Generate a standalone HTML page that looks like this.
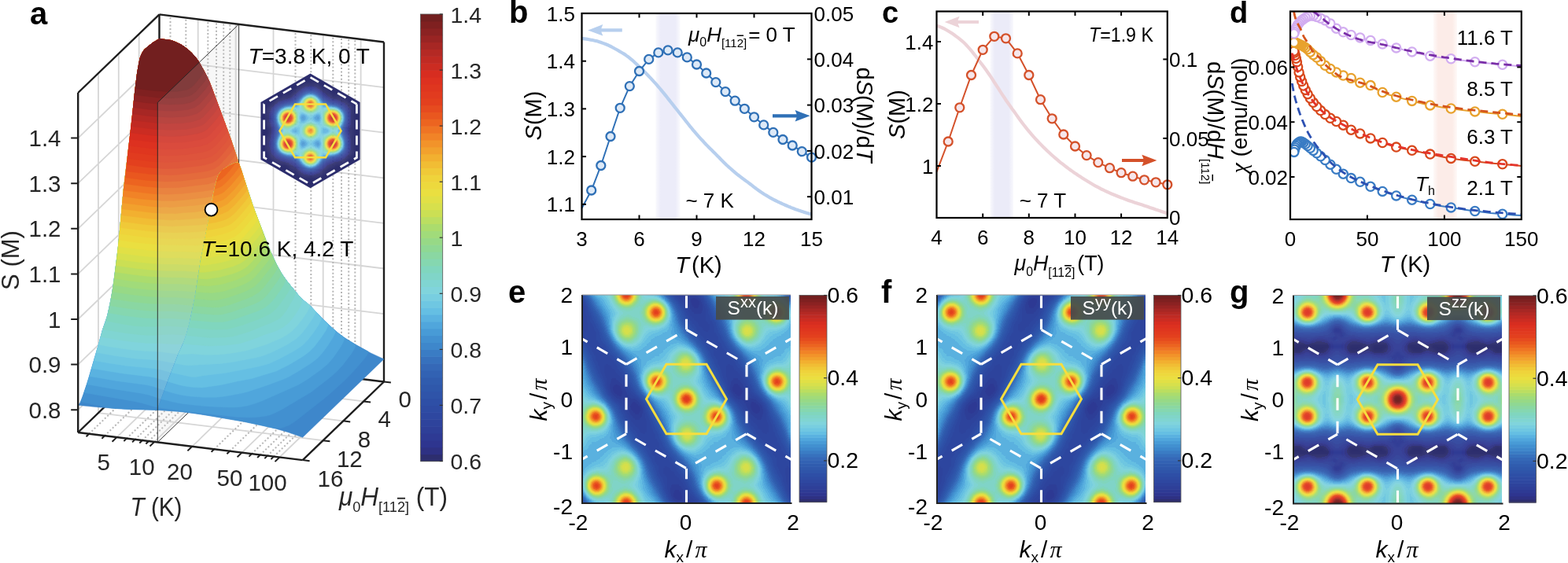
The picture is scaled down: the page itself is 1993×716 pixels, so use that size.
<!DOCTYPE html>
<html><head><meta charset="utf-8"><title>Figure</title>
<style>html,body{margin:0;padding:0;background:#fff;overflow:hidden;}svg{display:block;}</style></head>
<body><svg width="1993" height="716" viewBox="0 0 1993 716" font-family="'Liberation Sans', Arial, Helvetica, sans-serif" fill="#000">
<defs><linearGradient id="gb" x1="0" x2="1" y1="0" y2="0"><stop offset="0" stop-color="#ececf9" stop-opacity="0.3"/><stop offset="0.2" stop-color="#ececf9"/><stop offset="0.8" stop-color="#ececf9"/><stop offset="1" stop-color="#ececf9" stop-opacity="0.3"/></linearGradient><linearGradient id="gc" x1="0" x2="1" y1="0" y2="0"><stop offset="0" stop-color="#ebebf8" stop-opacity="0.3"/><stop offset="0.2" stop-color="#ebebf8"/><stop offset="0.8" stop-color="#ebebf8"/><stop offset="1" stop-color="#ebebf8" stop-opacity="0.3"/></linearGradient><linearGradient id="gd" x1="0" x2="1" y1="0" y2="0"><stop offset="0" stop-color="#fcece8" stop-opacity="0.3"/><stop offset="0.2" stop-color="#fcece8"/><stop offset="0.8" stop-color="#fcece8"/><stop offset="1" stop-color="#fcece8" stop-opacity="0.3"/></linearGradient><clipPath id="clipd"><rect x="1640.0" y="14.5" width="293.79999999999995" height="264.5"/></clipPath><filter id="cmf" color-interpolation-filters="sRGB"><feGaussianBlur stdDeviation="2.6"/><feComponentTransfer><feFuncR type="discrete" tableValues="0.176 0.180 0.180 0.180 0.180 0.180 0.180 0.180 0.180 0.184 0.184 0.188 0.196 0.208 0.216 0.227 0.243 0.259 0.282 0.314 0.353 0.396 0.435 0.471 0.502 0.502 0.502 0.502 0.522 0.541 0.561 0.592 0.631 0.671 0.733 0.796 0.843 0.882 0.918 0.929 0.937 0.941 0.945 0.949 0.949 0.949 0.945 0.937 0.925 0.914 0.902 0.890 0.882 0.875 0.867 0.843 0.796 0.753 0.706 0.655 0.600 0.545 0.498 0.447"/><feFuncG type="discrete" tableValues="0.180 0.192 0.208 0.227 0.247 0.263 0.278 0.294 0.310 0.329 0.345 0.361 0.384 0.408 0.443 0.486 0.529 0.565 0.608 0.651 0.698 0.749 0.780 0.808 0.831 0.835 0.835 0.839 0.843 0.843 0.847 0.851 0.859 0.863 0.871 0.875 0.878 0.878 0.875 0.851 0.827 0.788 0.741 0.690 0.631 0.576 0.514 0.455 0.392 0.341 0.294 0.251 0.231 0.212 0.192 0.176 0.173 0.165 0.161 0.153 0.141 0.133 0.125 0.122"/><feFuncB type="discrete" tableValues="0.431 0.514 0.561 0.580 0.596 0.612 0.627 0.639 0.651 0.663 0.671 0.682 0.702 0.718 0.741 0.769 0.796 0.816 0.839 0.863 0.878 0.890 0.886 0.878 0.863 0.824 0.784 0.745 0.690 0.635 0.576 0.525 0.478 0.427 0.380 0.329 0.298 0.275 0.251 0.239 0.231 0.220 0.204 0.188 0.176 0.165 0.153 0.141 0.125 0.122 0.122 0.118 0.122 0.122 0.125 0.125 0.133 0.137 0.141 0.141 0.137 0.133 0.125 0.122"/></feComponentTransfer></filter><clipPath id="clipe"><rect x="740" y="375" width="265" height="265"/></clipPath><clipPath id="clipf"><rect x="1191" y="375" width="265" height="265"/></clipPath><clipPath id="clipg"><rect x="1644" y="375.5" width="265" height="265"/></clipPath><clipPath id="cliph"><path d="M457.6,130L394.5,93.5L331.4,130L331.4,202.9L394.5,239.3L457.6,202.9Z"/></clipPath></defs>
<rect width="1993" height="716" fill="#fff"/>
<rect x="833.5" y="17" width="31" height="262" fill="url(#gb)"/>
<path d="M739.5,49 741.3,49.2 743.2,49.4 745,49.6 746.8,49.9 748.7,50.2 750.5,50.6 752.4,50.9 754.2,51.3 756,51.7 757.9,52.1 759.7,52.6 761.5,53.2 763.4,53.8 765.2,54.4 767,55.1 768.9,55.8 770.7,56.5 772.6,57.3 774.4,58.1 776.2,59 778.1,60 779.9,61 781.7,62 783.6,63 785.4,64 787.2,65.1 789.1,66.2 790.9,67.3 792.8,68.4 794.6,69.6 796.4,70.9 798.3,72.2 800.1,73.6 801.9,75.1 803.8,76.7 805.6,78.3 807.4,80 809.3,81.7 811.1,83.5 813,85.2 814.8,86.9 816.6,88.7 818.5,90.6 820.3,92.4 822.1,94.3 824,96.2 825.8,98.1 827.7,100.1 829.5,102.1 831.3,104.1 833.2,106.1 835,108.2 836.8,110.3 838.7,112.5 840.5,114.6 842.3,116.9 844.2,119.1 846,121.4 847.9,123.8 849.7,126.1 851.5,128.4 853.4,130.7 855.2,133.1 857,135.4 858.9,137.7 860.7,140 862.5,142.3 864.4,144.6 866.2,146.9 868.1,149.2 869.9,151.6 871.7,153.9 873.6,156.2 875.4,158.5 877.2,160.8 879.1,163 880.9,165.3 882.7,167.4 884.6,169.6 886.4,171.7 888.3,173.8 890.1,175.8 891.9,177.8 893.8,179.8 895.6,181.8 897.4,183.7 899.3,185.6 901.1,187.5 902.9,189.3 904.8,191.1 906.6,192.9 908.5,194.8 910.3,196.6 912.1,198.5 914,200.3 915.8,202.2 917.6,204.1 919.5,205.9 921.3,207.7 923.1,209.5 925,211.2 926.8,212.9 928.7,214.5 930.5,216.1 932.3,217.7 934.2,219.3 936,220.8 937.8,222.3 939.7,223.7 941.5,225.1 943.3,226.5 945.2,227.9 947,229.2 948.9,230.6 950.7,231.9 952.5,233.3 954.4,234.7 956.2,236.1 958,237.6 959.9,239 961.7,240.4 963.6,241.7 965.4,243 967.2,244.3 969.1,245.5 970.9,246.7 972.7,247.8 974.6,248.9 976.4,250 978.2,251.1 980.1,252.1 981.9,253.1 983.8,254.1 985.6,255 987.4,255.9 989.3,256.8 991.1,257.7 992.9,258.5 994.8,259.4 996.6,260.2 998.4,261 1000.3,261.8 1002.1,262.6 1004,263.3 1005.8,264.1 1007.6,264.8 1009.5,265.5 1011.3,266.2 1013.1,266.8 1015,267.5 1016.8,268.1 1018.6,268.7 1020.5,269.3 1022.3,269.9 1024.2,270.4 1026,271 1027.8,271.5 1029.7,272 1031.5,272.5" fill="none" stroke="#b7cfee" stroke-width="4.2"/>
<path d="M739.5,264.8 751.7,242 763.8,210.5 776,173.5 788.2,137.3 800.3,109.6 812.5,90.5 824.7,75.4 836.8,66.9 849,63.9 861.2,66.9 873.3,72.9 885.5,82 897.7,93 909.8,104.6 922,116.6 934.2,128.2 946.3,138.3 958.5,148.8 970.7,158.9 982.8,168.4 995,177.5 1007.2,185 1019.3,192.6 1031.5,200.1" fill="none" stroke="#2f70b6" stroke-width="2.0"/>
<circle cx="751.7" cy="242" r="5.5" fill="#dde9f7" stroke="#2f70b6" stroke-width="2.3"/>
<circle cx="763.8" cy="210.5" r="5.5" fill="#dde9f7" stroke="#2f70b6" stroke-width="2.3"/>
<circle cx="776" cy="173.5" r="5.5" fill="#dde9f7" stroke="#2f70b6" stroke-width="2.3"/>
<circle cx="788.2" cy="137.3" r="5.5" fill="#dde9f7" stroke="#2f70b6" stroke-width="2.3"/>
<circle cx="800.3" cy="109.6" r="5.5" fill="#dde9f7" stroke="#2f70b6" stroke-width="2.3"/>
<circle cx="812.5" cy="90.5" r="5.5" fill="#dde9f7" stroke="#2f70b6" stroke-width="2.3"/>
<circle cx="824.7" cy="75.4" r="5.5" fill="#dde9f7" stroke="#2f70b6" stroke-width="2.3"/>
<circle cx="836.8" cy="66.9" r="5.5" fill="#dde9f7" stroke="#2f70b6" stroke-width="2.3"/>
<circle cx="849" cy="63.9" r="5.5" fill="#dde9f7" stroke="#2f70b6" stroke-width="2.3"/>
<circle cx="861.2" cy="66.9" r="5.5" fill="#dde9f7" stroke="#2f70b6" stroke-width="2.3"/>
<circle cx="873.3" cy="72.9" r="5.5" fill="#dde9f7" stroke="#2f70b6" stroke-width="2.3"/>
<circle cx="885.5" cy="82" r="5.5" fill="#dde9f7" stroke="#2f70b6" stroke-width="2.3"/>
<circle cx="897.7" cy="93" r="5.5" fill="#dde9f7" stroke="#2f70b6" stroke-width="2.3"/>
<circle cx="909.8" cy="104.6" r="5.5" fill="#dde9f7" stroke="#2f70b6" stroke-width="2.3"/>
<circle cx="922" cy="116.6" r="5.5" fill="#dde9f7" stroke="#2f70b6" stroke-width="2.3"/>
<circle cx="934.2" cy="128.2" r="5.5" fill="#dde9f7" stroke="#2f70b6" stroke-width="2.3"/>
<circle cx="946.3" cy="138.3" r="5.5" fill="#dde9f7" stroke="#2f70b6" stroke-width="2.3"/>
<circle cx="958.5" cy="148.8" r="5.5" fill="#dde9f7" stroke="#2f70b6" stroke-width="2.3"/>
<circle cx="970.7" cy="158.9" r="5.5" fill="#dde9f7" stroke="#2f70b6" stroke-width="2.3"/>
<circle cx="982.8" cy="168.4" r="5.5" fill="#dde9f7" stroke="#2f70b6" stroke-width="2.3"/>
<circle cx="995" cy="177.5" r="5.5" fill="#dde9f7" stroke="#2f70b6" stroke-width="2.3"/>
<circle cx="1007.2" cy="185" r="5.5" fill="#dde9f7" stroke="#2f70b6" stroke-width="2.3"/>
<circle cx="1019.3" cy="192.6" r="5.5" fill="#dde9f7" stroke="#2f70b6" stroke-width="2.3"/>
<circle cx="1031.5" cy="200.1" r="5.5" fill="#dde9f7" stroke="#2f70b6" stroke-width="2.3"/>
<rect x="739.5" y="17" width="292" height="262" fill="none" stroke="#000" stroke-width="2.2"/>
<path d="M812.5,279v-5.5M812.5,17v5.5" stroke="#000" stroke-width="1.9800000000000002"/>
<path d="M885.5,279v-5.5M885.5,17v5.5" stroke="#000" stroke-width="1.9800000000000002"/>
<path d="M958.5,279v-5.5M958.5,17v5.5" stroke="#000" stroke-width="1.9800000000000002"/>
<path d="M739.5,259.8h5.5" stroke="#000" stroke-width="1.9800000000000002"/>
<path d="M739.5,199.1h5.5" stroke="#000" stroke-width="1.9800000000000002"/>
<path d="M739.5,138.4h5.5" stroke="#000" stroke-width="1.9800000000000002"/>
<path d="M739.5,77.7h5.5" stroke="#000" stroke-width="1.9800000000000002"/>
<path d="M1031.5,250.2h-5.5" stroke="#000" stroke-width="1.9800000000000002"/>
<path d="M1031.5,191.9h-5.5" stroke="#000" stroke-width="1.9800000000000002"/>
<path d="M1031.5,133.6h-5.5" stroke="#000" stroke-width="1.9800000000000002"/>
<path d="M1031.5,75.3h-5.5" stroke="#000" stroke-width="1.9800000000000002"/>
<text x="739.5" y="312.5" font-size="26" text-anchor="middle">3</text>
<text x="812.5" y="312.5" font-size="26" text-anchor="middle">6</text>
<text x="885.5" y="312.5" font-size="26" text-anchor="middle">9</text>
<text x="958.5" y="312.5" font-size="26" text-anchor="middle">12</text>
<text x="1031.5" y="312.5" font-size="26" text-anchor="middle">15</text>
<text x="731" y="269.4" font-size="26" text-anchor="end">1.1</text>
<text x="731" y="208.7" font-size="26" text-anchor="end">1.2</text>
<text x="731" y="148" font-size="26" text-anchor="end">1.3</text>
<text x="731" y="87.3" font-size="26" text-anchor="end">1.4</text>
<text x="731" y="26.6" font-size="26" text-anchor="end">1.5</text>
<text x="1034.5" y="259.8" font-size="26">0.01</text>
<text x="1034.5" y="201.5" font-size="26">0.02</text>
<text x="1034.5" y="143.2" font-size="26">0.03</text>
<text x="1034.5" y="84.9" font-size="26">0.04</text>
<text x="1034.5" y="26.6" font-size="26">0.05</text>
<path d="M790.8,36.3L764.3,36.3L766.3,31.1L747.3,38.4L766.3,45.6L764.3,40.5L790.8,40.5Z" fill="#b7cfee"/>
<path d="M982,145.2L1012.6,145.2L1010.6,140.1L1029.6,147.3L1010.6,154.6L1012.6,149.4L982,149.4Z" fill="#2f70b6"/>
<text x="888" y="347.4" font-size="29" text-anchor="middle"><tspan font-style="italic">T</tspan><tspan dx="3">(K)</tspan></text>
<text transform="translate(687.5,147) rotate(-90)" font-size="29" text-anchor="middle"><tspan font-style="italic">S</tspan>(M)</text>
<text transform="translate(1089,146) rotate(90)" font-size="29" text-anchor="middle">d<tspan font-style="italic">S</tspan>(M)/d<tspan font-style="italic">T</tspan></text>
<text x="875" y="52.5" font-size="26"><tspan font-style="italic">μ</tspan><tspan font-size="16" dy="6">0</tspan><tspan font-style="italic" dy="-6">H</tspan><tspan font-size="15" dy="7">[11<tspan text-decoration="overline">2</tspan>]</tspan><tspan dy="-7" dx="2">= 0 T</tspan></text>
<text x="871.4" y="264" font-size="26">~ 7 K</text>
<text x="647" y="29" font-size="40" font-weight="bold">b</text>
<rect x="1258.5" y="14.5" width="29.5" height="262.5" fill="url(#gc)"/>
<path d="M1190.5,32.7 1193,33.5 1195.4,34.4 1197.9,35.5 1200.4,36.7 1202.8,38 1205.3,39.5 1207.8,41 1210.2,42.6 1212.7,44.3 1215.1,46.1 1217.6,47.9 1220.1,49.8 1222.5,51.8 1225,54 1227.5,56.5 1229.9,59.1 1232.4,61.9 1234.9,64.8 1237.3,67.9 1239.8,71 1242.3,74.2 1244.7,77.5 1247.2,80.7 1249.7,84 1252.1,87.3 1254.6,90.7 1257,94.2 1259.5,97.9 1262,101.6 1264.4,105.5 1266.9,109.3 1269.4,113.2 1271.8,117 1274.3,120.8 1276.8,124.5 1279.2,128.2 1281.7,131.7 1284.2,135.2 1286.6,138.7 1289.1,142.1 1291.6,145.6 1294,149 1296.5,152.4 1298.9,155.7 1301.4,159 1303.9,162.1 1306.3,165.2 1308.8,168.2 1311.3,171.1 1313.7,173.9 1316.2,176.6 1318.7,179.2 1321.1,181.8 1323.6,184.4 1326.1,186.9 1328.5,189.3 1331,191.7 1333.5,194 1335.9,196.3 1338.4,198.5 1340.8,200.6 1343.3,202.7 1345.8,204.8 1348.2,206.8 1350.7,208.7 1353.2,210.7 1355.6,212.5 1358.1,214.4 1360.6,216.2 1363,217.9 1365.5,219.7 1368,221.3 1370.4,223 1372.9,224.6 1375.4,226.2 1377.8,227.8 1380.3,229.3 1382.7,230.8 1385.2,232.3 1387.7,233.8 1390.1,235.2 1392.6,236.6 1395.1,237.9 1397.5,239.2 1400,240.5 1402.5,241.7 1404.9,242.8 1407.4,244 1409.9,245.1 1412.3,246.2 1414.8,247.2 1417.3,248.2 1419.7,249.2 1422.2,250.2 1424.6,251.2 1427.1,252.1 1429.6,253.1 1432,254 1434.5,254.9 1437,255.8 1439.4,256.6 1441.9,257.4 1444.4,258.2 1446.8,259 1449.3,259.8 1451.8,260.6 1454.2,261.4 1456.7,262.2 1459.2,263 1461.6,263.9 1464.1,264.7 1466.5,265.5 1469,266.4 1471.5,267.2 1473.9,268.1 1476.4,268.9 1478.9,269.8 1481.3,270.6 1483.8,271.5" fill="none" stroke="#ecd3d8" stroke-width="4.2"/>
<path d="M1190.5,218.7 1205.2,180 1219.8,136.8 1234.5,95.5 1249.2,63.3 1263.8,46.3 1278.5,48.8 1293.2,67.9 1307.8,95.5 1322.5,126.7 1337.2,150.8 1351.8,171 1366.5,186 1381.1,197.6 1395.8,206.6 1410.5,213.7 1425.1,219.7 1439.8,224.2 1454.5,228.8 1469.1,231.8 1483.8,234.8" fill="none" stroke="#d4512a" stroke-width="2.0"/>
<circle cx="1205.2" cy="180" r="5.5" fill="#f6e6ea" stroke="#d4512a" stroke-width="2.3"/>
<circle cx="1219.8" cy="136.8" r="5.5" fill="#f6e6ea" stroke="#d4512a" stroke-width="2.3"/>
<circle cx="1234.5" cy="95.5" r="5.5" fill="#f6e6ea" stroke="#d4512a" stroke-width="2.3"/>
<circle cx="1249.2" cy="63.3" r="5.5" fill="#f6e6ea" stroke="#d4512a" stroke-width="2.3"/>
<circle cx="1263.8" cy="46.3" r="5.5" fill="#f6e6ea" stroke="#d4512a" stroke-width="2.3"/>
<circle cx="1278.5" cy="48.8" r="5.5" fill="#f6e6ea" stroke="#d4512a" stroke-width="2.3"/>
<circle cx="1293.2" cy="67.9" r="5.5" fill="#f6e6ea" stroke="#d4512a" stroke-width="2.3"/>
<circle cx="1307.8" cy="95.5" r="5.5" fill="#f6e6ea" stroke="#d4512a" stroke-width="2.3"/>
<circle cx="1322.5" cy="126.7" r="5.5" fill="#f6e6ea" stroke="#d4512a" stroke-width="2.3"/>
<circle cx="1337.2" cy="150.8" r="5.5" fill="#f6e6ea" stroke="#d4512a" stroke-width="2.3"/>
<circle cx="1351.8" cy="171" r="5.5" fill="#f6e6ea" stroke="#d4512a" stroke-width="2.3"/>
<circle cx="1366.5" cy="186" r="5.5" fill="#f6e6ea" stroke="#d4512a" stroke-width="2.3"/>
<circle cx="1381.1" cy="197.6" r="5.5" fill="#f6e6ea" stroke="#d4512a" stroke-width="2.3"/>
<circle cx="1395.8" cy="206.6" r="5.5" fill="#f6e6ea" stroke="#d4512a" stroke-width="2.3"/>
<circle cx="1410.5" cy="213.7" r="5.5" fill="#f6e6ea" stroke="#d4512a" stroke-width="2.3"/>
<circle cx="1425.1" cy="219.7" r="5.5" fill="#f6e6ea" stroke="#d4512a" stroke-width="2.3"/>
<circle cx="1439.8" cy="224.2" r="5.5" fill="#f6e6ea" stroke="#d4512a" stroke-width="2.3"/>
<circle cx="1454.5" cy="228.8" r="5.5" fill="#f6e6ea" stroke="#d4512a" stroke-width="2.3"/>
<circle cx="1469.1" cy="231.8" r="5.5" fill="#f6e6ea" stroke="#d4512a" stroke-width="2.3"/>
<circle cx="1483.8" cy="234.8" r="5.5" fill="#f6e6ea" stroke="#d4512a" stroke-width="2.3"/>
<rect x="1190.5" y="14.5" width="293.3" height="262.5" fill="none" stroke="#000" stroke-width="2.2"/>
<path d="M1249.2,277v-5.5M1249.2,14.5v5.5" stroke="#000" stroke-width="1.9800000000000002"/>
<path d="M1307.8,277v-5.5M1307.8,14.5v5.5" stroke="#000" stroke-width="1.9800000000000002"/>
<path d="M1366.5,277v-5.5M1366.5,14.5v5.5" stroke="#000" stroke-width="1.9800000000000002"/>
<path d="M1425.1,277v-5.5M1425.1,14.5v5.5" stroke="#000" stroke-width="1.9800000000000002"/>
<path d="M1190.5,211h5.5" stroke="#000" stroke-width="1.9800000000000002"/>
<path d="M1190.5,132h5.5" stroke="#000" stroke-width="1.9800000000000002"/>
<path d="M1190.5,53h5.5" stroke="#000" stroke-width="1.9800000000000002"/>
<path d="M1483.8,175.9h-5.5" stroke="#000" stroke-width="1.9800000000000002"/>
<path d="M1483.8,75.4h-5.5" stroke="#000" stroke-width="1.9800000000000002"/>
<text x="1190.5" y="311" font-size="26" text-anchor="middle">4</text>
<text x="1249.2" y="311" font-size="26" text-anchor="middle">6</text>
<text x="1307.8" y="311" font-size="26" text-anchor="middle">8</text>
<text x="1366.5" y="311" font-size="26" text-anchor="middle">10</text>
<text x="1425.1" y="311" font-size="26" text-anchor="middle">12</text>
<text x="1483.8" y="311" font-size="26" text-anchor="middle">14</text>
<text x="1186.5" y="220.6" font-size="26" text-anchor="end">1</text>
<text x="1186.5" y="141.6" font-size="26" text-anchor="end">1.2</text>
<text x="1186.5" y="62.6" font-size="26" text-anchor="end">1.4</text>
<text x="1486" y="286" font-size="26">0</text>
<text x="1486" y="185.5" font-size="26">0.05</text>
<text x="1486" y="85" font-size="26">0.1</text>
<path d="M1244,25.9L1217.6,25.9L1219.6,20.8L1200.6,28L1219.6,35.2L1217.6,30.1L1244,30.1Z" fill="#ecd3d8"/>
<path d="M1426,201.9L1453.4,201.9L1451.4,196.8L1470.4,204L1451.4,211.2L1453.4,206.1L1426,206.1Z" fill="#d4512a"/>
<text x="1289.5" y="344" font-size="27" textLength="114" lengthAdjust="spacingAndGlyphs"><tspan font-style="italic">μ</tspan><tspan font-size="16" dy="7">0</tspan><tspan font-style="italic" dy="-7">H</tspan><tspan font-size="16" dy="8">[11<tspan text-decoration="overline">2</tspan>]</tspan><tspan dy="-8" dx="3">(T)</tspan></text>
<text transform="translate(1150,145.5) rotate(-90)" font-size="29" text-anchor="middle"><tspan font-style="italic">S</tspan>(M)</text>
<text transform="translate(1535,78) rotate(90)" font-size="29">d<tspan font-style="italic">S</tspan>(M)/d<tspan font-style="italic">H</tspan><tspan font-size="15" dy="8">[11<tspan text-decoration="overline">2</tspan>]</tspan></text>
<text x="1384" y="52.6" font-size="26" textLength="82" lengthAdjust="spacingAndGlyphs"><tspan font-style="italic">T</tspan>=1.9 K</text>
<text x="1295.7" y="264" font-size="26">~ 7 T</text>
<text x="1121" y="29" font-size="38" font-weight="bold">c</text>
<rect x="1822" y="14.5" width="30" height="264.5" fill="url(#gd)"/>
<g clip-path="url(#clipd)">
<path d="M1644.2,196.7 1644.3,195.8 1644.5,194.9 1644.7,194.1 1644.8,193.3 1645,192.5 1645.2,191.7 1645.4,190.9 1645.6,190.2 1645.8,189.5 1646,188.8 1646.2,188.1 1646.4,187.4 1646.7,186.8 1646.9,186.2 1647.1,185.7 1647.4,185.1 1647.7,184.6 1648,184.1 1648.2,183.7 1648.5,183.3 1648.9,183 1649.2,182.6 1649.5,182.2 1649.9,181.9 1650.2,181.6 1650.6,181.2 1651,180.9 1651.4,180.7 1651.8,180.4 1652.2,180.2 1652.7,180.1 1653.1,180 1653.6,180 1654.1,180.1 1654.6,180.2 1655.1,180.5 1655.7,180.8 1656.3,181.2 1656.8,181.6 1657.5,182 1658.1,182.5 1658.8,182.9 1659.4,183.4 1660.1,183.9 1660.9,184.4 1661.6,185.1 1662.4,185.7 1663.2,186.4 1664.1,187.2 1665,187.9 1665.9,188.7 1666.8,189.4 1667.8,190.2 1668.8,191 1669.8,191.9 1670.9,192.7 1672.1,193.6 1673.2,194.5 1674.4,195.5 1675.7,196.5 1677,197.5 1678.3,198.6 1679.7,199.8 1681.2,201 1682.7,202.2 1684.2,203.5 1685.8,204.8 1687.5,206.2 1689.2,207.7 1691,209.3 1692.9,210.9 1694.8,212.5 1696.8,214 1698.8,215.5 1701,217 1703.2,218.5 1705.5,220.1 1707.9,221.5 1710.4,223 1712.9,224.4 1715.6,225.8 1718.3,227.1 1721.2,228.3 1724.1,229.4 1727.2,230.6 1730.3,232 1733.6,233.5 1737,235 1740.6,236.6 1744.2,238.2 1748,239.8 1752,241.4 1756,242.9 1760.2,244.4 1764.6,245.9 1769.2,247.3 1773.9,248.7 1778.7,250.1 1783.8,251.4 1789,252.7 1794.4,254.1 1800,255.5 1805.9,256.9 1811.9,258.3 1818.2,259.6 1824.6,260.8 1831.3,261.9 1838.3,263 1845.5,264.1 1853,265.3 1860.7,266.5 1868.8,267.7 1877.1,268.8 1885.7,269.8 1894.7,270.9 1903.9,271.8 1913.5,272.6 1923.5,273.4 1933.8,274" fill="none" stroke="#3a7cc4" stroke-width="2.0"/>
<path d="M1644.2,64.3 1644.3,64.4 1644.5,64.5 1644.7,64.7 1644.8,65.1 1645,65.5 1645.2,66 1645.4,66.6 1645.6,67.3 1645.8,68 1646,68.8 1646.2,69.7 1646.4,70.6 1646.7,71.6 1646.9,72.6 1647.1,73.7 1647.4,74.8 1647.7,75.9 1648,77.1 1648.2,78.3 1648.5,79.6 1648.9,81.1 1649.2,82.7 1649.5,84.4 1649.9,86.2 1650.2,88 1650.6,89.8 1651,91.5 1651.4,93.2 1651.8,94.7 1652.2,96.3 1652.7,97.7 1653.1,99.2 1653.6,100.7 1654.1,102.1 1654.6,103.5 1655.1,104.9 1655.7,106.4 1656.3,107.8 1656.8,109.2 1657.5,110.6 1658.1,112 1658.8,113.4 1659.4,114.7 1660.1,116.1 1660.9,117.5 1661.6,118.8 1662.4,120.2 1663.2,121.6 1664.1,122.9 1665,124.3 1665.9,125.6 1666.8,127 1667.8,128.3 1668.8,129.7 1669.8,131 1670.9,132.4 1672.1,133.7 1673.2,135.1 1674.4,136.4 1675.7,137.7 1677,139 1678.3,140.3 1679.7,141.6 1681.2,142.9 1682.7,144.2 1684.2,145.5 1685.8,146.7 1687.5,148 1689.2,149.2 1691,150.3 1692.9,151.4 1694.8,152.5 1696.8,153.6 1698.8,154.6 1701,155.8 1703.2,156.9 1705.5,158.2 1707.9,159.5 1710.4,161.1 1712.9,162.8 1715.6,164.4 1718.3,165.7 1721.2,166.9 1724.1,168 1727.2,169.2 1730.3,170.6 1733.6,172.1 1737,173.7 1740.6,175.3 1744.2,176.8 1748,178.2 1752,179.6 1756,181.1 1760.2,182.5 1764.6,184.1 1769.2,185.6 1773.9,186.9 1778.7,188.1 1783.8,189.1 1789,190.1 1794.4,191.2 1800,192.4 1805.9,193.6 1811.9,194.9 1818.2,196.2 1824.6,197.6 1831.3,199 1838.3,200.4 1845.5,201.6 1853,202.7 1860.7,203.7 1868.8,204.6 1877.1,205.5 1885.7,206.5 1894.7,207.4 1903.9,208.3 1913.5,209.2 1923.5,210.1 1933.8,211" fill="none" stroke="#d8481c" stroke-width="2.0"/>
<path d="M1644.2,54.1 1644.3,54.1 1644.5,54.1 1644.7,54 1644.8,54 1645,54 1645.2,54 1645.4,54 1645.6,54.1 1645.8,54.1 1646,54.1 1646.2,54.2 1646.4,54.3 1646.7,54.3 1646.9,54.4 1647.1,54.5 1647.4,54.6 1647.7,54.7 1648,54.8 1648.2,55 1648.5,55.1 1648.9,55.2 1649.2,55.4 1649.5,55.5 1649.9,55.7 1650.2,55.8 1650.6,56 1651,56.2 1651.4,56.4 1651.8,56.5 1652.2,56.7 1652.7,56.9 1653.1,57.1 1653.6,57.3 1654.1,57.5 1654.6,57.7 1655.1,58 1655.7,58.2 1656.3,58.6 1656.8,58.9 1657.5,59.3 1658.1,59.7 1658.8,60.2 1659.4,60.6 1660.1,61.1 1660.9,61.6 1661.6,62.2 1662.4,63 1663.2,63.8 1664.1,64.7 1665,65.7 1665.9,66.6 1666.8,67.6 1667.8,68.5 1668.8,69.4 1669.8,70.2 1670.9,71 1672.1,71.8 1673.2,72.7 1674.4,73.7 1675.7,74.8 1677,76.1 1678.3,77.5 1679.7,79 1681.2,80.5 1682.7,81.9 1684.2,83.2 1685.8,84.3 1687.5,85.4 1689.2,86.5 1691,87.5 1692.9,88.7 1694.8,89.8 1696.8,90.9 1698.8,92 1701,93.1 1703.2,94.2 1705.5,95.3 1707.9,96.3 1710.4,97.1 1712.9,97.9 1715.6,98.9 1718.3,100 1721.2,101.6 1724.1,103.3 1727.2,104.7 1730.3,105.6 1733.6,106.2 1737,106.8 1740.6,107.9 1744.2,109.8 1748,112.3 1752,114.8 1756,117 1760.2,118.7 1764.6,120.2 1769.2,121.6 1773.9,123 1778.7,124.3 1783.8,125.6 1789,126.9 1794.4,128.3 1800,129.7 1805.9,131.2 1811.9,132.7 1818.2,134 1824.6,135.1 1831.3,136.2 1838.3,137.2 1845.5,138.2 1853,139.2 1860.7,140.2 1868.8,141.2 1877.1,142.1 1885.7,143 1894.7,143.9 1903.9,144.7 1913.5,145.7 1923.5,146.8 1933.8,148" fill="none" stroke="#e8a22e" stroke-width="2.0"/>
<path d="M1644.2,45.3 1644.3,44.7 1644.5,44 1644.7,43.4 1644.8,42.7 1645,42.1 1645.2,41.5 1645.4,40.8 1645.6,40.2 1645.8,39.6 1646,39 1646.2,38.4 1646.4,37.8 1646.7,37.2 1646.9,36.7 1647.1,36.1 1647.4,35.5 1647.7,34.9 1648,34.4 1648.2,33.8 1648.5,33.3 1648.9,32.8 1649.2,32.2 1649.5,31.7 1649.9,31.2 1650.2,30.7 1650.6,30.2 1651,29.7 1651.4,29.2 1651.8,28.7 1652.2,28.2 1652.7,27.7 1653.1,27.2 1653.6,26.7 1654.1,26.3 1654.6,25.8 1655.1,25.4 1655.7,24.9 1656.3,24.5 1656.8,24.1 1657.5,23.7 1658.1,23.3 1658.8,22.9 1659.4,22.4 1660.1,22 1660.9,21.5 1661.6,21.1 1662.4,20.7 1663.2,20.4 1664.1,20.2 1665,20 1665.9,19.8 1666.8,19.8 1667.8,19.9 1668.8,20.1 1669.8,20.3 1670.9,20.7 1672.1,21.1 1673.2,21.5 1674.4,21.9 1675.7,22.4 1677,22.8 1678.3,23.2 1679.7,23.8 1681.2,24.4 1682.7,25 1684.2,25.8 1685.8,26.7 1687.5,27.7 1689.2,28.7 1691,29.9 1692.9,31.5 1694.8,33.2 1696.8,34.9 1698.8,36.4 1701,37.7 1703.2,38.9 1705.5,40 1707.9,41.1 1710.4,42.1 1712.9,43 1715.6,43.9 1718.3,44.8 1721.2,45.7 1724.1,46.6 1727.2,47.4 1730.3,48.3 1733.6,49.2 1737,50 1740.6,51 1744.2,52 1748,53.2 1752,54.4 1756,55.7 1760.2,56.9 1764.6,58.1 1769.2,59.4 1773.9,60.6 1778.7,61.9 1783.8,63.2 1789,64.5 1794.4,65.8 1800,67.2 1805.9,68.6 1811.9,70.1 1818.2,71.3 1824.6,72.3 1831.3,73.2 1838.3,74.1 1845.5,75 1853,76 1860.7,77 1868.8,78 1877.1,78.9 1885.7,79.9 1894.7,80.8 1903.9,81.8 1913.5,82.7 1923.5,83.6 1933.8,84.5" fill="none" stroke="#d2adf0" stroke-width="2.0"/>
<circle cx="1909.7" cy="272.3" r="5.6" fill="#fff" stroke="#3a7cc4" stroke-width="2.3"/>
<circle cx="1874.7" cy="268.5" r="5.6" fill="#fff" stroke="#3a7cc4" stroke-width="2.3"/>
<circle cx="1844.3" cy="263.9" r="5.6" fill="#fff" stroke="#3a7cc4" stroke-width="2.3"/>
<circle cx="1817.8" cy="259.5" r="5.6" fill="#fff" stroke="#3a7cc4" stroke-width="2.3"/>
<circle cx="1794.7" cy="254.2" r="5.6" fill="#fff" stroke="#3a7cc4" stroke-width="2.3"/>
<circle cx="1774.7" cy="248.9" r="5.6" fill="#fff" stroke="#3a7cc4" stroke-width="2.3"/>
<circle cx="1757.2" cy="243.4" r="5.6" fill="#fff" stroke="#3a7cc4" stroke-width="2.3"/>
<circle cx="1742" cy="237.3" r="5.6" fill="#fff" stroke="#3a7cc4" stroke-width="2.3"/>
<circle cx="1728.8" cy="231.3" r="5.6" fill="#fff" stroke="#3a7cc4" stroke-width="2.3"/>
<circle cx="1717.3" cy="226.6" r="5.6" fill="#fff" stroke="#3a7cc4" stroke-width="2.3"/>
<circle cx="1707.3" cy="221.2" r="5.6" fill="#fff" stroke="#3a7cc4" stroke-width="2.3"/>
<circle cx="1698.5" cy="215.3" r="5.6" fill="#fff" stroke="#3a7cc4" stroke-width="2.3"/>
<circle cx="1690.9" cy="209.2" r="5.6" fill="#fff" stroke="#3a7cc4" stroke-width="2.3"/>
<circle cx="1684.3" cy="203.6" r="5.6" fill="#fff" stroke="#3a7cc4" stroke-width="2.3"/>
<circle cx="1678.6" cy="198.8" r="5.6" fill="#fff" stroke="#3a7cc4" stroke-width="2.3"/>
<circle cx="1673.6" cy="194.8" r="5.6" fill="#fff" stroke="#3a7cc4" stroke-width="2.3"/>
<circle cx="1669.2" cy="191.4" r="5.6" fill="#fff" stroke="#3a7cc4" stroke-width="2.3"/>
<circle cx="1665.4" cy="188.3" r="5.6" fill="#fff" stroke="#3a7cc4" stroke-width="2.3"/>
<circle cx="1662.1" cy="185.5" r="5.6" fill="#fff" stroke="#3a7cc4" stroke-width="2.3"/>
<circle cx="1659.3" cy="183.3" r="5.6" fill="#fff" stroke="#3a7cc4" stroke-width="2.3"/>
<circle cx="1656.8" cy="181.5" r="5.6" fill="#fff" stroke="#3a7cc4" stroke-width="2.3"/>
<circle cx="1654.6" cy="180.2" r="5.6" fill="#fff" stroke="#3a7cc4" stroke-width="2.3"/>
<circle cx="1652.7" cy="180.1" r="5.6" fill="#fff" stroke="#3a7cc4" stroke-width="2.3"/>
<circle cx="1651.1" cy="180.9" r="5.6" fill="#fff" stroke="#3a7cc4" stroke-width="2.3"/>
<circle cx="1649.6" cy="182.1" r="5.6" fill="#fff" stroke="#3a7cc4" stroke-width="2.3"/>
<circle cx="1648.4" cy="183.5" r="5.6" fill="#fff" stroke="#3a7cc4" stroke-width="2.3"/>
<circle cx="1647.3" cy="185.4" r="5.6" fill="#fff" stroke="#3a7cc4" stroke-width="2.3"/>
<circle cx="1646.3" cy="187.7" r="5.6" fill="#fff" stroke="#3a7cc4" stroke-width="2.3"/>
<circle cx="1645.5" cy="190.3" r="5.6" fill="#fff" stroke="#3a7cc4" stroke-width="2.3"/>
<circle cx="1644.8" cy="193.4" r="5.6" fill="#fff" stroke="#3a7cc4" stroke-width="2.3"/>
<circle cx="1909.7" cy="208.8" r="5.6" fill="#fff" stroke="#d8481c" stroke-width="2.3"/>
<circle cx="1874.7" cy="205.3" r="5.6" fill="#fff" stroke="#d8481c" stroke-width="2.3"/>
<circle cx="1844.3" cy="201.4" r="5.6" fill="#fff" stroke="#d8481c" stroke-width="2.3"/>
<circle cx="1817.8" cy="196.1" r="5.6" fill="#fff" stroke="#d8481c" stroke-width="2.3"/>
<circle cx="1794.7" cy="191.3" r="5.6" fill="#fff" stroke="#d8481c" stroke-width="2.3"/>
<circle cx="1774.7" cy="187.1" r="5.6" fill="#fff" stroke="#d8481c" stroke-width="2.3"/>
<circle cx="1757.2" cy="181.5" r="5.6" fill="#fff" stroke="#d8481c" stroke-width="2.3"/>
<circle cx="1742" cy="175.9" r="5.6" fill="#fff" stroke="#d8481c" stroke-width="2.3"/>
<circle cx="1728.8" cy="169.9" r="5.6" fill="#fff" stroke="#d8481c" stroke-width="2.3"/>
<circle cx="1717.3" cy="165.2" r="5.6" fill="#fff" stroke="#d8481c" stroke-width="2.3"/>
<circle cx="1707.3" cy="159.2" r="5.6" fill="#fff" stroke="#d8481c" stroke-width="2.3"/>
<circle cx="1698.5" cy="154.5" r="5.6" fill="#fff" stroke="#d8481c" stroke-width="2.3"/>
<circle cx="1690.9" cy="150.3" r="5.6" fill="#fff" stroke="#d8481c" stroke-width="2.3"/>
<circle cx="1684.3" cy="145.6" r="5.6" fill="#fff" stroke="#d8481c" stroke-width="2.3"/>
<circle cx="1678.6" cy="140.6" r="5.6" fill="#fff" stroke="#d8481c" stroke-width="2.3"/>
<circle cx="1673.6" cy="135.5" r="5.6" fill="#fff" stroke="#d8481c" stroke-width="2.3"/>
<circle cx="1669.2" cy="130.3" r="5.6" fill="#fff" stroke="#d8481c" stroke-width="2.3"/>
<circle cx="1665.4" cy="125" r="5.6" fill="#fff" stroke="#d8481c" stroke-width="2.3"/>
<circle cx="1662.1" cy="119.7" r="5.6" fill="#fff" stroke="#d8481c" stroke-width="2.3"/>
<circle cx="1659.3" cy="114.4" r="5.6" fill="#fff" stroke="#d8481c" stroke-width="2.3"/>
<circle cx="1656.8" cy="109" r="5.6" fill="#fff" stroke="#d8481c" stroke-width="2.3"/>
<circle cx="1654.6" cy="103.5" r="5.6" fill="#fff" stroke="#d8481c" stroke-width="2.3"/>
<circle cx="1652.7" cy="97.9" r="5.6" fill="#fff" stroke="#d8481c" stroke-width="2.3"/>
<circle cx="1651.1" cy="91.9" r="5.6" fill="#fff" stroke="#d8481c" stroke-width="2.3"/>
<circle cx="1649.6" cy="85" r="5.6" fill="#fff" stroke="#d8481c" stroke-width="2.3"/>
<circle cx="1648.4" cy="78.8" r="5.6" fill="#fff" stroke="#d8481c" stroke-width="2.3"/>
<circle cx="1647.3" cy="74.3" r="5.6" fill="#fff" stroke="#d8481c" stroke-width="2.3"/>
<circle cx="1646.3" cy="70.3" r="5.6" fill="#fff" stroke="#d8481c" stroke-width="2.3"/>
<circle cx="1645.5" cy="67.1" r="5.6" fill="#fff" stroke="#d8481c" stroke-width="2.3"/>
<circle cx="1644.8" cy="65" r="5.6" fill="#fff" stroke="#d8481c" stroke-width="2.3"/>
<circle cx="1909.7" cy="145.3" r="5.6" fill="#fff" stroke="#e8a22e" stroke-width="2.3"/>
<circle cx="1874.7" cy="141.9" r="5.6" fill="#fff" stroke="#e8a22e" stroke-width="2.3"/>
<circle cx="1844.3" cy="138" r="5.6" fill="#fff" stroke="#e8a22e" stroke-width="2.3"/>
<circle cx="1817.8" cy="133.9" r="5.6" fill="#fff" stroke="#e8a22e" stroke-width="2.3"/>
<circle cx="1794.7" cy="128.4" r="5.6" fill="#fff" stroke="#e8a22e" stroke-width="2.3"/>
<circle cx="1774.7" cy="123.2" r="5.6" fill="#fff" stroke="#e8a22e" stroke-width="2.3"/>
<circle cx="1757.2" cy="117.5" r="5.6" fill="#fff" stroke="#e8a22e" stroke-width="2.3"/>
<circle cx="1742" cy="108.6" r="5.6" fill="#fff" stroke="#e8a22e" stroke-width="2.3"/>
<circle cx="1728.8" cy="105.2" r="5.6" fill="#fff" stroke="#e8a22e" stroke-width="2.3"/>
<circle cx="1717.3" cy="99.5" r="5.6" fill="#fff" stroke="#e8a22e" stroke-width="2.3"/>
<circle cx="1707.3" cy="96" r="5.6" fill="#fff" stroke="#e8a22e" stroke-width="2.3"/>
<circle cx="1698.5" cy="91.9" r="5.6" fill="#fff" stroke="#e8a22e" stroke-width="2.3"/>
<circle cx="1690.9" cy="87.5" r="5.6" fill="#fff" stroke="#e8a22e" stroke-width="2.3"/>
<circle cx="1684.3" cy="83.3" r="5.6" fill="#fff" stroke="#e8a22e" stroke-width="2.3"/>
<circle cx="1678.6" cy="77.8" r="5.6" fill="#fff" stroke="#e8a22e" stroke-width="2.3"/>
<circle cx="1673.6" cy="73" r="5.6" fill="#fff" stroke="#e8a22e" stroke-width="2.3"/>
<circle cx="1669.2" cy="69.7" r="5.6" fill="#fff" stroke="#e8a22e" stroke-width="2.3"/>
<circle cx="1665.4" cy="66.2" r="5.6" fill="#fff" stroke="#e8a22e" stroke-width="2.3"/>
<circle cx="1662.1" cy="62.7" r="5.6" fill="#fff" stroke="#e8a22e" stroke-width="2.3"/>
<circle cx="1659.3" cy="60.5" r="5.6" fill="#fff" stroke="#e8a22e" stroke-width="2.3"/>
<circle cx="1656.8" cy="58.9" r="5.6" fill="#fff" stroke="#e8a22e" stroke-width="2.3"/>
<circle cx="1654.6" cy="57.7" r="5.6" fill="#fff" stroke="#e8a22e" stroke-width="2.3"/>
<circle cx="1652.7" cy="56.9" r="5.6" fill="#fff" stroke="#e8a22e" stroke-width="2.3"/>
<circle cx="1651.1" cy="56.2" r="5.6" fill="#fff" stroke="#e8a22e" stroke-width="2.3"/>
<circle cx="1649.6" cy="55.6" r="5.6" fill="#fff" stroke="#e8a22e" stroke-width="2.3"/>
<circle cx="1648.4" cy="55" r="5.6" fill="#fff" stroke="#e8a22e" stroke-width="2.3"/>
<circle cx="1647.3" cy="54.6" r="5.6" fill="#fff" stroke="#e8a22e" stroke-width="2.3"/>
<circle cx="1646.3" cy="54.2" r="5.6" fill="#fff" stroke="#e8a22e" stroke-width="2.3"/>
<circle cx="1645.5" cy="54" r="5.6" fill="#fff" stroke="#e8a22e" stroke-width="2.3"/>
<circle cx="1644.8" cy="54" r="5.6" fill="#fff" stroke="#e8a22e" stroke-width="2.3"/>
<circle cx="1909.7" cy="82.3" r="5.6" fill="#fff" stroke="#d2adf0" stroke-width="2.3"/>
<circle cx="1874.7" cy="78.7" r="5.6" fill="#fff" stroke="#d2adf0" stroke-width="2.3"/>
<circle cx="1844.3" cy="74.8" r="5.6" fill="#fff" stroke="#d2adf0" stroke-width="2.3"/>
<circle cx="1817.8" cy="71.2" r="5.6" fill="#fff" stroke="#d2adf0" stroke-width="2.3"/>
<circle cx="1794.7" cy="65.9" r="5.6" fill="#fff" stroke="#d2adf0" stroke-width="2.3"/>
<circle cx="1774.7" cy="60.9" r="5.6" fill="#fff" stroke="#d2adf0" stroke-width="2.3"/>
<circle cx="1757.2" cy="56" r="5.6" fill="#fff" stroke="#d2adf0" stroke-width="2.3"/>
<circle cx="1742" cy="51.4" r="5.6" fill="#fff" stroke="#d2adf0" stroke-width="2.3"/>
<circle cx="1728.8" cy="47.9" r="5.6" fill="#fff" stroke="#d2adf0" stroke-width="2.3"/>
<circle cx="1717.3" cy="44.5" r="5.6" fill="#fff" stroke="#d2adf0" stroke-width="2.3"/>
<circle cx="1707.3" cy="40.8" r="5.6" fill="#fff" stroke="#d2adf0" stroke-width="2.3"/>
<circle cx="1698.5" cy="36.2" r="5.6" fill="#fff" stroke="#d2adf0" stroke-width="2.3"/>
<circle cx="1690.9" cy="29.9" r="5.6" fill="#fff" stroke="#d2adf0" stroke-width="2.3"/>
<circle cx="1684.3" cy="25.9" r="5.6" fill="#fff" stroke="#d2adf0" stroke-width="2.3"/>
<circle cx="1678.6" cy="23.3" r="5.6" fill="#fff" stroke="#d2adf0" stroke-width="2.3"/>
<circle cx="1673.6" cy="21.6" r="5.6" fill="#fff" stroke="#d2adf0" stroke-width="2.3"/>
<circle cx="1669.2" cy="20.2" r="5.6" fill="#fff" stroke="#d2adf0" stroke-width="2.3"/>
<circle cx="1665.4" cy="19.9" r="5.6" fill="#fff" stroke="#d2adf0" stroke-width="2.3"/>
<circle cx="1662.1" cy="20.9" r="5.6" fill="#fff" stroke="#d2adf0" stroke-width="2.3"/>
<circle cx="1659.3" cy="22.5" r="5.6" fill="#fff" stroke="#d2adf0" stroke-width="2.3"/>
<circle cx="1656.8" cy="24.2" r="5.6" fill="#fff" stroke="#d2adf0" stroke-width="2.3"/>
<circle cx="1654.6" cy="25.8" r="5.6" fill="#fff" stroke="#d2adf0" stroke-width="2.3"/>
<circle cx="1652.7" cy="27.6" r="5.6" fill="#fff" stroke="#d2adf0" stroke-width="2.3"/>
<circle cx="1651.1" cy="29.6" r="5.6" fill="#fff" stroke="#d2adf0" stroke-width="2.3"/>
<circle cx="1649.6" cy="31.5" r="5.6" fill="#fff" stroke="#d2adf0" stroke-width="2.3"/>
<circle cx="1648.4" cy="33.6" r="5.6" fill="#fff" stroke="#d2adf0" stroke-width="2.3"/>
<circle cx="1647.3" cy="35.8" r="5.6" fill="#fff" stroke="#d2adf0" stroke-width="2.3"/>
<circle cx="1646.3" cy="38" r="5.6" fill="#fff" stroke="#d2adf0" stroke-width="2.3"/>
<circle cx="1645.5" cy="40.4" r="5.6" fill="#fff" stroke="#d2adf0" stroke-width="2.3"/>
<circle cx="1644.8" cy="42.8" r="5.6" fill="#fff" stroke="#d2adf0" stroke-width="2.3"/>
<path d="M1642.5,-1.2 1642.6,-0.3 1642.7,0.5 1642.8,1.3 1642.9,2.1 1643,3 1643,3.8 1643.1,4.6 1643.2,5.4 1643.3,6.2 1643.4,7 1643.5,7.8 1643.6,8.6 1643.8,9.4 1643.9,10.2 1644,11 1644.1,11.8 1644.2,12.6 1644.4,13.4 1644.5,14.1 1644.6,14.9 1644.8,15.6 1644.9,16.4 1645.1,17.1 1645.2,17.9 1645.4,18.6 1645.5,19.3 1645.7,20 1645.9,20.7 1646.1,21.4 1646.2,22.1 1646.4,22.8 1646.6,23.4 1646.8,24.1 1647,24.7 1647.2,25.4 1647.5,26 1647.7,26.6 1647.9,27.1 1648.2,27.7 1648.4,28.2 1648.7,28.7 1648.9,29.2 1649.2,29.7 1649.5,30.2 1649.8,30.7 1650.1,31.2 1650.4,31.7 1650.7,32.3 1651,32.9 1651.3,33.5 1651.7,34.1 1652,34.7 1652.4,35.4 1652.8,36.2 1653.2,37 1653.6,38 1654,39.1 1654.4,40.2 1654.8,41.4 1655.3,42.6 1655.7,43.7 1656.2,44.7 1656.7,45.6 1657.2,46.6 1657.7,47.5 1658.3,48.4 1658.8,49.3 1659.4,50.2 1660,51.1 1660.6,52 1661.2,53 1661.9,54 1662.5,55 1663.2,56.1 1663.9,57.2 1664.6,58.4 1665.4,59.9 1666.2,61.4 1666.9,62.8 1667.8,64.1 1668.6,65.3 1669.5,66.3 1670.4,67.2 1671.3,68.1 1672.2,68.9 1673.2,69.8 1674.2,70.6 1675.3,71.5 1676.3,72.5 1677.4,73.6 1678.6,74.8 1679.7,76.3 1680.9,78 1682.2,79.6 1683.5,81.2 1684.8,82.5 1686.1,83.8 1687.5,85.1 1689,86.3 1690.4,87.5 1692,88.7 1693.6,90 1695.2,91.3 1696.8,92.8 1698.6,94.2 1700.3,95.4 1702.2,96.5 1704.1,97.4 1706,98.2 1708,99 1710.1,99.7 1712.2,100.4 1714.4,101.1 1716.6,101.7 1719,102.4 1721.4,103 1723.8,103.7 1726.4,104.4 1729,105.1 1731.7,105.9 1734.5,106.8 1737.3,107.7 1740.3,108.8 1743.3,110.1 1746.4,111.5 1749.7,113 1753,114.5 1756.4,115.9 1759.9,117.1 1763.6,118.4 1767.3,119.6 1771.2,120.8 1775.2,122 1779.3,123.1 1783.5,124.3 1787.8,125.4 1792.3,126.5 1796.9,127.6 1801.7,128.7 1806.6,129.7 1811.6,130.8 1816.8,131.8 1822.2,132.9 1827.7,133.9 1833.4,134.8 1839.3,135.8 1845.3,136.7 1851.5,137.5 1858,138.4 1864.6,139.2 1871.4,139.9 1878.4,140.7 1885.6,141.4 1893,142.2 1900.7,143 1908.6,143.7 1916.8,144.5 1925.2,145.2 1933.8,146" fill="none" stroke="#d4541c" stroke-width="2.8" stroke-dasharray="10 6"/>
<path d="M1642.4,67.6 1642.4,67.9 1642.5,68.2 1642.6,68.5 1642.7,68.8 1642.7,69.1 1642.8,69.4 1642.9,69.8 1643,70.1 1643.1,70.5 1643.2,70.9 1643.3,71.3 1643.4,71.6 1643.5,72.1 1643.6,72.5 1643.7,72.9 1643.8,73.3 1643.9,73.8 1644.1,74.2 1644.2,74.6 1644.3,75.1 1644.4,75.6 1644.6,76 1644.7,76.5 1644.9,77 1645,77.5 1645.2,77.9 1645.3,78.4 1645.5,78.9 1645.7,79.4 1645.8,79.9 1646,80.4 1646.2,81 1646.4,81.6 1646.6,82.2 1646.8,82.8 1647,83.5 1647.2,84.2 1647.5,84.9 1647.7,85.7 1647.9,86.4 1648.2,87.2 1648.4,88 1648.7,88.8 1648.9,89.6 1649.2,90.4 1649.5,91.2 1649.8,92 1650.1,92.8 1650.4,93.6 1650.7,94.5 1651.1,95.3 1651.4,96.2 1651.8,97.1 1652.1,97.9 1652.5,98.8 1652.9,99.8 1653.3,100.7 1653.7,101.6 1654.1,102.6 1654.5,103.6 1655,104.5 1655.4,105.5 1655.9,106.5 1656.4,107.6 1656.9,108.6 1657.4,109.7 1658,110.8 1658.5,112 1659.1,113.1 1659.7,114.3 1660.3,115.4 1660.9,116.6 1661.6,117.8 1662.2,118.9 1662.9,120.1 1663.6,121.2 1664.4,122.3 1665.1,123.5 1665.9,124.6 1666.7,125.8 1667.5,126.9 1668.4,128.1 1669.2,129.2 1670.1,130.4 1671.1,131.5 1672,132.6 1673,133.8 1674,134.9 1675.1,136.1 1676.1,137.2 1677.3,138.3 1678.4,139.4 1679.6,140.5 1680.8,141.6 1682.1,142.7 1683.4,143.8 1684.7,144.8 1686.1,145.9 1687.5,147 1689,148 1690.5,149 1692,150.1 1693.6,151.1 1695.3,152 1697,153 1698.8,154 1700.6,155 1702.4,156 1704.4,157.1 1706.3,158.2 1708.4,159.3 1710.5,160.4 1712.7,161.5 1714.9,162.7 1717.2,163.9 1719.6,165.1 1722.1,166.3 1724.6,167.5 1727.2,168.7 1729.9,170 1732.7,171.2 1735.5,172.5 1738.5,173.8 1741.5,175.1 1744.6,176.4 1747.9,177.7 1751.2,178.9 1754.6,180.1 1758.1,181.2 1761.8,182.4 1765.5,183.4 1769.4,184.5 1773.4,185.5 1777.5,186.6 1781.8,187.6 1786.1,188.6 1790.6,189.6 1795.3,190.6 1800.1,191.6 1805,192.6 1810.1,193.6 1815.3,194.5 1820.7,195.5 1826.3,196.5 1832.1,197.4 1838,198.4 1844.1,199.4 1850.4,200.4 1856.9,201.4 1863.5,202.5 1870.4,203.5 1877.5,204.6 1884.9,205.6 1892.4,206.6 1900.2,207.5 1908.2,208.4 1916.5,209.1 1925,209.8 1933.8,210.5" fill="none" stroke="#e4332a" stroke-width="2.8" stroke-dasharray="10 6"/>
<path d="M1669,14.2 1669.4,14.5 1669.8,14.8 1670.3,15.2 1670.7,15.5 1671.2,15.9 1671.6,16.2 1672.1,16.6 1672.6,16.9 1673,17.3 1673.5,17.7 1674,18.1 1674.5,18.5 1675,18.9 1675.5,19.3 1676.1,19.7 1676.6,20.1 1677.1,20.5 1677.7,20.9 1678.2,21.4 1678.8,21.8 1679.4,22.3 1679.9,22.8 1680.5,23.2 1681.1,23.7 1681.7,24.2 1682.3,24.7 1683,25.3 1683.6,25.8 1684.2,26.3 1684.9,26.8 1685.5,27.4 1686.2,27.9 1686.9,28.5 1687.6,29 1688.3,29.5 1689,30.1 1689.7,30.6 1690.4,31.1 1691.2,31.7 1691.9,32.2 1692.7,32.7 1693.4,33.2 1694.2,33.7 1695,34.2 1695.8,34.8 1696.7,35.3 1697.5,35.8 1698.3,36.4 1699.2,36.9 1700.1,37.4 1700.9,37.9 1701.8,38.5 1702.7,39 1703.7,39.5 1704.6,40 1705.5,40.5 1706.5,41 1707.5,41.6 1708.5,42.1 1709.5,42.5 1710.5,43 1711.5,43.5 1712.6,44 1713.6,44.5 1714.7,45 1715.8,45.4 1716.9,45.9 1718.1,46.4 1719.2,46.9 1720.4,47.3 1721.5,47.8 1722.7,48.3 1723.9,48.7 1725.2,49.2 1726.4,49.6 1727.7,50 1729,50.4 1730.3,50.8 1731.6,51.2 1733,51.6 1734.3,52 1735.7,52.3 1737.1,52.7 1738.5,53 1740,53.3 1741.5,53.6 1742.9,53.9 1744.4,54.1 1746,54.4 1747.5,54.7 1749.1,55 1750.7,55.3 1752.3,55.6 1754,55.9 1755.7,56.3 1757.4,56.6 1759.1,57 1760.8,57.4 1762.6,57.8 1764.4,58.3 1766.2,58.7 1768.1,59.2 1770,59.6 1771.9,60.1 1773.8,60.6 1775.8,61 1777.8,61.5 1779.8,62 1781.8,62.5 1783.9,63 1786,63.5 1788.2,64 1790.3,64.5 1792.5,64.9 1794.8,65.4 1797,65.8 1799.4,66.3 1801.7,66.8 1804.1,67.2 1806.5,67.7 1808.9,68.2 1811.4,68.6 1813.9,69.1 1816.5,69.6 1819,70 1821.7,70.5 1824.3,71 1827,71.4 1829.8,71.9 1832.6,72.3 1835.4,72.8 1838.3,73.2 1841.2,73.7 1844.1,74.1 1847.1,74.5 1850.2,75 1853.2,75.4 1856.4,75.8 1859.5,76.3 1862.8,76.7 1866,77.1 1869.4,77.5 1872.7,78 1876.1,78.4 1879.6,78.8 1883.1,79.2 1886.7,79.6 1890.3,80 1894,80.4 1897.7,80.7 1901.5,81.1 1905.3,81.4 1909.2,81.8 1913.2,82.1 1917.2,82.4 1921.2,82.7 1925.4,83 1929.6,83.2 1933.8,83.5" fill="none" stroke="#7a2fa8" stroke-width="2.8" stroke-dasharray="10 6"/>
<path d="M1642.4,106 1642.4,106.4 1642.5,106.8 1642.6,107.3 1642.7,107.8 1642.7,108.2 1642.8,108.7 1642.9,109.2 1643,109.7 1643.1,110.3 1643.2,110.8 1643.3,111.3 1643.4,111.9 1643.5,112.5 1643.6,113.1 1643.7,113.7 1643.8,114.3 1643.9,114.9 1644.1,115.5 1644.2,116.1 1644.3,116.8 1644.4,117.4 1644.6,118.1 1644.7,118.8 1644.9,119.5 1645,120.1 1645.2,120.8 1645.3,121.5 1645.5,122.3 1645.7,123 1645.8,123.7 1646,124.4 1646.2,125.2 1646.4,125.9 1646.6,126.7 1646.8,127.4 1647,128.2 1647.2,128.9 1647.5,129.7 1647.7,130.5 1647.9,131.3 1648.2,132.1 1648.4,132.9 1648.7,133.7 1648.9,134.6 1649.2,135.5 1649.5,136.4 1649.8,137.3 1650.1,138.3 1650.4,139.2 1650.7,140.2 1651.1,141.2 1651.4,142.2 1651.8,143.2 1652.1,144.2 1652.5,145.3 1652.9,146.3 1653.3,147.4 1653.7,148.4 1654.1,149.5 1654.5,150.6 1655,151.7 1655.4,152.9 1655.9,154 1656.4,155.2 1656.9,156.4 1657.4,157.6 1658,158.9 1658.5,160.1 1659.1,161.4 1659.7,162.7 1660.3,164 1660.9,165.3 1661.6,166.6 1662.2,167.9 1662.9,169.3 1663.6,170.6 1664.4,171.9 1665.1,173.3 1665.9,174.6 1666.7,175.9 1667.5,177.2 1668.4,178.5 1669.2,179.8 1670.1,181.1 1671.1,182.4 1672,183.7 1673,185 1674,186.4 1675.1,187.7 1676.1,189 1677.3,190.4 1678.4,191.8 1679.6,193.2 1680.8,194.7 1682.1,196.2 1683.4,197.7 1684.7,199.3 1686.1,200.9 1687.5,202.5 1689,204 1690.5,205.6 1692,207.2 1693.6,208.7 1695.3,210.2 1697,211.7 1698.8,213.1 1700.6,214.5 1702.4,215.9 1704.4,217.3 1706.3,218.6 1708.4,220 1710.5,221.3 1712.7,222.6 1714.9,223.9 1717.2,225.2 1719.6,226.5 1722.1,227.7 1724.6,229 1727.2,230.2 1729.9,231.4 1732.7,232.6 1735.5,233.9 1738.5,235.1 1741.5,236.4 1744.6,237.6 1747.9,238.9 1751.2,240.2 1754.6,241.5 1758.1,242.7 1761.8,244 1765.5,245.3 1769.4,246.5 1773.4,247.8 1777.5,249 1781.8,250.2 1786.1,251.4 1790.6,252.6 1795.3,253.8 1800.1,254.9 1805,256.1 1810.1,257.2 1815.3,258.2 1820.7,259.3 1826.3,260.3 1832.1,261.4 1838,262.4 1844.1,263.4 1850.4,264.3 1856.9,265.2 1863.5,266.1 1870.4,267 1877.5,267.8 1884.9,268.5 1892.4,269.3 1900.2,270 1908.2,270.7 1916.5,271.3 1925,271.9 1933.8,272.5" fill="none" stroke="#2c50b2" stroke-width="2.8" stroke-dasharray="10 6"/>
</g>
<rect x="1640" y="14.5" width="293.8" height="264.5" fill="none" stroke="#000" stroke-width="2.2"/>
<path d="M1737.9,279v-5.5M1737.9,14.5v5.5" stroke="#000" stroke-width="1.9800000000000002"/>
<path d="M1835.9,279v-5.5M1835.9,14.5v5.5" stroke="#000" stroke-width="1.9800000000000002"/>
<path d="M1640,225h5.5" stroke="#000" stroke-width="1.9800000000000002"/>
<path d="M1933.8,225h-5.5" stroke="#000" stroke-width="1.9800000000000002"/>
<path d="M1640,155.2h5.5" stroke="#000" stroke-width="1.9800000000000002"/>
<path d="M1933.8,155.2h-5.5" stroke="#000" stroke-width="1.9800000000000002"/>
<path d="M1640,85.4h5.5" stroke="#000" stroke-width="1.9800000000000002"/>
<path d="M1933.8,85.4h-5.5" stroke="#000" stroke-width="1.9800000000000002"/>
<text x="1640" y="312.5" font-size="26" text-anchor="middle">0</text>
<text x="1737.9" y="312.5" font-size="26" text-anchor="middle">50</text>
<text x="1835.9" y="312.5" font-size="26" text-anchor="middle">100</text>
<text x="1933.8" y="312.5" font-size="26" text-anchor="middle">150</text>
<text x="1637" y="234.6" font-size="26" text-anchor="end">0.02</text>
<text x="1637" y="164.8" font-size="26" text-anchor="end">0.04</text>
<text x="1637" y="95" font-size="26" text-anchor="end">0.06</text>
<text x="1923" y="56.8" font-size="26" text-anchor="end">11.6 T</text>
<text x="1923" y="121.5" font-size="26" text-anchor="end">8.5 T</text>
<text x="1923" y="183.3" font-size="26" text-anchor="end">6.3 T</text>
<text x="1923" y="247.5" font-size="26" text-anchor="end">2.1 T</text>
<text x="1799" y="243" font-size="26"><tspan font-style="italic">T</tspan><tspan font-size="16" dy="5">h</tspan></text>
<text x="1786" y="346" font-size="29" text-anchor="middle"><tspan font-style="italic">T</tspan> (K)</text>
<text transform="translate(1585,147) rotate(-90)" font-size="28" text-anchor="middle"><tspan font-style="italic" font-family="Liberation Serif, serif" font-size="30">χ</tspan> (emu/mol)</text>
<text x="1563" y="29" font-size="38" font-weight="bold">d</text>
<g clip-path="url(#clipe)"><g filter="url(#cmf)"><path fill="#0d0d0d" d="M855 365h10v5h-10zM1010 365h5v5h-5zM730 380h5v5h-5zM880 380h10v5h-10zM730 385h5v5h-5zM880 385h10v5h-10zM730 390h5v5h-5zM780 490h10v5h-10zM930 490h10v5h-10zM780 495h10v5h-10zM930 495h15v5h-15zM785 500h5v5h-5zM935 500h5v5h-5zM805 510h5v5h-5zM955 510h5v5h-5zM800 515h15v5h-15zM955 515h10v5h-10zM805 520h10v5h-10zM955 520h10v5h-10zM1010 620h5v5h-5zM855 625h10v5h-10zM1010 625h5v5h-5zM855 630h10v5h-10zM1010 630h5v5h-5zM730 645h5v5h-5zM880 645h10v5h-10z"/><path fill="#101010" d="M865 365h5v5h-5zM860 370h10v5h-10zM875 375h10v5h-10zM875 380h5v5h-5zM735 385h5v5h-5zM875 385h5v5h-5zM735 390h5v5h-5zM880 390h10v5h-10zM780 485h5v5h-5zM930 485h10v5h-10zM775 490h5v5h-5zM940 490h5v5h-5zM775 495h5v5h-5zM790 495h5v5h-5zM780 500h5v5h-5zM790 500h5v5h-5zM940 500h10v5h-10zM795 510h10v5h-10zM950 510h5v5h-5zM960 510h5v5h-5zM950 515h5v5h-5zM965 515h5v5h-5zM800 520h5v5h-5zM965 520h5v5h-5zM805 525h10v5h-10zM960 525h5v5h-5zM855 620h10v5h-10zM1005 620h5v5h-5zM865 625h5v5h-5zM1005 625h5v5h-5zM865 630h5v5h-5zM860 635h10v5h-10zM875 640h10v5h-10zM875 645h5v5h-5z"/><path fill="#131313" d="M870 365h5v5h-5zM1005 365h5v5h-5zM855 370h5v5h-5zM870 370h10v5h-10zM1010 370h5v5h-5zM730 375h5v5h-5zM865 375h10v5h-10zM885 375h5v5h-5zM735 380h5v5h-5zM870 380h5v5h-5zM890 385h5v5h-5zM875 390h5v5h-5zM890 390h5v5h-5zM730 395h10v5h-10zM880 395h15v5h-15zM775 480h10v5h-10zM930 480h10v5h-10zM775 485h5v5h-5zM785 485h5v5h-5zM940 485h5v5h-5zM790 490h5v5h-5zM925 490h5v5h-5zM945 495h5v5h-5zM795 500h5v5h-5zM930 500h5v5h-5zM785 505h25v5h-25zM935 505h25v5h-25zM810 510h5v5h-5zM945 510h5v5h-5zM795 515h5v5h-5zM815 520h5v5h-5zM950 520h5v5h-5zM800 525h5v5h-5zM955 525h5v5h-5zM965 525h5v5h-5zM805 530h10v5h-10zM960 530h10v5h-10zM850 615h15v5h-15zM1005 615h10v5h-10zM850 620h5v5h-5zM865 620h5v5h-5zM850 625h5v5h-5zM870 630h5v5h-5zM1005 630h5v5h-5zM855 635h5v5h-5zM870 635h10v5h-10zM1010 635h5v5h-5zM730 640h5v5h-5zM865 640h10v5h-10zM885 640h5v5h-5zM735 645h5v5h-5zM870 645h5v5h-5z"/><path fill="#151515" d="M850 365h5v5h-5zM875 365h5v5h-5zM880 370h5v5h-5zM860 375h5v5h-5zM865 380h5v5h-5zM890 380h5v5h-5zM870 385h5v5h-5zM740 390h5v5h-5zM740 395h5v5h-5zM875 395h5v5h-5zM730 400h15v5h-15zM880 400h15v5h-15zM730 405h15v5h-15zM885 405h10v5h-10zM735 410h10v5h-10zM890 410h10v5h-10zM740 415h5v5h-5zM895 415h5v5h-5zM770 465h5v5h-5zM925 465h5v5h-5zM770 470h10v5h-10zM925 470h10v5h-10zM770 475h15v5h-15zM925 475h15v5h-15zM770 480h5v5h-5zM785 480h5v5h-5zM925 480h5v5h-5zM940 480h5v5h-5zM770 485h5v5h-5zM790 485h5v5h-5zM925 485h5v5h-5zM770 490h5v5h-5zM945 490h5v5h-5zM795 495h5v5h-5zM925 495h5v5h-5zM775 500h5v5h-5zM800 500h5v5h-5zM950 500h5v5h-5zM780 505h5v5h-5zM960 505h5v5h-5zM790 510h5v5h-5zM940 510h5v5h-5zM965 510h5v5h-5zM815 515h5v5h-5zM945 515h5v5h-5zM795 520h5v5h-5zM970 520h5v5h-5zM815 525h5v5h-5zM950 525h5v5h-5zM970 525h5v5h-5zM800 530h5v5h-5zM815 530h5v5h-5zM955 530h5v5h-5zM970 530h5v5h-5zM805 535h15v5h-15zM960 535h15v5h-15zM810 540h10v5h-10zM965 540h10v5h-10zM815 545h5v5h-5zM970 545h5v5h-5zM845 595h5v5h-5zM1000 595h5v5h-5zM845 600h10v5h-10zM1000 600h10v5h-10zM850 605h10v5h-10zM1000 605h15v5h-15zM850 610h15v5h-15zM1000 610h15v5h-15zM865 615h5v5h-5zM1000 615h5v5h-5zM1000 620h5v5h-5zM870 625h5v5h-5zM850 630h5v5h-5zM875 630h5v5h-5zM880 635h5v5h-5zM860 640h5v5h-5zM865 645h5v5h-5zM890 645h5v5h-5z"/><path fill="#181818" d="M730 370h5v5h-5zM1005 370h5v5h-5zM735 375h5v5h-5zM1010 375h5v5h-5zM740 385h5v5h-5zM870 390h5v5h-5zM895 390h5v5h-5zM895 395h5v5h-5zM745 400h5v5h-5zM875 400h5v5h-5zM895 400h5v5h-5zM745 405h5v5h-5zM880 405h5v5h-5zM895 405h5v5h-5zM730 410h5v5h-5zM745 410h5v5h-5zM885 410h5v5h-5zM900 410h5v5h-5zM735 415h5v5h-5zM745 415h10v5h-10zM885 415h10v5h-10zM900 415h5v5h-5zM740 420h15v5h-15zM890 420h15v5h-15zM740 425h15v5h-15zM895 425h15v5h-15zM745 430h10v5h-10zM900 430h10v5h-10zM750 435h10v5h-10zM905 435h5v5h-5zM755 440h5v5h-5zM910 440h5v5h-5zM755 445h10v5h-10zM910 445h10v5h-10zM760 450h10v5h-10zM910 450h15v5h-15zM760 455h15v5h-15zM915 455h15v5h-15zM760 460h20v5h-20zM915 460h20v5h-20zM765 465h5v5h-5zM775 465h10v5h-10zM915 465h10v5h-10zM930 465h5v5h-5zM765 470h5v5h-5zM780 470h5v5h-5zM920 470h5v5h-5zM935 470h5v5h-5zM765 475h5v5h-5zM785 475h5v5h-5zM920 475h5v5h-5zM940 475h5v5h-5zM790 480h5v5h-5zM920 480h5v5h-5zM945 485h5v5h-5zM795 490h5v5h-5zM950 495h5v5h-5zM955 500h5v5h-5zM810 505h5v5h-5zM930 505h5v5h-5zM785 510h5v5h-5zM790 515h5v5h-5zM945 520h5v5h-5zM795 525h5v5h-5zM820 530h5v5h-5zM950 530h5v5h-5zM800 535h5v5h-5zM820 535h5v5h-5zM955 535h5v5h-5zM975 535h5v5h-5zM805 540h5v5h-5zM820 540h5v5h-5zM960 540h5v5h-5zM975 540h5v5h-5zM810 545h5v5h-5zM820 545h10v5h-10zM960 545h10v5h-10zM975 545h5v5h-5zM810 550h20v5h-20zM965 550h20v5h-20zM815 555h15v5h-15zM970 555h15v5h-15zM820 560h15v5h-15zM975 560h10v5h-10zM825 565h10v5h-10zM980 565h10v5h-10zM830 570h5v5h-5zM985 570h5v5h-5zM835 575h5v5h-5zM985 575h10v5h-10zM835 580h10v5h-10zM990 580h10v5h-10zM835 585h15v5h-15zM990 585h15v5h-15zM840 590h15v5h-15zM990 590h15v5h-15zM840 595h5v5h-5zM850 595h10v5h-10zM990 595h10v5h-10zM1005 595h5v5h-5zM840 600h5v5h-5zM855 600h5v5h-5zM995 600h5v5h-5zM1010 600h5v5h-5zM845 605h5v5h-5zM860 605h5v5h-5zM995 605h5v5h-5zM845 610h5v5h-5zM865 610h5v5h-5zM995 610h5v5h-5zM845 615h5v5h-5zM845 620h5v5h-5zM870 620h5v5h-5zM1000 625h5v5h-5zM730 635h5v5h-5zM1005 635h5v5h-5zM735 640h5v5h-5zM1010 640h5v5h-5z"/><path fill="#1b1b1b" d="M880 365h5v5h-5zM1000 365h5v5h-5zM850 370h5v5h-5zM885 370h5v5h-5zM855 375h5v5h-5zM890 375h5v5h-5zM740 380h5v5h-5zM860 380h5v5h-5zM865 385h5v5h-5zM895 385h5v5h-5zM745 395h5v5h-5zM870 395h5v5h-5zM900 400h5v5h-5zM875 405h5v5h-5zM900 405h5v5h-5zM750 410h5v5h-5zM880 410h5v5h-5zM905 410h5v5h-5zM730 415h5v5h-5zM905 415h5v5h-5zM735 420h5v5h-5zM755 420h5v5h-5zM885 420h5v5h-5zM905 420h5v5h-5zM755 425h5v5h-5zM890 425h5v5h-5zM910 425h5v5h-5zM740 430h5v5h-5zM755 430h5v5h-5zM895 430h5v5h-5zM910 430h5v5h-5zM745 435h5v5h-5zM760 435h5v5h-5zM900 435h5v5h-5zM910 435h10v5h-10zM750 440h5v5h-5zM760 440h10v5h-10zM900 440h10v5h-10zM915 440h5v5h-5zM750 445h5v5h-5zM765 445h5v5h-5zM905 445h5v5h-5zM920 445h5v5h-5zM755 450h5v5h-5zM770 450h5v5h-5zM905 450h5v5h-5zM925 450h5v5h-5zM755 455h5v5h-5zM775 455h5v5h-5zM910 455h5v5h-5zM930 455h5v5h-5zM780 460h5v5h-5zM910 460h5v5h-5zM760 465h5v5h-5zM935 465h5v5h-5zM760 470h5v5h-5zM785 470h5v5h-5zM915 470h5v5h-5zM940 470h5v5h-5zM790 475h5v5h-5zM915 475h5v5h-5zM765 480h5v5h-5zM945 480h5v5h-5zM795 485h5v5h-5zM920 485h5v5h-5zM950 490h5v5h-5zM770 495h5v5h-5zM800 495h5v5h-5zM805 500h5v5h-5zM925 500h5v5h-5zM815 510h5v5h-5zM935 510h5v5h-5zM940 515h5v5h-5zM970 515h5v5h-5zM790 520h5v5h-5zM820 525h5v5h-5zM945 525h5v5h-5zM795 530h5v5h-5zM975 530h5v5h-5zM825 535h5v5h-5zM950 535h5v5h-5zM800 540h5v5h-5zM825 540h5v5h-5zM955 540h5v5h-5zM980 540h5v5h-5zM805 545h5v5h-5zM980 545h5v5h-5zM830 550h5v5h-5zM960 550h5v5h-5zM810 555h5v5h-5zM830 555h5v5h-5zM965 555h5v5h-5zM985 555h5v5h-5zM815 560h5v5h-5zM835 560h5v5h-5zM970 560h5v5h-5zM985 560h5v5h-5zM820 565h5v5h-5zM835 565h5v5h-5zM975 565h5v5h-5zM990 565h5v5h-5zM825 570h5v5h-5zM835 570h10v5h-10zM975 570h10v5h-10zM990 570h5v5h-5zM825 575h10v5h-10zM840 575h5v5h-5zM980 575h5v5h-5zM995 575h5v5h-5zM830 580h5v5h-5zM845 580h5v5h-5zM985 580h5v5h-5zM1000 580h5v5h-5zM830 585h5v5h-5zM850 585h5v5h-5zM985 585h5v5h-5zM835 590h5v5h-5zM855 590h5v5h-5zM985 590h5v5h-5zM1005 590h5v5h-5zM835 595h5v5h-5zM1010 595h5v5h-5zM835 600h5v5h-5zM860 600h5v5h-5zM990 600h5v5h-5zM840 605h5v5h-5zM865 605h5v5h-5zM840 610h5v5h-5zM870 615h5v5h-5zM995 615h5v5h-5zM845 625h5v5h-5zM875 625h5v5h-5zM880 630h5v5h-5zM1000 630h5v5h-5zM850 635h5v5h-5zM885 635h5v5h-5zM855 640h5v5h-5zM890 640h5v5h-5zM740 645h5v5h-5zM860 645h5v5h-5z"/><path fill="#1e1e1e" d="M745 390h5v5h-5zM865 390h5v5h-5zM900 395h5v5h-5zM870 400h5v5h-5zM750 405h5v5h-5zM905 405h5v5h-5zM875 410h5v5h-5zM755 415h5v5h-5zM880 415h5v5h-5zM730 420h5v5h-5zM910 420h5v5h-5zM735 425h5v5h-5zM760 425h5v5h-5zM760 430h5v5h-5zM890 430h5v5h-5zM915 430h5v5h-5zM765 435h5v5h-5zM895 435h5v5h-5zM745 440h5v5h-5zM920 440h5v5h-5zM770 445h5v5h-5zM900 445h5v5h-5zM925 445h5v5h-5zM750 450h5v5h-5zM775 450h5v5h-5zM780 455h5v5h-5zM905 455h5v5h-5zM755 460h5v5h-5zM935 460h5v5h-5zM755 465h5v5h-5zM785 465h5v5h-5zM910 465h5v5h-5zM940 465h5v5h-5zM790 470h5v5h-5zM760 475h5v5h-5zM945 475h5v5h-5zM795 480h5v5h-5zM915 480h5v5h-5zM765 485h5v5h-5zM950 485h5v5h-5zM800 490h5v5h-5zM920 490h5v5h-5zM955 495h5v5h-5zM960 500h5v5h-5zM775 505h5v5h-5zM965 505h5v5h-5zM780 510h5v5h-5zM785 515h5v5h-5zM820 520h5v5h-5zM940 520h5v5h-5zM790 525h5v5h-5zM975 525h5v5h-5zM825 530h5v5h-5zM945 530h5v5h-5zM795 535h5v5h-5zM980 535h5v5h-5zM950 540h5v5h-5zM800 545h5v5h-5zM830 545h5v5h-5zM955 545h5v5h-5zM985 545h5v5h-5zM805 550h5v5h-5zM985 550h5v5h-5zM835 555h5v5h-5zM960 555h5v5h-5zM965 560h5v5h-5zM990 560h5v5h-5zM815 565h5v5h-5zM840 565h5v5h-5zM970 565h5v5h-5zM820 570h5v5h-5zM995 570h5v5h-5zM845 575h5v5h-5zM975 575h5v5h-5zM825 580h5v5h-5zM850 580h5v5h-5zM980 580h5v5h-5zM980 585h5v5h-5zM1005 585h5v5h-5zM830 590h5v5h-5zM1010 590h5v5h-5zM860 595h5v5h-5zM985 595h5v5h-5zM865 600h5v5h-5zM835 605h5v5h-5zM990 605h5v5h-5zM870 610h5v5h-5zM840 615h5v5h-5zM875 620h5v5h-5zM995 620h5v5h-5z"/><path fill="#202020" d="M730 365h5v5h-5zM845 365h5v5h-5zM735 370h5v5h-5zM1005 375h5v5h-5zM895 380h5v5h-5zM1010 380h5v5h-5zM860 385h5v5h-5zM900 390h5v5h-5zM750 400h5v5h-5zM870 405h5v5h-5zM755 410h5v5h-5zM910 415h5v5h-5zM760 420h5v5h-5zM880 420h5v5h-5zM730 425h5v5h-5zM885 425h5v5h-5zM915 425h5v5h-5zM735 430h5v5h-5zM740 435h5v5h-5zM920 435h5v5h-5zM770 440h5v5h-5zM895 440h5v5h-5zM745 445h5v5h-5zM900 450h5v5h-5zM930 450h5v5h-5zM750 455h5v5h-5zM935 455h5v5h-5zM785 460h5v5h-5zM905 460h5v5h-5zM910 470h5v5h-5zM945 470h5v5h-5zM950 480h5v5h-5zM765 490h5v5h-5zM955 490h5v5h-5zM805 495h5v5h-5zM920 495h5v5h-5zM770 500h5v5h-5zM970 510h5v5h-5zM820 515h5v5h-5zM935 515h5v5h-5zM785 520h5v5h-5zM975 520h5v5h-5zM790 530h5v5h-5zM795 540h5v5h-5zM830 540h5v5h-5zM835 550h5v5h-5zM955 550h5v5h-5zM805 555h5v5h-5zM990 555h5v5h-5zM810 560h5v5h-5zM840 560h5v5h-5zM995 565h5v5h-5zM845 570h5v5h-5zM970 570h5v5h-5zM820 575h5v5h-5zM1000 575h5v5h-5zM1005 580h5v5h-5zM825 585h5v5h-5zM855 585h5v5h-5zM1010 585h5v5h-5zM860 590h5v5h-5zM980 590h5v5h-5zM830 595h5v5h-5zM985 600h5v5h-5zM870 605h5v5h-5zM990 610h5v5h-5zM840 620h5v5h-5zM880 625h5v5h-5zM730 630h5v5h-5zM845 630h5v5h-5zM735 635h5v5h-5zM1005 640h5v5h-5zM895 645h5v5h-5zM1010 645h5v5h-5z"/><path fill="#232323" d="M885 365h5v5h-5zM1000 370h5v5h-5zM740 375h5v5h-5zM855 380h5v5h-5zM745 385h5v5h-5zM750 395h5v5h-5zM865 395h5v5h-5zM905 400h5v5h-5zM755 405h5v5h-5zM910 410h5v5h-5zM760 415h5v5h-5zM875 415h5v5h-5zM765 430h5v5h-5zM885 430h5v5h-5zM890 435h5v5h-5zM740 440h5v5h-5zM925 440h5v5h-5zM775 445h5v5h-5zM780 450h5v5h-5zM750 460h5v5h-5zM940 460h5v5h-5zM790 465h5v5h-5zM905 465h5v5h-5zM755 470h5v5h-5zM795 475h5v5h-5zM910 475h5v5h-5zM760 480h5v5h-5zM800 485h5v5h-5zM915 485h5v5h-5zM810 500h5v5h-5zM815 505h5v5h-5zM925 505h5v5h-5zM930 510h5v5h-5zM825 525h5v5h-5zM940 525h5v5h-5zM980 530h5v5h-5zM830 535h5v5h-5zM945 535h5v5h-5zM985 540h5v5h-5zM835 545h5v5h-5zM950 545h5v5h-5zM800 550h5v5h-5zM990 550h5v5h-5zM960 560h5v5h-5zM965 565h5v5h-5zM815 570h5v5h-5zM1000 570h5v5h-5zM850 575h5v5h-5zM855 580h5v5h-5zM975 580h5v5h-5zM865 595h5v5h-5zM980 595h5v5h-5zM830 600h5v5h-5zM985 605h5v5h-5zM835 610h5v5h-5zM875 615h5v5h-5zM990 615h5v5h-5zM995 625h5v5h-5zM885 630h5v5h-5zM1000 635h5v5h-5zM740 640h5v5h-5zM855 645h5v5h-5z"/><path fill="#262626" d="M890 370h5v5h-5zM850 375h5v5h-5zM900 385h5v5h-5zM865 400h5v5h-5zM910 405h5v5h-5zM870 410h5v5h-5zM915 420h5v5h-5zM765 425h5v5h-5zM880 425h5v5h-5zM920 430h5v5h-5zM735 435h5v5h-5zM770 435h5v5h-5zM895 445h5v5h-5zM930 445h5v5h-5zM745 450h5v5h-5zM935 450h5v5h-5zM785 455h5v5h-5zM900 455h5v5h-5zM945 465h5v5h-5zM795 470h5v5h-5zM755 475h5v5h-5zM950 475h5v5h-5zM760 485h5v5h-5zM955 485h5v5h-5zM765 495h5v5h-5zM960 495h5v5h-5zM780 515h5v5h-5zM975 515h5v5h-5zM785 525h5v5h-5zM980 525h5v5h-5zM790 535h5v5h-5zM985 535h5v5h-5zM945 540h5v5h-5zM795 545h5v5h-5zM840 555h5v5h-5zM955 555h5v5h-5zM805 560h5v5h-5zM995 560h5v5h-5zM810 565h5v5h-5zM845 565h5v5h-5zM970 575h5v5h-5zM1005 575h5v5h-5zM820 580h5v5h-5zM860 585h5v5h-5zM975 585h5v5h-5zM825 590h5v5h-5zM870 600h5v5h-5zM830 605h5v5h-5zM875 610h5v5h-5zM840 625h5v5h-5zM890 635h5v5h-5zM850 640h5v5h-5z"/><path fill="#282828" d="M995 365h5v5h-5zM845 370h5v5h-5zM895 375h5v5h-5zM745 380h5v5h-5zM1010 385h5v5h-5zM750 390h5v5h-5zM860 390h5v5h-5zM905 395h5v5h-5zM755 400h5v5h-5zM760 410h5v5h-5zM915 415h5v5h-5zM875 420h5v5h-5zM730 430h5v5h-5zM775 440h5v5h-5zM890 440h5v5h-5zM745 455h5v5h-5zM940 455h5v5h-5zM790 460h5v5h-5zM900 460h5v5h-5zM750 465h5v5h-5zM905 470h5v5h-5zM800 480h5v5h-5zM910 480h5v5h-5zM805 490h5v5h-5zM915 490h5v5h-5zM920 500h5v5h-5zM965 500h5v5h-5zM775 510h5v5h-5zM820 510h5v5h-5zM825 520h5v5h-5zM935 520h5v5h-5zM830 530h5v5h-5zM940 530h5v5h-5zM835 540h5v5h-5zM990 545h5v5h-5zM840 550h5v5h-5zM950 550h5v5h-5zM800 555h5v5h-5zM995 555h5v5h-5zM850 570h5v5h-5zM965 570h5v5h-5zM1010 580h5v5h-5zM865 590h5v5h-5zM825 595h5v5h-5zM980 600h5v5h-5zM985 610h5v5h-5zM835 615h5v5h-5zM880 620h5v5h-5zM990 620h5v5h-5zM730 625h5v5h-5zM995 630h5v5h-5zM845 635h5v5h-5zM895 640h5v5h-5zM745 645h5v5h-5z"/><path fill="#2b2b2b" d="M735 365h5v5h-5zM1005 380h5v5h-5zM865 405h5v5h-5zM870 415h5v5h-5zM765 420h5v5h-5zM920 425h5v5h-5zM770 430h5v5h-5zM885 435h5v5h-5zM925 435h5v5h-5zM740 445h5v5h-5zM780 445h5v5h-5zM895 450h5v5h-5zM750 470h5v5h-5zM950 470h5v5h-5zM800 475h5v5h-5zM755 480h5v5h-5zM955 480h5v5h-5zM770 505h5v5h-5zM970 505h5v5h-5zM785 530h5v5h-5zM985 530h5v5h-5zM940 535h5v5h-5zM790 540h5v5h-5zM990 540h5v5h-5zM845 560h5v5h-5zM960 565h5v5h-5zM1000 565h5v5h-5zM815 575h5v5h-5zM855 575h5v5h-5zM970 580h5v5h-5zM820 585h5v5h-5zM975 590h5v5h-5zM870 595h5v5h-5zM875 605h5v5h-5zM735 630h5v5h-5zM1005 645h5v5h-5z"/><path fill="#2e2e2e" d="M840 365h5v5h-5zM740 370h5v5h-5zM1000 375h5v5h-5zM900 380h5v5h-5zM855 385h5v5h-5zM905 390h5v5h-5zM1010 390h5v5h-5zM755 395h5v5h-5zM860 395h5v5h-5zM910 400h5v5h-5zM760 405h5v5h-5zM915 410h5v5h-5zM880 430h5v5h-5zM735 440h5v5h-5zM930 440h5v5h-5zM935 445h5v5h-5zM785 450h5v5h-5zM745 460h5v5h-5zM945 460h5v5h-5zM795 465h5v5h-5zM900 465h5v5h-5zM905 475h5v5h-5zM805 485h5v5h-5zM910 485h5v5h-5zM760 490h5v5h-5zM960 490h5v5h-5zM810 495h5v5h-5zM915 495h5v5h-5zM765 500h5v5h-5zM975 510h5v5h-5zM825 515h5v5h-5zM930 515h5v5h-5zM780 520h5v5h-5zM980 520h5v5h-5zM830 525h5v5h-5zM935 525h5v5h-5zM835 535h5v5h-5zM840 545h5v5h-5zM945 545h5v5h-5zM795 550h5v5h-5zM995 550h5v5h-5zM955 560h5v5h-5zM805 565h5v5h-5zM810 570h5v5h-5zM1005 570h5v5h-5zM860 580h5v5h-5zM825 600h5v5h-5zM980 605h5v5h-5zM830 610h5v5h-5zM880 615h5v5h-5zM985 615h5v5h-5zM730 620h5v5h-5zM835 620h5v5h-5zM885 625h5v5h-5zM840 630h5v5h-5zM740 635h5v5h-5zM1000 640h5v5h-5zM900 645h5v5h-5z"/><path fill="#303030" d="M750 385h5v5h-5zM865 410h5v5h-5zM765 415h5v5h-5zM920 420h5v5h-5zM875 425h5v5h-5zM730 435h5v5h-5zM775 435h5v5h-5zM740 450h5v5h-5zM940 450h5v5h-5zM790 455h5v5h-5zM950 465h5v5h-5zM955 475h5v5h-5zM815 500h5v5h-5zM925 510h5v5h-5zM785 535h5v5h-5zM790 545h5v5h-5zM950 555h5v5h-5zM800 560h5v5h-5zM1000 560h5v5h-5zM965 575h5v5h-5zM1010 575h5v5h-5zM865 585h5v5h-5zM820 590h5v5h-5zM975 595h5v5h-5zM875 600h5v5h-5zM990 625h5v5h-5z"/><path fill="#333333" d="M890 365h5v5h-5zM995 370h5v5h-5zM745 375h5v5h-5zM850 380h5v5h-5zM910 395h5v5h-5zM760 400h5v5h-5zM860 400h5v5h-5zM915 405h5v5h-5zM870 420h5v5h-5zM770 425h5v5h-5zM925 430h5v5h-5zM890 445h5v5h-5zM895 455h5v5h-5zM945 455h5v5h-5zM795 460h5v5h-5zM745 465h5v5h-5zM800 470h5v5h-5zM900 470h5v5h-5zM750 475h5v5h-5zM805 480h5v5h-5zM905 480h5v5h-5zM755 485h5v5h-5zM960 485h5v5h-5zM965 495h5v5h-5zM820 505h5v5h-5zM920 505h5v5h-5zM775 515h5v5h-5zM780 525h5v5h-5zM985 525h5v5h-5zM835 530h5v5h-5zM935 530h5v5h-5zM990 535h5v5h-5zM840 540h5v5h-5zM940 540h5v5h-5zM995 545h5v5h-5zM945 550h5v5h-5zM795 555h5v5h-5zM845 555h5v5h-5zM850 565h5v5h-5zM815 580h5v5h-5zM970 585h5v5h-5zM870 590h5v5h-5zM825 605h5v5h-5zM880 610h5v5h-5zM980 610h5v5h-5zM830 615h5v5h-5zM890 630h5v5h-5zM995 635h5v5h-5zM745 640h5v5h-5zM850 645h5v5h-5z"/><path fill="#363636" d="M895 370h5v5h-5zM845 375h5v5h-5zM905 385h5v5h-5zM1005 385h5v5h-5zM755 390h5v5h-5zM855 390h5v5h-5zM1010 395h5v5h-5zM765 410h5v5h-5zM920 415h5v5h-5zM780 440h5v5h-5zM885 440h5v5h-5zM785 445h5v5h-5zM810 490h5v5h-5zM910 490h5v5h-5zM760 495h5v5h-5zM980 515h5v5h-5zM830 520h5v5h-5zM930 520h5v5h-5zM955 565h5v5h-5zM855 570h5v5h-5zM960 570h5v5h-5zM820 595h5v5h-5zM975 600h5v5h-5zM730 615h5v5h-5zM885 620h5v5h-5zM985 620h5v5h-5zM735 625h5v5h-5zM835 625h5v5h-5zM895 635h5v5h-5zM845 640h5v5h-5z"/><path fill="#383838" d="M990 365h5v5h-5zM840 370h5v5h-5zM900 375h5v5h-5zM750 380h5v5h-5zM915 400h5v5h-5zM860 405h5v5h-5zM865 415h5v5h-5zM875 430h5v5h-5zM880 435h5v5h-5zM930 435h5v5h-5zM735 445h5v5h-5zM790 450h5v5h-5zM740 455h5v5h-5zM895 460h5v5h-5zM950 460h5v5h-5zM800 465h5v5h-5zM955 470h5v5h-5zM805 475h5v5h-5zM750 480h5v5h-5zM915 500h5v5h-5zM970 500h5v5h-5zM770 510h5v5h-5zM825 510h5v5h-5zM990 530h5v5h-5zM935 535h5v5h-5zM785 540h5v5h-5zM940 545h5v5h-5zM790 550h5v5h-5zM845 550h5v5h-5zM1000 555h5v5h-5zM950 560h5v5h-5zM1005 565h5v5h-5zM810 575h5v5h-5zM860 575h5v5h-5zM865 580h5v5h-5zM875 595h5v5h-5zM880 605h5v5h-5zM825 610h5v5h-5zM990 630h5v5h-5zM840 635h5v5h-5zM900 640h5v5h-5zM750 645h5v5h-5z"/><path fill="#3b3b3b" d="M910 390h5v5h-5zM760 395h5v5h-5zM1010 400h5v5h-5zM765 405h5v5h-5zM920 410h5v5h-5zM770 420h5v5h-5zM870 425h5v5h-5zM925 425h5v5h-5zM775 430h5v5h-5zM730 440h5v5h-5zM935 440h5v5h-5zM940 445h5v5h-5zM890 450h5v5h-5zM795 455h5v5h-5zM745 470h5v5h-5zM900 475h5v5h-5zM960 480h5v5h-5zM905 485h5v5h-5zM755 490h5v5h-5zM765 505h5v5h-5zM975 505h5v5h-5zM985 520h5v5h-5zM835 525h5v5h-5zM780 530h5v5h-5zM840 535h5v5h-5zM995 540h5v5h-5zM945 555h5v5h-5zM850 560h5v5h-5zM800 565h5v5h-5zM805 570h5v5h-5zM1010 570h5v5h-5zM965 580h5v5h-5zM815 585h5v5h-5zM870 585h5v5h-5zM970 590h5v5h-5zM820 600h5v5h-5zM975 605h5v5h-5zM730 610h5v5h-5zM980 615h5v5h-5zM830 620h5v5h-5z"/><path fill="#3e3e3e" d="M740 365h5v5h-5zM835 365h5v5h-5zM905 380h5v5h-5zM1000 380h5v5h-5zM755 385h5v5h-5zM855 395h5v5h-5zM860 410h5v5h-5zM865 420h5v5h-5zM945 450h5v5h-5zM950 455h5v5h-5zM800 460h5v5h-5zM895 465h5v5h-5zM955 465h5v5h-5zM805 470h5v5h-5zM965 490h5v5h-5zM815 495h5v5h-5zM910 495h5v5h-5zM760 500h5v5h-5zM980 510h5v5h-5zM830 515h5v5h-5zM925 515h5v5h-5zM775 520h5v5h-5zM935 540h5v5h-5zM785 545h5v5h-5zM845 545h5v5h-5zM940 550h5v5h-5zM790 555h5v5h-5zM795 560h5v5h-5zM875 590h5v5h-5zM880 600h5v5h-5zM885 615h5v5h-5zM985 625h5v5h-5zM740 630h5v5h-5zM835 630h5v5h-5zM905 645h5v5h-5zM1000 645h5v5h-5z"/><path fill="#404040" d="M745 370h5v5h-5zM990 370h5v5h-5zM750 375h5v5h-5zM995 375h5v5h-5zM850 385h5v5h-5zM910 385h5v5h-5zM760 390h5v5h-5zM1005 390h5v5h-5zM915 395h5v5h-5zM765 400h5v5h-5zM920 405h5v5h-5zM1010 405h5v5h-5zM770 415h5v5h-5zM780 435h5v5h-5zM740 460h5v5h-5zM745 475h5v5h-5zM960 475h5v5h-5zM900 480h5v5h-5zM750 485h5v5h-5zM810 485h5v5h-5zM905 490h5v5h-5zM755 495h5v5h-5zM985 515h5v5h-5zM835 520h5v5h-5zM930 525h5v5h-5zM990 525h5v5h-5zM840 530h5v5h-5zM780 535h5v5h-5zM995 535h5v5h-5zM1000 550h5v5h-5zM960 575h5v5h-5zM970 595h5v5h-5zM730 605h5v5h-5zM820 605h5v5h-5zM975 610h5v5h-5zM825 615h5v5h-5zM735 620h5v5h-5zM980 620h5v5h-5zM830 625h5v5h-5zM890 625h5v5h-5zM745 635h5v5h-5zM990 635h5v5h-5zM750 640h5v5h-5zM995 640h5v5h-5z"/><path fill="#434343" d="M985 365h5v5h-5zM755 380h5v5h-5zM855 400h5v5h-5zM1010 410h5v5h-5zM860 415h5v5h-5zM925 420h5v5h-5zM870 430h5v5h-5zM930 430h5v5h-5zM785 440h5v5h-5zM790 445h5v5h-5zM885 445h5v5h-5zM735 450h5v5h-5zM795 450h5v5h-5zM800 455h5v5h-5zM955 460h5v5h-5zM805 465h5v5h-5zM895 470h5v5h-5zM960 470h5v5h-5zM820 500h5v5h-5zM825 505h5v5h-5zM915 505h5v5h-5zM920 510h5v5h-5zM780 540h5v5h-5zM845 540h5v5h-5zM935 545h5v5h-5zM785 550h5v5h-5zM940 555h5v5h-5zM945 560h5v5h-5zM1005 560h5v5h-5zM855 565h5v5h-5zM950 565h5v5h-5zM955 570h5v5h-5zM810 580h5v5h-5zM870 580h5v5h-5zM815 590h5v5h-5zM880 595h5v5h-5zM730 600h5v5h-5zM885 610h5v5h-5zM985 630h5v5h-5zM755 645h5v5h-5z"/><path fill="#464646" d="M895 365h5v5h-5zM835 370h5v5h-5zM900 370h5v5h-5zM840 375h5v5h-5zM905 375h5v5h-5zM845 380h5v5h-5zM915 390h5v5h-5zM765 395h5v5h-5zM920 400h5v5h-5zM855 405h5v5h-5zM770 410h5v5h-5zM860 420h5v5h-5zM775 425h5v5h-5zM865 425h5v5h-5zM875 435h5v5h-5zM880 440h5v5h-5zM945 445h5v5h-5zM950 450h5v5h-5zM890 455h5v5h-5zM955 455h5v5h-5zM805 460h5v5h-5zM740 465h5v5h-5zM960 465h5v5h-5zM745 480h5v5h-5zM810 480h5v5h-5zM900 485h5v5h-5zM750 490h5v5h-5zM910 500h5v5h-5zM830 510h5v5h-5zM990 520h5v5h-5zM840 525h5v5h-5zM930 530h5v5h-5zM995 530h5v5h-5zM780 545h5v5h-5zM1000 545h5v5h-5zM935 550h5v5h-5zM785 555h5v5h-5zM850 555h5v5h-5zM790 560h5v5h-5zM795 565h5v5h-5zM860 570h5v5h-5zM865 575h5v5h-5zM875 585h5v5h-5zM965 585h5v5h-5zM880 590h5v5h-5zM970 600h5v5h-5zM885 605h5v5h-5zM820 610h5v5h-5zM975 615h5v5h-5zM825 620h5v5h-5zM895 630h5v5h-5zM835 635h5v5h-5zM900 635h5v5h-5zM840 640h5v5h-5zM905 640h5v5h-5zM845 645h5v5h-5z"/><path fill="#484848" d="M830 365h5v5h-5zM910 380h5v5h-5zM760 385h5v5h-5zM1005 395h5v5h-5zM770 405h5v5h-5zM855 410h5v5h-5zM925 415h5v5h-5zM1010 415h5v5h-5zM935 435h5v5h-5zM940 440h5v5h-5zM800 450h5v5h-5zM960 460h5v5h-5zM740 470h5v5h-5zM810 475h5v5h-5zM895 475h5v5h-5zM745 485h5v5h-5zM965 485h5v5h-5zM905 495h5v5h-5zM970 495h5v5h-5zM755 500h5v5h-5zM760 505h5v5h-5zM980 505h5v5h-5zM985 510h5v5h-5zM770 515h5v5h-5zM835 515h5v5h-5zM775 525h5v5h-5zM995 525h5v5h-5zM845 535h5v5h-5zM930 535h5v5h-5zM1000 540h5v5h-5zM780 550h5v5h-5zM940 560h5v5h-5zM800 570h5v5h-5zM805 575h5v5h-5zM730 595h5v5h-5zM815 595h5v5h-5zM885 600h5v5h-5zM970 605h5v5h-5zM735 615h5v5h-5zM980 625h5v5h-5zM830 630h5v5h-5zM910 645h5v5h-5z"/><path fill="#4b4b4b" d="M915 385h5v5h-5zM765 390h5v5h-5zM850 390h5v5h-5zM920 395h5v5h-5zM770 400h5v5h-5zM925 410h5v5h-5zM855 415h5v5h-5zM855 420h5v5h-5zM1010 420h5v5h-5zM860 425h5v5h-5zM865 430h5v5h-5zM730 445h5v5h-5zM795 445h5v5h-5zM955 450h5v5h-5zM805 455h5v5h-5zM960 455h5v5h-5zM890 460h5v5h-5zM810 465h5v5h-5zM810 470h5v5h-5zM740 475h5v5h-5zM895 480h5v5h-5zM900 490h5v5h-5zM750 495h5v5h-5zM975 500h5v5h-5zM765 510h5v5h-5zM990 515h5v5h-5zM840 520h5v5h-5zM845 530h5v5h-5zM1000 535h5v5h-5zM930 540h5v5h-5zM930 545h5v5h-5zM850 550h5v5h-5zM780 555h5v5h-5zM935 555h5v5h-5zM785 560h5v5h-5zM945 565h5v5h-5zM1010 565h5v5h-5zM875 580h5v5h-5zM880 585h5v5h-5zM730 590h5v5h-5zM885 590h5v5h-5zM885 595h5v5h-5zM815 600h5v5h-5zM970 610h5v5h-5zM820 615h5v5h-5zM890 620h5v5h-5zM975 620h5v5h-5zM825 625h5v5h-5z"/><path fill="#4e4e4e" d="M980 365h5v5h-5zM985 370h5v5h-5zM755 375h5v5h-5zM760 380h5v5h-5zM1000 385h5v5h-5zM920 390h5v5h-5zM770 395h5v5h-5zM1005 400h5v5h-5zM925 405h5v5h-5zM1005 405h5v5h-5zM1005 410h5v5h-5zM1005 415h5v5h-5zM1005 420h5v5h-5zM855 425h5v5h-5zM1010 425h5v5h-5zM860 430h5v5h-5zM870 435h5v5h-5zM950 445h5v5h-5zM805 450h5v5h-5zM960 450h5v5h-5zM735 455h5v5h-5zM810 455h5v5h-5zM965 455h5v5h-5zM810 460h5v5h-5zM965 460h5v5h-5zM965 465h5v5h-5zM965 470h5v5h-5zM740 480h5v5h-5zM965 480h5v5h-5zM895 485h5v5h-5zM745 490h5v5h-5zM815 490h5v5h-5zM905 500h5v5h-5zM835 510h5v5h-5zM925 520h5v5h-5zM995 520h5v5h-5zM845 525h5v5h-5zM775 530h5v5h-5zM1000 530h5v5h-5zM775 540h5v5h-5zM775 545h5v5h-5zM775 550h5v5h-5zM930 550h5v5h-5zM775 555h5v5h-5zM930 555h5v5h-5zM1005 555h5v5h-5zM780 560h5v5h-5zM935 560h5v5h-5zM790 565h5v5h-5zM870 575h5v5h-5zM880 580h5v5h-5zM730 585h5v5h-5zM885 585h5v5h-5zM735 590h5v5h-5zM735 595h5v5h-5zM735 600h5v5h-5zM735 605h5v5h-5zM815 605h5v5h-5zM735 610h5v5h-5zM970 615h5v5h-5zM820 620h5v5h-5zM740 625h5v5h-5zM980 630h5v5h-5zM985 635h5v5h-5zM755 640h5v5h-5zM760 645h5v5h-5z"/><path fill="#515151" d="M825 365h5v5h-5zM750 370h5v5h-5zM830 370h5v5h-5zM910 375h5v5h-5zM990 375h5v5h-5zM915 380h5v5h-5zM765 385h5v5h-5zM920 385h5v5h-5zM925 400h5v5h-5zM850 410h5v5h-5zM850 415h5v5h-5zM775 420h5v5h-5zM850 420h5v5h-5zM1000 420h5v5h-5zM845 425h10v5h-10zM930 425h5v5h-5zM995 425h15v5h-15zM780 430h5v5h-5zM835 430h25v5h-25zM990 430h25v5h-25zM830 435h20v5h-20zM980 435h20v5h-20zM790 440h5v5h-5zM825 440h15v5h-15zM975 440h20v5h-20zM800 445h10v5h-10zM815 445h20v5h-20zM955 445h5v5h-5zM965 445h25v5h-25zM810 450h20v5h-20zM885 450h5v5h-5zM965 450h15v5h-15zM815 455h5v5h-5zM970 455h5v5h-5zM815 460h5v5h-5zM890 465h5v5h-5zM965 475h5v5h-5zM740 485h5v5h-5zM895 490h5v5h-5zM745 495h5v5h-5zM900 495h5v5h-5zM750 500h5v5h-5zM830 505h5v5h-5zM910 505h5v5h-5zM990 510h5v5h-5zM840 515h5v5h-5zM995 515h5v5h-5zM845 520h5v5h-5zM1000 525h5v5h-5zM775 535h5v5h-5zM850 545h5v5h-5zM925 550h5v5h-5zM770 555h5v5h-5zM925 555h5v5h-5zM765 560h15v5h-15zM855 560h5v5h-5zM915 560h20v5h-20zM755 565h25v5h-25zM785 565h5v5h-5zM910 565h20v5h-20zM935 565h10v5h-10zM750 570h20v5h-20zM905 570h15v5h-15zM950 570h5v5h-5zM745 575h20v5h-20zM895 575h20v5h-20zM730 580h25v5h-25zM885 580h25v5h-25zM960 580h5v5h-5zM735 585h15v5h-15zM810 585h5v5h-5zM890 585h10v5h-10zM740 590h5v5h-5zM890 590h5v5h-5zM965 590h5v5h-5zM890 595h5v5h-5zM890 600h5v5h-5zM815 610h5v5h-5zM820 625h5v5h-5zM975 625h5v5h-5zM825 630h5v5h-5zM750 635h5v5h-5zM830 635h5v5h-5zM910 640h5v5h-5zM990 640h5v5h-5zM915 645h5v5h-5z"/><path fill="#535353" d="M745 365h5v5h-5zM975 365h5v5h-5zM980 370h5v5h-5zM760 375h5v5h-5zM765 380h5v5h-5zM995 380h5v5h-5zM770 390h5v5h-5zM925 390h5v5h-5zM850 395h5v5h-5zM925 395h5v5h-5zM850 405h5v5h-5zM1000 415h5v5h-5zM840 420h10v5h-10zM995 420h5v5h-5zM830 425h15v5h-15zM985 425h10v5h-10zM825 430h10v5h-10zM980 430h10v5h-10zM785 435h5v5h-5zM820 435h10v5h-10zM850 435h10v5h-10zM865 435h5v5h-5zM975 435h5v5h-5zM1000 435h15v5h-15zM815 440h10v5h-10zM840 440h10v5h-10zM875 440h5v5h-5zM945 440h5v5h-5zM970 440h5v5h-5zM995 440h10v5h-10zM810 445h5v5h-5zM835 445h10v5h-10zM960 445h5v5h-5zM990 445h10v5h-10zM830 450h10v5h-10zM980 450h15v5h-15zM820 455h10v5h-10zM975 455h10v5h-10zM820 460h5v5h-5zM970 460h5v5h-5zM815 465h5v5h-5zM890 470h5v5h-5zM890 475h5v5h-5zM890 480h5v5h-5zM740 490h5v5h-5zM900 500h5v5h-5zM755 505h5v5h-5zM985 505h5v5h-5zM840 510h5v5h-5zM1000 520h5v5h-5zM850 530h5v5h-5zM850 535h5v5h-5zM850 540h5v5h-5zM925 545h5v5h-5zM770 550h5v5h-5zM920 550h5v5h-5zM760 555h10v5h-10zM915 555h10v5h-10zM750 560h15v5h-15zM905 560h10v5h-10zM745 565h10v5h-10zM780 565h5v5h-5zM900 565h10v5h-10zM930 565h5v5h-5zM740 570h10v5h-10zM770 570h5v5h-5zM795 570h5v5h-5zM865 570h5v5h-5zM895 570h10v5h-10zM920 570h10v5h-10zM730 575h15v5h-15zM765 575h5v5h-5zM875 575h5v5h-5zM885 575h10v5h-10zM915 575h10v5h-10zM955 575h5v5h-5zM755 580h10v5h-10zM910 580h10v5h-10zM750 585h10v5h-10zM900 585h15v5h-15zM745 590h5v5h-5zM895 590h10v5h-10zM740 595h5v5h-5zM890 605h5v5h-5zM815 615h5v5h-5zM890 615h5v5h-5zM815 620h5v5h-5zM970 620h5v5h-5zM745 630h5v5h-5zM975 630h5v5h-5zM980 635h5v5h-5zM760 640h5v5h-5zM765 645h5v5h-5zM995 645h5v5h-5z"/><path fill="#565656" d="M820 365h5v5h-5zM825 370h5v5h-5zM905 370h5v5h-5zM835 375h5v5h-5zM915 375h5v5h-5zM920 380h5v5h-5zM770 385h5v5h-5zM775 395h5v5h-5zM775 400h5v5h-5zM850 400h5v5h-5zM775 405h5v5h-5zM775 410h5v5h-5zM1000 410h5v5h-5zM775 415h5v5h-5zM845 415h5v5h-5zM835 420h5v5h-5zM990 420h5v5h-5zM825 425h5v5h-5zM980 425h5v5h-5zM820 430h5v5h-5zM975 430h5v5h-5zM815 435h5v5h-5zM860 435h5v5h-5zM970 435h5v5h-5zM795 440h5v5h-5zM810 440h5v5h-5zM850 440h5v5h-5zM960 440h10v5h-10zM1005 440h5v5h-5zM845 445h5v5h-5zM880 445h5v5h-5zM840 450h5v5h-5zM995 450h5v5h-5zM830 455h10v5h-10zM985 455h10v5h-10zM735 460h5v5h-5zM975 460h5v5h-5zM970 465h5v5h-5zM815 470h5v5h-5zM735 475h5v5h-5zM735 480h5v5h-5zM890 485h5v5h-5zM895 495h5v5h-5zM745 500h5v5h-5zM825 500h5v5h-5zM835 505h5v5h-5zM905 505h5v5h-5zM915 510h5v5h-5zM995 510h5v5h-5zM845 515h5v5h-5zM850 525h5v5h-5zM1005 530h5v5h-5zM1005 535h5v5h-5zM925 540h5v5h-5zM770 545h5v5h-5zM765 550h5v5h-5zM1005 550h5v5h-5zM750 555h10v5h-10zM905 555h10v5h-10zM745 560h5v5h-5zM900 560h5v5h-5zM860 565h5v5h-5zM895 565h5v5h-5zM735 570h5v5h-5zM775 570h10v5h-10zM890 570h5v5h-5zM930 570h5v5h-5zM945 570h5v5h-5zM770 575h5v5h-5zM880 575h5v5h-5zM925 575h5v5h-5zM765 580h5v5h-5zM920 580h5v5h-5zM760 585h5v5h-5zM915 585h5v5h-5zM750 590h5v5h-5zM905 590h5v5h-5zM895 595h5v5h-5zM965 595h5v5h-5zM740 600h5v5h-5zM965 600h5v5h-5zM965 605h5v5h-5zM890 610h5v5h-5zM965 610h5v5h-5zM965 615h5v5h-5zM970 625h5v5h-5zM820 630h5v5h-5zM825 635h5v5h-5zM905 635h5v5h-5zM835 640h5v5h-5zM915 640h5v5h-5zM920 645h5v5h-5z"/><path fill="#595959" d="M970 365h5v5h-5zM820 370h5v5h-5zM975 370h5v5h-5zM765 375h5v5h-5zM920 375h5v5h-5zM770 380h5v5h-5zM925 385h5v5h-5zM775 390h5v5h-5zM930 395h5v5h-5zM930 400h5v5h-5zM840 415h5v5h-5zM995 415h5v5h-5zM825 420h10v5h-10zM930 420h5v5h-5zM980 420h10v5h-10zM820 425h5v5h-5zM975 425h5v5h-5zM935 430h5v5h-5zM970 430h5v5h-5zM940 435h5v5h-5zM965 435h5v5h-5zM800 440h10v5h-10zM855 440h5v5h-5zM950 440h10v5h-10zM1000 445h5v5h-5zM845 450h5v5h-5zM840 455h5v5h-5zM995 455h5v5h-5zM825 460h10v5h-10zM980 460h5v5h-5zM735 465h5v5h-5zM820 465h5v5h-5zM735 470h5v5h-5zM735 485h5v5h-5zM815 485h5v5h-5zM890 490h5v5h-5zM740 495h5v5h-5zM820 495h5v5h-5zM895 500h5v5h-5zM750 505h5v5h-5zM990 505h5v5h-5zM845 510h5v5h-5zM920 515h5v5h-5zM1000 515h5v5h-5zM850 520h5v5h-5zM925 525h5v5h-5zM1005 525h5v5h-5zM1005 540h5v5h-5zM920 545h5v5h-5zM1005 545h5v5h-5zM760 550h5v5h-5zM910 550h10v5h-10zM745 555h5v5h-5zM900 555h5v5h-5zM895 560h5v5h-5zM740 565h5v5h-5zM785 570h10v5h-10zM885 570h5v5h-5zM935 570h10v5h-10zM775 575h5v5h-5zM800 575h5v5h-5zM770 580h5v5h-5zM805 580h5v5h-5zM765 585h5v5h-5zM920 585h5v5h-5zM755 590h10v5h-10zM810 590h5v5h-5zM910 590h10v5h-10zM745 595h5v5h-5zM900 595h5v5h-5zM810 610h5v5h-5zM810 615h5v5h-5zM965 620h5v5h-5zM815 625h5v5h-5zM970 630h5v5h-5zM820 635h5v5h-5zM975 635h5v5h-5zM765 640h5v5h-5zM920 640h5v5h-5zM770 645h5v5h-5z"/><path fill="#5b5b5b" d="M815 365h5v5h-5zM900 365h5v5h-5zM755 370h5v5h-5zM985 375h5v5h-5zM840 380h5v5h-5zM925 380h5v5h-5zM845 385h5v5h-5zM930 390h5v5h-5zM780 395h5v5h-5zM930 405h5v5h-5zM845 410h5v5h-5zM990 415h5v5h-5zM975 420h5v5h-5zM970 425h5v5h-5zM815 430h5v5h-5zM810 435h5v5h-5zM870 440h5v5h-5zM1010 440h5v5h-5zM850 445h5v5h-5zM1005 445h5v5h-5zM730 450h5v5h-5zM1000 450h5v5h-5zM845 455h5v5h-5zM835 460h5v5h-5zM985 460h10v5h-10zM970 470h5v5h-5zM815 475h5v5h-5zM885 480h5v5h-5zM885 485h5v5h-5zM735 490h5v5h-5zM970 490h5v5h-5zM890 495h5v5h-5zM740 500h5v5h-5zM980 500h5v5h-5zM745 505h5v5h-5zM840 505h5v5h-5zM900 505h5v5h-5zM995 505h5v5h-5zM760 510h5v5h-5zM1000 510h5v5h-5zM850 515h5v5h-5zM770 520h5v5h-5zM1005 520h5v5h-5zM855 525h5v5h-5zM855 530h5v5h-5zM925 535h5v5h-5zM770 540h5v5h-5zM750 550h10v5h-10zM905 550h5v5h-5zM895 555h5v5h-5zM740 560h5v5h-5zM1010 560h5v5h-5zM735 565h5v5h-5zM890 565h5v5h-5zM730 570h5v5h-5zM870 570h5v5h-5zM930 575h5v5h-5zM925 580h5v5h-5zM770 585h5v5h-5zM765 590h5v5h-5zM750 595h5v5h-5zM895 600h5v5h-5zM810 605h5v5h-5zM960 615h5v5h-5zM810 620h5v5h-5zM895 625h5v5h-5zM815 630h5v5h-5zM900 630h5v5h-5zM755 635h5v5h-5zM985 640h5v5h-5zM840 645h5v5h-5zM925 645h5v5h-5z"/><path fill="#5e5e5e" d="M760 370h10v5h-10zM910 370h10v5h-10zM970 370h5v5h-5zM770 375h5v5h-5zM825 375h10v5h-10zM975 375h10v5h-10zM775 385h5v5h-5zM1000 390h5v5h-5zM935 395h5v5h-5zM780 400h5v5h-5zM1000 405h5v5h-5zM930 410h5v5h-5zM835 415h5v5h-5zM930 415h5v5h-5zM820 420h5v5h-5zM780 425h5v5h-5zM815 425h5v5h-5zM965 430h5v5h-5zM960 435h5v5h-5zM860 440h10v5h-10zM885 455h5v5h-5zM1000 455h5v5h-5zM840 460h5v5h-5zM995 460h5v5h-5zM975 465h5v5h-5zM885 475h5v5h-5zM730 480h5v5h-5zM815 480h5v5h-5zM730 485h5v5h-5zM845 505h5v5h-5zM895 505h5v5h-5zM1010 525h5v5h-5zM925 530h5v5h-5zM1010 530h5v5h-5zM855 535h5v5h-5zM765 545h5v5h-5zM745 550h5v5h-5zM900 550h5v5h-5zM740 555h5v5h-5zM855 555h5v5h-5zM875 570h10v5h-10zM780 575h5v5h-5zM775 580h5v5h-5zM925 585h5v5h-5zM960 585h5v5h-5zM920 590h5v5h-5zM810 595h5v5h-5zM905 595h5v5h-5zM810 600h5v5h-5zM740 605h5v5h-5zM960 610h5v5h-5zM805 615h5v5h-5zM740 620h5v5h-5zM965 625h5v5h-5zM760 635h10v5h-10zM910 635h10v5h-10zM970 635h5v5h-5zM770 640h5v5h-5zM825 640h10v5h-10zM975 640h10v5h-10z"/><path fill="#616161" d="M770 370h5v5h-5zM815 370h5v5h-5zM920 370h5v5h-5zM820 375h5v5h-5zM925 375h5v5h-5zM970 375h5v5h-5zM930 385h5v5h-5zM780 390h5v5h-5zM935 400h5v5h-5zM820 415h15v5h-15zM975 415h15v5h-15zM970 420h5v5h-5zM790 435h5v5h-5zM805 435h5v5h-5zM855 445h5v5h-5zM850 450h5v5h-5zM845 460h5v5h-5zM825 465h5v5h-5zM885 470h5v5h-5zM730 475h5v5h-5zM880 480h5v5h-5zM880 485h5v5h-5zM885 490h5v5h-5zM735 495h5v5h-5zM890 500h5v5h-5zM740 505h5v5h-5zM1000 505h5v5h-5zM850 510h5v5h-5zM1005 515h5v5h-5zM855 520h5v5h-5zM860 525h5v5h-5zM860 530h5v5h-5zM1010 535h5v5h-5zM855 540h5v5h-5zM915 545h5v5h-5zM895 550h5v5h-5zM890 560h5v5h-5zM885 565h5v5h-5zM935 575h5v5h-5zM950 575h5v5h-5zM770 590h5v5h-5zM755 595h15v5h-15zM910 595h15v5h-15zM805 610h5v5h-5zM960 620h5v5h-5zM810 625h5v5h-5zM770 635h5v5h-5zM815 635h5v5h-5zM920 635h5v5h-5zM820 640h5v5h-5zM925 640h5v5h-5zM970 640h5v5h-5z"/><path fill="#636363" d="M965 365h5v5h-5zM925 370h5v5h-5zM815 375h5v5h-5zM775 380h5v5h-5zM935 390h5v5h-5zM785 395h5v5h-5zM940 395h5v5h-5zM780 405h5v5h-5zM995 410h5v5h-5zM970 415h5v5h-5zM815 420h5v5h-5zM810 430h5v5h-5zM945 435h5v5h-5zM955 435h5v5h-5zM1010 445h5v5h-5zM1005 450h5v5h-5zM850 455h5v5h-5zM885 460h5v5h-5zM1000 460h5v5h-5zM885 465h5v5h-5zM980 465h5v5h-5zM970 475h5v5h-5zM730 490h5v5h-5zM975 495h5v5h-5zM830 500h5v5h-5zM845 500h5v5h-5zM995 500h10v5h-10zM740 510h10v5h-10zM895 510h5v5h-5zM910 510h5v5h-5zM765 515h5v5h-5zM1010 520h5v5h-5zM770 535h5v5h-5zM760 545h5v5h-5zM855 545h5v5h-5zM740 550h5v5h-5zM855 550h5v5h-5zM890 555h5v5h-5zM735 560h5v5h-5zM730 565h5v5h-5zM785 575h5v5h-5zM795 575h5v5h-5zM930 580h5v5h-5zM925 590h5v5h-5zM770 595h5v5h-5zM745 600h5v5h-5zM960 605h5v5h-5zM800 615h5v5h-5zM955 615h5v5h-5zM805 620h5v5h-5zM965 630h5v5h-5zM925 635h5v5h-5zM815 640h5v5h-5zM775 645h5v5h-5z"/><path fill="#666666" d="M770 365h5v5h-5zM925 365h5v5h-5zM815 380h5v5h-5zM970 380h5v5h-5zM790 395h5v5h-5zM805 395h5v5h-5zM960 395h5v5h-5zM1000 395h5v5h-5zM785 400h5v5h-5zM1000 400h5v5h-5zM845 405h5v5h-5zM935 405h5v5h-5zM840 410h5v5h-5zM815 415h5v5h-5zM965 425h5v5h-5zM785 430h5v5h-5zM795 435h10v5h-10zM950 435h5v5h-5zM875 445h5v5h-5zM730 455h5v5h-5zM850 460h5v5h-5zM830 465h5v5h-5zM840 465h10v5h-10zM990 465h15v5h-15zM730 470h5v5h-5zM820 470h5v5h-5zM880 475h5v5h-5zM875 480h5v5h-5zM1010 480h5v5h-5zM1010 485h5v5h-5zM735 500h5v5h-5zM840 500h5v5h-5zM850 500h5v5h-5zM985 500h10v5h-10zM850 505h5v5h-5zM890 505h5v5h-5zM750 510h10v5h-10zM890 510h5v5h-5zM900 510h5v5h-5zM1005 510h5v5h-5zM730 525h5v5h-5zM730 530h5v5h-5zM865 530h5v5h-5zM860 535h5v5h-5zM920 540h5v5h-5zM1010 540h5v5h-5zM740 545h15v5h-15zM895 545h10v5h-10zM910 545h5v5h-5zM890 550h5v5h-5zM1010 555h5v5h-5zM865 565h5v5h-5zM790 575h5v5h-5zM940 575h10v5h-10zM955 580h5v5h-5zM775 585h5v5h-5zM925 595h5v5h-5zM900 600h5v5h-5zM805 605h5v5h-5zM895 605h5v5h-5zM740 610h5v5h-5zM955 610h5v5h-5zM740 615h5v5h-5zM780 615h5v5h-5zM935 615h5v5h-5zM950 615h5v5h-5zM770 630h5v5h-5zM925 630h5v5h-5zM815 645h5v5h-5zM970 645h5v5h-5z"/><path fill="#696969" d="M750 365h5v5h-5zM775 365h5v5h-5zM810 365h5v5h-5zM920 365h5v5h-5zM965 370h5v5h-5zM775 375h5v5h-5zM820 380h5v5h-5zM930 380h5v5h-5zM965 380h5v5h-5zM990 380h5v5h-5zM780 385h5v5h-5zM965 385h5v5h-5zM785 390h5v5h-5zM805 390h10v5h-10zM960 390h5v5h-5zM795 395h10v5h-10zM810 395h5v5h-5zM945 395h15v5h-15zM805 400h10v5h-10zM940 400h5v5h-5zM960 400h5v5h-5zM780 410h5v5h-5zM815 410h10v5h-10zM970 410h5v5h-5zM780 420h5v5h-5zM965 420h5v5h-5zM810 425h5v5h-5zM935 425h5v5h-5zM960 430h5v5h-5zM860 445h5v5h-5zM855 450h5v5h-5zM880 450h5v5h-5zM1005 455h5v5h-5zM835 465h5v5h-5zM850 465h5v5h-5zM985 465h5v5h-5zM850 470h5v5h-5zM855 475h5v5h-5zM855 480h20v5h-20zM855 485h10v5h-10zM875 485h5v5h-5zM970 485h5v5h-5zM855 490h5v5h-5zM1005 490h5v5h-5zM850 495h5v5h-5zM885 495h5v5h-5zM835 500h5v5h-5zM905 510h5v5h-5zM855 515h5v5h-5zM890 515h5v5h-5zM735 520h5v5h-5zM885 520h5v5h-5zM770 525h5v5h-5zM865 525h5v5h-5zM880 525h10v5h-10zM870 530h20v5h-20zM885 535h5v5h-5zM890 540h5v5h-5zM755 545h5v5h-5zM890 545h5v5h-5zM905 545h5v5h-5zM735 555h5v5h-5zM860 560h5v5h-5zM885 560h5v5h-5zM880 565h5v5h-5zM780 580h5v5h-5zM805 585h5v5h-5zM930 585h5v5h-5zM775 590h5v5h-5zM960 590h5v5h-5zM770 600h5v5h-5zM920 600h10v5h-10zM960 600h5v5h-5zM780 610h5v5h-5zM800 610h5v5h-5zM930 610h10v5h-10zM785 615h15v5h-15zM930 615h5v5h-5zM940 615h10v5h-10zM780 620h5v5h-5zM930 620h10v5h-10zM955 620h5v5h-5zM775 625h5v5h-5zM960 625h5v5h-5zM750 630h5v5h-5zM775 630h5v5h-5zM810 630h5v5h-5zM920 630h5v5h-5zM965 635h5v5h-5zM775 640h5v5h-5zM820 645h5v5h-5zM930 645h5v5h-5zM965 645h5v5h-5zM990 645h5v5h-5z"/><path fill="#6b6b6b" d="M765 365h5v5h-5zM775 370h5v5h-5zM965 375h5v5h-5zM975 380h5v5h-5zM810 385h10v5h-10zM940 390h5v5h-5zM955 390h5v5h-5zM965 390h5v5h-5zM965 395h5v5h-5zM790 400h5v5h-5zM800 400h5v5h-5zM945 400h5v5h-5zM955 400h5v5h-5zM965 400h5v5h-5zM810 405h10v5h-10zM965 405h5v5h-5zM965 410h5v5h-5zM975 410h5v5h-5zM780 415h5v5h-5zM965 415h5v5h-5zM805 430h5v5h-5zM940 430h5v5h-5zM1005 460h5v5h-5zM730 465h5v5h-5zM1005 465h5v5h-5zM975 470h5v5h-5zM1000 470h10v5h-10zM850 475h5v5h-5zM1005 475h10v5h-10zM970 480h5v5h-5zM1005 480h5v5h-5zM865 485h10v5h-10zM1005 485h5v5h-5zM850 490h5v5h-5zM880 490h5v5h-5zM1010 490h5v5h-5zM1000 495h10v5h-10zM1005 500h5v5h-5zM735 505h5v5h-5zM1005 505h5v5h-5zM735 510h5v5h-5zM735 515h10v5h-10zM730 520h5v5h-5zM860 520h5v5h-5zM890 520h5v5h-5zM735 525h5v5h-5zM870 525h10v5h-10zM735 530h5v5h-5zM770 530h5v5h-5zM730 535h10v5h-10zM890 535h5v5h-5zM735 540h10v5h-10zM765 540h5v5h-5zM735 545h5v5h-5zM1010 545h5v5h-5zM735 550h5v5h-5zM800 580h5v5h-5zM935 580h5v5h-5zM775 595h5v5h-5zM960 595h5v5h-5zM765 600h5v5h-5zM775 600h5v5h-5zM775 605h5v5h-5zM925 605h10v5h-10zM775 610h5v5h-5zM785 610h5v5h-5zM795 610h5v5h-5zM940 610h5v5h-5zM950 610h5v5h-5zM775 615h5v5h-5zM775 620h5v5h-5zM785 620h5v5h-5zM800 620h5v5h-5zM925 625h10v5h-10zM765 630h5v5h-5zM775 635h5v5h-5zM965 640h5v5h-5zM975 645h5v5h-5z"/><path fill="#6e6e6e" d="M905 365h5v5h-5zM930 365h5v5h-5zM810 380h5v5h-5zM835 380h5v5h-5zM935 385h5v5h-5zM960 385h5v5h-5zM995 385h5v5h-5zM790 390h5v5h-5zM800 390h5v5h-5zM845 390h5v5h-5zM795 400h5v5h-5zM950 400h5v5h-5zM785 405h5v5h-5zM960 405h5v5h-5zM810 410h5v5h-5zM935 410h5v5h-5zM990 410h5v5h-5zM810 415h5v5h-5zM810 420h5v5h-5zM865 445h10v5h-10zM1010 450h5v5h-5zM730 460h5v5h-5zM845 470h5v5h-5zM855 470h5v5h-5zM880 470h5v5h-5zM860 475h5v5h-5zM875 475h5v5h-5zM850 480h5v5h-5zM850 485h5v5h-5zM845 495h5v5h-5zM895 515h5v5h-5zM890 525h5v5h-5zM890 530h5v5h-5zM865 535h5v5h-5zM880 535h5v5h-5zM860 540h5v5h-5zM885 540h5v5h-5zM895 540h5v5h-5zM1010 550h5v5h-5zM730 560h5v5h-5zM870 565h10v5h-10zM930 590h5v5h-5zM930 595h5v5h-5zM750 600h5v5h-5zM805 600h5v5h-5zM930 600h5v5h-5zM780 605h5v5h-5zM955 605h5v5h-5zM790 610h5v5h-5zM945 610h5v5h-5zM895 620h5v5h-5zM940 620h5v5h-5zM950 620h5v5h-5zM745 625h5v5h-5zM780 625h5v5h-5zM805 625h5v5h-5zM905 630h5v5h-5zM930 630h5v5h-5zM810 645h5v5h-5zM835 645h5v5h-5z"/><path fill="#717171" d="M915 365h5v5h-5zM810 370h5v5h-5zM930 370h5v5h-5zM810 375h5v5h-5zM930 375h5v5h-5zM825 380h5v5h-5zM970 385h5v5h-5zM795 390h5v5h-5zM815 390h5v5h-5zM945 390h10v5h-10zM815 400h5v5h-5zM805 405h5v5h-5zM940 405h5v5h-5zM970 405h5v5h-5zM825 410h5v5h-5zM835 410h5v5h-5zM980 410h5v5h-5zM960 425h5v5h-5zM955 430h5v5h-5zM855 455h5v5h-5zM855 465h5v5h-5zM1010 470h5v5h-5zM865 475h10v5h-10zM820 490h5v5h-5zM860 490h5v5h-5zM730 495h5v5h-5zM855 495h5v5h-5zM885 515h5v5h-5zM1010 515h5v5h-5zM880 520h5v5h-5zM920 520h5v5h-5zM870 535h10v5h-10zM730 540h5v5h-5zM885 545h5v5h-5zM885 555h5v5h-5zM785 580h5v5h-5zM780 585h5v5h-5zM760 600h5v5h-5zM905 600h5v5h-5zM915 600h5v5h-5zM770 605h5v5h-5zM800 605h5v5h-5zM935 605h5v5h-5zM925 610h5v5h-5zM790 620h10v5h-10zM925 620h5v5h-5zM945 620h5v5h-5zM770 625h5v5h-5zM915 630h5v5h-5zM810 635h5v5h-5zM930 635h5v5h-5zM810 640h5v5h-5zM930 640h5v5h-5zM825 645h5v5h-5z"/><path fill="#737373" d="M755 365h10v5h-10zM980 380h10v5h-10zM805 385h5v5h-5zM845 400h5v5h-5zM955 405h5v5h-5zM995 405h5v5h-5zM830 410h5v5h-5zM960 410h5v5h-5zM985 410h5v5h-5zM935 415h5v5h-5zM935 420h5v5h-5zM790 430h5v5h-5zM855 460h5v5h-5zM995 470h5v5h-5zM1000 475h5v5h-5zM1000 490h5v5h-5zM825 495h5v5h-5zM885 500h5v5h-5zM855 510h5v5h-5zM915 515h5v5h-5zM740 520h5v5h-5zM740 535h5v5h-5zM745 540h5v5h-5zM885 550h5v5h-5zM950 580h5v5h-5zM805 590h5v5h-5zM805 595h5v5h-5zM755 600h5v5h-5zM780 600h5v5h-5zM910 600h5v5h-5zM745 605h5v5h-5zM785 605h5v5h-5zM895 610h5v5h-5zM935 625h5v5h-5zM755 630h10v5h-10zM980 645h10v5h-10z"/><path fill="#767676" d="M910 365h5v5h-5zM960 365h5v5h-5zM780 380h5v5h-5zM830 380h5v5h-5zM815 395h5v5h-5zM845 395h5v5h-5zM790 405h5v5h-5zM800 405h5v5h-5zM960 420h5v5h-5zM785 425h5v5h-5zM805 425h5v5h-5zM800 430h5v5h-5zM860 450h5v5h-5zM880 455h5v5h-5zM1010 455h5v5h-5zM1010 465h5v5h-5zM825 470h5v5h-5zM860 470h5v5h-5zM820 475h5v5h-5zM875 490h5v5h-5zM995 495h5v5h-5zM1010 495h5v5h-5zM855 500h5v5h-5zM885 510h5v5h-5zM730 515h5v5h-5zM745 515h5v5h-5zM865 520h5v5h-5zM920 535h5v5h-5zM880 540h5v5h-5zM915 540h5v5h-5zM730 545h5v5h-5zM730 555h5v5h-5zM860 555h5v5h-5zM880 560h5v5h-5zM940 580h5v5h-5zM935 585h5v5h-5zM955 585h5v5h-5zM780 590h5v5h-5zM940 605h5v5h-5zM950 605h5v5h-5zM895 615h5v5h-5zM925 615h5v5h-5zM910 630h5v5h-5zM960 630h5v5h-5zM780 645h5v5h-5zM830 645h5v5h-5z"/><path fill="#797979" d="M780 365h5v5h-5zM960 380h5v5h-5zM785 385h5v5h-5zM820 385h5v5h-5zM970 400h5v5h-5zM795 405h5v5h-5zM820 405h5v5h-5zM945 405h10v5h-10zM785 410h5v5h-5zM805 410h5v5h-5zM960 415h5v5h-5zM795 430h5v5h-5zM945 430h10v5h-10zM1010 460h5v5h-5zM880 465h5v5h-5zM840 470h5v5h-5zM865 490h5v5h-5zM855 505h5v5h-5zM885 505h5v5h-5zM875 520h5v5h-5zM900 540h5v5h-5zM860 545h5v5h-5zM730 550h5v5h-5zM790 580h10v5h-10zM945 580h5v5h-5zM780 595h5v5h-5zM935 600h5v5h-5zM955 600h5v5h-5zM790 605h10v5h-10zM920 605h5v5h-5zM945 605h5v5h-5zM770 610h5v5h-5zM920 625h5v5h-5zM955 625h5v5h-5zM780 630h5v5h-5zM960 645h5v5h-5z"/><path fill="#7b7b7b" d="M840 385h5v5h-5zM955 385h5v5h-5zM970 390h5v5h-5zM875 450h5v5h-5zM880 460h5v5h-5zM875 470h5v5h-5zM980 470h5v5h-5zM845 475h5v5h-5zM1000 480h5v5h-5zM1000 485h5v5h-5zM845 490h5v5h-5zM870 490h5v5h-5zM840 495h5v5h-5zM980 495h5v5h-5zM760 515h5v5h-5zM900 515h5v5h-5zM870 520h5v5h-5zM895 520h5v5h-5zM740 525h5v5h-5zM740 530h5v5h-5zM895 535h5v5h-5zM760 540h5v5h-5zM865 540h5v5h-5zM860 550h5v5h-5zM865 560h5v5h-5zM770 620h5v5h-5zM785 625h5v5h-5zM900 625h5v5h-5z"/><path fill="#7e7e7e" d="M970 395h5v5h-5zM840 405h5v5h-5zM975 405h5v5h-5zM940 410h5v5h-5zM955 410h5v5h-5zM805 415h5v5h-5zM805 420h5v5h-5zM940 425h5v5h-5zM860 465h5v5h-5zM865 470h5v5h-5zM990 470h5v5h-5zM975 490h5v5h-5zM880 495h5v5h-5zM860 515h5v5h-5zM765 520h5v5h-5zM750 540h5v5h-5zM875 540h5v5h-5zM880 545h5v5h-5zM800 585h5v5h-5zM935 590h5v5h-5zM935 595h5v5h-5zM785 600h5v5h-5zM800 600h5v5h-5zM765 605h5v5h-5zM900 605h5v5h-5zM770 615h5v5h-5z"/><path fill="#818181" d="M805 365h5v5h-5zM960 370h5v5h-5zM780 375h5v5h-5zM935 380h5v5h-5zM940 385h5v5h-5zM975 385h5v5h-5zM785 415h5v5h-5zM785 420h5v5h-5zM955 425h5v5h-5zM865 450h5v5h-5zM860 455h5v5h-5zM870 470h5v5h-5zM820 485h5v5h-5zM860 495h5v5h-5zM730 500h5v5h-5zM1010 500h5v5h-5zM730 510h5v5h-5zM1010 510h5v5h-5zM880 515h5v5h-5zM920 525h5v5h-5zM870 540h5v5h-5zM880 555h5v5h-5zM875 560h5v5h-5zM785 585h5v5h-5zM955 590h5v5h-5zM955 595h5v5h-5zM765 625h5v5h-5zM800 625h5v5h-5zM805 630h5v5h-5zM960 635h5v5h-5zM780 640h5v5h-5zM935 645h5v5h-5z"/><path fill="#848484" d="M935 365h5v5h-5zM780 370h5v5h-5zM960 375h5v5h-5zM805 380h5v5h-5zM800 385h5v5h-5zM800 410h5v5h-5zM870 450h5v5h-5zM860 460h5v5h-5zM830 470h10v5h-10zM985 470h5v5h-5zM975 475h5v5h-5zM820 480h5v5h-5zM830 495h5v5h-5zM990 495h5v5h-5zM750 515h5v5h-5zM910 515h5v5h-5zM920 530h5v5h-5zM765 535h5v5h-5zM755 540h5v5h-5zM905 540h10v5h-10zM880 550h5v5h-5zM870 560h5v5h-5zM940 600h5v5h-5zM940 625h5v5h-5zM935 630h5v5h-5zM780 635h5v5h-5zM960 640h5v5h-5zM805 645h5v5h-5z"/><path fill="#868686" d="M995 390h5v5h-5zM790 410h5v5h-5zM945 410h10v5h-10zM955 415h5v5h-5zM790 425h5v5h-5zM800 425h5v5h-5zM845 480h5v5h-5zM845 485h5v5h-5zM835 495h5v5h-5zM985 495h5v5h-5zM730 505h5v5h-5zM1010 505h5v5h-5zM755 515h5v5h-5zM905 515h5v5h-5zM895 525h5v5h-5zM895 530h5v5h-5zM940 585h5v5h-5zM950 585h5v5h-5zM785 595h5v5h-5zM790 600h10v5h-10zM950 600h5v5h-5zM745 620h5v5h-5z"/><path fill="#898989" d="M790 385h5v5h-5zM950 385h5v5h-5zM820 400h5v5h-5zM995 400h5v5h-5zM795 410h5v5h-5zM940 415h5v5h-5zM940 420h5v5h-5zM955 420h5v5h-5zM875 455h5v5h-5zM875 465h5v5h-5zM995 475h5v5h-5zM745 535h5v5h-5zM865 545h5v5h-5zM865 555h5v5h-5zM785 590h5v5h-5zM800 590h5v5h-5zM800 595h5v5h-5zM945 600h5v5h-5zM745 610h5v5h-5zM920 610h5v5h-5zM790 625h5v5h-5zM950 625h5v5h-5z"/><path fill="#8c8c8c" d="M795 385h5v5h-5zM945 385h5v5h-5zM990 385h5v5h-5zM820 390h5v5h-5zM825 405h5v5h-5zM990 405h5v5h-5zM800 415h5v5h-5zM795 425h5v5h-5zM945 425h10v5h-10zM865 465h5v5h-5zM995 490h5v5h-5zM745 520h5v5h-5zM875 545h5v5h-5zM790 585h10v5h-10zM945 585h5v5h-5zM940 595h5v5h-5zM750 605h5v5h-5zM915 605h5v5h-5zM920 620h5v5h-5zM750 625h5v5h-5zM795 625h5v5h-5zM945 625h5v5h-5z"/><path fill="#8e8e8e" d="M825 385h5v5h-5zM800 420h5v5h-5zM865 455h5v5h-5zM875 460h5v5h-5zM865 550h5v5h-5zM875 555h5v5h-5zM940 590h5v5h-5zM915 625h5v5h-5z"/><path fill="#919191" d="M805 370h5v5h-5zM935 370h5v5h-5zM805 375h5v5h-5zM935 375h5v5h-5zM820 395h5v5h-5zM980 405h5v5h-5zM790 415h5v5h-5zM790 420h5v5h-5zM870 465h5v5h-5zM870 545h5v5h-5zM950 590h5v5h-5zM950 595h5v5h-5zM760 605h5v5h-5zM920 615h5v5h-5zM805 635h5v5h-5zM935 635h5v5h-5zM805 640h5v5h-5zM935 640h5v5h-5z"/><path fill="#949494" d="M955 365h5v5h-5zM785 380h5v5h-5zM995 395h5v5h-5zM835 405h5v5h-5zM795 415h5v5h-5zM945 415h10v5h-10zM950 420h5v5h-5zM870 455h5v5h-5zM865 460h5v5h-5zM840 475h5v5h-5zM975 480h5v5h-5zM975 485h5v5h-5zM880 500h5v5h-5zM860 510h5v5h-5zM765 525h5v5h-5zM765 530h5v5h-5zM900 535h5v5h-5zM875 550h5v5h-5zM870 555h5v5h-5zM790 590h5v5h-5zM790 595h10v5h-10zM945 595h5v5h-5zM905 605h5v5h-5zM745 615h5v5h-5zM955 630h5v5h-5zM785 645h5v5h-5z"/><path fill="#969696" d="M785 365h5v5h-5zM955 380h5v5h-5zM835 385h5v5h-5zM980 385h5v5h-5zM975 400h5v5h-5zM795 420h5v5h-5zM945 420h5v5h-5zM870 460h5v5h-5zM825 475h5v5h-5zM825 490h5v5h-5zM840 490h5v5h-5zM865 495h5v5h-5zM875 495h5v5h-5zM860 500h5v5h-5zM880 510h5v5h-5zM865 515h5v5h-5zM875 515h5v5h-5zM900 520h5v5h-5zM915 520h5v5h-5zM915 535h5v5h-5zM870 550h5v5h-5zM795 590h5v5h-5zM945 590h5v5h-5zM765 610h5v5h-5zM760 625h5v5h-5zM905 625h5v5h-5zM785 630h5v5h-5zM955 645h5v5h-5z"/><path fill="#999999" d="M840 390h5v5h-5zM975 390h5v5h-5zM840 400h5v5h-5zM830 405h5v5h-5zM985 405h5v5h-5zM755 605h5v5h-5zM910 605h5v5h-5zM900 610h5v5h-5zM765 620h5v5h-5zM900 620h5v5h-5z"/><path fill="#9c9c9c" d="M995 480h5v5h-5zM995 485h5v5h-5zM745 525h5v5h-5zM745 530h5v5h-5z"/><path fill="#9e9e9e" d="M830 385h5v5h-5zM985 385h5v5h-5zM860 505h5v5h-5zM880 505h5v5h-5zM755 625h5v5h-5zM910 625h5v5h-5z"/><path fill="#a1a1a1" d="M800 365h5v5h-5zM940 365h5v5h-5zM800 380h5v5h-5zM940 380h5v5h-5zM975 395h5v5h-5zM980 475h5v5h-5zM870 495h5v5h-5zM870 515h5v5h-5zM760 535h5v5h-5zM765 615h5v5h-5zM800 630h5v5h-5zM940 630h5v5h-5zM800 645h5v5h-5zM940 645h5v5h-5z"/><path fill="#a4a4a4" d="M990 475h5v5h-5zM980 490h5v5h-5zM760 520h5v5h-5zM750 535h5v5h-5z"/><path fill="#a6a6a6" d="M840 395h5v5h-5zM900 615h5v5h-5z"/><path fill="#a9a9a9" d="M785 370h5v5h-5zM955 370h5v5h-5zM785 375h5v5h-5zM955 375h5v5h-5zM990 490h5v5h-5zM750 520h5v5h-5zM785 635h5v5h-5zM955 635h5v5h-5zM785 640h5v5h-5zM955 640h5v5h-5z"/><path fill="#acacac" d="M825 400h5v5h-5zM830 475h10v5h-10zM840 480h5v5h-5zM840 485h5v5h-5zM900 525h5v5h-5zM900 530h5v5h-5zM905 535h10v5h-10zM915 610h5v5h-5z"/><path fill="#aeaeae" d="M950 365h5v5h-5zM790 380h5v5h-5zM825 390h5v5h-5zM985 475h5v5h-5zM755 535h5v5h-5zM915 620h5v5h-5zM950 630h5v5h-5zM790 645h5v5h-5z"/><path fill="#b1b1b1" d="M790 365h5v5h-5zM950 380h5v5h-5zM990 400h5v5h-5zM825 480h5v5h-5zM825 485h5v5h-5zM830 490h10v5h-10zM905 520h10v5h-10zM915 525h5v5h-5zM915 530h5v5h-5zM750 610h5v5h-5zM790 630h5v5h-5zM950 645h5v5h-5z"/><path fill="#b4b4b4" d="M990 390h5v5h-5zM985 490h5v5h-5zM755 520h5v5h-5zM750 620h5v5h-5z"/><path fill="#b7b7b7" d="M795 365h5v5h-5zM945 365h5v5h-5zM795 380h5v5h-5zM945 380h5v5h-5zM980 400h5v5h-5zM760 610h5v5h-5zM795 630h5v5h-5zM945 630h5v5h-5zM795 645h5v5h-5zM945 645h5v5h-5z"/><path fill="#b9b9b9" d="M875 500h5v5h-5zM865 510h5v5h-5z"/><path fill="#bcbcbc" d="M800 370h5v5h-5zM940 370h5v5h-5zM800 375h5v5h-5zM940 375h5v5h-5zM980 390h5v5h-5zM825 395h5v5h-5zM835 400h5v5h-5zM865 500h5v5h-5zM875 510h5v5h-5zM905 610h5v5h-5zM915 615h5v5h-5zM760 620h5v5h-5zM800 635h5v5h-5zM940 635h5v5h-5zM800 640h5v5h-5zM940 640h5v5h-5z"/><path fill="#bfbfbf" d="M835 390h5v5h-5zM905 620h5v5h-5z"/><path fill="#c1c1c1" d="M990 395h5v5h-5zM980 480h5v5h-5zM990 480h5v5h-5zM980 485h5v5h-5zM760 525h5v5h-5zM750 530h5v5h-5zM760 530h5v5h-5zM750 615h5v5h-5z"/><path fill="#c4c4c4" d="M830 400h5v5h-5zM985 400h5v5h-5zM990 485h5v5h-5zM750 525h5v5h-5zM755 610h5v5h-5zM910 610h5v5h-5z"/><path fill="#c7c7c7" d="M830 390h5v5h-5zM910 620h5v5h-5z"/><path fill="#c9c9c9" d="M985 390h5v5h-5zM755 620h5v5h-5z"/><path fill="#cccccc" d="M980 395h5v5h-5zM835 480h5v5h-5zM870 500h5v5h-5zM865 505h5v5h-5zM875 505h5v5h-5zM870 510h5v5h-5zM905 530h5v5h-5zM760 615h5v5h-5z"/><path fill="#cfcfcf" d="M790 370h5v5h-5zM950 370h5v5h-5zM790 375h5v5h-5zM950 375h5v5h-5zM835 485h5v5h-5zM905 525h5v5h-5zM790 635h5v5h-5zM950 635h5v5h-5zM790 640h5v5h-5zM950 640h5v5h-5z"/><path fill="#d1d1d1" d="M835 395h5v5h-5zM830 480h5v5h-5zM910 530h5v5h-5zM905 615h5v5h-5z"/><path fill="#d4d4d4" d="M985 480h5v5h-5zM830 485h5v5h-5zM910 525h5v5h-5zM755 530h5v5h-5z"/><path fill="#d7d7d7" d="M795 370h5v5h-5zM945 370h5v5h-5zM795 375h5v5h-5zM945 375h5v5h-5zM985 485h5v5h-5zM755 525h5v5h-5zM795 635h5v5h-5zM945 635h5v5h-5zM795 640h5v5h-5zM945 640h5v5h-5z"/><path fill="#d9d9d9" d="M830 395h5v5h-5zM985 395h5v5h-5zM755 615h5v5h-5zM910 615h5v5h-5z"/><path fill="#dfdfdf" d="M870 505h5v5h-5z"/></g>
<path d="M796,463.3L796,551.7L872.5,595.8L949,551.7L949,463.3L872.5,419.2L796,463.3" fill="none" stroke="#fff" stroke-width="3.1" stroke-dasharray="15.5 14" stroke-dashoffset="16.5"/>
<path d="M796,463.3L719.5,419.2M796,551.7L719.5,595.8M872.5,419.2L872.5,330.8M872.5,595.8L872.5,684.2M949,463.3L1025.5,419.2M949,551.7L1025.5,595.8" fill="none" stroke="#fff" stroke-width="3.1" stroke-dasharray="15.5 14" stroke-dashoffset="2"/>
<path d="M923.5,507.5L898,463.3L847,463.3L821.5,507.5L847,551.7L898,551.7Z" fill="none" stroke="#f7de3e" stroke-width="3"/>
</g>
<rect x="910" y="377" width="93" height="29.6" fill="#464b4b" fill-opacity="0.93"/>
<text x="957" y="400" font-size="24.5" fill="#fff" text-anchor="middle">S<tspan font-size="20" dy="-9.5">xx</tspan><tspan dy="9.5">(k)</tspan></text>
<path d="M740,375V640H1006.5" fill="none" stroke="#222" stroke-width="2"/>
<path d="M740,375H1005" fill="none" stroke="#999" stroke-width="1"/>
<text x="728" y="385" font-size="28" text-anchor="end">2</text>
<text x="728" y="451.2" font-size="28" text-anchor="end">1</text>
<text x="728" y="517.5" font-size="28" text-anchor="end">0</text>
<text x="728" y="583.8" font-size="28" text-anchor="end">-1</text>
<text x="728" y="654" font-size="28" text-anchor="end">-2</text>
<text x="735" y="674" font-size="28" text-anchor="middle">-2</text>
<text x="871.5" y="674" font-size="28" text-anchor="middle">0</text>
<text x="1008" y="674" font-size="28" text-anchor="middle">2</text>
<rect x="1016" y="634.4" width="35" height="4.7" fill="#2d2e6e"/>
<rect x="1016" y="630.3" width="35" height="4.7" fill="#2e3183"/>
<rect x="1016" y="626.2" width="35" height="4.7" fill="#2e358f"/>
<rect x="1016" y="622.1" width="35" height="4.7" fill="#2e3a94"/>
<rect x="1016" y="618" width="35" height="4.7" fill="#2e3f98"/>
<rect x="1016" y="613.8" width="35" height="4.7" fill="#2e439c"/>
<rect x="1016" y="609.7" width="35" height="4.7" fill="#2e47a0"/>
<rect x="1016" y="605.6" width="35" height="4.7" fill="#2e4ba3"/>
<rect x="1016" y="601.5" width="35" height="4.7" fill="#2e4fa6"/>
<rect x="1016" y="597.4" width="35" height="4.7" fill="#2f54a9"/>
<rect x="1016" y="593.3" width="35" height="4.7" fill="#2f58ab"/>
<rect x="1016" y="589.2" width="35" height="4.7" fill="#305cae"/>
<rect x="1016" y="585.1" width="35" height="4.7" fill="#3262b3"/>
<rect x="1016" y="581" width="35" height="4.7" fill="#3568b7"/>
<rect x="1016" y="576.9" width="35" height="4.7" fill="#3771bd"/>
<rect x="1016" y="572.8" width="35" height="4.7" fill="#3a7cc4"/>
<rect x="1016" y="568.6" width="35" height="4.7" fill="#3e87cb"/>
<rect x="1016" y="564.5" width="35" height="4.7" fill="#4290d0"/>
<rect x="1016" y="560.4" width="35" height="4.7" fill="#489bd6"/>
<rect x="1016" y="556.3" width="35" height="4.7" fill="#50a6dc"/>
<rect x="1016" y="552.2" width="35" height="4.7" fill="#5ab2e0"/>
<rect x="1016" y="548.1" width="35" height="4.7" fill="#65bfe3"/>
<rect x="1016" y="544" width="35" height="4.7" fill="#6fc7e2"/>
<rect x="1016" y="539.9" width="35" height="4.7" fill="#78cee0"/>
<rect x="1016" y="535.8" width="35" height="4.7" fill="#80d4dc"/>
<rect x="1016" y="531.7" width="35" height="4.7" fill="#80d5d2"/>
<rect x="1016" y="527.5" width="35" height="4.7" fill="#80d5c8"/>
<rect x="1016" y="523.4" width="35" height="4.7" fill="#80d6be"/>
<rect x="1016" y="519.3" width="35" height="4.7" fill="#85d7b0"/>
<rect x="1016" y="515.2" width="35" height="4.7" fill="#8ad7a2"/>
<rect x="1016" y="511.1" width="35" height="4.7" fill="#8fd893"/>
<rect x="1016" y="507" width="35" height="4.7" fill="#97d986"/>
<rect x="1016" y="502.9" width="35" height="4.7" fill="#a1db7a"/>
<rect x="1016" y="498.8" width="35" height="4.7" fill="#abdc6d"/>
<rect x="1016" y="494.7" width="35" height="4.7" fill="#bbde61"/>
<rect x="1016" y="490.6" width="35" height="4.7" fill="#cbdf54"/>
<rect x="1016" y="486.5" width="35" height="4.7" fill="#d7e04c"/>
<rect x="1016" y="482.3" width="35" height="4.7" fill="#e1e046"/>
<rect x="1016" y="478.2" width="35" height="4.7" fill="#eadf40"/>
<rect x="1016" y="474.1" width="35" height="4.7" fill="#edd93d"/>
<rect x="1016" y="470" width="35" height="4.7" fill="#efd33b"/>
<rect x="1016" y="465.9" width="35" height="4.7" fill="#f0c938"/>
<rect x="1016" y="461.8" width="35" height="4.7" fill="#f1bd34"/>
<rect x="1016" y="457.7" width="35" height="4.7" fill="#f2b030"/>
<rect x="1016" y="453.6" width="35" height="4.7" fill="#f2a12d"/>
<rect x="1016" y="449.5" width="35" height="4.7" fill="#f2932a"/>
<rect x="1016" y="445.4" width="35" height="4.7" fill="#f18327"/>
<rect x="1016" y="441.2" width="35" height="4.7" fill="#ef7424"/>
<rect x="1016" y="437.1" width="35" height="4.7" fill="#ec6420"/>
<rect x="1016" y="433" width="35" height="4.7" fill="#e9571f"/>
<rect x="1016" y="428.9" width="35" height="4.7" fill="#e64b1f"/>
<rect x="1016" y="424.8" width="35" height="4.7" fill="#e3401e"/>
<rect x="1016" y="420.7" width="35" height="4.7" fill="#e13b1f"/>
<rect x="1016" y="416.6" width="35" height="4.7" fill="#df361f"/>
<rect x="1016" y="412.5" width="35" height="4.7" fill="#dd3120"/>
<rect x="1016" y="408.4" width="35" height="4.7" fill="#d72d20"/>
<rect x="1016" y="404.3" width="35" height="4.7" fill="#cb2c22"/>
<rect x="1016" y="400.2" width="35" height="4.7" fill="#c02a23"/>
<rect x="1016" y="396" width="35" height="4.7" fill="#b42924"/>
<rect x="1016" y="391.9" width="35" height="4.7" fill="#a72724"/>
<rect x="1016" y="387.8" width="35" height="4.7" fill="#992423"/>
<rect x="1016" y="383.7" width="35" height="4.7" fill="#8b2222"/>
<rect x="1016" y="379.6" width="35" height="4.7" fill="#7f2020"/>
<rect x="1016" y="375.5" width="35" height="4.7" fill="#721f1f"/>
<rect x="1016" y="375.5" width="35" height="263" fill="none" stroke="#555" stroke-width="0.8"/>
<path d="M1051,375.5h-4" stroke="#333" stroke-width="1.2"/>
<text x="1051.5" y="385" font-size="28.5">0.6</text>
<path d="M1051,480.7h-4" stroke="#333" stroke-width="1.2"/>
<text x="1051.5" y="490.2" font-size="28.5">0.4</text>
<path d="M1051,585.9h-4" stroke="#333" stroke-width="1.2"/>
<text x="1051.5" y="595.4" font-size="28.5">0.2</text>
<text x="871.5" y="709" font-size="30" text-anchor="middle"><tspan font-style="italic">k</tspan><tspan font-size="19" dy="6">x</tspan><tspan dy="-6" dx="3">/</tspan><tspan dx="3" font-family="Liberation Serif, serif" font-style="italic">π</tspan></text>
<text transform="translate(695,508.5) rotate(-90)" font-size="30" text-anchor="middle"><tspan font-style="italic">k</tspan><tspan font-size="19" dy="6">y</tspan><tspan dy="-6" dx="3">/</tspan><tspan dx="3" font-family="Liberation Serif, serif" font-style="italic">π</tspan></text>
<text x="646" y="385" font-size="40" font-weight="bold">e</text>
<g clip-path="url(#clipf)"><g filter="url(#cmf)"><path fill="#0d0d0d" d="M1181 365h5v5h-5zM1331 365h10v5h-10zM1306 380h10v5h-10zM1461 380h5v5h-5zM1306 385h10v5h-10zM1461 385h5v5h-5zM1461 390h5v5h-5zM1256 490h10v5h-10zM1406 490h10v5h-10zM1251 495h15v5h-15zM1406 495h10v5h-10zM1256 500h5v5h-5zM1406 500h5v5h-5zM1236 510h5v5h-5zM1386 510h5v5h-5zM1231 515h10v5h-10zM1381 515h15v5h-15zM1231 520h10v5h-10zM1381 520h10v5h-10zM1181 620h5v5h-5zM1181 625h5v5h-5zM1331 625h10v5h-10zM1181 630h5v5h-5zM1331 630h10v5h-10zM1306 645h10v5h-10zM1461 645h5v5h-5z"/><path fill="#101010" d="M1326 365h5v5h-5zM1326 370h10v5h-10zM1311 375h10v5h-10zM1316 380h5v5h-5zM1316 385h5v5h-5zM1456 385h5v5h-5zM1306 390h10v5h-10zM1456 390h5v5h-5zM1256 485h10v5h-10zM1411 485h5v5h-5zM1251 490h5v5h-5zM1416 490h5v5h-5zM1401 495h5v5h-5zM1416 495h5v5h-5zM1246 500h10v5h-10zM1401 500h5v5h-5zM1411 500h5v5h-5zM1231 510h5v5h-5zM1241 510h5v5h-5zM1391 510h10v5h-10zM1226 515h5v5h-5zM1241 515h5v5h-5zM1226 520h5v5h-5zM1391 520h5v5h-5zM1231 525h5v5h-5zM1381 525h10v5h-10zM1186 620h5v5h-5zM1331 620h10v5h-10zM1186 625h5v5h-5zM1326 625h5v5h-5zM1326 630h5v5h-5zM1326 635h10v5h-10zM1311 640h10v5h-10zM1316 645h5v5h-5z"/><path fill="#131313" d="M1186 365h5v5h-5zM1321 365h5v5h-5zM1181 370h5v5h-5zM1316 370h10v5h-10zM1336 370h5v5h-5zM1306 375h5v5h-5zM1321 375h10v5h-10zM1461 375h5v5h-5zM1321 380h5v5h-5zM1456 380h5v5h-5zM1301 385h5v5h-5zM1301 390h5v5h-5zM1316 390h5v5h-5zM1301 395h15v5h-15zM1456 395h10v5h-10zM1256 480h10v5h-10zM1411 480h10v5h-10zM1251 485h5v5h-5zM1406 485h5v5h-5zM1416 485h5v5h-5zM1266 490h5v5h-5zM1401 490h5v5h-5zM1246 495h5v5h-5zM1261 500h5v5h-5zM1396 500h5v5h-5zM1236 505h25v5h-25zM1386 505h25v5h-25zM1246 510h5v5h-5zM1381 510h5v5h-5zM1396 515h5v5h-5zM1241 520h5v5h-5zM1376 520h5v5h-5zM1226 525h5v5h-5zM1236 525h5v5h-5zM1391 525h5v5h-5zM1226 530h10v5h-10zM1381 530h10v5h-10zM1181 615h10v5h-10zM1331 615h15v5h-15zM1326 620h5v5h-5zM1341 620h5v5h-5zM1341 625h5v5h-5zM1186 630h5v5h-5zM1321 630h5v5h-5zM1181 635h5v5h-5zM1316 635h10v5h-10zM1336 635h5v5h-5zM1306 640h5v5h-5zM1321 640h10v5h-10zM1461 640h5v5h-5zM1321 645h5v5h-5zM1456 645h5v5h-5z"/><path fill="#151515" d="M1316 365h5v5h-5zM1341 365h5v5h-5zM1311 370h5v5h-5zM1331 375h5v5h-5zM1301 380h5v5h-5zM1326 380h5v5h-5zM1321 385h5v5h-5zM1451 390h5v5h-5zM1316 395h5v5h-5zM1451 395h5v5h-5zM1301 400h15v5h-15zM1451 400h15v5h-15zM1301 405h10v5h-10zM1451 405h15v5h-15zM1296 410h10v5h-10zM1451 410h10v5h-10zM1296 415h5v5h-5zM1451 415h5v5h-5zM1266 465h5v5h-5zM1421 465h5v5h-5zM1261 470h10v5h-10zM1416 470h10v5h-10zM1256 475h15v5h-15zM1411 475h15v5h-15zM1251 480h5v5h-5zM1266 480h5v5h-5zM1406 480h5v5h-5zM1421 480h5v5h-5zM1266 485h5v5h-5zM1401 485h5v5h-5zM1421 485h5v5h-5zM1246 490h5v5h-5zM1421 490h5v5h-5zM1266 495h5v5h-5zM1396 495h5v5h-5zM1241 500h5v5h-5zM1391 500h5v5h-5zM1416 500h5v5h-5zM1231 505h5v5h-5zM1411 505h5v5h-5zM1226 510h5v5h-5zM1251 510h5v5h-5zM1401 510h5v5h-5zM1246 515h5v5h-5zM1376 515h5v5h-5zM1221 520h5v5h-5zM1396 520h5v5h-5zM1221 525h5v5h-5zM1241 525h5v5h-5zM1376 525h5v5h-5zM1221 530h5v5h-5zM1236 530h5v5h-5zM1376 530h5v5h-5zM1391 530h5v5h-5zM1221 535h15v5h-15zM1376 535h15v5h-15zM1221 540h10v5h-10zM1376 540h10v5h-10zM1221 545h5v5h-5zM1376 545h5v5h-5zM1191 595h5v5h-5zM1346 595h5v5h-5zM1186 600h10v5h-10zM1341 600h10v5h-10zM1181 605h15v5h-15zM1336 605h10v5h-10zM1181 610h15v5h-15zM1331 610h15v5h-15zM1191 615h5v5h-5zM1326 615h5v5h-5zM1191 620h5v5h-5zM1321 625h5v5h-5zM1316 630h5v5h-5zM1341 630h5v5h-5zM1311 635h5v5h-5zM1331 640h5v5h-5zM1301 645h5v5h-5zM1326 645h5v5h-5z"/><path fill="#181818" d="M1186 370h5v5h-5zM1461 370h5v5h-5zM1181 375h5v5h-5zM1456 375h5v5h-5zM1451 385h5v5h-5zM1296 390h5v5h-5zM1321 390h5v5h-5zM1296 395h5v5h-5zM1296 400h5v5h-5zM1316 400h5v5h-5zM1446 400h5v5h-5zM1296 405h5v5h-5zM1311 405h5v5h-5zM1446 405h5v5h-5zM1291 410h5v5h-5zM1306 410h5v5h-5zM1446 410h5v5h-5zM1461 410h5v5h-5zM1291 415h5v5h-5zM1301 415h10v5h-10zM1441 415h10v5h-10zM1456 415h5v5h-5zM1291 420h15v5h-15zM1441 420h15v5h-15zM1286 425h15v5h-15zM1441 425h15v5h-15zM1286 430h10v5h-10zM1441 430h10v5h-10zM1286 435h5v5h-5zM1436 435h10v5h-10zM1281 440h5v5h-5zM1436 440h5v5h-5zM1276 445h10v5h-10zM1431 445h10v5h-10zM1271 450h15v5h-15zM1426 450h10v5h-10zM1266 455h15v5h-15zM1421 455h15v5h-15zM1261 460h20v5h-20zM1416 460h20v5h-20zM1261 465h5v5h-5zM1271 465h10v5h-10zM1411 465h10v5h-10zM1426 465h5v5h-5zM1256 470h5v5h-5zM1271 470h5v5h-5zM1411 470h5v5h-5zM1426 470h5v5h-5zM1251 475h5v5h-5zM1271 475h5v5h-5zM1406 475h5v5h-5zM1426 475h5v5h-5zM1271 480h5v5h-5zM1401 480h5v5h-5zM1246 485h5v5h-5zM1396 490h5v5h-5zM1241 495h5v5h-5zM1236 500h5v5h-5zM1261 505h5v5h-5zM1381 505h5v5h-5zM1406 510h5v5h-5zM1401 515h5v5h-5zM1246 520h5v5h-5zM1396 525h5v5h-5zM1241 530h5v5h-5zM1371 530h5v5h-5zM1216 535h5v5h-5zM1236 535h5v5h-5zM1371 535h5v5h-5zM1391 535h5v5h-5zM1216 540h5v5h-5zM1231 540h5v5h-5zM1371 540h5v5h-5zM1386 540h5v5h-5zM1216 545h5v5h-5zM1226 545h10v5h-10zM1366 545h10v5h-10zM1381 545h5v5h-5zM1211 550h20v5h-20zM1366 550h20v5h-20zM1211 555h15v5h-15zM1366 555h15v5h-15zM1211 560h10v5h-10zM1361 560h15v5h-15zM1206 565h10v5h-10zM1361 565h10v5h-10zM1206 570h5v5h-5zM1361 570h5v5h-5zM1201 575h10v5h-10zM1356 575h5v5h-5zM1196 580h10v5h-10zM1351 580h10v5h-10zM1191 585h15v5h-15zM1346 585h15v5h-15zM1191 590h15v5h-15zM1341 590h15v5h-15zM1186 595h5v5h-5zM1196 595h10v5h-10zM1336 595h10v5h-10zM1351 595h5v5h-5zM1181 600h5v5h-5zM1196 600h5v5h-5zM1336 600h5v5h-5zM1351 600h5v5h-5zM1196 605h5v5h-5zM1331 605h5v5h-5zM1346 605h5v5h-5zM1196 610h5v5h-5zM1326 610h5v5h-5zM1346 610h5v5h-5zM1346 615h5v5h-5zM1321 620h5v5h-5zM1346 620h5v5h-5zM1191 625h5v5h-5zM1186 635h5v5h-5zM1461 635h5v5h-5zM1181 640h5v5h-5zM1456 640h5v5h-5z"/><path fill="#1b1b1b" d="M1191 365h5v5h-5zM1311 365h5v5h-5zM1306 370h5v5h-5zM1341 370h5v5h-5zM1301 375h5v5h-5zM1336 375h5v5h-5zM1331 380h5v5h-5zM1451 380h5v5h-5zM1296 385h5v5h-5zM1326 385h5v5h-5zM1321 395h5v5h-5zM1446 395h5v5h-5zM1291 400h5v5h-5zM1291 405h5v5h-5zM1316 405h5v5h-5zM1286 410h5v5h-5zM1311 410h5v5h-5zM1441 410h5v5h-5zM1286 415h5v5h-5zM1461 415h5v5h-5zM1286 420h5v5h-5zM1306 420h5v5h-5zM1436 420h5v5h-5zM1456 420h5v5h-5zM1281 425h5v5h-5zM1301 425h5v5h-5zM1436 425h5v5h-5zM1281 430h5v5h-5zM1296 430h5v5h-5zM1436 430h5v5h-5zM1451 430h5v5h-5zM1276 435h10v5h-10zM1291 435h5v5h-5zM1431 435h5v5h-5zM1446 435h5v5h-5zM1276 440h5v5h-5zM1286 440h10v5h-10zM1426 440h10v5h-10zM1441 440h5v5h-5zM1271 445h5v5h-5zM1286 445h5v5h-5zM1426 445h5v5h-5zM1441 445h5v5h-5zM1266 450h5v5h-5zM1286 450h5v5h-5zM1421 450h5v5h-5zM1436 450h5v5h-5zM1261 455h5v5h-5zM1281 455h5v5h-5zM1416 455h5v5h-5zM1436 455h5v5h-5zM1281 460h5v5h-5zM1411 460h5v5h-5zM1256 465h5v5h-5zM1431 465h5v5h-5zM1251 470h5v5h-5zM1276 470h5v5h-5zM1406 470h5v5h-5zM1431 470h5v5h-5zM1276 475h5v5h-5zM1401 475h5v5h-5zM1246 480h5v5h-5zM1426 480h5v5h-5zM1271 485h5v5h-5zM1396 485h5v5h-5zM1241 490h5v5h-5zM1391 495h5v5h-5zM1421 495h5v5h-5zM1266 500h5v5h-5zM1386 500h5v5h-5zM1256 510h5v5h-5zM1376 510h5v5h-5zM1221 515h5v5h-5zM1251 515h5v5h-5zM1401 520h5v5h-5zM1246 525h5v5h-5zM1371 525h5v5h-5zM1216 530h5v5h-5zM1396 530h5v5h-5zM1241 535h5v5h-5zM1366 535h5v5h-5zM1211 540h5v5h-5zM1236 540h5v5h-5zM1366 540h5v5h-5zM1391 540h5v5h-5zM1211 545h5v5h-5zM1386 545h5v5h-5zM1231 550h5v5h-5zM1361 550h5v5h-5zM1206 555h5v5h-5zM1226 555h5v5h-5zM1361 555h5v5h-5zM1381 555h5v5h-5zM1206 560h5v5h-5zM1221 560h5v5h-5zM1356 560h5v5h-5zM1376 560h5v5h-5zM1201 565h5v5h-5zM1216 565h5v5h-5zM1356 565h5v5h-5zM1371 565h5v5h-5zM1201 570h5v5h-5zM1211 570h10v5h-10zM1351 570h10v5h-10zM1366 570h5v5h-5zM1196 575h5v5h-5zM1211 575h5v5h-5zM1351 575h5v5h-5zM1361 575h10v5h-10zM1191 580h5v5h-5zM1206 580h5v5h-5zM1346 580h5v5h-5zM1361 580h5v5h-5zM1206 585h5v5h-5zM1341 585h5v5h-5zM1361 585h5v5h-5zM1186 590h5v5h-5zM1206 590h5v5h-5zM1336 590h5v5h-5zM1356 590h5v5h-5zM1181 595h5v5h-5zM1356 595h5v5h-5zM1201 600h5v5h-5zM1331 600h5v5h-5zM1356 600h5v5h-5zM1326 605h5v5h-5zM1351 605h5v5h-5zM1351 610h5v5h-5zM1196 615h5v5h-5zM1321 615h5v5h-5zM1316 625h5v5h-5zM1346 625h5v5h-5zM1191 630h5v5h-5zM1311 630h5v5h-5zM1306 635h5v5h-5zM1341 635h5v5h-5zM1301 640h5v5h-5zM1336 640h5v5h-5zM1331 645h5v5h-5zM1451 645h5v5h-5z"/><path fill="#1e1e1e" d="M1326 390h5v5h-5zM1446 390h5v5h-5zM1291 395h5v5h-5zM1321 400h5v5h-5zM1286 405h5v5h-5zM1441 405h5v5h-5zM1316 410h5v5h-5zM1311 415h5v5h-5zM1436 415h5v5h-5zM1281 420h5v5h-5zM1461 420h5v5h-5zM1431 425h5v5h-5zM1456 425h5v5h-5zM1276 430h5v5h-5zM1301 430h5v5h-5zM1431 430h5v5h-5zM1296 435h5v5h-5zM1426 435h5v5h-5zM1271 440h5v5h-5zM1446 440h5v5h-5zM1266 445h5v5h-5zM1291 445h5v5h-5zM1421 445h5v5h-5zM1416 450h5v5h-5zM1441 450h5v5h-5zM1286 455h5v5h-5zM1411 455h5v5h-5zM1256 460h5v5h-5zM1436 460h5v5h-5zM1251 465h5v5h-5zM1281 465h5v5h-5zM1406 465h5v5h-5zM1436 465h5v5h-5zM1401 470h5v5h-5zM1246 475h5v5h-5zM1431 475h5v5h-5zM1276 480h5v5h-5zM1396 480h5v5h-5zM1241 485h5v5h-5zM1426 485h5v5h-5zM1271 490h5v5h-5zM1391 490h5v5h-5zM1236 495h5v5h-5zM1231 500h5v5h-5zM1226 505h5v5h-5zM1416 505h5v5h-5zM1411 510h5v5h-5zM1406 515h5v5h-5zM1251 520h5v5h-5zM1371 520h5v5h-5zM1216 525h5v5h-5zM1401 525h5v5h-5zM1246 530h5v5h-5zM1366 530h5v5h-5zM1211 535h5v5h-5zM1396 535h5v5h-5zM1241 540h5v5h-5zM1206 545h5v5h-5zM1236 545h5v5h-5zM1361 545h5v5h-5zM1391 545h5v5h-5zM1206 550h5v5h-5zM1386 550h5v5h-5zM1231 555h5v5h-5zM1356 555h5v5h-5zM1201 560h5v5h-5zM1226 560h5v5h-5zM1221 565h5v5h-5zM1351 565h5v5h-5zM1376 565h5v5h-5zM1196 570h5v5h-5zM1371 570h5v5h-5zM1216 575h5v5h-5zM1346 575h5v5h-5zM1211 580h5v5h-5zM1341 580h5v5h-5zM1366 580h5v5h-5zM1186 585h5v5h-5zM1211 585h5v5h-5zM1181 590h5v5h-5zM1361 590h5v5h-5zM1206 595h5v5h-5zM1331 595h5v5h-5zM1326 600h5v5h-5zM1201 605h5v5h-5zM1356 605h5v5h-5zM1321 610h5v5h-5zM1351 615h5v5h-5zM1196 620h5v5h-5zM1316 620h5v5h-5z"/><path fill="#202020" d="M1346 365h5v5h-5zM1461 365h5v5h-5zM1456 370h5v5h-5zM1186 375h5v5h-5zM1181 380h5v5h-5zM1296 380h5v5h-5zM1331 385h5v5h-5zM1291 390h5v5h-5zM1441 400h5v5h-5zM1321 405h5v5h-5zM1436 410h5v5h-5zM1281 415h5v5h-5zM1311 420h5v5h-5zM1431 420h5v5h-5zM1276 425h5v5h-5zM1306 425h5v5h-5zM1461 425h5v5h-5zM1456 430h5v5h-5zM1271 435h5v5h-5zM1451 435h5v5h-5zM1296 440h5v5h-5zM1421 440h5v5h-5zM1446 445h5v5h-5zM1261 450h5v5h-5zM1291 450h5v5h-5zM1256 455h5v5h-5zM1441 455h5v5h-5zM1286 460h5v5h-5zM1406 460h5v5h-5zM1246 470h5v5h-5zM1281 470h5v5h-5zM1241 480h5v5h-5zM1236 490h5v5h-5zM1426 490h5v5h-5zM1271 495h5v5h-5zM1386 495h5v5h-5zM1421 500h5v5h-5zM1221 510h5v5h-5zM1256 515h5v5h-5zM1371 515h5v5h-5zM1216 520h5v5h-5zM1406 520h5v5h-5zM1401 530h5v5h-5zM1361 540h5v5h-5zM1396 540h5v5h-5zM1236 550h5v5h-5zM1356 550h5v5h-5zM1201 555h5v5h-5zM1386 555h5v5h-5zM1351 560h5v5h-5zM1381 560h5v5h-5zM1196 565h5v5h-5zM1221 570h5v5h-5zM1346 570h5v5h-5zM1191 575h5v5h-5zM1371 575h5v5h-5zM1186 580h5v5h-5zM1181 585h5v5h-5zM1336 585h5v5h-5zM1366 585h5v5h-5zM1211 590h5v5h-5zM1331 590h5v5h-5zM1361 595h5v5h-5zM1206 600h5v5h-5zM1321 605h5v5h-5zM1201 610h5v5h-5zM1351 620h5v5h-5zM1311 625h5v5h-5zM1346 630h5v5h-5zM1461 630h5v5h-5zM1456 635h5v5h-5zM1186 640h5v5h-5zM1181 645h5v5h-5zM1296 645h5v5h-5z"/><path fill="#232323" d="M1306 365h5v5h-5zM1191 370h5v5h-5zM1451 375h5v5h-5zM1336 380h5v5h-5zM1446 385h5v5h-5zM1326 395h5v5h-5zM1441 395h5v5h-5zM1286 400h5v5h-5zM1436 405h5v5h-5zM1281 410h5v5h-5zM1316 415h5v5h-5zM1431 415h5v5h-5zM1306 430h5v5h-5zM1426 430h5v5h-5zM1301 435h5v5h-5zM1266 440h5v5h-5zM1451 440h5v5h-5zM1416 445h5v5h-5zM1411 450h5v5h-5zM1251 460h5v5h-5zM1441 460h5v5h-5zM1286 465h5v5h-5zM1401 465h5v5h-5zM1436 470h5v5h-5zM1281 475h5v5h-5zM1396 475h5v5h-5zM1431 480h5v5h-5zM1276 485h5v5h-5zM1391 485h5v5h-5zM1381 500h5v5h-5zM1266 505h5v5h-5zM1376 505h5v5h-5zM1261 510h5v5h-5zM1251 525h5v5h-5zM1366 525h5v5h-5zM1211 530h5v5h-5zM1246 535h5v5h-5zM1361 535h5v5h-5zM1206 540h5v5h-5zM1241 545h5v5h-5zM1356 545h5v5h-5zM1201 550h5v5h-5zM1391 550h5v5h-5zM1231 560h5v5h-5zM1226 565h5v5h-5zM1191 570h5v5h-5zM1376 570h5v5h-5zM1341 575h5v5h-5zM1216 580h5v5h-5zM1336 580h5v5h-5zM1211 595h5v5h-5zM1326 595h5v5h-5zM1361 600h5v5h-5zM1206 605h5v5h-5zM1356 610h5v5h-5zM1201 615h5v5h-5zM1316 615h5v5h-5zM1196 625h5v5h-5zM1306 630h5v5h-5zM1191 635h5v5h-5zM1451 640h5v5h-5zM1336 645h5v5h-5z"/><path fill="#262626" d="M1301 370h5v5h-5zM1341 375h5v5h-5zM1291 385h5v5h-5zM1326 400h5v5h-5zM1281 405h5v5h-5zM1321 410h5v5h-5zM1276 420h5v5h-5zM1311 425h5v5h-5zM1426 425h5v5h-5zM1271 430h5v5h-5zM1421 435h5v5h-5zM1456 435h5v5h-5zM1261 445h5v5h-5zM1296 445h5v5h-5zM1256 450h5v5h-5zM1446 450h5v5h-5zM1291 455h5v5h-5zM1406 455h5v5h-5zM1246 465h5v5h-5zM1396 470h5v5h-5zM1241 475h5v5h-5zM1436 475h5v5h-5zM1236 485h5v5h-5zM1431 485h5v5h-5zM1231 495h5v5h-5zM1426 495h5v5h-5zM1216 515h5v5h-5zM1411 515h5v5h-5zM1211 525h5v5h-5zM1406 525h5v5h-5zM1206 535h5v5h-5zM1401 535h5v5h-5zM1246 540h5v5h-5zM1396 545h5v5h-5zM1236 555h5v5h-5zM1351 555h5v5h-5zM1196 560h5v5h-5zM1386 560h5v5h-5zM1346 565h5v5h-5zM1381 565h5v5h-5zM1186 575h5v5h-5zM1221 575h5v5h-5zM1371 580h5v5h-5zM1216 585h5v5h-5zM1331 585h5v5h-5zM1366 590h5v5h-5zM1321 600h5v5h-5zM1361 605h5v5h-5zM1316 610h5v5h-5zM1351 625h5v5h-5zM1301 635h5v5h-5zM1341 640h5v5h-5z"/><path fill="#282828" d="M1196 365h5v5h-5zM1346 370h5v5h-5zM1296 375h5v5h-5zM1446 380h5v5h-5zM1181 385h5v5h-5zM1331 390h5v5h-5zM1441 390h5v5h-5zM1286 395h5v5h-5zM1436 400h5v5h-5zM1431 410h5v5h-5zM1276 415h5v5h-5zM1316 420h5v5h-5zM1461 430h5v5h-5zM1301 440h5v5h-5zM1416 440h5v5h-5zM1251 455h5v5h-5zM1446 455h5v5h-5zM1291 460h5v5h-5zM1401 460h5v5h-5zM1441 465h5v5h-5zM1286 470h5v5h-5zM1281 480h5v5h-5zM1391 480h5v5h-5zM1276 490h5v5h-5zM1386 490h5v5h-5zM1226 500h5v5h-5zM1271 500h5v5h-5zM1371 510h5v5h-5zM1416 510h5v5h-5zM1256 520h5v5h-5zM1366 520h5v5h-5zM1251 530h5v5h-5zM1361 530h5v5h-5zM1356 540h5v5h-5zM1201 545h5v5h-5zM1241 550h5v5h-5zM1351 550h5v5h-5zM1196 555h5v5h-5zM1391 555h5v5h-5zM1226 570h5v5h-5zM1341 570h5v5h-5zM1181 580h5v5h-5zM1326 590h5v5h-5zM1366 595h5v5h-5zM1211 600h5v5h-5zM1206 610h5v5h-5zM1356 615h5v5h-5zM1201 620h5v5h-5zM1311 620h5v5h-5zM1461 625h5v5h-5zM1196 630h5v5h-5zM1346 635h5v5h-5zM1296 640h5v5h-5zM1446 645h5v5h-5z"/><path fill="#2b2b2b" d="M1456 365h5v5h-5zM1186 380h5v5h-5zM1326 405h5v5h-5zM1321 415h5v5h-5zM1426 420h5v5h-5zM1271 425h5v5h-5zM1421 430h5v5h-5zM1266 435h5v5h-5zM1306 435h5v5h-5zM1411 445h5v5h-5zM1451 445h5v5h-5zM1296 450h5v5h-5zM1241 470h5v5h-5zM1441 470h5v5h-5zM1391 475h5v5h-5zM1236 480h5v5h-5zM1436 480h5v5h-5zM1221 505h5v5h-5zM1421 505h5v5h-5zM1206 530h5v5h-5zM1406 530h5v5h-5zM1251 535h5v5h-5zM1201 540h5v5h-5zM1401 540h5v5h-5zM1346 560h5v5h-5zM1191 565h5v5h-5zM1231 565h5v5h-5zM1336 575h5v5h-5zM1376 575h5v5h-5zM1221 580h5v5h-5zM1371 585h5v5h-5zM1216 590h5v5h-5zM1321 595h5v5h-5zM1316 605h5v5h-5zM1456 630h5v5h-5zM1186 645h5v5h-5z"/><path fill="#2e2e2e" d="M1351 365h5v5h-5zM1451 370h5v5h-5zM1191 375h5v5h-5zM1291 380h5v5h-5zM1336 385h5v5h-5zM1181 390h5v5h-5zM1286 390h5v5h-5zM1331 395h5v5h-5zM1436 395h5v5h-5zM1281 400h5v5h-5zM1431 405h5v5h-5zM1276 410h5v5h-5zM1311 430h5v5h-5zM1261 440h5v5h-5zM1456 440h5v5h-5zM1256 445h5v5h-5zM1406 450h5v5h-5zM1246 460h5v5h-5zM1446 460h5v5h-5zM1291 465h5v5h-5zM1396 465h5v5h-5zM1286 475h5v5h-5zM1281 485h5v5h-5zM1386 485h5v5h-5zM1231 490h5v5h-5zM1431 490h5v5h-5zM1276 495h5v5h-5zM1381 495h5v5h-5zM1426 500h5v5h-5zM1216 510h5v5h-5zM1261 515h5v5h-5zM1366 515h5v5h-5zM1211 520h5v5h-5zM1411 520h5v5h-5zM1256 525h5v5h-5zM1361 525h5v5h-5zM1356 535h5v5h-5zM1246 545h5v5h-5zM1351 545h5v5h-5zM1196 550h5v5h-5zM1396 550h5v5h-5zM1236 560h5v5h-5zM1386 565h5v5h-5zM1186 570h5v5h-5zM1381 570h5v5h-5zM1331 580h5v5h-5zM1366 600h5v5h-5zM1211 605h5v5h-5zM1361 610h5v5h-5zM1206 615h5v5h-5zM1311 615h5v5h-5zM1356 620h5v5h-5zM1461 620h5v5h-5zM1306 625h5v5h-5zM1351 630h5v5h-5zM1451 635h5v5h-5zM1191 640h5v5h-5zM1291 645h5v5h-5z"/><path fill="#303030" d="M1441 385h5v5h-5zM1326 410h5v5h-5zM1426 415h5v5h-5zM1271 420h5v5h-5zM1316 425h5v5h-5zM1416 435h5v5h-5zM1461 435h5v5h-5zM1251 450h5v5h-5zM1451 450h5v5h-5zM1401 455h5v5h-5zM1241 465h5v5h-5zM1236 475h5v5h-5zM1376 500h5v5h-5zM1266 510h5v5h-5zM1406 535h5v5h-5zM1401 545h5v5h-5zM1241 555h5v5h-5zM1191 560h5v5h-5zM1391 560h5v5h-5zM1181 575h5v5h-5zM1226 575h5v5h-5zM1326 585h5v5h-5zM1371 590h5v5h-5zM1216 595h5v5h-5zM1316 600h5v5h-5zM1201 625h5v5h-5z"/><path fill="#333333" d="M1301 365h5v5h-5zM1196 370h5v5h-5zM1446 375h5v5h-5zM1341 380h5v5h-5zM1281 395h5v5h-5zM1331 400h5v5h-5zM1431 400h5v5h-5zM1276 405h5v5h-5zM1321 420h5v5h-5zM1421 425h5v5h-5zM1266 430h5v5h-5zM1301 445h5v5h-5zM1246 455h5v5h-5zM1296 455h5v5h-5zM1396 460h5v5h-5zM1446 465h5v5h-5zM1291 470h5v5h-5zM1391 470h5v5h-5zM1441 475h5v5h-5zM1286 480h5v5h-5zM1386 480h5v5h-5zM1231 485h5v5h-5zM1436 485h5v5h-5zM1226 495h5v5h-5zM1271 505h5v5h-5zM1371 505h5v5h-5zM1416 515h5v5h-5zM1206 525h5v5h-5zM1411 525h5v5h-5zM1256 530h5v5h-5zM1356 530h5v5h-5zM1201 535h5v5h-5zM1251 540h5v5h-5zM1351 540h5v5h-5zM1196 545h5v5h-5zM1246 550h5v5h-5zM1346 555h5v5h-5zM1396 555h5v5h-5zM1341 565h5v5h-5zM1376 580h5v5h-5zM1221 585h5v5h-5zM1321 590h5v5h-5zM1366 605h5v5h-5zM1211 610h5v5h-5zM1311 610h5v5h-5zM1361 615h5v5h-5zM1301 630h5v5h-5zM1196 635h5v5h-5zM1446 640h5v5h-5zM1341 645h5v5h-5z"/><path fill="#363636" d="M1296 370h5v5h-5zM1346 375h5v5h-5zM1186 385h5v5h-5zM1286 385h5v5h-5zM1336 390h5v5h-5zM1436 390h5v5h-5zM1181 395h5v5h-5zM1426 410h5v5h-5zM1271 415h5v5h-5zM1306 440h5v5h-5zM1411 440h5v5h-5zM1406 445h5v5h-5zM1281 490h5v5h-5zM1381 490h5v5h-5zM1431 495h5v5h-5zM1211 515h5v5h-5zM1261 520h5v5h-5zM1361 520h5v5h-5zM1236 565h5v5h-5zM1231 570h5v5h-5zM1336 570h5v5h-5zM1371 595h5v5h-5zM1216 600h5v5h-5zM1461 615h5v5h-5zM1206 620h5v5h-5zM1306 620h5v5h-5zM1356 625h5v5h-5zM1456 625h5v5h-5zM1296 635h5v5h-5zM1346 640h5v5h-5z"/><path fill="#383838" d="M1201 365h5v5h-5zM1351 370h5v5h-5zM1291 375h5v5h-5zM1441 380h5v5h-5zM1276 400h5v5h-5zM1331 405h5v5h-5zM1326 415h5v5h-5zM1316 430h5v5h-5zM1261 435h5v5h-5zM1311 435h5v5h-5zM1456 445h5v5h-5zM1401 450h5v5h-5zM1451 455h5v5h-5zM1241 460h5v5h-5zM1296 460h5v5h-5zM1391 465h5v5h-5zM1236 470h5v5h-5zM1386 475h5v5h-5zM1441 480h5v5h-5zM1221 500h5v5h-5zM1276 500h5v5h-5zM1366 510h5v5h-5zM1421 510h5v5h-5zM1201 530h5v5h-5zM1256 535h5v5h-5zM1406 540h5v5h-5zM1251 545h5v5h-5zM1346 550h5v5h-5zM1401 550h5v5h-5zM1191 555h5v5h-5zM1241 560h5v5h-5zM1186 565h5v5h-5zM1331 575h5v5h-5zM1381 575h5v5h-5zM1326 580h5v5h-5zM1316 595h5v5h-5zM1311 605h5v5h-5zM1366 610h5v5h-5zM1201 630h5v5h-5zM1351 635h5v5h-5zM1291 640h5v5h-5zM1441 645h5v5h-5z"/><path fill="#3b3b3b" d="M1281 390h5v5h-5zM1431 395h5v5h-5zM1181 400h5v5h-5zM1426 405h5v5h-5zM1271 410h5v5h-5zM1421 420h5v5h-5zM1266 425h5v5h-5zM1321 425h5v5h-5zM1416 430h5v5h-5zM1256 440h5v5h-5zM1461 440h5v5h-5zM1251 445h5v5h-5zM1301 450h5v5h-5zM1396 455h5v5h-5zM1446 470h5v5h-5zM1291 475h5v5h-5zM1231 480h5v5h-5zM1286 485h5v5h-5zM1436 490h5v5h-5zM1216 505h5v5h-5zM1426 505h5v5h-5zM1206 520h5v5h-5zM1356 525h5v5h-5zM1411 530h5v5h-5zM1351 535h5v5h-5zM1196 540h5v5h-5zM1246 555h5v5h-5zM1341 560h5v5h-5zM1391 565h5v5h-5zM1181 570h5v5h-5zM1386 570h5v5h-5zM1226 580h5v5h-5zM1321 585h5v5h-5zM1376 585h5v5h-5zM1221 590h5v5h-5zM1371 600h5v5h-5zM1216 605h5v5h-5zM1461 610h5v5h-5zM1211 615h5v5h-5zM1361 620h5v5h-5z"/><path fill="#3e3e3e" d="M1356 365h5v5h-5zM1451 365h5v5h-5zM1191 380h5v5h-5zM1286 380h5v5h-5zM1436 385h5v5h-5zM1336 395h5v5h-5zM1331 410h5v5h-5zM1326 420h5v5h-5zM1246 450h5v5h-5zM1241 455h5v5h-5zM1391 460h5v5h-5zM1236 465h5v5h-5zM1296 465h5v5h-5zM1386 470h5v5h-5zM1226 490h5v5h-5zM1281 495h5v5h-5zM1376 495h5v5h-5zM1431 500h5v5h-5zM1211 510h5v5h-5zM1266 515h5v5h-5zM1361 515h5v5h-5zM1416 520h5v5h-5zM1256 540h5v5h-5zM1346 545h5v5h-5zM1406 545h5v5h-5zM1251 550h5v5h-5zM1401 555h5v5h-5zM1396 560h5v5h-5zM1316 590h5v5h-5zM1311 600h5v5h-5zM1306 615h5v5h-5zM1206 625h5v5h-5zM1356 630h5v5h-5zM1451 630h5v5h-5zM1191 645h5v5h-5zM1286 645h5v5h-5z"/><path fill="#404040" d="M1201 370h5v5h-5zM1446 370h5v5h-5zM1196 375h5v5h-5zM1441 375h5v5h-5zM1281 385h5v5h-5zM1341 385h5v5h-5zM1186 390h5v5h-5zM1431 390h5v5h-5zM1276 395h5v5h-5zM1426 400h5v5h-5zM1181 405h5v5h-5zM1271 405h5v5h-5zM1421 415h5v5h-5zM1411 435h5v5h-5zM1451 460h5v5h-5zM1231 475h5v5h-5zM1446 475h5v5h-5zM1291 480h5v5h-5zM1381 485h5v5h-5zM1441 485h5v5h-5zM1286 490h5v5h-5zM1436 495h5v5h-5zM1206 515h5v5h-5zM1356 520h5v5h-5zM1201 525h5v5h-5zM1261 525h5v5h-5zM1351 530h5v5h-5zM1196 535h5v5h-5zM1411 535h5v5h-5zM1191 550h5v5h-5zM1231 575h5v5h-5zM1221 595h5v5h-5zM1371 605h5v5h-5zM1461 605h5v5h-5zM1216 610h5v5h-5zM1366 615h5v5h-5zM1211 620h5v5h-5zM1456 620h5v5h-5zM1301 625h5v5h-5zM1361 625h5v5h-5zM1201 635h5v5h-5zM1446 635h5v5h-5zM1196 640h5v5h-5zM1441 640h5v5h-5z"/><path fill="#434343" d="M1206 365h5v5h-5zM1436 380h5v5h-5zM1336 400h5v5h-5zM1181 410h5v5h-5zM1331 415h5v5h-5zM1266 420h5v5h-5zM1261 430h5v5h-5zM1321 430h5v5h-5zM1406 440h5v5h-5zM1306 445h5v5h-5zM1401 445h5v5h-5zM1396 450h5v5h-5zM1456 450h5v5h-5zM1391 455h5v5h-5zM1236 460h5v5h-5zM1386 465h5v5h-5zM1231 470h5v5h-5zM1296 470h5v5h-5zM1371 500h5v5h-5zM1276 505h5v5h-5zM1366 505h5v5h-5zM1271 510h5v5h-5zM1346 540h5v5h-5zM1411 540h5v5h-5zM1256 545h5v5h-5zM1406 550h5v5h-5zM1251 555h5v5h-5zM1186 560h5v5h-5zM1246 560h5v5h-5zM1241 565h5v5h-5zM1336 565h5v5h-5zM1236 570h5v5h-5zM1321 580h5v5h-5zM1381 580h5v5h-5zM1376 590h5v5h-5zM1311 595h5v5h-5zM1461 600h5v5h-5zM1306 610h5v5h-5zM1206 630h5v5h-5zM1436 645h5v5h-5z"/><path fill="#464646" d="M1296 365h5v5h-5zM1291 370h5v5h-5zM1356 370h5v5h-5zM1286 375h5v5h-5zM1351 375h5v5h-5zM1346 380h5v5h-5zM1276 390h5v5h-5zM1426 395h5v5h-5zM1271 400h5v5h-5zM1336 405h5v5h-5zM1421 410h5v5h-5zM1331 420h5v5h-5zM1326 425h5v5h-5zM1416 425h5v5h-5zM1316 435h5v5h-5zM1311 440h5v5h-5zM1246 445h5v5h-5zM1241 450h5v5h-5zM1236 455h5v5h-5zM1301 455h5v5h-5zM1386 460h5v5h-5zM1231 465h5v5h-5zM1451 465h5v5h-5zM1381 480h5v5h-5zM1446 480h5v5h-5zM1291 485h5v5h-5zM1441 490h5v5h-5zM1281 500h5v5h-5zM1361 510h5v5h-5zM1201 520h5v5h-5zM1351 525h5v5h-5zM1196 530h5v5h-5zM1261 530h5v5h-5zM1191 545h5v5h-5zM1411 545h5v5h-5zM1256 550h5v5h-5zM1341 555h5v5h-5zM1406 555h5v5h-5zM1401 560h5v5h-5zM1396 565h5v5h-5zM1331 570h5v5h-5zM1326 575h5v5h-5zM1226 585h5v5h-5zM1316 585h5v5h-5zM1311 590h5v5h-5zM1221 600h5v5h-5zM1306 605h5v5h-5zM1371 610h5v5h-5zM1216 615h5v5h-5zM1366 620h5v5h-5zM1296 630h5v5h-5zM1291 635h5v5h-5zM1356 635h5v5h-5zM1286 640h5v5h-5zM1351 640h5v5h-5zM1346 645h5v5h-5z"/><path fill="#484848" d="M1361 365h5v5h-5zM1281 380h5v5h-5zM1431 385h5v5h-5zM1186 395h5v5h-5zM1421 405h5v5h-5zM1336 410h5v5h-5zM1181 415h5v5h-5zM1266 415h5v5h-5zM1256 435h5v5h-5zM1251 440h5v5h-5zM1391 450h5v5h-5zM1231 460h5v5h-5zM1451 470h5v5h-5zM1296 475h5v5h-5zM1381 475h5v5h-5zM1226 485h5v5h-5zM1446 485h5v5h-5zM1221 495h5v5h-5zM1286 495h5v5h-5zM1436 500h5v5h-5zM1211 505h5v5h-5zM1431 505h5v5h-5zM1206 510h5v5h-5zM1356 515h5v5h-5zM1421 515h5v5h-5zM1196 525h5v5h-5zM1416 525h5v5h-5zM1261 535h5v5h-5zM1346 535h5v5h-5zM1191 540h5v5h-5zM1411 550h5v5h-5zM1251 560h5v5h-5zM1391 570h5v5h-5zM1386 575h5v5h-5zM1376 595h5v5h-5zM1461 595h5v5h-5zM1306 600h5v5h-5zM1221 605h5v5h-5zM1456 615h5v5h-5zM1211 625h5v5h-5zM1361 630h5v5h-5zM1281 645h5v5h-5z"/><path fill="#4b4b4b" d="M1276 385h5v5h-5zM1341 390h5v5h-5zM1426 390h5v5h-5zM1271 395h5v5h-5zM1421 400h5v5h-5zM1266 410h5v5h-5zM1336 415h5v5h-5zM1181 420h5v5h-5zM1336 420h5v5h-5zM1331 425h5v5h-5zM1326 430h5v5h-5zM1396 445h5v5h-5zM1461 445h5v5h-5zM1236 450h5v5h-5zM1231 455h5v5h-5zM1386 455h5v5h-5zM1301 460h5v5h-5zM1381 465h5v5h-5zM1381 470h5v5h-5zM1451 475h5v5h-5zM1296 480h5v5h-5zM1291 490h5v5h-5zM1441 495h5v5h-5zM1216 500h5v5h-5zM1426 510h5v5h-5zM1201 515h5v5h-5zM1351 520h5v5h-5zM1346 530h5v5h-5zM1191 535h5v5h-5zM1261 540h5v5h-5zM1261 545h5v5h-5zM1341 550h5v5h-5zM1256 555h5v5h-5zM1411 555h5v5h-5zM1406 560h5v5h-5zM1181 565h5v5h-5zM1246 565h5v5h-5zM1316 580h5v5h-5zM1311 585h5v5h-5zM1306 590h5v5h-5zM1461 590h5v5h-5zM1306 595h5v5h-5zM1376 600h5v5h-5zM1221 610h5v5h-5zM1371 615h5v5h-5zM1216 620h5v5h-5zM1301 620h5v5h-5zM1366 625h5v5h-5z"/><path fill="#4e4e4e" d="M1211 365h5v5h-5zM1206 370h5v5h-5zM1436 375h5v5h-5zM1431 380h5v5h-5zM1191 385h5v5h-5zM1271 390h5v5h-5zM1421 395h5v5h-5zM1186 400h5v5h-5zM1186 405h5v5h-5zM1266 405h5v5h-5zM1186 410h5v5h-5zM1186 415h5v5h-5zM1186 420h5v5h-5zM1181 425h5v5h-5zM1336 425h5v5h-5zM1331 430h5v5h-5zM1321 435h5v5h-5zM1241 445h5v5h-5zM1231 450h5v5h-5zM1386 450h5v5h-5zM1226 455h5v5h-5zM1381 455h5v5h-5zM1456 455h5v5h-5zM1226 460h5v5h-5zM1381 460h5v5h-5zM1226 465h5v5h-5zM1226 470h5v5h-5zM1226 480h5v5h-5zM1451 480h5v5h-5zM1296 485h5v5h-5zM1376 490h5v5h-5zM1446 490h5v5h-5zM1286 500h5v5h-5zM1356 510h5v5h-5zM1196 520h5v5h-5zM1266 520h5v5h-5zM1346 525h5v5h-5zM1191 530h5v5h-5zM1416 530h5v5h-5zM1416 540h5v5h-5zM1416 545h5v5h-5zM1261 550h5v5h-5zM1416 550h5v5h-5zM1186 555h5v5h-5zM1261 555h5v5h-5zM1416 555h5v5h-5zM1256 560h5v5h-5zM1411 560h5v5h-5zM1401 565h5v5h-5zM1321 575h5v5h-5zM1311 580h5v5h-5zM1306 585h5v5h-5zM1461 585h5v5h-5zM1456 590h5v5h-5zM1456 595h5v5h-5zM1456 600h5v5h-5zM1376 605h5v5h-5zM1456 605h5v5h-5zM1456 610h5v5h-5zM1221 615h5v5h-5zM1371 620h5v5h-5zM1451 625h5v5h-5zM1211 630h5v5h-5zM1206 635h5v5h-5zM1436 640h5v5h-5zM1431 645h5v5h-5z"/><path fill="#515151" d="M1366 365h5v5h-5zM1361 370h5v5h-5zM1441 370h5v5h-5zM1201 375h5v5h-5zM1281 375h5v5h-5zM1276 380h5v5h-5zM1271 385h5v5h-5zM1426 385h5v5h-5zM1266 400h5v5h-5zM1341 410h5v5h-5zM1341 415h5v5h-5zM1191 420h5v5h-5zM1341 420h5v5h-5zM1416 420h5v5h-5zM1186 425h15v5h-15zM1261 425h5v5h-5zM1341 425h10v5h-10zM1181 430h25v5h-25zM1336 430h25v5h-25zM1411 430h5v5h-5zM1196 435h20v5h-20zM1346 435h20v5h-20zM1201 440h20v5h-20zM1356 440h15v5h-15zM1401 440h5v5h-5zM1206 445h25v5h-25zM1236 445h5v5h-5zM1361 445h20v5h-20zM1386 445h10v5h-10zM1216 450h15v5h-15zM1306 450h5v5h-5zM1366 450h20v5h-20zM1221 455h5v5h-5zM1376 455h5v5h-5zM1376 460h5v5h-5zM1301 465h5v5h-5zM1226 475h5v5h-5zM1451 485h5v5h-5zM1296 490h5v5h-5zM1291 495h5v5h-5zM1446 495h5v5h-5zM1441 500h5v5h-5zM1281 505h5v5h-5zM1361 505h5v5h-5zM1201 510h5v5h-5zM1196 515h5v5h-5zM1351 515h5v5h-5zM1346 520h5v5h-5zM1191 525h5v5h-5zM1416 535h5v5h-5zM1341 545h5v5h-5zM1266 550h5v5h-5zM1266 555h5v5h-5zM1421 555h5v5h-5zM1261 560h20v5h-20zM1336 560h5v5h-5zM1416 560h15v5h-15zM1251 565h10v5h-10zM1266 565h20v5h-20zM1406 565h5v5h-5zM1416 565h25v5h-25zM1241 570h5v5h-5zM1276 570h15v5h-15zM1426 570h20v5h-20zM1281 575h20v5h-20zM1431 575h20v5h-20zM1231 580h5v5h-5zM1286 580h25v5h-25zM1441 580h25v5h-25zM1296 585h10v5h-10zM1381 585h5v5h-5zM1446 585h15v5h-15zM1226 590h5v5h-5zM1301 590h5v5h-5zM1451 590h5v5h-5zM1301 595h5v5h-5zM1301 600h5v5h-5zM1376 610h5v5h-5zM1216 625h5v5h-5zM1371 625h5v5h-5zM1366 630h5v5h-5zM1361 635h5v5h-5zM1441 635h5v5h-5zM1201 640h5v5h-5zM1281 640h5v5h-5zM1276 645h5v5h-5z"/><path fill="#535353" d="M1216 365h5v5h-5zM1446 365h5v5h-5zM1211 370h5v5h-5zM1431 375h5v5h-5zM1196 380h5v5h-5zM1426 380h5v5h-5zM1266 390h5v5h-5zM1421 390h5v5h-5zM1266 395h5v5h-5zM1341 395h5v5h-5zM1341 405h5v5h-5zM1191 415h5v5h-5zM1196 420h5v5h-5zM1346 420h10v5h-10zM1201 425h10v5h-10zM1351 425h15v5h-15zM1206 430h10v5h-10zM1361 430h10v5h-10zM1181 435h15v5h-15zM1216 435h5v5h-5zM1326 435h5v5h-5zM1336 435h10v5h-10zM1366 435h10v5h-10zM1406 435h5v5h-5zM1191 440h10v5h-10zM1221 440h5v5h-5zM1246 440h5v5h-5zM1316 440h5v5h-5zM1346 440h10v5h-10zM1371 440h10v5h-10zM1196 445h10v5h-10zM1231 445h5v5h-5zM1351 445h10v5h-10zM1381 445h5v5h-5zM1201 450h15v5h-15zM1356 450h10v5h-10zM1211 455h10v5h-10zM1366 455h10v5h-10zM1221 460h5v5h-5zM1371 460h5v5h-5zM1376 465h5v5h-5zM1301 470h5v5h-5zM1301 475h5v5h-5zM1301 480h5v5h-5zM1451 490h5v5h-5zM1291 500h5v5h-5zM1206 505h5v5h-5zM1436 505h5v5h-5zM1351 510h5v5h-5zM1191 520h5v5h-5zM1341 530h5v5h-5zM1341 535h5v5h-5zM1341 540h5v5h-5zM1266 545h5v5h-5zM1271 550h5v5h-5zM1421 550h5v5h-5zM1271 555h10v5h-10zM1426 555h10v5h-10zM1281 560h10v5h-10zM1431 560h15v5h-15zM1261 565h5v5h-5zM1286 565h10v5h-10zM1411 565h5v5h-5zM1441 565h10v5h-10zM1266 570h10v5h-10zM1291 570h10v5h-10zM1326 570h5v5h-5zM1396 570h5v5h-5zM1421 570h5v5h-5zM1446 570h10v5h-10zM1236 575h5v5h-5zM1271 575h10v5h-10zM1301 575h10v5h-10zM1316 575h5v5h-5zM1426 575h5v5h-5zM1451 575h15v5h-15zM1276 580h10v5h-10zM1431 580h10v5h-10zM1281 585h15v5h-15zM1436 585h10v5h-10zM1291 590h10v5h-10zM1446 590h5v5h-5zM1451 595h5v5h-5zM1301 605h5v5h-5zM1301 615h5v5h-5zM1376 615h5v5h-5zM1221 620h5v5h-5zM1376 620h5v5h-5zM1216 630h5v5h-5zM1446 630h5v5h-5zM1211 635h5v5h-5zM1431 640h5v5h-5zM1196 645h5v5h-5zM1426 645h5v5h-5z"/><path fill="#565656" d="M1371 365h5v5h-5zM1286 370h5v5h-5zM1366 370h5v5h-5zM1276 375h5v5h-5zM1356 375h5v5h-5zM1271 380h5v5h-5zM1421 385h5v5h-5zM1416 395h5v5h-5zM1341 400h5v5h-5zM1416 400h5v5h-5zM1416 405h5v5h-5zM1191 410h5v5h-5zM1416 410h5v5h-5zM1346 415h5v5h-5zM1416 415h5v5h-5zM1201 420h5v5h-5zM1356 420h5v5h-5zM1211 425h5v5h-5zM1366 425h5v5h-5zM1216 430h5v5h-5zM1371 430h5v5h-5zM1221 435h5v5h-5zM1331 435h5v5h-5zM1376 435h5v5h-5zM1186 440h5v5h-5zM1226 440h10v5h-10zM1341 440h5v5h-5zM1381 440h5v5h-5zM1396 440h5v5h-5zM1311 445h5v5h-5zM1346 445h5v5h-5zM1196 450h5v5h-5zM1351 450h5v5h-5zM1201 455h10v5h-10zM1356 455h10v5h-10zM1216 460h5v5h-5zM1456 460h5v5h-5zM1221 465h5v5h-5zM1376 470h5v5h-5zM1456 475h5v5h-5zM1456 480h5v5h-5zM1301 485h5v5h-5zM1296 495h5v5h-5zM1366 500h5v5h-5zM1446 500h5v5h-5zM1286 505h5v5h-5zM1356 505h5v5h-5zM1196 510h5v5h-5zM1276 510h5v5h-5zM1346 515h5v5h-5zM1341 525h5v5h-5zM1186 530h5v5h-5zM1186 535h5v5h-5zM1266 540h5v5h-5zM1421 545h5v5h-5zM1186 550h5v5h-5zM1426 550h5v5h-5zM1281 555h10v5h-10zM1436 555h10v5h-10zM1291 560h5v5h-5zM1446 560h5v5h-5zM1296 565h5v5h-5zM1331 565h5v5h-5zM1246 570h5v5h-5zM1261 570h5v5h-5zM1301 570h5v5h-5zM1411 570h10v5h-10zM1456 570h5v5h-5zM1266 575h5v5h-5zM1311 575h5v5h-5zM1421 575h5v5h-5zM1271 580h5v5h-5zM1426 580h5v5h-5zM1276 585h5v5h-5zM1431 585h5v5h-5zM1286 590h5v5h-5zM1441 590h5v5h-5zM1226 595h5v5h-5zM1296 595h5v5h-5zM1226 600h5v5h-5zM1451 600h5v5h-5zM1226 605h5v5h-5zM1226 610h5v5h-5zM1301 610h5v5h-5zM1226 615h5v5h-5zM1221 625h5v5h-5zM1371 630h5v5h-5zM1286 635h5v5h-5zM1366 635h5v5h-5zM1276 640h5v5h-5zM1356 640h5v5h-5zM1271 645h5v5h-5z"/><path fill="#595959" d="M1221 365h5v5h-5zM1216 370h5v5h-5zM1371 370h5v5h-5zM1271 375h5v5h-5zM1426 375h5v5h-5zM1421 380h5v5h-5zM1266 385h5v5h-5zM1416 390h5v5h-5zM1261 395h5v5h-5zM1261 400h5v5h-5zM1196 415h5v5h-5zM1351 415h5v5h-5zM1206 420h10v5h-10zM1261 420h5v5h-5zM1361 420h10v5h-10zM1216 425h5v5h-5zM1371 425h5v5h-5zM1221 430h5v5h-5zM1256 430h5v5h-5zM1226 435h5v5h-5zM1251 435h5v5h-5zM1236 440h10v5h-10zM1336 440h5v5h-5zM1386 440h10v5h-10zM1191 445h5v5h-5zM1346 450h5v5h-5zM1196 455h5v5h-5zM1351 455h5v5h-5zM1211 460h5v5h-5zM1361 460h10v5h-10zM1371 465h5v5h-5zM1456 465h5v5h-5zM1456 470h5v5h-5zM1376 485h5v5h-5zM1456 485h5v5h-5zM1301 490h5v5h-5zM1371 495h5v5h-5zM1451 495h5v5h-5zM1296 500h5v5h-5zM1201 505h5v5h-5zM1441 505h5v5h-5zM1346 510h5v5h-5zM1191 515h5v5h-5zM1271 515h5v5h-5zM1341 520h5v5h-5zM1186 525h5v5h-5zM1266 525h5v5h-5zM1186 540h5v5h-5zM1186 545h5v5h-5zM1271 545h5v5h-5zM1276 550h10v5h-10zM1431 550h5v5h-5zM1291 555h5v5h-5zM1446 555h5v5h-5zM1296 560h5v5h-5zM1451 565h5v5h-5zM1251 570h10v5h-10zM1306 570h5v5h-5zM1401 570h10v5h-10zM1391 575h5v5h-5zM1416 575h5v5h-5zM1386 580h5v5h-5zM1421 580h5v5h-5zM1271 585h5v5h-5zM1426 585h5v5h-5zM1276 590h10v5h-10zM1381 590h5v5h-5zM1431 590h10v5h-10zM1291 595h5v5h-5zM1446 595h5v5h-5zM1381 610h5v5h-5zM1381 615h5v5h-5zM1226 620h5v5h-5zM1376 625h5v5h-5zM1221 630h5v5h-5zM1216 635h5v5h-5zM1371 635h5v5h-5zM1271 640h5v5h-5zM1426 640h5v5h-5zM1421 645h5v5h-5z"/><path fill="#5b5b5b" d="M1291 365h5v5h-5zM1376 365h5v5h-5zM1436 370h5v5h-5zM1206 375h5v5h-5zM1266 380h5v5h-5zM1351 380h5v5h-5zM1346 385h5v5h-5zM1261 390h5v5h-5zM1411 395h5v5h-5zM1261 405h5v5h-5zM1346 410h5v5h-5zM1201 415h5v5h-5zM1216 420h5v5h-5zM1221 425h5v5h-5zM1376 430h5v5h-5zM1381 435h5v5h-5zM1181 440h5v5h-5zM1321 440h5v5h-5zM1186 445h5v5h-5zM1341 445h5v5h-5zM1191 450h5v5h-5zM1461 450h5v5h-5zM1346 455h5v5h-5zM1201 460h10v5h-10zM1356 460h5v5h-5zM1221 470h5v5h-5zM1376 475h5v5h-5zM1306 480h5v5h-5zM1306 485h5v5h-5zM1221 490h5v5h-5zM1456 490h5v5h-5zM1301 495h5v5h-5zM1211 500h5v5h-5zM1451 500h5v5h-5zM1196 505h5v5h-5zM1291 505h5v5h-5zM1351 505h5v5h-5zM1446 505h5v5h-5zM1191 510h5v5h-5zM1431 510h5v5h-5zM1341 515h5v5h-5zM1186 520h5v5h-5zM1421 520h5v5h-5zM1336 525h5v5h-5zM1336 530h5v5h-5zM1266 535h5v5h-5zM1421 540h5v5h-5zM1286 550h5v5h-5zM1436 550h10v5h-10zM1296 555h5v5h-5zM1181 560h5v5h-5zM1451 560h5v5h-5zM1301 565h5v5h-5zM1456 565h5v5h-5zM1321 570h5v5h-5zM1461 570h5v5h-5zM1261 575h5v5h-5zM1266 580h5v5h-5zM1421 585h5v5h-5zM1426 590h5v5h-5zM1441 595h5v5h-5zM1296 600h5v5h-5zM1381 605h5v5h-5zM1231 615h5v5h-5zM1381 620h5v5h-5zM1296 625h5v5h-5zM1291 630h5v5h-5zM1376 630h5v5h-5zM1436 635h5v5h-5zM1206 640h5v5h-5zM1266 645h5v5h-5zM1351 645h5v5h-5z"/><path fill="#5e5e5e" d="M1221 370h5v5h-5zM1276 370h10v5h-10zM1426 370h10v5h-10zM1211 375h10v5h-10zM1361 375h10v5h-10zM1421 375h5v5h-5zM1416 385h5v5h-5zM1191 390h5v5h-5zM1256 395h5v5h-5zM1411 400h5v5h-5zM1191 405h5v5h-5zM1261 410h5v5h-5zM1261 415h5v5h-5zM1356 415h5v5h-5zM1371 420h5v5h-5zM1376 425h5v5h-5zM1411 425h5v5h-5zM1226 430h5v5h-5zM1231 435h5v5h-5zM1326 440h10v5h-10zM1191 455h5v5h-5zM1306 455h5v5h-5zM1196 460h5v5h-5zM1351 460h5v5h-5zM1216 465h5v5h-5zM1306 475h5v5h-5zM1376 480h5v5h-5zM1461 480h5v5h-5zM1461 485h5v5h-5zM1296 505h5v5h-5zM1346 505h5v5h-5zM1181 525h5v5h-5zM1181 530h5v5h-5zM1266 530h5v5h-5zM1336 535h5v5h-5zM1426 545h5v5h-5zM1291 550h5v5h-5zM1446 550h5v5h-5zM1336 555h5v5h-5zM1451 555h5v5h-5zM1311 570h10v5h-10zM1411 575h5v5h-5zM1416 580h5v5h-5zM1231 585h5v5h-5zM1266 585h5v5h-5zM1271 590h5v5h-5zM1286 595h5v5h-5zM1381 595h5v5h-5zM1381 600h5v5h-5zM1451 605h5v5h-5zM1231 610h5v5h-5zM1386 615h5v5h-5zM1451 620h5v5h-5zM1226 625h5v5h-5zM1221 635h5v5h-5zM1276 635h10v5h-10zM1426 635h10v5h-10zM1211 640h10v5h-10zM1361 640h10v5h-10zM1421 640h5v5h-5z"/><path fill="#616161" d="M1271 370h5v5h-5zM1376 370h5v5h-5zM1421 370h5v5h-5zM1221 375h5v5h-5zM1266 375h5v5h-5zM1371 375h5v5h-5zM1261 385h5v5h-5zM1411 390h5v5h-5zM1256 400h5v5h-5zM1206 415h15v5h-15zM1361 415h15v5h-15zM1221 420h5v5h-5zM1386 435h5v5h-5zM1401 435h5v5h-5zM1336 445h5v5h-5zM1341 450h5v5h-5zM1346 460h5v5h-5zM1366 465h5v5h-5zM1306 470h5v5h-5zM1461 475h5v5h-5zM1311 480h5v5h-5zM1311 485h5v5h-5zM1306 490h5v5h-5zM1456 495h5v5h-5zM1301 500h5v5h-5zM1191 505h5v5h-5zM1451 505h5v5h-5zM1341 510h5v5h-5zM1186 515h5v5h-5zM1336 520h5v5h-5zM1331 525h5v5h-5zM1331 530h5v5h-5zM1181 535h5v5h-5zM1336 540h5v5h-5zM1276 545h5v5h-5zM1296 550h5v5h-5zM1301 560h5v5h-5zM1306 565h5v5h-5zM1241 575h5v5h-5zM1256 575h5v5h-5zM1421 590h5v5h-5zM1271 595h15v5h-15zM1426 595h15v5h-15zM1386 610h5v5h-5zM1231 620h5v5h-5zM1381 625h5v5h-5zM1271 635h5v5h-5zM1376 635h5v5h-5zM1421 635h5v5h-5zM1221 640h5v5h-5zM1266 640h5v5h-5zM1371 640h5v5h-5z"/><path fill="#636363" d="M1226 365h5v5h-5zM1266 370h5v5h-5zM1376 375h5v5h-5zM1416 380h5v5h-5zM1256 390h5v5h-5zM1251 395h5v5h-5zM1406 395h5v5h-5zM1411 405h5v5h-5zM1196 410h5v5h-5zM1221 415h5v5h-5zM1376 420h5v5h-5zM1381 430h5v5h-5zM1236 435h5v5h-5zM1246 435h5v5h-5zM1181 445h5v5h-5zM1186 450h5v5h-5zM1341 455h5v5h-5zM1191 460h5v5h-5zM1306 460h5v5h-5zM1211 465h5v5h-5zM1306 465h5v5h-5zM1221 475h5v5h-5zM1461 490h5v5h-5zM1216 495h5v5h-5zM1191 500h10v5h-10zM1346 500h5v5h-5zM1361 500h5v5h-5zM1281 510h5v5h-5zM1296 510h5v5h-5zM1446 510h10v5h-10zM1426 515h5v5h-5zM1181 520h5v5h-5zM1421 535h5v5h-5zM1336 545h5v5h-5zM1431 545h5v5h-5zM1336 550h5v5h-5zM1451 550h5v5h-5zM1301 555h5v5h-5zM1456 560h5v5h-5zM1461 565h5v5h-5zM1396 575h5v5h-5zM1406 575h5v5h-5zM1261 580h5v5h-5zM1266 590h5v5h-5zM1421 595h5v5h-5zM1446 600h5v5h-5zM1231 605h5v5h-5zM1236 615h5v5h-5zM1391 615h5v5h-5zM1386 620h5v5h-5zM1226 630h5v5h-5zM1266 635h5v5h-5zM1376 640h5v5h-5zM1416 645h5v5h-5z"/><path fill="#666666" d="M1266 365h5v5h-5zM1421 365h5v5h-5zM1221 380h5v5h-5zM1376 380h5v5h-5zM1191 395h5v5h-5zM1231 395h5v5h-5zM1386 395h5v5h-5zM1401 395h5v5h-5zM1191 400h5v5h-5zM1406 400h5v5h-5zM1256 405h5v5h-5zM1346 405h5v5h-5zM1351 410h5v5h-5zM1376 415h5v5h-5zM1226 425h5v5h-5zM1406 430h5v5h-5zM1241 435h5v5h-5zM1391 435h10v5h-10zM1316 445h5v5h-5zM1461 455h5v5h-5zM1341 460h5v5h-5zM1191 465h15v5h-15zM1346 465h10v5h-10zM1361 465h5v5h-5zM1371 470h5v5h-5zM1461 470h5v5h-5zM1311 475h5v5h-5zM1181 480h5v5h-5zM1316 480h5v5h-5zM1181 485h5v5h-5zM1201 500h10v5h-10zM1341 500h5v5h-5zM1351 500h5v5h-5zM1456 500h5v5h-5zM1301 505h5v5h-5zM1341 505h5v5h-5zM1186 510h5v5h-5zM1291 510h5v5h-5zM1301 510h5v5h-5zM1436 510h10v5h-10zM1461 525h5v5h-5zM1326 530h5v5h-5zM1461 530h5v5h-5zM1331 535h5v5h-5zM1181 540h5v5h-5zM1271 540h5v5h-5zM1281 545h5v5h-5zM1291 545h10v5h-10zM1441 545h15v5h-15zM1301 550h5v5h-5zM1181 555h5v5h-5zM1326 565h5v5h-5zM1246 575h10v5h-10zM1401 575h5v5h-5zM1236 580h5v5h-5zM1416 585h5v5h-5zM1266 595h5v5h-5zM1291 600h5v5h-5zM1296 605h5v5h-5zM1386 605h5v5h-5zM1236 610h5v5h-5zM1451 610h5v5h-5zM1241 615h5v5h-5zM1256 615h5v5h-5zM1411 615h5v5h-5zM1451 615h5v5h-5zM1266 630h5v5h-5zM1421 630h5v5h-5zM1221 645h5v5h-5zM1376 645h5v5h-5z"/><path fill="#696969" d="M1271 365h5v5h-5zM1381 365h5v5h-5zM1416 365h5v5h-5zM1441 365h5v5h-5zM1226 370h5v5h-5zM1416 375h5v5h-5zM1201 380h5v5h-5zM1226 380h5v5h-5zM1261 380h5v5h-5zM1371 380h5v5h-5zM1226 385h5v5h-5zM1411 385h5v5h-5zM1231 390h5v5h-5zM1381 390h10v5h-10zM1406 390h5v5h-5zM1236 395h15v5h-15zM1381 395h5v5h-5zM1391 395h10v5h-10zM1231 400h5v5h-5zM1251 400h5v5h-5zM1381 400h10v5h-10zM1221 410h5v5h-5zM1371 410h10v5h-10zM1411 410h5v5h-5zM1226 420h5v5h-5zM1411 420h5v5h-5zM1256 425h5v5h-5zM1381 425h5v5h-5zM1231 430h5v5h-5zM1331 445h5v5h-5zM1311 450h5v5h-5zM1336 450h5v5h-5zM1186 455h5v5h-5zM1206 465h5v5h-5zM1341 465h5v5h-5zM1356 465h5v5h-5zM1341 470h5v5h-5zM1336 475h5v5h-5zM1321 480h20v5h-20zM1221 485h5v5h-5zM1316 485h5v5h-5zM1331 485h10v5h-10zM1186 490h5v5h-5zM1336 490h5v5h-5zM1306 495h5v5h-5zM1341 495h5v5h-5zM1356 500h5v5h-5zM1286 510h5v5h-5zM1301 515h5v5h-5zM1336 515h5v5h-5zM1306 520h5v5h-5zM1456 520h5v5h-5zM1306 525h10v5h-10zM1326 525h5v5h-5zM1421 525h5v5h-5zM1306 530h20v5h-20zM1306 535h5v5h-5zM1301 540h5v5h-5zM1286 545h5v5h-5zM1301 545h5v5h-5zM1436 545h5v5h-5zM1456 555h5v5h-5zM1306 560h5v5h-5zM1331 560h5v5h-5zM1311 565h5v5h-5zM1411 580h5v5h-5zM1261 585h5v5h-5zM1386 585h5v5h-5zM1231 590h5v5h-5zM1416 590h5v5h-5zM1231 600h5v5h-5zM1266 600h10v5h-10zM1421 600h5v5h-5zM1256 610h10v5h-10zM1391 610h5v5h-5zM1411 610h5v5h-5zM1246 615h10v5h-10zM1261 615h5v5h-5zM1396 615h15v5h-15zM1236 620h5v5h-5zM1256 620h10v5h-10zM1411 620h5v5h-5zM1231 625h5v5h-5zM1416 625h5v5h-5zM1271 630h5v5h-5zM1381 630h5v5h-5zM1416 630h5v5h-5zM1441 630h5v5h-5zM1226 635h5v5h-5zM1416 640h5v5h-5zM1201 645h5v5h-5zM1226 645h5v5h-5zM1261 645h5v5h-5zM1371 645h5v5h-5z"/><path fill="#6b6b6b" d="M1426 365h5v5h-5zM1416 370h5v5h-5zM1226 375h5v5h-5zM1216 380h5v5h-5zM1376 385h10v5h-10zM1226 390h5v5h-5zM1236 390h5v5h-5zM1251 390h5v5h-5zM1226 395h5v5h-5zM1226 400h5v5h-5zM1236 400h5v5h-5zM1246 400h5v5h-5zM1391 400h5v5h-5zM1401 400h5v5h-5zM1226 405h5v5h-5zM1376 405h10v5h-10zM1216 410h5v5h-5zM1226 410h5v5h-5zM1226 415h5v5h-5zM1411 415h5v5h-5zM1251 430h5v5h-5zM1386 430h5v5h-5zM1186 460h5v5h-5zM1186 465h5v5h-5zM1461 465h5v5h-5zM1186 470h10v5h-10zM1216 470h5v5h-5zM1181 475h10v5h-10zM1341 475h5v5h-5zM1186 480h5v5h-5zM1221 480h5v5h-5zM1186 485h5v5h-5zM1321 485h10v5h-10zM1181 490h5v5h-5zM1311 490h5v5h-5zM1341 490h5v5h-5zM1186 495h10v5h-10zM1186 500h5v5h-5zM1186 505h5v5h-5zM1456 505h5v5h-5zM1456 510h5v5h-5zM1451 515h10v5h-10zM1301 520h5v5h-5zM1331 520h5v5h-5zM1461 520h5v5h-5zM1316 525h10v5h-10zM1456 525h5v5h-5zM1421 530h5v5h-5zM1456 530h5v5h-5zM1301 535h5v5h-5zM1456 535h10v5h-10zM1426 540h5v5h-5zM1451 540h10v5h-10zM1181 545h5v5h-5zM1456 545h5v5h-5zM1456 550h5v5h-5zM1256 580h5v5h-5zM1391 580h5v5h-5zM1231 595h5v5h-5zM1416 595h5v5h-5zM1416 600h5v5h-5zM1426 600h5v5h-5zM1261 605h10v5h-10zM1416 605h5v5h-5zM1241 610h5v5h-5zM1251 610h5v5h-5zM1396 610h5v5h-5zM1406 610h5v5h-5zM1416 610h5v5h-5zM1416 615h5v5h-5zM1391 620h5v5h-5zM1406 620h5v5h-5zM1416 620h5v5h-5zM1261 625h10v5h-10zM1426 630h5v5h-5zM1416 635h5v5h-5zM1226 640h5v5h-5zM1216 645h5v5h-5z"/><path fill="#6e6e6e" d="M1261 365h5v5h-5zM1286 365h5v5h-5zM1356 380h5v5h-5zM1381 380h5v5h-5zM1196 385h5v5h-5zM1231 385h5v5h-5zM1256 385h5v5h-5zM1346 390h5v5h-5zM1391 390h5v5h-5zM1401 390h5v5h-5zM1241 400h5v5h-5zM1396 400h5v5h-5zM1231 405h5v5h-5zM1406 405h5v5h-5zM1201 410h5v5h-5zM1256 410h5v5h-5zM1381 410h5v5h-5zM1381 415h5v5h-5zM1381 420h5v5h-5zM1321 445h10v5h-10zM1181 450h5v5h-5zM1461 460h5v5h-5zM1311 470h5v5h-5zM1336 470h5v5h-5zM1346 470h5v5h-5zM1316 475h5v5h-5zM1331 475h5v5h-5zM1341 480h5v5h-5zM1341 485h5v5h-5zM1346 495h5v5h-5zM1296 515h5v5h-5zM1301 525h5v5h-5zM1301 530h5v5h-5zM1311 535h5v5h-5zM1326 535h5v5h-5zM1296 540h5v5h-5zM1306 540h5v5h-5zM1331 540h5v5h-5zM1181 550h5v5h-5zM1461 560h5v5h-5zM1316 565h10v5h-10zM1261 590h5v5h-5zM1261 595h5v5h-5zM1261 600h5v5h-5zM1386 600h5v5h-5zM1441 600h5v5h-5zM1236 605h5v5h-5zM1411 605h5v5h-5zM1246 610h5v5h-5zM1401 610h5v5h-5zM1241 620h5v5h-5zM1251 620h5v5h-5zM1296 620h5v5h-5zM1386 625h5v5h-5zM1411 625h5v5h-5zM1446 625h5v5h-5zM1261 630h5v5h-5zM1286 630h5v5h-5zM1356 645h5v5h-5zM1381 645h5v5h-5z"/><path fill="#717171" d="M1276 365h5v5h-5zM1261 370h5v5h-5zM1381 370h5v5h-5zM1261 375h5v5h-5zM1381 375h5v5h-5zM1366 380h5v5h-5zM1221 385h5v5h-5zM1241 390h10v5h-10zM1376 390h5v5h-5zM1396 390h5v5h-5zM1376 400h5v5h-5zM1221 405h5v5h-5zM1251 405h5v5h-5zM1386 405h5v5h-5zM1211 410h5v5h-5zM1356 410h5v5h-5zM1366 410h5v5h-5zM1231 425h5v5h-5zM1236 430h5v5h-5zM1336 455h5v5h-5zM1336 465h5v5h-5zM1181 470h5v5h-5zM1321 475h10v5h-10zM1331 490h5v5h-5zM1371 490h5v5h-5zM1336 495h5v5h-5zM1461 495h5v5h-5zM1181 515h5v5h-5zM1306 515h5v5h-5zM1271 520h5v5h-5zM1311 520h5v5h-5zM1316 535h10v5h-10zM1461 540h5v5h-5zM1306 545h5v5h-5zM1306 555h5v5h-5zM1406 580h5v5h-5zM1411 585h5v5h-5zM1276 600h5v5h-5zM1286 600h5v5h-5zM1431 600h5v5h-5zM1256 605h5v5h-5zM1391 605h5v5h-5zM1421 605h5v5h-5zM1266 610h5v5h-5zM1246 620h5v5h-5zM1266 620h5v5h-5zM1396 620h10v5h-10zM1421 625h5v5h-5zM1276 630h5v5h-5zM1261 635h5v5h-5zM1381 635h5v5h-5zM1261 640h5v5h-5zM1381 640h5v5h-5zM1366 645h5v5h-5z"/><path fill="#737373" d="M1431 365h10v5h-10zM1206 380h10v5h-10zM1386 385h5v5h-5zM1346 400h5v5h-5zM1196 405h5v5h-5zM1236 405h5v5h-5zM1206 410h5v5h-5zM1231 410h5v5h-5zM1361 410h5v5h-5zM1256 415h5v5h-5zM1256 420h5v5h-5zM1401 430h5v5h-5zM1336 460h5v5h-5zM1196 470h5v5h-5zM1191 475h5v5h-5zM1191 490h5v5h-5zM1366 495h5v5h-5zM1306 500h5v5h-5zM1336 510h5v5h-5zM1276 515h5v5h-5zM1451 520h5v5h-5zM1451 535h5v5h-5zM1446 540h5v5h-5zM1306 550h5v5h-5zM1241 580h5v5h-5zM1386 590h5v5h-5zM1386 595h5v5h-5zM1281 600h5v5h-5zM1411 600h5v5h-5zM1436 600h5v5h-5zM1406 605h5v5h-5zM1446 605h5v5h-5zM1296 610h5v5h-5zM1256 625h5v5h-5zM1431 630h10v5h-10zM1206 645h10v5h-10z"/><path fill="#767676" d="M1231 365h5v5h-5zM1281 365h5v5h-5zM1361 380h5v5h-5zM1411 380h5v5h-5zM1346 395h5v5h-5zM1376 395h5v5h-5zM1391 405h5v5h-5zM1401 405h5v5h-5zM1231 420h5v5h-5zM1386 425h5v5h-5zM1406 425h5v5h-5zM1391 430h5v5h-5zM1331 450h5v5h-5zM1181 455h5v5h-5zM1311 455h5v5h-5zM1181 465h5v5h-5zM1331 470h5v5h-5zM1366 470h5v5h-5zM1371 475h5v5h-5zM1316 490h5v5h-5zM1181 495h5v5h-5zM1196 495h5v5h-5zM1336 500h5v5h-5zM1306 510h5v5h-5zM1446 515h5v5h-5zM1461 515h5v5h-5zM1326 520h5v5h-5zM1271 535h5v5h-5zM1276 540h5v5h-5zM1311 540h5v5h-5zM1461 545h5v5h-5zM1331 555h5v5h-5zM1461 555h5v5h-5zM1311 560h5v5h-5zM1251 580h5v5h-5zM1236 585h5v5h-5zM1256 585h5v5h-5zM1411 590h5v5h-5zM1241 605h5v5h-5zM1251 605h5v5h-5zM1266 615h5v5h-5zM1296 615h5v5h-5zM1231 630h5v5h-5zM1281 630h5v5h-5zM1361 645h5v5h-5zM1411 645h5v5h-5z"/><path fill="#797979" d="M1411 365h5v5h-5zM1231 380h5v5h-5zM1371 385h5v5h-5zM1406 385h5v5h-5zM1221 400h5v5h-5zM1241 405h10v5h-10zM1371 405h5v5h-5zM1396 405h5v5h-5zM1386 410h5v5h-5zM1406 410h5v5h-5zM1231 415h5v5h-5zM1241 430h10v5h-10zM1396 430h5v5h-5zM1181 460h5v5h-5zM1311 465h5v5h-5zM1351 470h5v5h-5zM1326 490h5v5h-5zM1306 505h5v5h-5zM1336 505h5v5h-5zM1316 520h5v5h-5zM1291 540h5v5h-5zM1331 545h5v5h-5zM1461 550h5v5h-5zM1246 580h5v5h-5zM1396 580h10v5h-10zM1411 595h5v5h-5zM1236 600h5v5h-5zM1256 600h5v5h-5zM1246 605h5v5h-5zM1271 605h5v5h-5zM1396 605h10v5h-10zM1421 610h5v5h-5zM1236 625h5v5h-5zM1271 625h5v5h-5zM1411 630h5v5h-5zM1231 645h5v5h-5z"/><path fill="#7b7b7b" d="M1236 385h5v5h-5zM1351 385h5v5h-5zM1221 390h5v5h-5zM1316 450h5v5h-5zM1311 460h5v5h-5zM1211 470h5v5h-5zM1316 470h5v5h-5zM1346 475h5v5h-5zM1191 480h5v5h-5zM1191 485h5v5h-5zM1321 490h5v5h-5zM1346 490h5v5h-5zM1211 495h5v5h-5zM1351 495h5v5h-5zM1291 515h5v5h-5zM1431 515h5v5h-5zM1296 520h5v5h-5zM1321 520h5v5h-5zM1451 525h5v5h-5zM1451 530h5v5h-5zM1296 535h5v5h-5zM1326 540h5v5h-5zM1431 540h5v5h-5zM1331 550h5v5h-5zM1326 560h5v5h-5zM1421 620h5v5h-5zM1291 625h5v5h-5zM1406 625h5v5h-5z"/><path fill="#7e7e7e" d="M1221 395h5v5h-5zM1216 405h5v5h-5zM1351 405h5v5h-5zM1236 410h5v5h-5zM1251 410h5v5h-5zM1386 415h5v5h-5zM1386 420h5v5h-5zM1251 425h5v5h-5zM1331 465h5v5h-5zM1201 470h5v5h-5zM1326 470h5v5h-5zM1216 490h5v5h-5zM1311 495h5v5h-5zM1331 515h5v5h-5zM1426 520h5v5h-5zM1316 540h5v5h-5zM1441 540h5v5h-5zM1311 545h5v5h-5zM1391 585h5v5h-5zM1256 590h5v5h-5zM1256 595h5v5h-5zM1391 600h5v5h-5zM1406 600h5v5h-5zM1291 605h5v5h-5zM1426 605h5v5h-5zM1421 615h5v5h-5z"/><path fill="#818181" d="M1386 365h5v5h-5zM1231 370h5v5h-5zM1411 375h5v5h-5zM1256 380h5v5h-5zM1216 385h5v5h-5zM1251 385h5v5h-5zM1406 415h5v5h-5zM1406 420h5v5h-5zM1236 425h5v5h-5zM1326 450h5v5h-5zM1331 455h5v5h-5zM1321 470h5v5h-5zM1371 485h5v5h-5zM1331 495h5v5h-5zM1181 500h5v5h-5zM1461 500h5v5h-5zM1181 510h5v5h-5zM1461 510h5v5h-5zM1311 515h5v5h-5zM1271 525h5v5h-5zM1321 540h5v5h-5zM1311 555h5v5h-5zM1316 560h5v5h-5zM1406 585h5v5h-5zM1236 590h5v5h-5zM1236 595h5v5h-5zM1391 625h5v5h-5zM1426 625h5v5h-5zM1386 630h5v5h-5zM1231 635h5v5h-5zM1411 640h5v5h-5zM1256 645h5v5h-5z"/><path fill="#848484" d="M1256 365h5v5h-5zM1411 370h5v5h-5zM1231 375h5v5h-5zM1386 380h5v5h-5zM1391 385h5v5h-5zM1391 410h5v5h-5zM1321 450h5v5h-5zM1331 460h5v5h-5zM1206 470h5v5h-5zM1356 470h10v5h-10zM1216 475h5v5h-5zM1371 480h5v5h-5zM1201 495h5v5h-5zM1361 495h5v5h-5zM1281 515h5v5h-5zM1441 515h5v5h-5zM1271 530h5v5h-5zM1426 535h5v5h-5zM1281 540h10v5h-10zM1436 540h5v5h-5zM1311 550h5v5h-5zM1321 560h5v5h-5zM1251 600h5v5h-5zM1251 625h5v5h-5zM1256 630h5v5h-5zM1411 635h5v5h-5zM1231 640h5v5h-5zM1386 645h5v5h-5z"/><path fill="#868686" d="M1196 390h5v5h-5zM1241 410h10v5h-10zM1401 410h5v5h-5zM1236 415h5v5h-5zM1391 425h5v5h-5zM1401 425h5v5h-5zM1346 480h5v5h-5zM1346 485h5v5h-5zM1206 495h5v5h-5zM1356 495h5v5h-5zM1181 505h5v5h-5zM1461 505h5v5h-5zM1286 515h5v5h-5zM1436 515h5v5h-5zM1296 525h5v5h-5zM1296 530h5v5h-5zM1241 585h5v5h-5zM1251 585h5v5h-5zM1406 595h5v5h-5zM1241 600h5v5h-5zM1396 600h10v5h-10zM1446 620h5v5h-5z"/><path fill="#898989" d="M1241 385h5v5h-5zM1401 385h5v5h-5zM1196 400h5v5h-5zM1371 400h5v5h-5zM1396 410h5v5h-5zM1251 415h5v5h-5zM1236 420h5v5h-5zM1251 420h5v5h-5zM1316 455h5v5h-5zM1316 465h5v5h-5zM1196 475h5v5h-5zM1446 535h5v5h-5zM1326 545h5v5h-5zM1326 555h5v5h-5zM1391 590h5v5h-5zM1406 590h5v5h-5zM1391 595h5v5h-5zM1246 600h5v5h-5zM1271 610h5v5h-5zM1446 610h5v5h-5zM1241 625h5v5h-5zM1401 625h5v5h-5z"/><path fill="#8c8c8c" d="M1201 385h5v5h-5zM1246 385h5v5h-5zM1396 385h5v5h-5zM1371 390h5v5h-5zM1201 405h5v5h-5zM1366 405h5v5h-5zM1391 415h5v5h-5zM1241 425h10v5h-10zM1396 425h5v5h-5zM1326 465h5v5h-5zM1196 490h5v5h-5zM1446 520h5v5h-5zM1316 545h5v5h-5zM1246 585h5v5h-5zM1396 585h10v5h-10zM1251 595h5v5h-5zM1276 605h5v5h-5zM1441 605h5v5h-5zM1271 620h5v5h-5zM1246 625h5v5h-5zM1396 625h5v5h-5zM1441 625h5v5h-5z"/><path fill="#8e8e8e" d="M1366 385h5v5h-5zM1391 420h5v5h-5zM1326 455h5v5h-5zM1316 460h5v5h-5zM1326 550h5v5h-5zM1316 555h5v5h-5zM1251 590h5v5h-5zM1276 625h5v5h-5z"/><path fill="#919191" d="M1256 370h5v5h-5zM1386 370h5v5h-5zM1256 375h5v5h-5zM1386 375h5v5h-5zM1371 395h5v5h-5zM1211 405h5v5h-5zM1401 415h5v5h-5zM1401 420h5v5h-5zM1321 465h5v5h-5zM1321 545h5v5h-5zM1241 590h5v5h-5zM1241 595h5v5h-5zM1431 605h5v5h-5zM1271 615h5v5h-5zM1256 635h5v5h-5zM1386 635h5v5h-5zM1256 640h5v5h-5zM1386 640h5v5h-5z"/><path fill="#949494" d="M1236 365h5v5h-5zM1406 380h5v5h-5zM1196 395h5v5h-5zM1356 405h5v5h-5zM1241 415h10v5h-10zM1396 415h5v5h-5zM1241 420h5v5h-5zM1321 455h5v5h-5zM1326 460h5v5h-5zM1351 475h5v5h-5zM1216 480h5v5h-5zM1216 485h5v5h-5zM1311 500h5v5h-5zM1331 510h5v5h-5zM1426 525h5v5h-5zM1426 530h5v5h-5zM1291 535h5v5h-5zM1316 550h5v5h-5zM1321 555h5v5h-5zM1401 590h5v5h-5zM1246 595h5v5h-5zM1396 595h10v5h-10zM1286 605h5v5h-5zM1446 615h5v5h-5zM1236 630h5v5h-5zM1406 645h5v5h-5z"/><path fill="#969696" d="M1406 365h5v5h-5zM1236 380h5v5h-5zM1211 385h5v5h-5zM1356 385h5v5h-5zM1216 400h5v5h-5zM1246 420h5v5h-5zM1396 420h5v5h-5zM1321 460h5v5h-5zM1366 475h5v5h-5zM1351 490h5v5h-5zM1366 490h5v5h-5zM1316 495h5v5h-5zM1326 495h5v5h-5zM1331 500h5v5h-5zM1311 510h5v5h-5zM1316 515h5v5h-5zM1326 515h5v5h-5zM1276 520h5v5h-5zM1291 520h5v5h-5zM1276 535h5v5h-5zM1321 550h5v5h-5zM1246 590h5v5h-5zM1396 590h5v5h-5zM1426 610h5v5h-5zM1286 625h5v5h-5zM1431 625h5v5h-5zM1406 630h5v5h-5zM1236 645h5v5h-5z"/><path fill="#999999" d="M1216 390h5v5h-5zM1351 390h5v5h-5zM1351 400h5v5h-5zM1206 405h5v5h-5zM1361 405h5v5h-5zM1281 605h5v5h-5zM1436 605h5v5h-5zM1291 610h5v5h-5zM1291 620h5v5h-5zM1426 620h5v5h-5z"/><path fill="#9c9c9c" d="M1196 480h5v5h-5zM1196 485h5v5h-5zM1446 525h5v5h-5zM1446 530h5v5h-5z"/><path fill="#9e9e9e" d="M1206 385h5v5h-5zM1361 385h5v5h-5zM1311 505h5v5h-5zM1331 505h5v5h-5zM1281 625h5v5h-5zM1436 625h5v5h-5z"/><path fill="#a1a1a1" d="M1251 365h5v5h-5zM1391 365h5v5h-5zM1251 380h5v5h-5zM1391 380h5v5h-5zM1216 395h5v5h-5zM1211 475h5v5h-5zM1321 495h5v5h-5zM1321 515h5v5h-5zM1431 535h5v5h-5zM1426 615h5v5h-5zM1251 630h5v5h-5zM1391 630h5v5h-5zM1251 645h5v5h-5zM1391 645h5v5h-5z"/><path fill="#a4a4a4" d="M1201 475h5v5h-5zM1211 490h5v5h-5zM1431 520h5v5h-5zM1441 535h5v5h-5z"/><path fill="#a6a6a6" d="M1351 395h5v5h-5zM1291 615h5v5h-5z"/><path fill="#a9a9a9" d="M1236 370h5v5h-5zM1406 370h5v5h-5zM1236 375h5v5h-5zM1406 375h5v5h-5zM1201 490h5v5h-5zM1441 520h5v5h-5zM1236 635h5v5h-5zM1406 635h5v5h-5zM1236 640h5v5h-5zM1406 640h5v5h-5z"/><path fill="#acacac" d="M1366 400h5v5h-5zM1356 475h10v5h-10zM1351 480h5v5h-5zM1351 485h5v5h-5zM1291 525h5v5h-5zM1291 530h5v5h-5zM1281 535h10v5h-10zM1276 610h5v5h-5z"/><path fill="#aeaeae" d="M1241 365h5v5h-5zM1401 380h5v5h-5zM1366 390h5v5h-5zM1206 475h5v5h-5zM1436 535h5v5h-5zM1276 620h5v5h-5zM1241 630h5v5h-5zM1401 645h5v5h-5z"/><path fill="#b1b1b1" d="M1401 365h5v5h-5zM1241 380h5v5h-5zM1201 400h5v5h-5zM1366 480h5v5h-5zM1366 485h5v5h-5zM1356 490h10v5h-10zM1281 520h10v5h-10zM1276 525h5v5h-5zM1276 530h5v5h-5zM1441 610h5v5h-5zM1401 630h5v5h-5zM1241 645h5v5h-5z"/><path fill="#b4b4b4" d="M1201 390h5v5h-5zM1206 490h5v5h-5zM1436 520h5v5h-5zM1441 620h5v5h-5z"/><path fill="#b7b7b7" d="M1246 365h5v5h-5zM1396 365h5v5h-5zM1246 380h5v5h-5zM1396 380h5v5h-5zM1211 400h5v5h-5zM1431 610h5v5h-5zM1246 630h5v5h-5zM1396 630h5v5h-5zM1246 645h5v5h-5zM1396 645h5v5h-5z"/><path fill="#b9b9b9" d="M1316 500h5v5h-5zM1326 510h5v5h-5z"/><path fill="#bcbcbc" d="M1251 370h5v5h-5zM1391 370h5v5h-5zM1251 375h5v5h-5zM1391 375h5v5h-5zM1211 390h5v5h-5zM1366 395h5v5h-5zM1356 400h5v5h-5zM1326 500h5v5h-5zM1316 510h5v5h-5zM1286 610h5v5h-5zM1276 615h5v5h-5zM1431 620h5v5h-5zM1251 635h5v5h-5zM1391 635h5v5h-5zM1251 640h5v5h-5zM1391 640h5v5h-5z"/><path fill="#bfbfbf" d="M1356 390h5v5h-5zM1286 620h5v5h-5z"/><path fill="#c1c1c1" d="M1201 395h5v5h-5zM1201 480h5v5h-5zM1211 480h5v5h-5zM1211 485h5v5h-5zM1431 525h5v5h-5zM1431 530h5v5h-5zM1441 530h5v5h-5zM1441 615h5v5h-5z"/><path fill="#c4c4c4" d="M1206 400h5v5h-5zM1361 400h5v5h-5zM1201 485h5v5h-5zM1441 525h5v5h-5zM1281 610h5v5h-5zM1436 610h5v5h-5z"/><path fill="#c7c7c7" d="M1361 390h5v5h-5zM1281 620h5v5h-5z"/><path fill="#c9c9c9" d="M1206 390h5v5h-5zM1436 620h5v5h-5z"/><path fill="#cccccc" d="M1211 395h5v5h-5zM1356 480h5v5h-5zM1321 500h5v5h-5zM1316 505h5v5h-5zM1326 505h5v5h-5zM1321 510h5v5h-5zM1286 530h5v5h-5zM1431 615h5v5h-5z"/><path fill="#cfcfcf" d="M1241 370h5v5h-5zM1401 370h5v5h-5zM1241 375h5v5h-5zM1401 375h5v5h-5zM1356 485h5v5h-5zM1286 525h5v5h-5zM1241 635h5v5h-5zM1401 635h5v5h-5zM1241 640h5v5h-5zM1401 640h5v5h-5z"/><path fill="#d1d1d1" d="M1356 395h5v5h-5zM1361 480h5v5h-5zM1281 530h5v5h-5zM1286 615h5v5h-5z"/><path fill="#d4d4d4" d="M1206 480h5v5h-5zM1361 485h5v5h-5zM1281 525h5v5h-5zM1436 530h5v5h-5z"/><path fill="#d7d7d7" d="M1246 370h5v5h-5zM1396 370h5v5h-5zM1246 375h5v5h-5zM1396 375h5v5h-5zM1206 485h5v5h-5zM1436 525h5v5h-5zM1246 635h5v5h-5zM1396 635h5v5h-5zM1246 640h5v5h-5zM1396 640h5v5h-5z"/><path fill="#d9d9d9" d="M1206 395h5v5h-5zM1361 395h5v5h-5zM1281 615h5v5h-5zM1436 615h5v5h-5z"/><path fill="#dfdfdf" d="M1321 505h5v5h-5z"/></g>
<path d="M1247,463.3L1247,551.7L1323.5,595.8L1400,551.7L1400,463.3L1323.5,419.2L1247,463.3" fill="none" stroke="#fff" stroke-width="3.1" stroke-dasharray="15.5 14" stroke-dashoffset="16.5"/>
<path d="M1247,463.3L1170.5,419.2M1247,551.7L1170.5,595.8M1323.5,419.2L1323.5,330.8M1323.5,595.8L1323.5,684.2M1400,463.3L1476.5,419.2M1400,551.7L1476.5,595.8" fill="none" stroke="#fff" stroke-width="3.1" stroke-dasharray="15.5 14" stroke-dashoffset="2"/>
<path d="M1374.5,507.5L1349,463.3L1298,463.3L1272.5,507.5L1298,551.7L1349,551.7Z" fill="none" stroke="#f7de3e" stroke-width="3"/>
</g>
<rect x="1361" y="377" width="93" height="29.6" fill="#464b4b" fill-opacity="0.93"/>
<text x="1408" y="400" font-size="24.5" fill="#fff" text-anchor="middle">S<tspan font-size="20" dy="-9.5">yy</tspan><tspan dy="9.5">(k)</tspan></text>
<path d="M1191,375V640H1457.5" fill="none" stroke="#222" stroke-width="2"/>
<path d="M1191,375H1456" fill="none" stroke="#999" stroke-width="1"/>
<text x="1179" y="385" font-size="28" text-anchor="end">2</text>
<text x="1179" y="451.2" font-size="28" text-anchor="end">1</text>
<text x="1179" y="517.5" font-size="28" text-anchor="end">0</text>
<text x="1179" y="583.8" font-size="28" text-anchor="end">-1</text>
<text x="1179" y="654" font-size="28" text-anchor="end">-2</text>
<text x="1186" y="674" font-size="28" text-anchor="middle">-2</text>
<text x="1322.5" y="674" font-size="28" text-anchor="middle">0</text>
<text x="1459" y="674" font-size="28" text-anchor="middle">2</text>
<rect x="1466.5" y="634.4" width="34.5" height="4.7" fill="#2d2e6e"/>
<rect x="1466.5" y="630.3" width="34.5" height="4.7" fill="#2e3183"/>
<rect x="1466.5" y="626.2" width="34.5" height="4.7" fill="#2e358f"/>
<rect x="1466.5" y="622.1" width="34.5" height="4.7" fill="#2e3a94"/>
<rect x="1466.5" y="618" width="34.5" height="4.7" fill="#2e3f98"/>
<rect x="1466.5" y="613.8" width="34.5" height="4.7" fill="#2e439c"/>
<rect x="1466.5" y="609.7" width="34.5" height="4.7" fill="#2e47a0"/>
<rect x="1466.5" y="605.6" width="34.5" height="4.7" fill="#2e4ba3"/>
<rect x="1466.5" y="601.5" width="34.5" height="4.7" fill="#2e4fa6"/>
<rect x="1466.5" y="597.4" width="34.5" height="4.7" fill="#2f54a9"/>
<rect x="1466.5" y="593.3" width="34.5" height="4.7" fill="#2f58ab"/>
<rect x="1466.5" y="589.2" width="34.5" height="4.7" fill="#305cae"/>
<rect x="1466.5" y="585.1" width="34.5" height="4.7" fill="#3262b3"/>
<rect x="1466.5" y="581" width="34.5" height="4.7" fill="#3568b7"/>
<rect x="1466.5" y="576.9" width="34.5" height="4.7" fill="#3771bd"/>
<rect x="1466.5" y="572.8" width="34.5" height="4.7" fill="#3a7cc4"/>
<rect x="1466.5" y="568.6" width="34.5" height="4.7" fill="#3e87cb"/>
<rect x="1466.5" y="564.5" width="34.5" height="4.7" fill="#4290d0"/>
<rect x="1466.5" y="560.4" width="34.5" height="4.7" fill="#489bd6"/>
<rect x="1466.5" y="556.3" width="34.5" height="4.7" fill="#50a6dc"/>
<rect x="1466.5" y="552.2" width="34.5" height="4.7" fill="#5ab2e0"/>
<rect x="1466.5" y="548.1" width="34.5" height="4.7" fill="#65bfe3"/>
<rect x="1466.5" y="544" width="34.5" height="4.7" fill="#6fc7e2"/>
<rect x="1466.5" y="539.9" width="34.5" height="4.7" fill="#78cee0"/>
<rect x="1466.5" y="535.8" width="34.5" height="4.7" fill="#80d4dc"/>
<rect x="1466.5" y="531.7" width="34.5" height="4.7" fill="#80d5d2"/>
<rect x="1466.5" y="527.5" width="34.5" height="4.7" fill="#80d5c8"/>
<rect x="1466.5" y="523.4" width="34.5" height="4.7" fill="#80d6be"/>
<rect x="1466.5" y="519.3" width="34.5" height="4.7" fill="#85d7b0"/>
<rect x="1466.5" y="515.2" width="34.5" height="4.7" fill="#8ad7a2"/>
<rect x="1466.5" y="511.1" width="34.5" height="4.7" fill="#8fd893"/>
<rect x="1466.5" y="507" width="34.5" height="4.7" fill="#97d986"/>
<rect x="1466.5" y="502.9" width="34.5" height="4.7" fill="#a1db7a"/>
<rect x="1466.5" y="498.8" width="34.5" height="4.7" fill="#abdc6d"/>
<rect x="1466.5" y="494.7" width="34.5" height="4.7" fill="#bbde61"/>
<rect x="1466.5" y="490.6" width="34.5" height="4.7" fill="#cbdf54"/>
<rect x="1466.5" y="486.5" width="34.5" height="4.7" fill="#d7e04c"/>
<rect x="1466.5" y="482.3" width="34.5" height="4.7" fill="#e1e046"/>
<rect x="1466.5" y="478.2" width="34.5" height="4.7" fill="#eadf40"/>
<rect x="1466.5" y="474.1" width="34.5" height="4.7" fill="#edd93d"/>
<rect x="1466.5" y="470" width="34.5" height="4.7" fill="#efd33b"/>
<rect x="1466.5" y="465.9" width="34.5" height="4.7" fill="#f0c938"/>
<rect x="1466.5" y="461.8" width="34.5" height="4.7" fill="#f1bd34"/>
<rect x="1466.5" y="457.7" width="34.5" height="4.7" fill="#f2b030"/>
<rect x="1466.5" y="453.6" width="34.5" height="4.7" fill="#f2a12d"/>
<rect x="1466.5" y="449.5" width="34.5" height="4.7" fill="#f2932a"/>
<rect x="1466.5" y="445.4" width="34.5" height="4.7" fill="#f18327"/>
<rect x="1466.5" y="441.2" width="34.5" height="4.7" fill="#ef7424"/>
<rect x="1466.5" y="437.1" width="34.5" height="4.7" fill="#ec6420"/>
<rect x="1466.5" y="433" width="34.5" height="4.7" fill="#e9571f"/>
<rect x="1466.5" y="428.9" width="34.5" height="4.7" fill="#e64b1f"/>
<rect x="1466.5" y="424.8" width="34.5" height="4.7" fill="#e3401e"/>
<rect x="1466.5" y="420.7" width="34.5" height="4.7" fill="#e13b1f"/>
<rect x="1466.5" y="416.6" width="34.5" height="4.7" fill="#df361f"/>
<rect x="1466.5" y="412.5" width="34.5" height="4.7" fill="#dd3120"/>
<rect x="1466.5" y="408.4" width="34.5" height="4.7" fill="#d72d20"/>
<rect x="1466.5" y="404.3" width="34.5" height="4.7" fill="#cb2c22"/>
<rect x="1466.5" y="400.2" width="34.5" height="4.7" fill="#c02a23"/>
<rect x="1466.5" y="396" width="34.5" height="4.7" fill="#b42924"/>
<rect x="1466.5" y="391.9" width="34.5" height="4.7" fill="#a72724"/>
<rect x="1466.5" y="387.8" width="34.5" height="4.7" fill="#992423"/>
<rect x="1466.5" y="383.7" width="34.5" height="4.7" fill="#8b2222"/>
<rect x="1466.5" y="379.6" width="34.5" height="4.7" fill="#7f2020"/>
<rect x="1466.5" y="375.5" width="34.5" height="4.7" fill="#721f1f"/>
<rect x="1466.5" y="375.5" width="34.5" height="263" fill="none" stroke="#555" stroke-width="0.8"/>
<path d="M1501,375.5h-4" stroke="#333" stroke-width="1.2"/>
<text x="1501.5" y="385" font-size="28.5">0.6</text>
<path d="M1501,480.7h-4" stroke="#333" stroke-width="1.2"/>
<text x="1501.5" y="490.2" font-size="28.5">0.4</text>
<path d="M1501,585.9h-4" stroke="#333" stroke-width="1.2"/>
<text x="1501.5" y="595.4" font-size="28.5">0.2</text>
<text x="1322.5" y="709" font-size="30" text-anchor="middle"><tspan font-style="italic">k</tspan><tspan font-size="19" dy="6">x</tspan><tspan dy="-6" dx="3">/</tspan><tspan dx="3" font-family="Liberation Serif, serif" font-style="italic">π</tspan></text>
<text transform="translate(1146,508.5) rotate(-90)" font-size="30" text-anchor="middle"><tspan font-style="italic">k</tspan><tspan font-size="19" dy="6">y</tspan><tspan dy="-6" dx="3">/</tspan><tspan dx="3" font-family="Liberation Serif, serif" font-style="italic">π</tspan></text>
<text x="1120" y="385" font-size="40" font-weight="bold">f</text>
<g clip-path="url(#clipg)"><g filter="url(#cmf)"><path fill="#000000" d="M1639 435.5h20v5h-20zM1664 435.5h25v5h-25zM1714 435.5h20v5h-20zM1744 435.5h20v5h-20zM1789 435.5h20v5h-20zM1819 435.5h20v5h-20zM1864 435.5h25v5h-25zM1894 435.5h20v5h-20zM1634 440.5h25v5h-25zM1664 440.5h25v5h-25zM1714 440.5h50v5h-50zM1789 440.5h50v5h-50zM1864 440.5h25v5h-25zM1894 440.5h25v5h-25zM1639 445.5h15v5h-15zM1669 445.5h15v5h-15zM1714 445.5h15v5h-15zM1744 445.5h15v5h-15zM1794 445.5h15v5h-15zM1824 445.5h15v5h-15zM1869 445.5h15v5h-15zM1899 445.5h15v5h-15zM1639 565.5h15v5h-15zM1669 565.5h15v5h-15zM1714 565.5h15v5h-15zM1744 565.5h15v5h-15zM1794 565.5h15v5h-15zM1824 565.5h15v5h-15zM1869 565.5h15v5h-15zM1899 565.5h15v5h-15zM1634 570.5h25v5h-25zM1664 570.5h25v5h-25zM1714 570.5h50v5h-50zM1789 570.5h50v5h-50zM1864 570.5h25v5h-25zM1894 570.5h25v5h-25zM1639 575.5h20v5h-20zM1664 575.5h25v5h-25zM1714 575.5h20v5h-20zM1744 575.5h20v5h-20zM1789 575.5h20v5h-20zM1819 575.5h20v5h-20zM1864 575.5h25v5h-25zM1894 575.5h20v5h-20z"/><path fill="#030303" d="M1644 430.5h5v5h-5zM1674 430.5h5v5h-5zM1719 430.5h5v5h-5zM1749 430.5h5v5h-5zM1799 430.5h5v5h-5zM1829 430.5h5v5h-5zM1874 430.5h5v5h-5zM1904 430.5h5v5h-5zM1634 435.5h5v5h-5zM1659 435.5h5v5h-5zM1734 435.5h10v5h-10zM1809 435.5h10v5h-10zM1889 435.5h5v5h-5zM1914 435.5h5v5h-5zM1659 440.5h5v5h-5zM1709 440.5h5v5h-5zM1839 440.5h5v5h-5zM1889 440.5h5v5h-5zM1729 445.5h5v5h-5zM1759 445.5h5v5h-5zM1789 445.5h5v5h-5zM1819 445.5h5v5h-5zM1729 565.5h5v5h-5zM1759 565.5h5v5h-5zM1789 565.5h5v5h-5zM1819 565.5h5v5h-5zM1659 570.5h5v5h-5zM1709 570.5h5v5h-5zM1839 570.5h5v5h-5zM1889 570.5h5v5h-5zM1634 575.5h5v5h-5zM1659 575.5h5v5h-5zM1734 575.5h10v5h-10zM1809 575.5h10v5h-10zM1889 575.5h5v5h-5zM1914 575.5h5v5h-5zM1644 580.5h5v5h-5zM1674 580.5h5v5h-5zM1719 580.5h5v5h-5zM1749 580.5h5v5h-5zM1799 580.5h5v5h-5zM1829 580.5h5v5h-5zM1874 580.5h5v5h-5zM1904 580.5h5v5h-5z"/><path fill="#050505" d="M1639 430.5h5v5h-5zM1649 430.5h5v5h-5zM1669 430.5h5v5h-5zM1679 430.5h5v5h-5zM1714 430.5h5v5h-5zM1724 430.5h5v5h-5zM1754 430.5h5v5h-5zM1794 430.5h5v5h-5zM1824 430.5h5v5h-5zM1834 430.5h5v5h-5zM1869 430.5h5v5h-5zM1879 430.5h5v5h-5zM1899 430.5h5v5h-5zM1909 430.5h5v5h-5zM1709 435.5h5v5h-5zM1839 435.5h5v5h-5zM1764 440.5h5v5h-5zM1784 440.5h5v5h-5zM1634 445.5h5v5h-5zM1654 445.5h5v5h-5zM1664 445.5h5v5h-5zM1684 445.5h5v5h-5zM1734 445.5h10v5h-10zM1809 445.5h10v5h-10zM1864 445.5h5v5h-5zM1884 445.5h5v5h-5zM1894 445.5h5v5h-5zM1914 445.5h5v5h-5zM1634 565.5h5v5h-5zM1654 565.5h5v5h-5zM1664 565.5h5v5h-5zM1684 565.5h5v5h-5zM1734 565.5h10v5h-10zM1809 565.5h10v5h-10zM1864 565.5h5v5h-5zM1884 565.5h5v5h-5zM1894 565.5h5v5h-5zM1914 565.5h5v5h-5zM1764 570.5h5v5h-5zM1784 570.5h5v5h-5zM1709 575.5h5v5h-5zM1839 575.5h5v5h-5zM1639 580.5h5v5h-5zM1649 580.5h5v5h-5zM1669 580.5h5v5h-5zM1679 580.5h5v5h-5zM1714 580.5h5v5h-5zM1724 580.5h5v5h-5zM1754 580.5h5v5h-5zM1794 580.5h5v5h-5zM1824 580.5h5v5h-5zM1834 580.5h5v5h-5zM1869 580.5h5v5h-5zM1879 580.5h5v5h-5zM1899 580.5h5v5h-5zM1909 580.5h5v5h-5z"/><path fill="#080808" d="M1654 430.5h5v5h-5zM1684 430.5h5v5h-5zM1729 430.5h5v5h-5zM1744 430.5h5v5h-5zM1759 430.5h5v5h-5zM1789 430.5h5v5h-5zM1804 430.5h5v5h-5zM1819 430.5h5v5h-5zM1864 430.5h5v5h-5zM1894 430.5h5v5h-5zM1689 435.5h5v5h-5zM1764 435.5h5v5h-5zM1784 435.5h5v5h-5zM1859 435.5h5v5h-5zM1689 440.5h5v5h-5zM1859 440.5h5v5h-5zM1659 445.5h5v5h-5zM1709 445.5h5v5h-5zM1764 445.5h5v5h-5zM1784 445.5h5v5h-5zM1839 445.5h5v5h-5zM1889 445.5h5v5h-5zM1659 565.5h5v5h-5zM1709 565.5h5v5h-5zM1764 565.5h5v5h-5zM1784 565.5h5v5h-5zM1839 565.5h5v5h-5zM1889 565.5h5v5h-5zM1689 570.5h5v5h-5zM1859 570.5h5v5h-5zM1689 575.5h5v5h-5zM1764 575.5h5v5h-5zM1784 575.5h5v5h-5zM1859 575.5h5v5h-5zM1654 580.5h5v5h-5zM1684 580.5h5v5h-5zM1729 580.5h5v5h-5zM1744 580.5h5v5h-5zM1759 580.5h5v5h-5zM1789 580.5h5v5h-5zM1804 580.5h5v5h-5zM1819 580.5h5v5h-5zM1864 580.5h5v5h-5zM1894 580.5h5v5h-5z"/><path fill="#0b0b0b" d="M1699 415.5h5v5h-5zM1849 415.5h5v5h-5zM1699 420.5h5v5h-5zM1849 420.5h5v5h-5zM1634 430.5h5v5h-5zM1659 430.5h10v5h-10zM1709 430.5h5v5h-5zM1734 430.5h10v5h-10zM1809 430.5h10v5h-10zM1839 430.5h5v5h-5zM1884 430.5h10v5h-10zM1914 430.5h5v5h-5zM1704 435.5h5v5h-5zM1844 435.5h5v5h-5zM1704 440.5h5v5h-5zM1769 440.5h5v5h-5zM1779 440.5h5v5h-5zM1844 440.5h5v5h-5zM1689 445.5h5v5h-5zM1859 445.5h5v5h-5zM1639 450.5h10v5h-10zM1669 450.5h15v5h-15zM1719 450.5h10v5h-10zM1749 450.5h10v5h-10zM1794 450.5h10v5h-10zM1824 450.5h10v5h-10zM1869 450.5h15v5h-15zM1904 450.5h10v5h-10zM1774 460.5h5v5h-5zM1774 550.5h5v5h-5zM1639 560.5h10v5h-10zM1669 560.5h15v5h-15zM1719 560.5h10v5h-10zM1749 560.5h10v5h-10zM1794 560.5h10v5h-10zM1824 560.5h10v5h-10zM1869 560.5h15v5h-15zM1904 560.5h10v5h-10zM1689 565.5h5v5h-5zM1859 565.5h5v5h-5zM1704 570.5h5v5h-5zM1769 570.5h5v5h-5zM1779 570.5h5v5h-5zM1844 570.5h5v5h-5zM1704 575.5h5v5h-5zM1844 575.5h5v5h-5zM1634 580.5h5v5h-5zM1659 580.5h10v5h-10zM1709 580.5h5v5h-5zM1734 580.5h10v5h-10zM1809 580.5h10v5h-10zM1839 580.5h5v5h-5zM1884 580.5h10v5h-10zM1914 580.5h5v5h-5zM1699 590.5h5v5h-5zM1849 590.5h5v5h-5zM1699 595.5h5v5h-5zM1849 595.5h5v5h-5z"/><path fill="#0d0d0d" d="M1694 415.5h5v5h-5zM1854 415.5h5v5h-5zM1694 420.5h5v5h-5zM1854 420.5h5v5h-5zM1699 425.5h5v5h-5zM1849 425.5h5v5h-5zM1689 430.5h5v5h-5zM1704 430.5h5v5h-5zM1764 430.5h5v5h-5zM1784 430.5h5v5h-5zM1844 430.5h5v5h-5zM1859 430.5h5v5h-5zM1694 435.5h10v5h-10zM1769 435.5h5v5h-5zM1779 435.5h5v5h-5zM1849 435.5h10v5h-10zM1694 440.5h10v5h-10zM1774 440.5h5v5h-5zM1849 440.5h10v5h-10zM1704 445.5h5v5h-5zM1769 445.5h5v5h-5zM1779 445.5h5v5h-5zM1844 445.5h5v5h-5zM1634 450.5h5v5h-5zM1649 450.5h10v5h-10zM1664 450.5h5v5h-5zM1684 450.5h5v5h-5zM1714 450.5h5v5h-5zM1729 450.5h5v5h-5zM1744 450.5h5v5h-5zM1759 450.5h10v5h-10zM1784 450.5h10v5h-10zM1804 450.5h5v5h-5zM1819 450.5h5v5h-5zM1834 450.5h5v5h-5zM1864 450.5h5v5h-5zM1884 450.5h5v5h-5zM1894 450.5h10v5h-10zM1914 450.5h5v5h-5zM1774 455.5h5v5h-5zM1769 460.5h5v5h-5zM1779 460.5h5v5h-5zM1774 465.5h5v5h-5zM1774 545.5h5v5h-5zM1769 550.5h5v5h-5zM1779 550.5h5v5h-5zM1774 555.5h5v5h-5zM1634 560.5h5v5h-5zM1649 560.5h10v5h-10zM1664 560.5h5v5h-5zM1684 560.5h5v5h-5zM1714 560.5h5v5h-5zM1729 560.5h5v5h-5zM1744 560.5h5v5h-5zM1759 560.5h10v5h-10zM1784 560.5h10v5h-10zM1804 560.5h5v5h-5zM1819 560.5h5v5h-5zM1834 560.5h5v5h-5zM1864 560.5h5v5h-5zM1884 560.5h5v5h-5zM1894 560.5h10v5h-10zM1914 560.5h5v5h-5zM1704 565.5h5v5h-5zM1769 565.5h5v5h-5zM1779 565.5h5v5h-5zM1844 565.5h5v5h-5zM1694 570.5h10v5h-10zM1774 570.5h5v5h-5zM1849 570.5h10v5h-10zM1694 575.5h10v5h-10zM1769 575.5h5v5h-5zM1779 575.5h5v5h-5zM1849 575.5h10v5h-10zM1689 580.5h5v5h-5zM1704 580.5h5v5h-5zM1764 580.5h5v5h-5zM1784 580.5h5v5h-5zM1844 580.5h5v5h-5zM1859 580.5h5v5h-5zM1699 585.5h5v5h-5zM1849 585.5h5v5h-5zM1694 590.5h5v5h-5zM1854 590.5h5v5h-5zM1694 595.5h5v5h-5zM1854 595.5h5v5h-5z"/><path fill="#101010" d="M1704 420.5h5v5h-5zM1844 420.5h5v5h-5zM1639 425.5h10v5h-10zM1674 425.5h25v5h-25zM1704 425.5h20v5h-20zM1749 425.5h10v5h-10zM1794 425.5h10v5h-10zM1829 425.5h20v5h-20zM1854 425.5h25v5h-25zM1904 425.5h10v5h-10zM1694 430.5h10v5h-10zM1769 430.5h5v5h-5zM1779 430.5h5v5h-5zM1849 430.5h10v5h-10zM1774 435.5h5v5h-5zM1694 445.5h10v5h-10zM1774 445.5h5v5h-5zM1849 445.5h10v5h-10zM1659 450.5h5v5h-5zM1689 450.5h5v5h-5zM1709 450.5h5v5h-5zM1734 450.5h10v5h-10zM1769 450.5h15v5h-15zM1809 450.5h10v5h-10zM1839 450.5h5v5h-5zM1859 450.5h5v5h-5zM1889 450.5h5v5h-5zM1769 455.5h5v5h-5zM1779 455.5h5v5h-5zM1769 555.5h5v5h-5zM1779 555.5h5v5h-5zM1659 560.5h5v5h-5zM1689 560.5h5v5h-5zM1709 560.5h5v5h-5zM1734 560.5h10v5h-10zM1769 560.5h15v5h-15zM1809 560.5h10v5h-10zM1839 560.5h5v5h-5zM1859 560.5h5v5h-5zM1889 560.5h5v5h-5zM1694 565.5h10v5h-10zM1774 565.5h5v5h-5zM1849 565.5h10v5h-10zM1774 575.5h5v5h-5zM1694 580.5h10v5h-10zM1769 580.5h5v5h-5zM1779 580.5h5v5h-5zM1849 580.5h10v5h-10zM1639 585.5h10v5h-10zM1674 585.5h25v5h-25zM1704 585.5h20v5h-20zM1749 585.5h10v5h-10zM1794 585.5h10v5h-10zM1829 585.5h20v5h-20zM1854 585.5h25v5h-25zM1904 585.5h10v5h-10zM1704 590.5h5v5h-5zM1844 590.5h5v5h-5z"/><path fill="#131313" d="M1704 415.5h5v5h-5zM1844 415.5h5v5h-5zM1689 420.5h5v5h-5zM1859 420.5h5v5h-5zM1634 425.5h5v5h-5zM1649 425.5h10v5h-10zM1664 425.5h10v5h-10zM1724 425.5h10v5h-10zM1739 425.5h10v5h-10zM1759 425.5h10v5h-10zM1784 425.5h10v5h-10zM1804 425.5h10v5h-10zM1819 425.5h10v5h-10zM1879 425.5h10v5h-10zM1894 425.5h10v5h-10zM1914 425.5h5v5h-5zM1774 430.5h5v5h-5zM1704 450.5h5v5h-5zM1844 450.5h5v5h-5zM1634 455.5h5v5h-5zM1764 455.5h5v5h-5zM1784 455.5h5v5h-5zM1914 455.5h5v5h-5zM1634 555.5h5v5h-5zM1764 555.5h5v5h-5zM1784 555.5h5v5h-5zM1914 555.5h5v5h-5zM1704 560.5h5v5h-5zM1844 560.5h5v5h-5zM1774 580.5h5v5h-5zM1634 585.5h5v5h-5zM1649 585.5h10v5h-10zM1664 585.5h10v5h-10zM1724 585.5h10v5h-10zM1739 585.5h10v5h-10zM1759 585.5h10v5h-10zM1784 585.5h10v5h-10zM1804 585.5h10v5h-10zM1819 585.5h10v5h-10zM1879 585.5h10v5h-10zM1894 585.5h10v5h-10zM1914 585.5h5v5h-5zM1689 590.5h5v5h-5zM1859 590.5h5v5h-5zM1704 595.5h5v5h-5zM1844 595.5h5v5h-5z"/><path fill="#151515" d="M1699 410.5h5v5h-5zM1849 410.5h5v5h-5zM1709 420.5h5v5h-5zM1839 420.5h5v5h-5zM1659 425.5h5v5h-5zM1734 425.5h5v5h-5zM1769 425.5h5v5h-5zM1779 425.5h5v5h-5zM1814 425.5h5v5h-5zM1889 425.5h5v5h-5zM1694 450.5h10v5h-10zM1849 450.5h10v5h-10zM1639 455.5h10v5h-10zM1674 455.5h15v5h-15zM1714 455.5h10v5h-10zM1754 455.5h10v5h-10zM1789 455.5h10v5h-10zM1829 455.5h10v5h-10zM1864 455.5h15v5h-15zM1904 455.5h10v5h-10zM1769 465.5h5v5h-5zM1779 465.5h5v5h-5zM1769 545.5h5v5h-5zM1779 545.5h5v5h-5zM1639 555.5h10v5h-10zM1674 555.5h15v5h-15zM1714 555.5h10v5h-10zM1754 555.5h10v5h-10zM1789 555.5h10v5h-10zM1829 555.5h10v5h-10zM1864 555.5h15v5h-15zM1904 555.5h10v5h-10zM1694 560.5h10v5h-10zM1849 560.5h10v5h-10zM1659 585.5h5v5h-5zM1734 585.5h5v5h-5zM1769 585.5h5v5h-5zM1779 585.5h5v5h-5zM1814 585.5h5v5h-5zM1889 585.5h5v5h-5zM1709 590.5h5v5h-5zM1839 590.5h5v5h-5zM1699 600.5h5v5h-5zM1849 600.5h5v5h-5z"/><path fill="#181818" d="M1694 410.5h5v5h-5zM1854 410.5h5v5h-5zM1689 415.5h5v5h-5zM1859 415.5h5v5h-5zM1684 420.5h5v5h-5zM1864 420.5h5v5h-5zM1774 425.5h5v5h-5zM1649 455.5h25v5h-25zM1689 455.5h5v5h-5zM1704 455.5h10v5h-10zM1724 455.5h30v5h-30zM1799 455.5h30v5h-30zM1839 455.5h10v5h-10zM1859 455.5h5v5h-5zM1879 455.5h25v5h-25zM1764 460.5h5v5h-5zM1784 460.5h5v5h-5zM1764 550.5h5v5h-5zM1784 550.5h5v5h-5zM1649 555.5h25v5h-25zM1689 555.5h5v5h-5zM1704 555.5h10v5h-10zM1724 555.5h30v5h-30zM1799 555.5h30v5h-30zM1839 555.5h10v5h-10zM1859 555.5h5v5h-5zM1879 555.5h25v5h-25zM1774 585.5h5v5h-5zM1684 590.5h5v5h-5zM1864 590.5h5v5h-5zM1689 595.5h5v5h-5zM1859 595.5h5v5h-5zM1694 600.5h5v5h-5zM1854 600.5h5v5h-5z"/><path fill="#1b1b1b" d="M1634 420.5h15v5h-15zM1679 420.5h5v5h-5zM1714 420.5h10v5h-10zM1754 420.5h10v5h-10zM1789 420.5h10v5h-10zM1829 420.5h10v5h-10zM1869 420.5h5v5h-5zM1904 420.5h15v5h-15zM1694 455.5h10v5h-10zM1849 455.5h10v5h-10zM1634 460.5h5v5h-5zM1914 460.5h5v5h-5zM1634 550.5h5v5h-5zM1914 550.5h5v5h-5zM1694 555.5h10v5h-10zM1849 555.5h10v5h-10zM1634 590.5h15v5h-15zM1679 590.5h5v5h-5zM1714 590.5h10v5h-10zM1754 590.5h10v5h-10zM1789 590.5h10v5h-10zM1829 590.5h10v5h-10zM1869 590.5h5v5h-5zM1904 590.5h15v5h-15z"/><path fill="#1e1e1e" d="M1709 415.5h5v5h-5zM1839 415.5h5v5h-5zM1649 420.5h10v5h-10zM1664 420.5h15v5h-15zM1724 420.5h10v5h-10zM1739 420.5h15v5h-15zM1764 420.5h10v5h-10zM1779 420.5h10v5h-10zM1799 420.5h15v5h-15zM1819 420.5h10v5h-10zM1874 420.5h15v5h-15zM1894 420.5h10v5h-10zM1759 460.5h5v5h-5zM1789 460.5h5v5h-5zM1759 550.5h5v5h-5zM1789 550.5h5v5h-5zM1649 590.5h10v5h-10zM1664 590.5h15v5h-15zM1724 590.5h10v5h-10zM1739 590.5h15v5h-15zM1764 590.5h10v5h-10zM1779 590.5h10v5h-10zM1799 590.5h15v5h-15zM1819 590.5h10v5h-10zM1874 590.5h15v5h-15zM1894 590.5h10v5h-10zM1709 595.5h5v5h-5zM1839 595.5h5v5h-5z"/><path fill="#202020" d="M1704 410.5h5v5h-5zM1844 410.5h5v5h-5zM1659 420.5h5v5h-5zM1734 420.5h5v5h-5zM1774 420.5h5v5h-5zM1814 420.5h5v5h-5zM1889 420.5h5v5h-5zM1639 460.5h5v5h-5zM1679 460.5h10v5h-10zM1714 460.5h5v5h-5zM1834 460.5h5v5h-5zM1864 460.5h10v5h-10zM1909 460.5h5v5h-5zM1774 470.5h5v5h-5zM1774 540.5h5v5h-5zM1639 550.5h5v5h-5zM1679 550.5h10v5h-10zM1714 550.5h5v5h-5zM1834 550.5h5v5h-5zM1864 550.5h10v5h-10zM1909 550.5h5v5h-5zM1659 590.5h5v5h-5zM1734 590.5h5v5h-5zM1774 590.5h5v5h-5zM1814 590.5h5v5h-5zM1889 590.5h5v5h-5zM1704 600.5h5v5h-5zM1844 600.5h5v5h-5z"/><path fill="#232323" d="M1684 415.5h5v5h-5zM1864 415.5h5v5h-5zM1644 460.5h5v5h-5zM1674 460.5h5v5h-5zM1689 460.5h5v5h-5zM1704 460.5h10v5h-10zM1719 460.5h10v5h-10zM1749 460.5h10v5h-10zM1794 460.5h10v5h-10zM1824 460.5h10v5h-10zM1839 460.5h10v5h-10zM1859 460.5h5v5h-5zM1874 460.5h5v5h-5zM1904 460.5h5v5h-5zM1764 465.5h5v5h-5zM1784 465.5h5v5h-5zM1764 545.5h5v5h-5zM1784 545.5h5v5h-5zM1644 550.5h5v5h-5zM1674 550.5h5v5h-5zM1689 550.5h5v5h-5zM1704 550.5h10v5h-10zM1719 550.5h10v5h-10zM1749 550.5h10v5h-10zM1794 550.5h10v5h-10zM1824 550.5h10v5h-10zM1839 550.5h10v5h-10zM1859 550.5h5v5h-5zM1874 550.5h5v5h-5zM1904 550.5h5v5h-5zM1684 595.5h5v5h-5zM1864 595.5h5v5h-5z"/><path fill="#262626" d="M1689 410.5h5v5h-5zM1859 410.5h5v5h-5zM1714 415.5h5v5h-5zM1834 415.5h5v5h-5zM1649 460.5h25v5h-25zM1694 460.5h10v5h-10zM1729 460.5h20v5h-20zM1804 460.5h20v5h-20zM1849 460.5h10v5h-10zM1879 460.5h25v5h-25zM1769 470.5h5v5h-5zM1779 470.5h5v5h-5zM1769 540.5h5v5h-5zM1779 540.5h5v5h-5zM1649 550.5h25v5h-25zM1694 550.5h10v5h-10zM1729 550.5h20v5h-20zM1804 550.5h20v5h-20zM1849 550.5h10v5h-10zM1879 550.5h25v5h-25zM1714 595.5h5v5h-5zM1834 595.5h5v5h-5zM1689 600.5h5v5h-5zM1859 600.5h5v5h-5z"/><path fill="#282828" d="M1634 415.5h10v5h-10zM1679 415.5h5v5h-5zM1754 415.5h15v5h-15zM1784 415.5h15v5h-15zM1869 415.5h5v5h-5zM1909 415.5h10v5h-10zM1634 465.5h5v5h-5zM1914 465.5h5v5h-5zM1634 545.5h5v5h-5zM1914 545.5h5v5h-5zM1634 595.5h10v5h-10zM1679 595.5h5v5h-5zM1754 595.5h15v5h-15zM1784 595.5h15v5h-15zM1869 595.5h5v5h-5zM1909 595.5h10v5h-10z"/><path fill="#2b2b2b" d="M1644 415.5h5v5h-5zM1674 415.5h5v5h-5zM1719 415.5h5v5h-5zM1749 415.5h5v5h-5zM1769 415.5h5v5h-5zM1779 415.5h5v5h-5zM1799 415.5h5v5h-5zM1829 415.5h5v5h-5zM1874 415.5h5v5h-5zM1904 415.5h5v5h-5zM1759 465.5h5v5h-5zM1789 465.5h5v5h-5zM1759 545.5h5v5h-5zM1789 545.5h5v5h-5zM1644 595.5h5v5h-5zM1674 595.5h5v5h-5zM1719 595.5h5v5h-5zM1749 595.5h5v5h-5zM1769 595.5h5v5h-5zM1779 595.5h5v5h-5zM1799 595.5h5v5h-5zM1829 595.5h5v5h-5zM1874 595.5h5v5h-5zM1904 595.5h5v5h-5z"/><path fill="#2e2e2e" d="M1699 405.5h5v5h-5zM1849 405.5h5v5h-5zM1709 410.5h5v5h-5zM1839 410.5h5v5h-5zM1649 415.5h5v5h-5zM1669 415.5h5v5h-5zM1724 415.5h5v5h-5zM1744 415.5h5v5h-5zM1774 415.5h5v5h-5zM1804 415.5h5v5h-5zM1824 415.5h5v5h-5zM1879 415.5h5v5h-5zM1899 415.5h5v5h-5zM1649 595.5h5v5h-5zM1669 595.5h5v5h-5zM1724 595.5h5v5h-5zM1744 595.5h5v5h-5zM1774 595.5h5v5h-5zM1804 595.5h5v5h-5zM1824 595.5h5v5h-5zM1879 595.5h5v5h-5zM1899 595.5h5v5h-5zM1709 600.5h5v5h-5zM1839 600.5h5v5h-5zM1699 605.5h5v5h-5zM1849 605.5h5v5h-5z"/><path fill="#303030" d="M1694 405.5h5v5h-5zM1854 405.5h5v5h-5zM1654 415.5h15v5h-15zM1729 415.5h15v5h-15zM1809 415.5h15v5h-15zM1884 415.5h15v5h-15zM1639 465.5h5v5h-5zM1679 465.5h10v5h-10zM1709 465.5h10v5h-10zM1834 465.5h10v5h-10zM1864 465.5h10v5h-10zM1909 465.5h5v5h-5zM1639 545.5h5v5h-5zM1679 545.5h10v5h-10zM1709 545.5h10v5h-10zM1834 545.5h10v5h-10zM1864 545.5h10v5h-10zM1909 545.5h5v5h-5zM1654 595.5h15v5h-15zM1729 595.5h15v5h-15zM1809 595.5h15v5h-15zM1884 595.5h15v5h-15zM1694 605.5h5v5h-5zM1854 605.5h5v5h-5z"/><path fill="#333333" d="M1684 410.5h5v5h-5zM1864 410.5h5v5h-5zM1674 465.5h5v5h-5zM1689 465.5h5v5h-5zM1704 465.5h5v5h-5zM1719 465.5h5v5h-5zM1754 465.5h5v5h-5zM1794 465.5h5v5h-5zM1829 465.5h5v5h-5zM1844 465.5h5v5h-5zM1859 465.5h5v5h-5zM1874 465.5h5v5h-5zM1764 470.5h5v5h-5zM1784 470.5h5v5h-5zM1764 540.5h5v5h-5zM1784 540.5h5v5h-5zM1674 545.5h5v5h-5zM1689 545.5h5v5h-5zM1704 545.5h5v5h-5zM1719 545.5h5v5h-5zM1754 545.5h5v5h-5zM1794 545.5h5v5h-5zM1829 545.5h5v5h-5zM1844 545.5h5v5h-5zM1859 545.5h5v5h-5zM1874 545.5h5v5h-5zM1684 600.5h5v5h-5zM1864 600.5h5v5h-5z"/><path fill="#363636" d="M1704 405.5h5v5h-5zM1844 405.5h5v5h-5zM1644 465.5h5v5h-5zM1694 465.5h10v5h-10zM1724 465.5h5v5h-5zM1749 465.5h5v5h-5zM1799 465.5h5v5h-5zM1824 465.5h5v5h-5zM1849 465.5h10v5h-10zM1904 465.5h5v5h-5zM1644 545.5h5v5h-5zM1694 545.5h10v5h-10zM1724 545.5h5v5h-5zM1749 545.5h5v5h-5zM1799 545.5h5v5h-5zM1824 545.5h5v5h-5zM1849 545.5h10v5h-10zM1904 545.5h5v5h-5zM1704 605.5h5v5h-5zM1844 605.5h5v5h-5z"/><path fill="#383838" d="M1634 410.5h10v5h-10zM1714 410.5h5v5h-5zM1759 410.5h5v5h-5zM1789 410.5h5v5h-5zM1834 410.5h5v5h-5zM1909 410.5h10v5h-10zM1649 465.5h5v5h-5zM1669 465.5h5v5h-5zM1879 465.5h5v5h-5zM1899 465.5h5v5h-5zM1649 545.5h5v5h-5zM1669 545.5h5v5h-5zM1879 545.5h5v5h-5zM1899 545.5h5v5h-5zM1634 600.5h10v5h-10zM1714 600.5h5v5h-5zM1759 600.5h5v5h-5zM1789 600.5h5v5h-5zM1834 600.5h5v5h-5zM1909 600.5h10v5h-10z"/><path fill="#3b3b3b" d="M1689 405.5h5v5h-5zM1859 405.5h5v5h-5zM1679 410.5h5v5h-5zM1754 410.5h5v5h-5zM1764 410.5h5v5h-5zM1784 410.5h5v5h-5zM1794 410.5h5v5h-5zM1869 410.5h5v5h-5zM1729 465.5h5v5h-5zM1744 465.5h5v5h-5zM1804 465.5h5v5h-5zM1819 465.5h5v5h-5zM1634 470.5h5v5h-5zM1914 470.5h5v5h-5zM1774 475.5h5v5h-5zM1774 535.5h5v5h-5zM1634 540.5h5v5h-5zM1914 540.5h5v5h-5zM1729 545.5h5v5h-5zM1744 545.5h5v5h-5zM1804 545.5h5v5h-5zM1819 545.5h5v5h-5zM1679 600.5h5v5h-5zM1754 600.5h5v5h-5zM1764 600.5h5v5h-5zM1784 600.5h5v5h-5zM1794 600.5h5v5h-5zM1869 600.5h5v5h-5zM1689 605.5h5v5h-5zM1859 605.5h5v5h-5z"/><path fill="#3e3e3e" d="M1644 410.5h5v5h-5zM1719 410.5h5v5h-5zM1769 410.5h5v5h-5zM1779 410.5h5v5h-5zM1829 410.5h5v5h-5zM1904 410.5h5v5h-5zM1654 465.5h5v5h-5zM1664 465.5h5v5h-5zM1739 465.5h5v5h-5zM1809 465.5h5v5h-5zM1884 465.5h5v5h-5zM1894 465.5h5v5h-5zM1759 470.5h5v5h-5zM1789 470.5h5v5h-5zM1759 540.5h5v5h-5zM1789 540.5h5v5h-5zM1654 545.5h5v5h-5zM1664 545.5h5v5h-5zM1739 545.5h5v5h-5zM1809 545.5h5v5h-5zM1884 545.5h5v5h-5zM1894 545.5h5v5h-5zM1644 600.5h5v5h-5zM1719 600.5h5v5h-5zM1769 600.5h5v5h-5zM1779 600.5h5v5h-5zM1829 600.5h5v5h-5zM1904 600.5h5v5h-5z"/><path fill="#404040" d="M1709 405.5h5v5h-5zM1839 405.5h5v5h-5zM1674 410.5h5v5h-5zM1749 410.5h5v5h-5zM1774 410.5h5v5h-5zM1799 410.5h5v5h-5zM1874 410.5h5v5h-5zM1659 465.5h5v5h-5zM1734 465.5h5v5h-5zM1814 465.5h5v5h-5zM1889 465.5h5v5h-5zM1684 470.5h5v5h-5zM1709 470.5h10v5h-10zM1834 470.5h10v5h-10zM1864 470.5h5v5h-5zM1769 475.5h5v5h-5zM1779 475.5h5v5h-5zM1769 535.5h5v5h-5zM1779 535.5h5v5h-5zM1684 540.5h5v5h-5zM1709 540.5h10v5h-10zM1834 540.5h10v5h-10zM1864 540.5h5v5h-5zM1659 545.5h5v5h-5zM1734 545.5h5v5h-5zM1814 545.5h5v5h-5zM1889 545.5h5v5h-5zM1674 600.5h5v5h-5zM1749 600.5h5v5h-5zM1774 600.5h5v5h-5zM1799 600.5h5v5h-5zM1874 600.5h5v5h-5zM1709 605.5h5v5h-5zM1839 605.5h5v5h-5z"/><path fill="#434343" d="M1724 410.5h5v5h-5zM1824 410.5h5v5h-5zM1639 470.5h5v5h-5zM1679 470.5h5v5h-5zM1689 470.5h5v5h-5zM1859 470.5h5v5h-5zM1869 470.5h5v5h-5zM1909 470.5h5v5h-5zM1639 540.5h5v5h-5zM1679 540.5h5v5h-5zM1689 540.5h5v5h-5zM1859 540.5h5v5h-5zM1869 540.5h5v5h-5zM1909 540.5h5v5h-5zM1724 600.5h5v5h-5zM1824 600.5h5v5h-5z"/><path fill="#464646" d="M1684 405.5h5v5h-5zM1864 405.5h5v5h-5zM1649 410.5h5v5h-5zM1899 410.5h5v5h-5zM1704 470.5h5v5h-5zM1719 470.5h5v5h-5zM1754 470.5h5v5h-5zM1794 470.5h5v5h-5zM1829 470.5h5v5h-5zM1844 470.5h5v5h-5zM1704 540.5h5v5h-5zM1719 540.5h5v5h-5zM1754 540.5h5v5h-5zM1794 540.5h5v5h-5zM1829 540.5h5v5h-5zM1844 540.5h5v5h-5zM1649 600.5h5v5h-5zM1899 600.5h5v5h-5zM1684 605.5h5v5h-5zM1864 605.5h5v5h-5z"/><path fill="#484848" d="M1699 400.5h5v5h-5zM1849 400.5h5v5h-5zM1634 405.5h5v5h-5zM1759 405.5h5v5h-5zM1789 405.5h5v5h-5zM1914 405.5h5v5h-5zM1669 410.5h5v5h-5zM1744 410.5h5v5h-5zM1804 410.5h5v5h-5zM1879 410.5h5v5h-5zM1674 470.5h5v5h-5zM1694 470.5h5v5h-5zM1854 470.5h5v5h-5zM1874 470.5h5v5h-5zM1764 475.5h5v5h-5zM1784 475.5h5v5h-5zM1764 535.5h5v5h-5zM1784 535.5h5v5h-5zM1674 540.5h5v5h-5zM1694 540.5h5v5h-5zM1854 540.5h5v5h-5zM1874 540.5h5v5h-5zM1669 600.5h5v5h-5zM1744 600.5h5v5h-5zM1804 600.5h5v5h-5zM1879 600.5h5v5h-5zM1634 605.5h5v5h-5zM1759 605.5h5v5h-5zM1789 605.5h5v5h-5zM1914 605.5h5v5h-5zM1699 610.5h5v5h-5zM1849 610.5h5v5h-5z"/><path fill="#4b4b4b" d="M1694 400.5h5v5h-5zM1854 400.5h5v5h-5zM1639 405.5h5v5h-5zM1714 405.5h5v5h-5zM1764 405.5h5v5h-5zM1784 405.5h5v5h-5zM1834 405.5h5v5h-5zM1909 405.5h5v5h-5zM1644 470.5h5v5h-5zM1699 470.5h5v5h-5zM1849 470.5h5v5h-5zM1904 470.5h5v5h-5zM1644 540.5h5v5h-5zM1699 540.5h5v5h-5zM1849 540.5h5v5h-5zM1904 540.5h5v5h-5zM1639 605.5h5v5h-5zM1714 605.5h5v5h-5zM1764 605.5h5v5h-5zM1784 605.5h5v5h-5zM1834 605.5h5v5h-5zM1909 605.5h5v5h-5zM1694 610.5h5v5h-5zM1854 610.5h5v5h-5z"/><path fill="#4e4e4e" d="M1704 400.5h5v5h-5zM1844 400.5h5v5h-5zM1679 405.5h5v5h-5zM1754 405.5h5v5h-5zM1794 405.5h5v5h-5zM1869 405.5h5v5h-5zM1654 410.5h5v5h-5zM1729 410.5h5v5h-5zM1819 410.5h5v5h-5zM1894 410.5h5v5h-5zM1749 470.5h5v5h-5zM1799 470.5h5v5h-5zM1634 475.5h5v5h-5zM1684 475.5h5v5h-5zM1709 475.5h5v5h-5zM1839 475.5h5v5h-5zM1864 475.5h5v5h-5zM1914 475.5h5v5h-5zM1634 535.5h5v5h-5zM1684 535.5h5v5h-5zM1709 535.5h5v5h-5zM1839 535.5h5v5h-5zM1864 535.5h5v5h-5zM1914 535.5h5v5h-5zM1749 540.5h5v5h-5zM1799 540.5h5v5h-5zM1654 600.5h5v5h-5zM1729 600.5h5v5h-5zM1819 600.5h5v5h-5zM1894 600.5h5v5h-5zM1679 605.5h5v5h-5zM1754 605.5h5v5h-5zM1794 605.5h5v5h-5zM1869 605.5h5v5h-5zM1704 610.5h5v5h-5zM1844 610.5h5v5h-5z"/><path fill="#515151" d="M1689 400.5h5v5h-5zM1859 400.5h5v5h-5zM1769 405.5h5v5h-5zM1779 405.5h5v5h-5zM1664 410.5h5v5h-5zM1739 410.5h5v5h-5zM1809 410.5h5v5h-5zM1884 410.5h5v5h-5zM1724 470.5h5v5h-5zM1824 470.5h5v5h-5zM1689 475.5h5v5h-5zM1714 475.5h5v5h-5zM1759 475.5h5v5h-5zM1789 475.5h5v5h-5zM1834 475.5h5v5h-5zM1859 475.5h5v5h-5zM1689 535.5h5v5h-5zM1714 535.5h5v5h-5zM1759 535.5h5v5h-5zM1789 535.5h5v5h-5zM1834 535.5h5v5h-5zM1859 535.5h5v5h-5zM1724 540.5h5v5h-5zM1824 540.5h5v5h-5zM1664 600.5h5v5h-5zM1739 600.5h5v5h-5zM1809 600.5h5v5h-5zM1884 600.5h5v5h-5zM1769 605.5h5v5h-5zM1779 605.5h5v5h-5zM1689 610.5h5v5h-5zM1859 610.5h5v5h-5z"/><path fill="#535353" d="M1634 400.5h5v5h-5zM1709 400.5h5v5h-5zM1759 400.5h5v5h-5zM1789 400.5h5v5h-5zM1839 400.5h5v5h-5zM1914 400.5h5v5h-5zM1644 405.5h5v5h-5zM1719 405.5h5v5h-5zM1774 405.5h5v5h-5zM1829 405.5h5v5h-5zM1904 405.5h5v5h-5zM1659 410.5h5v5h-5zM1734 410.5h5v5h-5zM1814 410.5h5v5h-5zM1889 410.5h5v5h-5zM1639 475.5h5v5h-5zM1679 475.5h5v5h-5zM1704 475.5h5v5h-5zM1844 475.5h5v5h-5zM1869 475.5h5v5h-5zM1909 475.5h5v5h-5zM1639 535.5h5v5h-5zM1679 535.5h5v5h-5zM1704 535.5h5v5h-5zM1844 535.5h5v5h-5zM1869 535.5h5v5h-5zM1909 535.5h5v5h-5zM1659 600.5h5v5h-5zM1734 600.5h5v5h-5zM1814 600.5h5v5h-5zM1889 600.5h5v5h-5zM1644 605.5h5v5h-5zM1719 605.5h5v5h-5zM1774 605.5h5v5h-5zM1829 605.5h5v5h-5zM1904 605.5h5v5h-5zM1634 610.5h5v5h-5zM1709 610.5h5v5h-5zM1759 610.5h5v5h-5zM1789 610.5h5v5h-5zM1839 610.5h5v5h-5zM1914 610.5h5v5h-5z"/><path fill="#565656" d="M1639 400.5h5v5h-5zM1684 400.5h5v5h-5zM1764 400.5h5v5h-5zM1784 400.5h5v5h-5zM1864 400.5h5v5h-5zM1909 400.5h5v5h-5zM1649 470.5h5v5h-5zM1669 470.5h5v5h-5zM1879 470.5h5v5h-5zM1899 470.5h5v5h-5zM1684 480.5h5v5h-5zM1709 480.5h5v5h-5zM1769 480.5h15v5h-15zM1839 480.5h5v5h-5zM1864 480.5h5v5h-5zM1684 530.5h5v5h-5zM1709 530.5h5v5h-5zM1769 530.5h15v5h-15zM1839 530.5h5v5h-5zM1864 530.5h5v5h-5zM1649 540.5h5v5h-5zM1669 540.5h5v5h-5zM1879 540.5h5v5h-5zM1899 540.5h5v5h-5zM1639 610.5h5v5h-5zM1684 610.5h5v5h-5zM1764 610.5h5v5h-5zM1784 610.5h5v5h-5zM1864 610.5h5v5h-5zM1909 610.5h5v5h-5z"/><path fill="#595959" d="M1639 370.5h5v5h-5zM1909 370.5h5v5h-5zM1639 375.5h5v5h-5zM1909 375.5h5v5h-5zM1634 395.5h5v5h-5zM1759 395.5h5v5h-5zM1789 395.5h5v5h-5zM1914 395.5h5v5h-5zM1714 400.5h5v5h-5zM1834 400.5h5v5h-5zM1674 405.5h5v5h-5zM1749 405.5h5v5h-5zM1799 405.5h5v5h-5zM1874 405.5h5v5h-5zM1694 475.5h10v5h-10zM1719 475.5h5v5h-5zM1754 475.5h5v5h-5zM1794 475.5h5v5h-5zM1829 475.5h5v5h-5zM1849 475.5h10v5h-10zM1714 480.5h5v5h-5zM1764 480.5h5v5h-5zM1784 480.5h5v5h-5zM1834 480.5h5v5h-5zM1684 485.5h5v5h-5zM1864 485.5h5v5h-5zM1714 505.5h5v5h-5zM1834 505.5h5v5h-5zM1684 525.5h5v5h-5zM1864 525.5h5v5h-5zM1714 530.5h5v5h-5zM1764 530.5h5v5h-5zM1784 530.5h5v5h-5zM1834 530.5h5v5h-5zM1694 535.5h10v5h-10zM1719 535.5h5v5h-5zM1754 535.5h5v5h-5zM1794 535.5h5v5h-5zM1829 535.5h5v5h-5zM1849 535.5h10v5h-10zM1674 605.5h5v5h-5zM1749 605.5h5v5h-5zM1799 605.5h5v5h-5zM1874 605.5h5v5h-5zM1714 610.5h5v5h-5zM1834 610.5h5v5h-5zM1634 615.5h5v5h-5zM1759 615.5h5v5h-5zM1789 615.5h5v5h-5zM1914 615.5h5v5h-5zM1639 635.5h5v5h-5zM1909 635.5h5v5h-5zM1639 640.5h5v5h-5zM1909 640.5h5v5h-5z"/><path fill="#5b5b5b" d="M1634 365.5h10v5h-10zM1754 365.5h10v5h-10zM1789 365.5h10v5h-10zM1909 365.5h10v5h-10zM1634 370.5h5v5h-5zM1754 370.5h10v5h-10zM1789 370.5h10v5h-10zM1914 370.5h5v5h-5zM1634 375.5h5v5h-5zM1754 375.5h10v5h-10zM1789 375.5h10v5h-10zM1914 375.5h5v5h-5zM1634 380.5h10v5h-10zM1754 380.5h10v5h-10zM1789 380.5h10v5h-10zM1909 380.5h10v5h-10zM1634 385.5h10v5h-10zM1759 385.5h5v5h-5zM1789 385.5h5v5h-5zM1909 385.5h10v5h-10zM1634 390.5h5v5h-5zM1759 390.5h5v5h-5zM1789 390.5h5v5h-5zM1914 390.5h5v5h-5zM1764 395.5h5v5h-5zM1784 395.5h5v5h-5zM1679 400.5h5v5h-5zM1754 400.5h5v5h-5zM1769 400.5h5v5h-5zM1779 400.5h5v5h-5zM1794 400.5h5v5h-5zM1869 400.5h5v5h-5zM1744 470.5h5v5h-5zM1804 470.5h5v5h-5zM1634 480.5h5v5h-5zM1679 480.5h5v5h-5zM1689 480.5h5v5h-5zM1859 480.5h5v5h-5zM1869 480.5h5v5h-5zM1914 480.5h5v5h-5zM1709 485.5h10v5h-10zM1834 485.5h10v5h-10zM1684 490.5h5v5h-5zM1714 490.5h5v5h-5zM1834 490.5h5v5h-5zM1864 490.5h5v5h-5zM1679 495.5h10v5h-10zM1714 495.5h5v5h-5zM1834 495.5h5v5h-5zM1864 495.5h10v5h-10zM1679 500.5h10v5h-10zM1714 500.5h10v5h-10zM1829 500.5h10v5h-10zM1864 500.5h10v5h-10zM1679 505.5h10v5h-10zM1719 505.5h5v5h-5zM1829 505.5h5v5h-5zM1864 505.5h10v5h-10zM1679 510.5h10v5h-10zM1714 510.5h10v5h-10zM1829 510.5h10v5h-10zM1864 510.5h10v5h-10zM1679 515.5h10v5h-10zM1714 515.5h5v5h-5zM1834 515.5h5v5h-5zM1864 515.5h10v5h-10zM1684 520.5h5v5h-5zM1714 520.5h5v5h-5zM1834 520.5h5v5h-5zM1864 520.5h5v5h-5zM1709 525.5h10v5h-10zM1834 525.5h10v5h-10zM1634 530.5h5v5h-5zM1679 530.5h5v5h-5zM1689 530.5h5v5h-5zM1859 530.5h5v5h-5zM1869 530.5h5v5h-5zM1914 530.5h5v5h-5zM1744 540.5h5v5h-5zM1804 540.5h5v5h-5zM1679 610.5h5v5h-5zM1754 610.5h5v5h-5zM1769 610.5h5v5h-5zM1779 610.5h5v5h-5zM1794 610.5h5v5h-5zM1869 610.5h5v5h-5zM1764 615.5h5v5h-5zM1784 615.5h5v5h-5zM1634 620.5h5v5h-5zM1759 620.5h5v5h-5zM1789 620.5h5v5h-5zM1914 620.5h5v5h-5zM1634 625.5h10v5h-10zM1759 625.5h5v5h-5zM1789 625.5h5v5h-5zM1909 625.5h10v5h-10zM1634 630.5h10v5h-10zM1754 630.5h10v5h-10zM1789 630.5h10v5h-10zM1909 630.5h10v5h-10zM1634 635.5h5v5h-5zM1754 635.5h10v5h-10zM1789 635.5h10v5h-10zM1914 635.5h5v5h-5zM1634 640.5h5v5h-5zM1754 640.5h10v5h-10zM1789 640.5h10v5h-10zM1914 640.5h5v5h-5zM1634 645.5h10v5h-10zM1754 645.5h10v5h-10zM1789 645.5h10v5h-10zM1909 645.5h10v5h-10z"/><path fill="#5e5e5e" d="M1644 370.5h5v5h-5zM1749 370.5h5v5h-5zM1799 370.5h5v5h-5zM1904 370.5h5v5h-5zM1644 375.5h5v5h-5zM1749 375.5h5v5h-5zM1799 375.5h5v5h-5zM1904 375.5h5v5h-5zM1754 385.5h5v5h-5zM1794 385.5h5v5h-5zM1639 390.5h5v5h-5zM1764 390.5h5v5h-5zM1784 390.5h5v5h-5zM1909 390.5h5v5h-5zM1639 395.5h5v5h-5zM1909 395.5h5v5h-5zM1704 480.5h5v5h-5zM1759 480.5h5v5h-5zM1789 480.5h5v5h-5zM1844 480.5h5v5h-5zM1679 485.5h5v5h-5zM1689 485.5h5v5h-5zM1859 485.5h5v5h-5zM1869 485.5h5v5h-5zM1679 490.5h5v5h-5zM1709 490.5h5v5h-5zM1839 490.5h5v5h-5zM1869 490.5h5v5h-5zM1709 495.5h5v5h-5zM1839 495.5h5v5h-5zM1674 500.5h5v5h-5zM1709 500.5h5v5h-5zM1839 500.5h5v5h-5zM1874 500.5h5v5h-5zM1674 505.5h5v5h-5zM1709 505.5h5v5h-5zM1724 505.5h5v5h-5zM1824 505.5h5v5h-5zM1839 505.5h5v5h-5zM1874 505.5h5v5h-5zM1674 510.5h5v5h-5zM1709 510.5h5v5h-5zM1839 510.5h5v5h-5zM1874 510.5h5v5h-5zM1709 515.5h5v5h-5zM1839 515.5h5v5h-5zM1679 520.5h5v5h-5zM1709 520.5h5v5h-5zM1839 520.5h5v5h-5zM1869 520.5h5v5h-5zM1679 525.5h5v5h-5zM1689 525.5h5v5h-5zM1859 525.5h5v5h-5zM1869 525.5h5v5h-5zM1704 530.5h5v5h-5zM1759 530.5h5v5h-5zM1789 530.5h5v5h-5zM1844 530.5h5v5h-5zM1639 615.5h5v5h-5zM1909 615.5h5v5h-5zM1639 620.5h5v5h-5zM1764 620.5h5v5h-5zM1784 620.5h5v5h-5zM1909 620.5h5v5h-5zM1754 625.5h5v5h-5zM1794 625.5h5v5h-5zM1644 635.5h5v5h-5zM1749 635.5h5v5h-5zM1799 635.5h5v5h-5zM1904 635.5h5v5h-5zM1644 640.5h5v5h-5zM1749 640.5h5v5h-5zM1799 640.5h5v5h-5zM1904 640.5h5v5h-5z"/><path fill="#616161" d="M1644 365.5h5v5h-5zM1764 365.5h5v5h-5zM1784 365.5h5v5h-5zM1904 365.5h5v5h-5zM1649 370.5h5v5h-5zM1764 370.5h5v5h-5zM1784 370.5h5v5h-5zM1899 370.5h5v5h-5zM1649 375.5h5v5h-5zM1764 375.5h5v5h-5zM1784 375.5h5v5h-5zM1899 375.5h5v5h-5zM1644 380.5h5v5h-5zM1764 380.5h5v5h-5zM1784 380.5h5v5h-5zM1904 380.5h5v5h-5zM1764 385.5h5v5h-5zM1784 385.5h5v5h-5zM1689 395.5h5v5h-5zM1709 395.5h5v5h-5zM1754 395.5h5v5h-5zM1794 395.5h5v5h-5zM1839 395.5h5v5h-5zM1859 395.5h5v5h-5zM1774 400.5h5v5h-5zM1724 405.5h5v5h-5zM1824 405.5h5v5h-5zM1729 470.5h5v5h-5zM1819 470.5h5v5h-5zM1644 475.5h5v5h-5zM1674 475.5h5v5h-5zM1874 475.5h5v5h-5zM1904 475.5h5v5h-5zM1639 480.5h5v5h-5zM1909 480.5h5v5h-5zM1689 490.5h5v5h-5zM1859 490.5h5v5h-5zM1719 495.5h5v5h-5zM1829 495.5h5v5h-5zM1669 505.5h5v5h-5zM1879 505.5h5v5h-5zM1719 515.5h5v5h-5zM1829 515.5h5v5h-5zM1689 520.5h5v5h-5zM1859 520.5h5v5h-5zM1639 530.5h5v5h-5zM1909 530.5h5v5h-5zM1644 535.5h5v5h-5zM1674 535.5h5v5h-5zM1874 535.5h5v5h-5zM1904 535.5h5v5h-5zM1729 540.5h5v5h-5zM1819 540.5h5v5h-5zM1724 605.5h5v5h-5zM1824 605.5h5v5h-5zM1774 610.5h5v5h-5zM1689 615.5h5v5h-5zM1709 615.5h5v5h-5zM1754 615.5h5v5h-5zM1794 615.5h5v5h-5zM1839 615.5h5v5h-5zM1859 615.5h5v5h-5zM1764 625.5h5v5h-5zM1784 625.5h5v5h-5zM1644 630.5h5v5h-5zM1764 630.5h5v5h-5zM1784 630.5h5v5h-5zM1904 630.5h5v5h-5zM1649 635.5h5v5h-5zM1764 635.5h5v5h-5zM1784 635.5h5v5h-5zM1899 635.5h5v5h-5zM1649 640.5h5v5h-5zM1764 640.5h5v5h-5zM1784 640.5h5v5h-5zM1899 640.5h5v5h-5zM1644 645.5h5v5h-5zM1764 645.5h5v5h-5zM1784 645.5h5v5h-5zM1904 645.5h5v5h-5z"/><path fill="#636363" d="M1749 365.5h5v5h-5zM1799 365.5h5v5h-5zM1744 370.5h5v5h-5zM1804 370.5h5v5h-5zM1744 375.5h5v5h-5zM1804 375.5h5v5h-5zM1749 380.5h5v5h-5zM1799 380.5h5v5h-5zM1754 390.5h5v5h-5zM1794 390.5h5v5h-5zM1684 395.5h5v5h-5zM1694 395.5h15v5h-15zM1714 395.5h5v5h-5zM1769 395.5h5v5h-5zM1779 395.5h5v5h-5zM1834 395.5h5v5h-5zM1844 395.5h15v5h-15zM1864 395.5h5v5h-5zM1719 400.5h5v5h-5zM1829 400.5h5v5h-5zM1694 480.5h10v5h-10zM1849 480.5h10v5h-10zM1704 485.5h5v5h-5zM1844 485.5h5v5h-5zM1674 495.5h5v5h-5zM1689 495.5h5v5h-5zM1859 495.5h5v5h-5zM1874 495.5h5v5h-5zM1689 500.5h5v5h-5zM1724 500.5h5v5h-5zM1824 500.5h5v5h-5zM1859 500.5h5v5h-5zM1729 505.5h5v5h-5zM1819 505.5h5v5h-5zM1689 510.5h5v5h-5zM1724 510.5h5v5h-5zM1824 510.5h5v5h-5zM1859 510.5h5v5h-5zM1674 515.5h5v5h-5zM1689 515.5h5v5h-5zM1859 515.5h5v5h-5zM1874 515.5h5v5h-5zM1704 525.5h5v5h-5zM1844 525.5h5v5h-5zM1694 530.5h10v5h-10zM1849 530.5h10v5h-10zM1719 610.5h5v5h-5zM1829 610.5h5v5h-5zM1684 615.5h5v5h-5zM1694 615.5h15v5h-15zM1714 615.5h5v5h-5zM1769 615.5h5v5h-5zM1779 615.5h5v5h-5zM1834 615.5h5v5h-5zM1844 615.5h15v5h-15zM1864 615.5h5v5h-5zM1754 620.5h5v5h-5zM1794 620.5h5v5h-5zM1749 630.5h5v5h-5zM1799 630.5h5v5h-5zM1744 635.5h5v5h-5zM1804 635.5h5v5h-5zM1744 640.5h5v5h-5zM1804 640.5h5v5h-5zM1749 645.5h5v5h-5zM1799 645.5h5v5h-5z"/><path fill="#666666" d="M1654 370.5h5v5h-5zM1894 370.5h5v5h-5zM1654 375.5h5v5h-5zM1894 375.5h5v5h-5zM1644 385.5h5v5h-5zM1904 385.5h5v5h-5zM1679 395.5h5v5h-5zM1869 395.5h5v5h-5zM1644 400.5h5v5h-5zM1904 400.5h5v5h-5zM1649 405.5h5v5h-5zM1899 405.5h5v5h-5zM1654 470.5h5v5h-5zM1664 470.5h5v5h-5zM1884 470.5h5v5h-5zM1894 470.5h5v5h-5zM1719 480.5h5v5h-5zM1754 480.5h5v5h-5zM1794 480.5h5v5h-5zM1829 480.5h5v5h-5zM1704 490.5h5v5h-5zM1719 490.5h5v5h-5zM1829 490.5h5v5h-5zM1844 490.5h5v5h-5zM1669 500.5h5v5h-5zM1879 500.5h5v5h-5zM1664 505.5h5v5h-5zM1689 505.5h5v5h-5zM1859 505.5h5v5h-5zM1884 505.5h5v5h-5zM1669 510.5h5v5h-5zM1879 510.5h5v5h-5zM1704 520.5h5v5h-5zM1719 520.5h5v5h-5zM1829 520.5h5v5h-5zM1844 520.5h5v5h-5zM1719 530.5h5v5h-5zM1754 530.5h5v5h-5zM1794 530.5h5v5h-5zM1829 530.5h5v5h-5zM1654 540.5h5v5h-5zM1664 540.5h5v5h-5zM1884 540.5h5v5h-5zM1894 540.5h5v5h-5zM1649 605.5h5v5h-5zM1899 605.5h5v5h-5zM1644 610.5h5v5h-5zM1904 610.5h5v5h-5zM1679 615.5h5v5h-5zM1869 615.5h5v5h-5zM1644 625.5h5v5h-5zM1904 625.5h5v5h-5zM1654 635.5h5v5h-5zM1894 635.5h5v5h-5zM1654 640.5h5v5h-5zM1894 640.5h5v5h-5z"/><path fill="#696969" d="M1649 365.5h5v5h-5zM1899 365.5h5v5h-5zM1739 370.5h5v5h-5zM1809 370.5h5v5h-5zM1739 375.5h5v5h-5zM1809 375.5h5v5h-5zM1649 380.5h5v5h-5zM1899 380.5h5v5h-5zM1769 390.5h5v5h-5zM1779 390.5h5v5h-5zM1774 395.5h5v5h-5zM1739 470.5h5v5h-5zM1809 470.5h5v5h-5zM1749 475.5h5v5h-5zM1799 475.5h5v5h-5zM1634 485.5h10v5h-10zM1694 485.5h5v5h-5zM1719 485.5h5v5h-5zM1759 485.5h5v5h-5zM1789 485.5h5v5h-5zM1829 485.5h5v5h-5zM1854 485.5h5v5h-5zM1909 485.5h10v5h-10zM1704 495.5h5v5h-5zM1844 495.5h5v5h-5zM1729 500.5h5v5h-5zM1819 500.5h5v5h-5zM1654 505.5h10v5h-10zM1734 505.5h10v5h-10zM1809 505.5h10v5h-10zM1889 505.5h10v5h-10zM1729 510.5h5v5h-5zM1819 510.5h5v5h-5zM1704 515.5h5v5h-5zM1844 515.5h5v5h-5zM1634 525.5h10v5h-10zM1694 525.5h5v5h-5zM1719 525.5h5v5h-5zM1759 525.5h5v5h-5zM1789 525.5h5v5h-5zM1829 525.5h5v5h-5zM1854 525.5h5v5h-5zM1909 525.5h10v5h-10zM1749 535.5h5v5h-5zM1799 535.5h5v5h-5zM1739 540.5h5v5h-5zM1809 540.5h5v5h-5zM1774 615.5h5v5h-5zM1769 620.5h5v5h-5zM1779 620.5h5v5h-5zM1649 630.5h5v5h-5zM1899 630.5h5v5h-5zM1739 635.5h5v5h-5zM1809 635.5h5v5h-5zM1739 640.5h5v5h-5zM1809 640.5h5v5h-5zM1649 645.5h5v5h-5zM1899 645.5h5v5h-5z"/><path fill="#6b6b6b" d="M1659 370.5h15v5h-15zM1724 370.5h15v5h-15zM1814 370.5h15v5h-15zM1879 370.5h15v5h-15zM1659 375.5h15v5h-15zM1724 375.5h15v5h-15zM1814 375.5h15v5h-15zM1879 375.5h15v5h-15zM1769 385.5h5v5h-5zM1779 385.5h5v5h-5zM1674 400.5h5v5h-5zM1874 400.5h5v5h-5zM1669 405.5h5v5h-5zM1879 405.5h5v5h-5zM1659 470.5h5v5h-5zM1734 470.5h5v5h-5zM1814 470.5h5v5h-5zM1889 470.5h5v5h-5zM1699 485.5h5v5h-5zM1764 485.5h5v5h-5zM1784 485.5h5v5h-5zM1849 485.5h5v5h-5zM1724 495.5h5v5h-5zM1824 495.5h5v5h-5zM1704 500.5h5v5h-5zM1844 500.5h5v5h-5zM1649 505.5h5v5h-5zM1704 505.5h5v5h-5zM1744 505.5h5v5h-5zM1804 505.5h5v5h-5zM1844 505.5h5v5h-5zM1899 505.5h5v5h-5zM1704 510.5h5v5h-5zM1844 510.5h5v5h-5zM1724 515.5h5v5h-5zM1824 515.5h5v5h-5zM1699 525.5h5v5h-5zM1764 525.5h5v5h-5zM1784 525.5h5v5h-5zM1849 525.5h5v5h-5zM1659 540.5h5v5h-5zM1734 540.5h5v5h-5zM1814 540.5h5v5h-5zM1889 540.5h5v5h-5zM1669 605.5h5v5h-5zM1879 605.5h5v5h-5zM1674 610.5h5v5h-5zM1874 610.5h5v5h-5zM1769 625.5h5v5h-5zM1779 625.5h5v5h-5zM1659 635.5h15v5h-15zM1724 635.5h15v5h-15zM1814 635.5h15v5h-15zM1879 635.5h15v5h-15zM1659 640.5h15v5h-15zM1724 640.5h15v5h-15zM1814 640.5h15v5h-15zM1879 640.5h15v5h-15z"/><path fill="#6e6e6e" d="M1744 365.5h5v5h-5zM1769 365.5h5v5h-5zM1779 365.5h5v5h-5zM1804 365.5h5v5h-5zM1769 370.5h5v5h-5zM1779 370.5h5v5h-5zM1769 375.5h5v5h-5zM1779 375.5h5v5h-5zM1744 380.5h5v5h-5zM1769 380.5h5v5h-5zM1779 380.5h5v5h-5zM1804 380.5h5v5h-5zM1749 385.5h5v5h-5zM1799 385.5h5v5h-5zM1644 390.5h5v5h-5zM1679 390.5h10v5h-10zM1714 390.5h5v5h-5zM1774 390.5h5v5h-5zM1834 390.5h5v5h-5zM1864 390.5h10v5h-10zM1904 390.5h5v5h-5zM1719 395.5h5v5h-5zM1829 395.5h5v5h-5zM1744 405.5h5v5h-5zM1804 405.5h5v5h-5zM1724 475.5h5v5h-5zM1824 475.5h5v5h-5zM1674 480.5h5v5h-5zM1874 480.5h5v5h-5zM1754 485.5h5v5h-5zM1769 485.5h5v5h-5zM1779 485.5h5v5h-5zM1794 485.5h5v5h-5zM1674 490.5h5v5h-5zM1694 490.5h5v5h-5zM1854 490.5h5v5h-5zM1874 490.5h5v5h-5zM1649 500.5h5v5h-5zM1664 500.5h5v5h-5zM1744 500.5h10v5h-10zM1799 500.5h10v5h-10zM1884 500.5h5v5h-5zM1899 500.5h5v5h-5zM1749 505.5h5v5h-5zM1799 505.5h5v5h-5zM1649 510.5h5v5h-5zM1664 510.5h5v5h-5zM1744 510.5h10v5h-10zM1799 510.5h10v5h-10zM1884 510.5h5v5h-5zM1899 510.5h5v5h-5zM1674 520.5h5v5h-5zM1694 520.5h5v5h-5zM1854 520.5h5v5h-5zM1874 520.5h5v5h-5zM1754 525.5h5v5h-5zM1769 525.5h5v5h-5zM1779 525.5h5v5h-5zM1794 525.5h5v5h-5zM1674 530.5h5v5h-5zM1874 530.5h5v5h-5zM1724 535.5h5v5h-5zM1824 535.5h5v5h-5zM1744 605.5h5v5h-5zM1804 605.5h5v5h-5zM1719 615.5h5v5h-5zM1829 615.5h5v5h-5zM1644 620.5h5v5h-5zM1679 620.5h10v5h-10zM1714 620.5h5v5h-5zM1774 620.5h5v5h-5zM1834 620.5h5v5h-5zM1864 620.5h10v5h-10zM1904 620.5h5v5h-5zM1749 625.5h5v5h-5zM1799 625.5h5v5h-5zM1744 630.5h5v5h-5zM1769 630.5h5v5h-5zM1779 630.5h5v5h-5zM1804 630.5h5v5h-5zM1769 635.5h5v5h-5zM1779 635.5h5v5h-5zM1769 640.5h5v5h-5zM1779 640.5h5v5h-5zM1744 645.5h5v5h-5zM1769 645.5h5v5h-5zM1779 645.5h5v5h-5zM1804 645.5h5v5h-5z"/><path fill="#717171" d="M1674 365.5h5v5h-5zM1724 365.5h5v5h-5zM1824 365.5h5v5h-5zM1874 365.5h5v5h-5zM1674 370.5h5v5h-5zM1874 370.5h5v5h-5zM1674 375.5h5v5h-5zM1874 375.5h5v5h-5zM1674 380.5h5v5h-5zM1724 380.5h5v5h-5zM1824 380.5h5v5h-5zM1874 380.5h5v5h-5zM1644 395.5h5v5h-5zM1904 395.5h5v5h-5zM1749 400.5h5v5h-5zM1799 400.5h5v5h-5zM1644 480.5h5v5h-5zM1904 480.5h5v5h-5zM1774 485.5h5v5h-5zM1639 490.5h5v5h-5zM1699 490.5h5v5h-5zM1754 490.5h5v5h-5zM1794 490.5h5v5h-5zM1849 490.5h5v5h-5zM1909 490.5h5v5h-5zM1694 495.5h5v5h-5zM1854 495.5h5v5h-5zM1644 500.5h5v5h-5zM1654 500.5h10v5h-10zM1734 500.5h10v5h-10zM1809 500.5h10v5h-10zM1889 500.5h10v5h-10zM1904 500.5h5v5h-5zM1644 505.5h5v5h-5zM1904 505.5h5v5h-5zM1644 510.5h5v5h-5zM1654 510.5h10v5h-10zM1734 510.5h10v5h-10zM1809 510.5h10v5h-10zM1889 510.5h10v5h-10zM1904 510.5h5v5h-5zM1694 515.5h5v5h-5zM1854 515.5h5v5h-5zM1639 520.5h5v5h-5zM1699 520.5h5v5h-5zM1754 520.5h5v5h-5zM1794 520.5h5v5h-5zM1849 520.5h5v5h-5zM1909 520.5h5v5h-5zM1774 525.5h5v5h-5zM1644 530.5h5v5h-5zM1904 530.5h5v5h-5zM1749 610.5h5v5h-5zM1799 610.5h5v5h-5zM1644 615.5h5v5h-5zM1904 615.5h5v5h-5zM1674 630.5h5v5h-5zM1724 630.5h5v5h-5zM1824 630.5h5v5h-5zM1874 630.5h5v5h-5zM1674 635.5h5v5h-5zM1874 635.5h5v5h-5zM1674 640.5h5v5h-5zM1874 640.5h5v5h-5zM1674 645.5h5v5h-5zM1724 645.5h5v5h-5zM1824 645.5h5v5h-5zM1874 645.5h5v5h-5z"/><path fill="#737373" d="M1669 365.5h5v5h-5zM1719 365.5h5v5h-5zM1829 365.5h5v5h-5zM1879 365.5h5v5h-5zM1669 380.5h5v5h-5zM1719 380.5h5v5h-5zM1829 380.5h5v5h-5zM1879 380.5h5v5h-5zM1679 385.5h5v5h-5zM1719 385.5h5v5h-5zM1774 385.5h5v5h-5zM1829 385.5h5v5h-5zM1869 385.5h5v5h-5zM1709 390.5h5v5h-5zM1719 390.5h5v5h-5zM1829 390.5h5v5h-5zM1839 390.5h5v5h-5zM1674 485.5h5v5h-5zM1874 485.5h5v5h-5zM1759 490.5h5v5h-5zM1789 490.5h5v5h-5zM1644 495.5h5v5h-5zM1669 495.5h5v5h-5zM1699 495.5h5v5h-5zM1749 495.5h10v5h-10zM1794 495.5h10v5h-10zM1849 495.5h5v5h-5zM1879 495.5h5v5h-5zM1904 495.5h5v5h-5zM1694 500.5h5v5h-5zM1854 500.5h5v5h-5zM1694 505.5h5v5h-5zM1854 505.5h5v5h-5zM1694 510.5h5v5h-5zM1854 510.5h5v5h-5zM1644 515.5h5v5h-5zM1669 515.5h5v5h-5zM1699 515.5h5v5h-5zM1749 515.5h10v5h-10zM1794 515.5h10v5h-10zM1849 515.5h5v5h-5zM1879 515.5h5v5h-5zM1904 515.5h5v5h-5zM1759 520.5h5v5h-5zM1789 520.5h5v5h-5zM1674 525.5h5v5h-5zM1874 525.5h5v5h-5zM1709 620.5h5v5h-5zM1719 620.5h5v5h-5zM1829 620.5h5v5h-5zM1839 620.5h5v5h-5zM1679 625.5h5v5h-5zM1719 625.5h5v5h-5zM1774 625.5h5v5h-5zM1829 625.5h5v5h-5zM1869 625.5h5v5h-5zM1669 630.5h5v5h-5zM1719 630.5h5v5h-5zM1829 630.5h5v5h-5zM1879 630.5h5v5h-5zM1669 645.5h5v5h-5zM1719 645.5h5v5h-5zM1829 645.5h5v5h-5zM1879 645.5h5v5h-5z"/><path fill="#767676" d="M1654 365.5h5v5h-5zM1774 365.5h5v5h-5zM1894 365.5h5v5h-5zM1719 370.5h5v5h-5zM1774 370.5h5v5h-5zM1829 370.5h5v5h-5zM1719 375.5h5v5h-5zM1774 375.5h5v5h-5zM1829 375.5h5v5h-5zM1654 380.5h5v5h-5zM1774 380.5h5v5h-5zM1894 380.5h5v5h-5zM1674 385.5h5v5h-5zM1874 385.5h5v5h-5zM1644 490.5h5v5h-5zM1904 490.5h5v5h-5zM1699 500.5h5v5h-5zM1849 500.5h5v5h-5zM1699 505.5h5v5h-5zM1849 505.5h5v5h-5zM1699 510.5h5v5h-5zM1849 510.5h5v5h-5zM1644 520.5h5v5h-5zM1904 520.5h5v5h-5zM1674 625.5h5v5h-5zM1874 625.5h5v5h-5zM1654 630.5h5v5h-5zM1774 630.5h5v5h-5zM1894 630.5h5v5h-5zM1719 635.5h5v5h-5zM1774 635.5h5v5h-5zM1829 635.5h5v5h-5zM1719 640.5h5v5h-5zM1774 640.5h5v5h-5zM1829 640.5h5v5h-5zM1654 645.5h5v5h-5zM1774 645.5h5v5h-5zM1894 645.5h5v5h-5z"/><path fill="#797979" d="M1729 365.5h5v5h-5zM1739 365.5h5v5h-5zM1809 365.5h5v5h-5zM1819 365.5h5v5h-5zM1729 380.5h5v5h-5zM1739 380.5h5v5h-5zM1809 380.5h5v5h-5zM1819 380.5h5v5h-5zM1714 385.5h5v5h-5zM1834 385.5h5v5h-5zM1674 390.5h5v5h-5zM1689 390.5h5v5h-5zM1749 390.5h5v5h-5zM1799 390.5h5v5h-5zM1859 390.5h5v5h-5zM1874 390.5h5v5h-5zM1674 395.5h5v5h-5zM1874 395.5h5v5h-5zM1729 405.5h5v5h-5zM1819 405.5h5v5h-5zM1649 475.5h5v5h-5zM1899 475.5h5v5h-5zM1644 485.5h5v5h-5zM1904 485.5h5v5h-5zM1634 490.5h5v5h-5zM1914 490.5h5v5h-5zM1639 495.5h5v5h-5zM1649 495.5h5v5h-5zM1899 495.5h5v5h-5zM1909 495.5h5v5h-5zM1754 500.5h5v5h-5zM1794 500.5h5v5h-5zM1754 510.5h5v5h-5zM1794 510.5h5v5h-5zM1639 515.5h5v5h-5zM1649 515.5h5v5h-5zM1899 515.5h5v5h-5zM1909 515.5h5v5h-5zM1634 520.5h5v5h-5zM1914 520.5h5v5h-5zM1644 525.5h5v5h-5zM1904 525.5h5v5h-5zM1649 535.5h5v5h-5zM1899 535.5h5v5h-5zM1729 605.5h5v5h-5zM1819 605.5h5v5h-5zM1674 615.5h5v5h-5zM1874 615.5h5v5h-5zM1674 620.5h5v5h-5zM1689 620.5h5v5h-5zM1749 620.5h5v5h-5zM1799 620.5h5v5h-5zM1859 620.5h5v5h-5zM1874 620.5h5v5h-5zM1714 625.5h5v5h-5zM1834 625.5h5v5h-5zM1729 630.5h5v5h-5zM1739 630.5h5v5h-5zM1809 630.5h5v5h-5zM1819 630.5h5v5h-5zM1729 645.5h5v5h-5zM1739 645.5h5v5h-5zM1809 645.5h5v5h-5zM1819 645.5h5v5h-5z"/><path fill="#7b7b7b" d="M1664 365.5h5v5h-5zM1679 365.5h5v5h-5zM1869 365.5h5v5h-5zM1884 365.5h5v5h-5zM1664 380.5h5v5h-5zM1679 380.5h5v5h-5zM1869 380.5h5v5h-5zM1884 380.5h5v5h-5zM1649 385.5h5v5h-5zM1899 385.5h5v5h-5zM1704 390.5h5v5h-5zM1844 390.5h5v5h-5zM1669 475.5h5v5h-5zM1879 475.5h5v5h-5zM1754 505.5h5v5h-5zM1794 505.5h5v5h-5zM1669 535.5h5v5h-5zM1879 535.5h5v5h-5zM1704 620.5h5v5h-5zM1844 620.5h5v5h-5zM1649 625.5h5v5h-5zM1899 625.5h5v5h-5zM1664 630.5h5v5h-5zM1679 630.5h5v5h-5zM1869 630.5h5v5h-5zM1884 630.5h5v5h-5zM1664 645.5h5v5h-5zM1679 645.5h5v5h-5zM1869 645.5h5v5h-5zM1884 645.5h5v5h-5z"/><path fill="#7e7e7e" d="M1659 365.5h5v5h-5zM1734 365.5h5v5h-5zM1814 365.5h5v5h-5zM1889 365.5h5v5h-5zM1659 380.5h5v5h-5zM1734 380.5h5v5h-5zM1814 380.5h5v5h-5zM1889 380.5h5v5h-5zM1724 385.5h5v5h-5zM1824 385.5h5v5h-5zM1749 395.5h5v5h-5zM1799 395.5h5v5h-5zM1724 400.5h5v5h-5zM1824 400.5h5v5h-5zM1654 405.5h5v5h-5zM1894 405.5h5v5h-5zM1749 480.5h5v5h-5zM1799 480.5h5v5h-5zM1724 490.5h5v5h-5zM1749 490.5h5v5h-5zM1799 490.5h5v5h-5zM1824 490.5h5v5h-5zM1729 495.5h5v5h-5zM1744 495.5h5v5h-5zM1804 495.5h5v5h-5zM1819 495.5h5v5h-5zM1729 515.5h5v5h-5zM1744 515.5h5v5h-5zM1804 515.5h5v5h-5zM1819 515.5h5v5h-5zM1724 520.5h5v5h-5zM1749 520.5h5v5h-5zM1799 520.5h5v5h-5zM1824 520.5h5v5h-5zM1749 530.5h5v5h-5zM1799 530.5h5v5h-5zM1654 605.5h5v5h-5zM1894 605.5h5v5h-5zM1724 610.5h5v5h-5zM1824 610.5h5v5h-5zM1749 615.5h5v5h-5zM1799 615.5h5v5h-5zM1724 625.5h5v5h-5zM1824 625.5h5v5h-5zM1659 630.5h5v5h-5zM1734 630.5h5v5h-5zM1814 630.5h5v5h-5zM1889 630.5h5v5h-5zM1659 645.5h5v5h-5zM1734 645.5h5v5h-5zM1814 645.5h5v5h-5zM1889 645.5h5v5h-5z"/><path fill="#818181" d="M1679 370.5h5v5h-5zM1869 370.5h5v5h-5zM1679 375.5h5v5h-5zM1869 375.5h5v5h-5zM1684 385.5h5v5h-5zM1864 385.5h5v5h-5zM1694 390.5h10v5h-10zM1849 390.5h10v5h-10zM1664 405.5h5v5h-5zM1884 405.5h5v5h-5zM1764 490.5h5v5h-5zM1784 490.5h5v5h-5zM1639 500.5h5v5h-5zM1909 500.5h5v5h-5zM1639 510.5h5v5h-5zM1909 510.5h5v5h-5zM1764 520.5h5v5h-5zM1784 520.5h5v5h-5zM1664 605.5h5v5h-5zM1884 605.5h5v5h-5zM1694 620.5h10v5h-10zM1849 620.5h10v5h-10zM1684 625.5h5v5h-5zM1864 625.5h5v5h-5zM1679 635.5h5v5h-5zM1869 635.5h5v5h-5zM1679 640.5h5v5h-5zM1869 640.5h5v5h-5z"/><path fill="#848484" d="M1714 365.5h5v5h-5zM1834 365.5h5v5h-5zM1714 380.5h5v5h-5zM1834 380.5h5v5h-5zM1739 405.5h5v5h-5zM1809 405.5h5v5h-5zM1724 480.5h5v5h-5zM1824 480.5h5v5h-5zM1749 485.5h5v5h-5zM1799 485.5h5v5h-5zM1759 495.5h5v5h-5zM1789 495.5h5v5h-5zM1759 515.5h5v5h-5zM1789 515.5h5v5h-5zM1749 525.5h5v5h-5zM1799 525.5h5v5h-5zM1724 530.5h5v5h-5zM1824 530.5h5v5h-5zM1739 605.5h5v5h-5zM1809 605.5h5v5h-5zM1714 630.5h5v5h-5zM1834 630.5h5v5h-5zM1714 645.5h5v5h-5zM1834 645.5h5v5h-5z"/><path fill="#868686" d="M1669 385.5h5v5h-5zM1744 385.5h5v5h-5zM1804 385.5h5v5h-5zM1879 385.5h5v5h-5zM1649 400.5h5v5h-5zM1899 400.5h5v5h-5zM1744 475.5h5v5h-5zM1804 475.5h5v5h-5zM1664 495.5h5v5h-5zM1884 495.5h5v5h-5zM1639 505.5h5v5h-5zM1909 505.5h5v5h-5zM1664 515.5h5v5h-5zM1884 515.5h5v5h-5zM1744 535.5h5v5h-5zM1804 535.5h5v5h-5zM1649 610.5h5v5h-5zM1899 610.5h5v5h-5zM1669 625.5h5v5h-5zM1744 625.5h5v5h-5zM1804 625.5h5v5h-5zM1879 625.5h5v5h-5z"/><path fill="#898989" d="M1709 385.5h5v5h-5zM1839 385.5h5v5h-5zM1659 405.5h5v5h-5zM1734 405.5h5v5h-5zM1814 405.5h5v5h-5zM1889 405.5h5v5h-5zM1724 485.5h5v5h-5zM1824 485.5h5v5h-5zM1654 495.5h5v5h-5zM1894 495.5h5v5h-5zM1654 515.5h5v5h-5zM1894 515.5h5v5h-5zM1724 525.5h5v5h-5zM1824 525.5h5v5h-5zM1659 605.5h5v5h-5zM1734 605.5h5v5h-5zM1814 605.5h5v5h-5zM1889 605.5h5v5h-5zM1709 625.5h5v5h-5zM1839 625.5h5v5h-5z"/><path fill="#8c8c8c" d="M1724 390.5h5v5h-5zM1824 390.5h5v5h-5zM1669 490.5h5v5h-5zM1879 490.5h5v5h-5zM1739 495.5h5v5h-5zM1809 495.5h5v5h-5zM1739 515.5h5v5h-5zM1809 515.5h5v5h-5zM1669 520.5h5v5h-5zM1879 520.5h5v5h-5zM1724 620.5h5v5h-5zM1824 620.5h5v5h-5z"/><path fill="#8e8e8e" d="M1714 370.5h5v5h-5zM1834 370.5h5v5h-5zM1714 375.5h5v5h-5zM1834 375.5h5v5h-5zM1724 395.5h5v5h-5zM1824 395.5h5v5h-5zM1669 400.5h5v5h-5zM1879 400.5h5v5h-5zM1729 475.5h5v5h-5zM1819 475.5h5v5h-5zM1649 490.5h5v5h-5zM1899 490.5h5v5h-5zM1634 495.5h5v5h-5zM1659 495.5h5v5h-5zM1734 495.5h5v5h-5zM1814 495.5h5v5h-5zM1889 495.5h5v5h-5zM1914 495.5h5v5h-5zM1634 515.5h5v5h-5zM1659 515.5h5v5h-5zM1734 515.5h5v5h-5zM1814 515.5h5v5h-5zM1889 515.5h5v5h-5zM1914 515.5h5v5h-5zM1649 520.5h5v5h-5zM1899 520.5h5v5h-5zM1729 535.5h5v5h-5zM1819 535.5h5v5h-5zM1669 610.5h5v5h-5zM1879 610.5h5v5h-5zM1724 615.5h5v5h-5zM1824 615.5h5v5h-5zM1714 635.5h5v5h-5zM1834 635.5h5v5h-5zM1714 640.5h5v5h-5zM1834 640.5h5v5h-5z"/><path fill="#919191" d="M1649 390.5h5v5h-5zM1899 390.5h5v5h-5zM1769 490.5h5v5h-5zM1779 490.5h5v5h-5zM1769 520.5h5v5h-5zM1779 520.5h5v5h-5zM1649 620.5h5v5h-5zM1899 620.5h5v5h-5z"/><path fill="#949494" d="M1729 385.5h5v5h-5zM1819 385.5h5v5h-5zM1759 500.5h5v5h-5zM1789 500.5h5v5h-5zM1759 510.5h5v5h-5zM1789 510.5h5v5h-5zM1729 625.5h5v5h-5zM1819 625.5h5v5h-5z"/><path fill="#969696" d="M1684 365.5h5v5h-5zM1864 365.5h5v5h-5zM1684 380.5h5v5h-5zM1864 380.5h5v5h-5zM1654 385.5h5v5h-5zM1894 385.5h5v5h-5zM1649 480.5h5v5h-5zM1669 480.5h5v5h-5zM1879 480.5h5v5h-5zM1899 480.5h5v5h-5zM1774 490.5h5v5h-5zM1774 520.5h5v5h-5zM1649 530.5h5v5h-5zM1669 530.5h5v5h-5zM1879 530.5h5v5h-5zM1899 530.5h5v5h-5zM1654 625.5h5v5h-5zM1894 625.5h5v5h-5zM1684 630.5h5v5h-5zM1864 630.5h5v5h-5zM1684 645.5h5v5h-5zM1864 645.5h5v5h-5z"/><path fill="#999999" d="M1689 385.5h5v5h-5zM1859 385.5h5v5h-5zM1649 395.5h5v5h-5zM1899 395.5h5v5h-5zM1744 400.5h5v5h-5zM1804 400.5h5v5h-5zM1654 475.5h5v5h-5zM1894 475.5h5v5h-5zM1654 535.5h5v5h-5zM1894 535.5h5v5h-5zM1744 610.5h5v5h-5zM1804 610.5h5v5h-5zM1649 615.5h5v5h-5zM1899 615.5h5v5h-5zM1689 625.5h5v5h-5zM1859 625.5h5v5h-5z"/><path fill="#9c9c9c" d="M1664 385.5h5v5h-5zM1884 385.5h5v5h-5zM1669 390.5h5v5h-5zM1879 390.5h5v5h-5zM1664 475.5h5v5h-5zM1884 475.5h5v5h-5zM1649 485.5h5v5h-5zM1669 485.5h5v5h-5zM1879 485.5h5v5h-5zM1899 485.5h5v5h-5zM1744 490.5h5v5h-5zM1804 490.5h5v5h-5zM1759 505.5h5v5h-5zM1789 505.5h5v5h-5zM1744 520.5h5v5h-5zM1804 520.5h5v5h-5zM1649 525.5h5v5h-5zM1669 525.5h5v5h-5zM1879 525.5h5v5h-5zM1899 525.5h5v5h-5zM1664 535.5h5v5h-5zM1884 535.5h5v5h-5zM1669 620.5h5v5h-5zM1879 620.5h5v5h-5zM1664 625.5h5v5h-5zM1884 625.5h5v5h-5z"/><path fill="#9e9e9e" d="M1739 385.5h5v5h-5zM1809 385.5h5v5h-5zM1739 625.5h5v5h-5zM1809 625.5h5v5h-5z"/><path fill="#a1a1a1" d="M1704 385.5h5v5h-5zM1844 385.5h5v5h-5zM1669 395.5h5v5h-5zM1879 395.5h5v5h-5zM1729 490.5h5v5h-5zM1819 490.5h5v5h-5zM1729 520.5h5v5h-5zM1819 520.5h5v5h-5zM1669 615.5h5v5h-5zM1879 615.5h5v5h-5zM1704 625.5h5v5h-5zM1844 625.5h5v5h-5z"/><path fill="#a4a4a4" d="M1744 390.5h5v5h-5zM1804 390.5h5v5h-5zM1739 475.5h5v5h-5zM1809 475.5h5v5h-5zM1764 495.5h5v5h-5zM1784 495.5h5v5h-5zM1764 515.5h5v5h-5zM1784 515.5h5v5h-5zM1739 535.5h5v5h-5zM1809 535.5h5v5h-5zM1744 620.5h5v5h-5zM1804 620.5h5v5h-5z"/><path fill="#a6a6a6" d="M1709 365.5h5v5h-5zM1839 365.5h5v5h-5zM1709 380.5h5v5h-5zM1839 380.5h5v5h-5zM1659 385.5h5v5h-5zM1734 385.5h5v5h-5zM1814 385.5h5v5h-5zM1889 385.5h5v5h-5zM1729 400.5h5v5h-5zM1819 400.5h5v5h-5zM1734 475.5h5v5h-5zM1814 475.5h5v5h-5zM1634 500.5h5v5h-5zM1914 500.5h5v5h-5zM1634 510.5h5v5h-5zM1914 510.5h5v5h-5zM1734 535.5h5v5h-5zM1814 535.5h5v5h-5zM1729 610.5h5v5h-5zM1819 610.5h5v5h-5zM1659 625.5h5v5h-5zM1734 625.5h5v5h-5zM1814 625.5h5v5h-5zM1889 625.5h5v5h-5zM1709 630.5h5v5h-5zM1839 630.5h5v5h-5zM1709 645.5h5v5h-5zM1839 645.5h5v5h-5z"/><path fill="#a9a9a9" d="M1684 370.5h5v5h-5zM1864 370.5h5v5h-5zM1684 375.5h5v5h-5zM1864 375.5h5v5h-5zM1659 475.5h5v5h-5zM1889 475.5h5v5h-5zM1744 480.5h5v5h-5zM1804 480.5h5v5h-5zM1744 530.5h5v5h-5zM1804 530.5h5v5h-5zM1659 535.5h5v5h-5zM1889 535.5h5v5h-5zM1684 635.5h5v5h-5zM1864 635.5h5v5h-5zM1684 640.5h5v5h-5zM1864 640.5h5v5h-5z"/><path fill="#aeaeae" d="M1694 385.5h5v5h-5zM1854 385.5h5v5h-5zM1744 395.5h5v5h-5zM1804 395.5h5v5h-5zM1654 490.5h5v5h-5zM1664 490.5h5v5h-5zM1884 490.5h5v5h-5zM1894 490.5h5v5h-5zM1634 505.5h5v5h-5zM1914 505.5h5v5h-5zM1654 520.5h5v5h-5zM1664 520.5h5v5h-5zM1884 520.5h5v5h-5zM1894 520.5h5v5h-5zM1744 615.5h5v5h-5zM1804 615.5h5v5h-5zM1694 625.5h5v5h-5zM1854 625.5h5v5h-5z"/><path fill="#b1b1b1" d="M1699 385.5h5v5h-5zM1849 385.5h5v5h-5zM1654 400.5h5v5h-5zM1894 400.5h5v5h-5zM1744 485.5h5v5h-5zM1804 485.5h5v5h-5zM1744 525.5h5v5h-5zM1804 525.5h5v5h-5zM1654 610.5h5v5h-5zM1894 610.5h5v5h-5zM1699 625.5h5v5h-5zM1849 625.5h5v5h-5z"/><path fill="#b7b7b7" d="M1729 390.5h5v5h-5zM1819 390.5h5v5h-5zM1664 400.5h5v5h-5zM1884 400.5h5v5h-5zM1729 480.5h5v5h-5zM1819 480.5h5v5h-5zM1729 530.5h5v5h-5zM1819 530.5h5v5h-5zM1664 610.5h5v5h-5zM1884 610.5h5v5h-5zM1729 620.5h5v5h-5zM1819 620.5h5v5h-5z"/><path fill="#b9b9b9" d="M1739 490.5h5v5h-5zM1809 490.5h5v5h-5zM1739 520.5h5v5h-5zM1809 520.5h5v5h-5z"/><path fill="#bcbcbc" d="M1729 485.5h5v5h-5zM1819 485.5h5v5h-5zM1734 490.5h5v5h-5zM1814 490.5h5v5h-5zM1734 520.5h5v5h-5zM1814 520.5h5v5h-5zM1729 525.5h5v5h-5zM1819 525.5h5v5h-5z"/><path fill="#bfbfbf" d="M1709 370.5h5v5h-5zM1839 370.5h5v5h-5zM1709 375.5h5v5h-5zM1839 375.5h5v5h-5zM1654 390.5h5v5h-5zM1894 390.5h5v5h-5zM1739 400.5h5v5h-5zM1809 400.5h5v5h-5zM1739 610.5h5v5h-5zM1809 610.5h5v5h-5zM1654 620.5h5v5h-5zM1894 620.5h5v5h-5zM1709 635.5h5v5h-5zM1839 635.5h5v5h-5zM1709 640.5h5v5h-5zM1839 640.5h5v5h-5z"/><path fill="#c1c1c1" d="M1689 365.5h5v5h-5zM1859 365.5h5v5h-5zM1689 380.5h5v5h-5zM1859 380.5h5v5h-5zM1729 395.5h5v5h-5zM1819 395.5h5v5h-5zM1659 490.5h5v5h-5zM1889 490.5h5v5h-5zM1659 520.5h5v5h-5zM1889 520.5h5v5h-5zM1729 615.5h5v5h-5zM1819 615.5h5v5h-5zM1689 630.5h5v5h-5zM1859 630.5h5v5h-5zM1689 645.5h5v5h-5zM1859 645.5h5v5h-5z"/><path fill="#c4c4c4" d="M1734 400.5h5v5h-5zM1814 400.5h5v5h-5zM1769 495.5h5v5h-5zM1779 495.5h5v5h-5zM1764 500.5h5v5h-5zM1784 500.5h5v5h-5zM1764 510.5h5v5h-5zM1784 510.5h5v5h-5zM1769 515.5h5v5h-5zM1779 515.5h5v5h-5zM1734 610.5h5v5h-5zM1814 610.5h5v5h-5z"/><path fill="#c7c7c7" d="M1664 390.5h5v5h-5zM1884 390.5h5v5h-5zM1659 400.5h5v5h-5zM1889 400.5h5v5h-5zM1654 480.5h5v5h-5zM1894 480.5h5v5h-5zM1654 530.5h5v5h-5zM1894 530.5h5v5h-5zM1659 610.5h5v5h-5zM1889 610.5h5v5h-5zM1664 620.5h5v5h-5zM1884 620.5h5v5h-5z"/><path fill="#c9c9c9" d="M1664 480.5h5v5h-5zM1884 480.5h5v5h-5zM1664 530.5h5v5h-5zM1884 530.5h5v5h-5z"/><path fill="#cccccc" d="M1739 390.5h5v5h-5zM1809 390.5h5v5h-5zM1739 620.5h5v5h-5zM1809 620.5h5v5h-5z"/><path fill="#cfcfcf" d="M1654 395.5h5v5h-5zM1894 395.5h5v5h-5zM1654 485.5h5v5h-5zM1664 485.5h5v5h-5zM1884 485.5h5v5h-5zM1894 485.5h5v5h-5zM1654 525.5h5v5h-5zM1664 525.5h5v5h-5zM1884 525.5h5v5h-5zM1894 525.5h5v5h-5zM1654 615.5h5v5h-5zM1894 615.5h5v5h-5z"/><path fill="#d1d1d1" d="M1704 365.5h5v5h-5zM1844 365.5h5v5h-5zM1704 380.5h5v5h-5zM1844 380.5h5v5h-5zM1774 495.5h5v5h-5zM1764 505.5h5v5h-5zM1784 505.5h5v5h-5zM1774 515.5h5v5h-5zM1704 630.5h5v5h-5zM1844 630.5h5v5h-5zM1704 645.5h5v5h-5zM1844 645.5h5v5h-5z"/><path fill="#d4d4d4" d="M1734 390.5h5v5h-5zM1814 390.5h5v5h-5zM1664 395.5h5v5h-5zM1884 395.5h5v5h-5zM1739 480.5h5v5h-5zM1809 480.5h5v5h-5zM1739 530.5h5v5h-5zM1809 530.5h5v5h-5zM1664 615.5h5v5h-5zM1884 615.5h5v5h-5zM1734 620.5h5v5h-5zM1814 620.5h5v5h-5z"/><path fill="#d7d7d7" d="M1659 390.5h5v5h-5zM1889 390.5h5v5h-5zM1659 620.5h5v5h-5zM1889 620.5h5v5h-5z"/><path fill="#dcdcdc" d="M1734 480.5h5v5h-5zM1814 480.5h5v5h-5zM1739 485.5h5v5h-5zM1809 485.5h5v5h-5zM1739 525.5h5v5h-5zM1809 525.5h5v5h-5zM1734 530.5h5v5h-5zM1814 530.5h5v5h-5z"/><path fill="#dfdfdf" d="M1739 395.5h5v5h-5zM1809 395.5h5v5h-5zM1659 480.5h5v5h-5zM1889 480.5h5v5h-5zM1659 530.5h5v5h-5zM1889 530.5h5v5h-5zM1739 615.5h5v5h-5zM1809 615.5h5v5h-5z"/><path fill="#e1e1e1" d="M1689 370.5h5v5h-5zM1859 370.5h5v5h-5zM1689 375.5h5v5h-5zM1859 375.5h5v5h-5zM1689 635.5h5v5h-5zM1859 635.5h5v5h-5zM1689 640.5h5v5h-5zM1859 640.5h5v5h-5z"/><path fill="#e4e4e4" d="M1734 485.5h5v5h-5zM1814 485.5h5v5h-5zM1734 525.5h5v5h-5zM1814 525.5h5v5h-5z"/><path fill="#e7e7e7" d="M1694 365.5h5v5h-5zM1854 365.5h5v5h-5zM1694 380.5h5v5h-5zM1854 380.5h5v5h-5zM1734 395.5h5v5h-5zM1814 395.5h5v5h-5zM1659 485.5h5v5h-5zM1889 485.5h5v5h-5zM1659 525.5h5v5h-5zM1889 525.5h5v5h-5zM1734 615.5h5v5h-5zM1814 615.5h5v5h-5zM1694 630.5h5v5h-5zM1854 630.5h5v5h-5zM1694 645.5h5v5h-5zM1854 645.5h5v5h-5z"/><path fill="#eaeaea" d="M1659 395.5h5v5h-5zM1889 395.5h5v5h-5zM1659 615.5h5v5h-5zM1889 615.5h5v5h-5z"/><path fill="#efefef" d="M1699 365.5h5v5h-5zM1849 365.5h5v5h-5zM1699 380.5h5v5h-5zM1849 380.5h5v5h-5zM1699 630.5h5v5h-5zM1849 630.5h5v5h-5zM1699 645.5h5v5h-5zM1849 645.5h5v5h-5z"/><path fill="#f4f4f4" d="M1769 500.5h5v5h-5zM1779 500.5h5v5h-5zM1769 510.5h5v5h-5zM1779 510.5h5v5h-5z"/><path fill="#f7f7f7" d="M1704 370.5h5v5h-5zM1844 370.5h5v5h-5zM1704 375.5h5v5h-5zM1844 375.5h5v5h-5zM1704 635.5h5v5h-5zM1844 635.5h5v5h-5zM1704 640.5h5v5h-5zM1844 640.5h5v5h-5z"/><path fill="#ffffff" d="M1694 370.5h10v5h-10zM1849 370.5h10v5h-10zM1694 375.5h10v5h-10zM1849 375.5h10v5h-10zM1774 500.5h5v5h-5zM1769 505.5h15v5h-15zM1774 510.5h5v5h-5zM1694 635.5h10v5h-10zM1849 635.5h10v5h-10zM1694 640.5h10v5h-10zM1849 640.5h10v5h-10z"/></g>
<path d="M1700,463.8L1700,552.2L1776.5,596.3L1853,552.2L1853,463.8L1776.5,419.7L1700,463.8" fill="none" stroke="#fff" stroke-width="3.1" stroke-dasharray="15.5 14" stroke-dashoffset="16.5"/>
<path d="M1700,463.8L1623.5,419.7M1700,552.2L1623.5,596.3M1776.5,419.7L1776.5,331.3M1776.5,596.3L1776.5,684.7M1853,463.8L1929.5,419.7M1853,552.2L1929.5,596.3" fill="none" stroke="#fff" stroke-width="3.1" stroke-dasharray="15.5 14" stroke-dashoffset="2"/>
<path d="M1827.5,508L1802,463.8L1751,463.8L1725.5,508L1751,552.2L1802,552.2Z" fill="none" stroke="#f7de3e" stroke-width="3"/>
</g>
<rect x="1814" y="377.5" width="93" height="29.6" fill="#464b4b" fill-opacity="0.93"/>
<text x="1861" y="400.5" font-size="24.5" fill="#fff" text-anchor="middle">S<tspan font-size="20" dy="-9.5">zz</tspan><tspan dy="9.5">(k)</tspan></text>
<path d="M1644,375.5V640.5H1910.5" fill="none" stroke="#222" stroke-width="2"/>
<path d="M1644,375.5H1909" fill="none" stroke="#999" stroke-width="1"/>
<text x="1632" y="385.5" font-size="28" text-anchor="end">2</text>
<text x="1632" y="451.8" font-size="28" text-anchor="end">1</text>
<text x="1632" y="518" font-size="28" text-anchor="end">0</text>
<text x="1632" y="584.2" font-size="28" text-anchor="end">-1</text>
<text x="1632" y="654.5" font-size="28" text-anchor="end">-2</text>
<text x="1639" y="674" font-size="28" text-anchor="middle">-2</text>
<text x="1775.5" y="674" font-size="28" text-anchor="middle">0</text>
<text x="1912" y="674" font-size="28" text-anchor="middle">2</text>
<rect x="1918" y="634.9" width="34.5" height="4.7" fill="#2d2e6e"/>
<rect x="1918" y="630.8" width="34.5" height="4.7" fill="#2e3183"/>
<rect x="1918" y="626.7" width="34.5" height="4.7" fill="#2e358f"/>
<rect x="1918" y="622.6" width="34.5" height="4.7" fill="#2e3a94"/>
<rect x="1918" y="618.5" width="34.5" height="4.7" fill="#2e3f98"/>
<rect x="1918" y="614.3" width="34.5" height="4.7" fill="#2e439c"/>
<rect x="1918" y="610.2" width="34.5" height="4.7" fill="#2e47a0"/>
<rect x="1918" y="606.1" width="34.5" height="4.7" fill="#2e4ba3"/>
<rect x="1918" y="602" width="34.5" height="4.7" fill="#2e4fa6"/>
<rect x="1918" y="597.9" width="34.5" height="4.7" fill="#2f54a9"/>
<rect x="1918" y="593.8" width="34.5" height="4.7" fill="#2f58ab"/>
<rect x="1918" y="589.7" width="34.5" height="4.7" fill="#305cae"/>
<rect x="1918" y="585.6" width="34.5" height="4.7" fill="#3262b3"/>
<rect x="1918" y="581.5" width="34.5" height="4.7" fill="#3568b7"/>
<rect x="1918" y="577.4" width="34.5" height="4.7" fill="#3771bd"/>
<rect x="1918" y="573.2" width="34.5" height="4.7" fill="#3a7cc4"/>
<rect x="1918" y="569.1" width="34.5" height="4.7" fill="#3e87cb"/>
<rect x="1918" y="565" width="34.5" height="4.7" fill="#4290d0"/>
<rect x="1918" y="560.9" width="34.5" height="4.7" fill="#489bd6"/>
<rect x="1918" y="556.8" width="34.5" height="4.7" fill="#50a6dc"/>
<rect x="1918" y="552.7" width="34.5" height="4.7" fill="#5ab2e0"/>
<rect x="1918" y="548.6" width="34.5" height="4.7" fill="#65bfe3"/>
<rect x="1918" y="544.5" width="34.5" height="4.7" fill="#6fc7e2"/>
<rect x="1918" y="540.4" width="34.5" height="4.7" fill="#78cee0"/>
<rect x="1918" y="536.3" width="34.5" height="4.7" fill="#80d4dc"/>
<rect x="1918" y="532.2" width="34.5" height="4.7" fill="#80d5d2"/>
<rect x="1918" y="528" width="34.5" height="4.7" fill="#80d5c8"/>
<rect x="1918" y="523.9" width="34.5" height="4.7" fill="#80d6be"/>
<rect x="1918" y="519.8" width="34.5" height="4.7" fill="#85d7b0"/>
<rect x="1918" y="515.7" width="34.5" height="4.7" fill="#8ad7a2"/>
<rect x="1918" y="511.6" width="34.5" height="4.7" fill="#8fd893"/>
<rect x="1918" y="507.5" width="34.5" height="4.7" fill="#97d986"/>
<rect x="1918" y="503.4" width="34.5" height="4.7" fill="#a1db7a"/>
<rect x="1918" y="499.3" width="34.5" height="4.7" fill="#abdc6d"/>
<rect x="1918" y="495.2" width="34.5" height="4.7" fill="#bbde61"/>
<rect x="1918" y="491.1" width="34.5" height="4.7" fill="#cbdf54"/>
<rect x="1918" y="487" width="34.5" height="4.7" fill="#d7e04c"/>
<rect x="1918" y="482.8" width="34.5" height="4.7" fill="#e1e046"/>
<rect x="1918" y="478.7" width="34.5" height="4.7" fill="#eadf40"/>
<rect x="1918" y="474.6" width="34.5" height="4.7" fill="#edd93d"/>
<rect x="1918" y="470.5" width="34.5" height="4.7" fill="#efd33b"/>
<rect x="1918" y="466.4" width="34.5" height="4.7" fill="#f0c938"/>
<rect x="1918" y="462.3" width="34.5" height="4.7" fill="#f1bd34"/>
<rect x="1918" y="458.2" width="34.5" height="4.7" fill="#f2b030"/>
<rect x="1918" y="454.1" width="34.5" height="4.7" fill="#f2a12d"/>
<rect x="1918" y="450" width="34.5" height="4.7" fill="#f2932a"/>
<rect x="1918" y="445.9" width="34.5" height="4.7" fill="#f18327"/>
<rect x="1918" y="441.8" width="34.5" height="4.7" fill="#ef7424"/>
<rect x="1918" y="437.6" width="34.5" height="4.7" fill="#ec6420"/>
<rect x="1918" y="433.5" width="34.5" height="4.7" fill="#e9571f"/>
<rect x="1918" y="429.4" width="34.5" height="4.7" fill="#e64b1f"/>
<rect x="1918" y="425.3" width="34.5" height="4.7" fill="#e3401e"/>
<rect x="1918" y="421.2" width="34.5" height="4.7" fill="#e13b1f"/>
<rect x="1918" y="417.1" width="34.5" height="4.7" fill="#df361f"/>
<rect x="1918" y="413" width="34.5" height="4.7" fill="#dd3120"/>
<rect x="1918" y="408.9" width="34.5" height="4.7" fill="#d72d20"/>
<rect x="1918" y="404.8" width="34.5" height="4.7" fill="#cb2c22"/>
<rect x="1918" y="400.7" width="34.5" height="4.7" fill="#c02a23"/>
<rect x="1918" y="396.5" width="34.5" height="4.7" fill="#b42924"/>
<rect x="1918" y="392.4" width="34.5" height="4.7" fill="#a72724"/>
<rect x="1918" y="388.3" width="34.5" height="4.7" fill="#992423"/>
<rect x="1918" y="384.2" width="34.5" height="4.7" fill="#8b2222"/>
<rect x="1918" y="380.1" width="34.5" height="4.7" fill="#7f2020"/>
<rect x="1918" y="376" width="34.5" height="4.7" fill="#721f1f"/>
<rect x="1918" y="376" width="34.5" height="263" fill="none" stroke="#555" stroke-width="0.8"/>
<path d="M1952.5,376h-4" stroke="#333" stroke-width="1.2"/>
<text x="1953" y="385.5" font-size="28.5">0.6</text>
<path d="M1952.5,481.2h-4" stroke="#333" stroke-width="1.2"/>
<text x="1953" y="490.7" font-size="28.5">0.4</text>
<path d="M1952.5,586.4h-4" stroke="#333" stroke-width="1.2"/>
<text x="1953" y="595.9" font-size="28.5">0.2</text>
<text x="1775.5" y="709" font-size="30" text-anchor="middle"><tspan font-style="italic">k</tspan><tspan font-size="19" dy="6">x</tspan><tspan dy="-6" dx="3">/</tspan><tspan dx="3" font-family="Liberation Serif, serif" font-style="italic">π</tspan></text>
<text transform="translate(1599,509) rotate(-90)" font-size="30" text-anchor="middle"><tspan font-style="italic">k</tspan><tspan font-size="19" dy="6">y</tspan><tspan dy="-6" dx="3">/</tspan><tspan dx="3" font-family="Liberation Serif, serif" font-style="italic">π</tspan></text>
<text x="1563" y="385" font-size="40" font-weight="bold">g</text>
<path d="M251.7,456.5L251.7,24.5M299.6,462.3L299.6,30.3M347.5,468.2L347.5,36.2M410.7,476L410.7,44M458.6,481.9L458.6,49.9M202.5,421.6L488,456.7M202.5,364L488,399.1M202.5,306.4L488,341.5M202.5,248.8L488,283.9M202.5,191.2L488,226.3M202.5,133.6L488,168.7M202.5,76L488,111.1M125,525.1L125,93.1M150.8,500.2L150.8,68.2M176.7,475.3L176.7,43.3M99.2,521.2L202.5,421.6M99.2,463.6L202.5,364M99.2,406L202.5,306.4M99.2,348.4L202.5,248.8M99.2,290.8L202.5,191.2M99.2,233.2L202.5,133.6M99.2,175.6L202.5,76M148.4,556.1L251.7,456.5M196.3,561.9L299.6,462.3M244.2,567.8L347.5,468.2M307.4,575.6L410.7,476M355.3,581.5L458.6,481.9M125,525.1L410.5,560.2M150.8,500.2L436.3,535.3M176.7,475.3L462.2,510.4" stroke="#d6d6d6" stroke-width="1.8" fill="none"/>
<path d="M216.5,452.1L216.5,20.1M236.3,454.6L236.3,22.6M264.3,458L264.3,26M275,459.3L275,27.3M284.2,460.4L284.2,28.4M292.3,461.4L292.3,29.4M375.5,471.7L375.5,39.7M395.3,474.1L395.3,42.1M423.3,477.5L423.3,45.5M434,478.9L434,46.9M443.2,480L443.2,48M451.3,481L451.3,49M113.2,551.7L216.5,452.1M133,554.2L236.3,454.6M161,557.6L264.3,458M171.7,558.9L275,459.3M180.9,560L284.2,460.4M189,561L292.3,461.4M272.2,571.3L375.5,471.7M292,573.7L395.3,474.1M320,577.1L423.3,477.5M330.7,578.5L434,478.9M339.9,579.6L443.2,480M348,580.6L451.3,481" stroke="#b6b6b6" stroke-width="2" stroke-dasharray="2 2.6" fill="none"/>
<path d="M202.5,450.4L202.5,18.4M202.5,450.4L488,485.5M99.2,550L202.5,450.4M488,485.5L488,53.5" stroke="#1e1e1e" stroke-width="2.4" fill="none"/>
<path fill="#3e87cb" stroke="#3e87cb" stroke-width="0.4" fill-rule="evenodd" d="M100.7,515.6L125.6,518L157.8,520.2L200.3,521.5L202.6,514L215.4,479.4L227,449.9L234,434.9L239.8,416.5L243.3,402.1L247.9,379.1L254.9,334L266.5,275.2L270,254.8L273.4,237.8L276.9,225.3L278.1,222.5L281.6,217.6L286.2,213.9L293.2,209.9L297.8,207.9L302.5,207L303.6,208.1L291.9,173.3L267,106.4L259.7,91.1L250.9,76L242.1,65.9L236.2,61L230.3,57L223,53.5L217.2,51.4L202.5,49.5L199,51.4L193.2,55.2L183.9,62.8L181.6,65.9L178.1,73.8L174.6,92.7L171.2,120.4L167.7,154.4L157.2,241.8L150.3,316L145.6,353.4L142.1,375.8L136.3,402.8L130.5,419.6L125.9,436.9L110.8,487.6L103.8,507.6L101.5,512.6L99.2,515.4L100.7,515.6Z"/><path fill="#4290d0" stroke="#4290d0" stroke-width="0.4" fill-rule="evenodd" d="M129.6,516.6L140.7,519.1L144.6,519.4L163.7,520.5L200.3,521.5L202.6,514L215.4,479.4L227,449.9L234,434.9L239.8,416.5L243.3,402.1L247.9,379.1L254.9,334L266.5,275.2L270,254.8L273.4,237.8L276.9,225.3L278.1,222.5L281.6,217.6L286.2,213.9L293.2,209.9L297.8,207.9L302.5,207L303.6,208.1L291.9,173.3L267,106.4L262.6,96.7L255.3,83.2L252.3,78.2L247.9,72.2L243.5,67.3L237.7,62.1L228.9,56.2L221.6,52.9L215.7,51.1L202.5,49.5L193.2,55.2L186.3,60.7L182.8,64.1L179.3,70.7L177,79L174.6,92.7L172.3,110.7L166.5,164.5L157.2,241.8L150.3,316L145.6,353.4L142.1,375.8L136.3,402.8L130.5,419.6L125.9,436.9L112,484L105,504.6L102.4,511L129.6,516.6Z"/><path fill="#489bd6" stroke="#489bd6" stroke-width="0.4" fill-rule="evenodd" d="M197,517.6L201.2,518.2L213.1,485.5L227,449.9L234,434.9L239.8,416.5L243.3,402.1L247.9,379.1L254.9,334L266.5,275.2L270,254.8L273.4,237.8L276.9,225.3L278.1,222.5L281.6,217.6L286.2,213.9L293.2,209.9L297.8,207.9L302.5,207L303.6,208.1L291.9,173.3L267,106.4L262.6,96.7L252.3,78.2L247.9,72.2L242.1,65.9L236.2,61L230.3,57L218.6,51.8L202.5,49.5L193.2,55.2L186.3,60.7L182.8,64.1L179.3,70.7L177,79L174.6,92.7L171.2,120.4L167.7,154.4L157.2,241.8L150.3,316L143.3,368.9L139.8,387.9L136.3,402.8L130.5,419.6L125.9,436.9L113.1,480.2L106.8,499.5L171.6,510.7L180.6,512.8L197,517.6Z"/><path fill="#50a6dc" stroke="#50a6dc" stroke-width="0.4" fill-rule="evenodd" d="M198.8,505.5L205,507.5L213.1,485.5L227,449.9L234,434.9L238.6,420.7L243.3,402.1L247.9,379.1L254.9,334L266.5,275.2L270,254.8L273.4,237.8L276.9,225.3L278.1,222.5L281.6,217.6L286.2,213.9L293.2,209.9L297.8,207.9L302.5,207L303.6,208.1L291.9,173.3L267,106.4L262.6,96.7L252.3,78.2L247.9,72.2L242.1,65.9L236.2,61L230.3,57L218.6,51.8L202.5,49.5L193.2,55.2L186.3,60.7L182.8,64.1L179.3,70.7L177,79L174.6,92.7L171.2,120.4L167.7,154.4L157.2,241.8L150.3,316L143.3,368.9L139.8,387.9L136.3,402.8L130.5,419.6L125.9,436.9L110.4,488.8L142.6,494.4L181,500.4L188.9,502.3L198.8,505.5Z"/><path fill="#5ab2e0" stroke="#5ab2e0" stroke-width="0.4" fill-rule="evenodd" d="M206.7,495.5L209.1,496.4L227,449.9L234,434.9L239.8,416.5L243.3,402.1L247.9,379.1L254.9,334L266.5,275.2L270,254.8L273.4,237.8L276.9,225.3L278.1,222.5L281.6,217.6L286.2,213.9L293.2,209.9L297.8,207.9L302.5,207L303.6,208.1L291.9,173.3L267,106.4L262.6,96.7L252.3,78.2L247.9,72.2L242.1,65.9L236.2,61L230.3,57L218.6,51.8L202.5,49.5L193.2,55.2L186.3,60.7L182.8,64.1L179.3,70.7L177,79L174.6,92.7L171.2,120.4L167.7,154.4L157.2,241.8L150.3,316L143.3,368.9L139.8,387.9L136.3,402.8L130.5,419.6L125.9,436.9L113.6,478.5L150.2,484.7L186.4,489.6L194.7,491.5L206.7,495.5Z"/><path fill="#65bfe3" stroke="#65bfe3" stroke-width="0.4" fill-rule="evenodd" d="M208.2,483.6L213.2,485.2L227,449.9L234,434.9L239.8,416.5L243.3,402.1L247.9,379.1L254.9,334L266.5,275.2L270,254.8L273.4,237.8L276.9,225.3L278.1,222.5L281.6,217.6L286.2,213.9L293.2,209.9L297.8,207.9L302.5,207L303.6,208.1L291.9,173.3L267,106.4L262.6,96.7L252.3,78.2L247.9,72.2L242.1,65.9L236.2,61L230.3,57L218.6,51.8L202.5,49.5L193.2,55.2L186.3,60.7L182.8,64.1L179.3,70.7L177,79L174.6,92.7L171.2,120.4L167.7,154.4L157.2,241.8L150.3,316L144.5,361.4L141,382.1L137.5,398.3L135.2,406.5L130.5,419.6L116.6,468.5L156,475L191.4,479.2L198.1,480.6L208.2,483.6Z"/><path fill="#6fc7e2" stroke="#6fc7e2" stroke-width="0.4" fill-rule="evenodd" d="M217.7,473.7L227,449.9L234,434.9L238.6,420.7L242.1,407.2L247.9,379.1L254.9,334L266.5,275.2L270,254.8L273.4,237.8L276.9,225.3L278.1,222.5L281.6,217.6L286.2,213.9L293.2,209.9L297.8,207.9L302.5,207L303.6,208.1L291.9,173.3L267,106.4L262.6,96.7L252.3,78.2L247.9,72.2L242.1,65.9L236.2,61L230.3,57L218.6,51.8L202.5,49.5L193.2,55.2L186.3,60.7L182.8,64.1L179.3,70.7L177,79L174.6,92.7L171.2,120.4L167.7,154.4L157.2,241.8L150.3,316L144.5,361.4L141,382.1L137.5,398.3L135.2,406.5L130.5,419.6L119.5,458.4L137.6,461.7L160.4,465.2L196.4,468.7L204.6,470.3L217.7,473.7Z"/><path fill="#78cee0" stroke="#78cee0" stroke-width="0.4" fill-rule="evenodd" d="M147.6,452.8L170.8,455.9L201.6,458.1L222.4,462L227,449.9L234,434.9L238.6,420.7L242.1,407.2L247.9,379.1L254.9,334L266.5,275.2L270,254.8L273.4,237.8L276.9,225.3L278.1,222.5L281.6,217.6L286.2,213.9L293.2,209.9L297.8,207.9L302.5,207L303.6,208.1L291.9,173.3L267,106.4L262.6,96.7L255.3,83.2L252.3,78.2L247.9,72.2L243.5,67.3L237.7,62.1L228.9,56.2L221.6,52.9L215.7,51.1L202.5,49.5L194.4,54.4L186.3,60.7L182.8,64.1L179.3,70.7L178.1,73.8L175.8,85.4L171.2,120.4L167.7,154.4L157.2,241.8L151.4,305.2L144.5,361.4L141,382.1L137.5,398.3L135.2,406.5L130.5,419.6L122.5,448.3L147.6,452.8Z"/><path fill="#80d4dc" stroke="#80d4dc" stroke-width="0.4" fill-rule="evenodd" d="M137.9,440.7L169.4,445.3L186.2,446.6L203.8,447.2L226.7,450.5L232.8,437.8L235.1,431.7L239.8,416.5L243.3,402.1L249.1,372.6L254.9,334L266.5,275.2L271.1,248.9L274.6,233L276.9,225.3L278.1,222.5L281.6,217.6L286.2,213.9L293.2,209.9L297.8,207.9L302.5,207L303.6,208.1L291.9,173.3L267,106.4L259.7,91.1L250.9,76L242.1,65.9L236.2,61L230.3,57L223,53.5L217.2,51.4L202.5,49.5L194.4,54.4L186.3,60.7L182.8,64.1L179.3,70.7L177,79L174.6,92.7L172.3,110.7L166.5,164.5L157.2,241.8L151.4,305.2L145.6,353.4L142.1,375.8L137.5,398.3L135.2,406.5L130.5,419.6L125.5,438.2L137.9,440.7Z"/><path fill="#80d5d2" stroke="#80d5d2" stroke-width="0.4" fill-rule="evenodd" d="M153.4,432.8L170.9,435.1L187.7,436.4L202.3,436.6L221.1,437.7L233,437.3L238.6,420.7L244.4,396.6L249.1,372.6L254.9,334L266.5,275.2L271.1,248.9L275.8,228.9L278.1,222.5L281.6,217.6L283.9,215.5L289.7,211.8L296.7,208.3L301.3,207L302.5,207L303.6,208.1L291.9,173.3L267,106.4L262.6,96.7L255.3,83.2L252.3,78.2L247.9,72.2L243.5,67.3L237.7,62.1L228.9,56.2L221.6,52.9L215.7,51.1L202.5,49.5L194.4,54.4L186.3,60.7L182.8,64.1L179.3,70.7L178.1,73.8L175.8,85.4L171.2,120.4L167.7,154.4L157.2,241.8L151.4,305.2L145.6,353.4L142.1,375.8L137.5,398.3L135.2,406.5L130.5,419.6L128.2,428.4L153.4,432.8Z"/><path fill="#80d5c8" stroke="#80d5c8" stroke-width="0.4" fill-rule="evenodd" d="M134.8,419.6L158.8,423.6L179.5,425.9L192.1,426.5L212.6,425.3L221.6,425.2L236.9,426.4L242.1,407.2L246.8,385.1L250.2,365.5L254.9,334L266.5,275.2L271.1,248.9L275.8,228.9L278.1,222.5L281.6,217.6L283.9,215.5L289.7,211.8L296.7,208.3L301.3,207L302.5,207L303.6,208.1L291.9,173.3L267,106.4L259.7,91.1L250.9,76L242.1,65.9L236.2,61L230.3,57L223,53.5L217.2,51.4L202.5,49.5L194.4,54.4L186.3,60.7L182.8,64.1L179.3,70.7L177,79L174.6,92.7L172.3,110.7L166.5,164.5L157.2,241.8L151.4,305.2L145.6,353.4L142.1,375.8L138.7,393.3L135.2,406.5L130.8,418.6L134.8,419.6Z"/><path fill="#80d6be" stroke="#80d6be" stroke-width="0.4" fill-rule="evenodd" d="M157.8,412.6L170.8,414.4L181.5,415.2L194.7,415.3L213.7,414.4L239.8,416.3L243.3,402.1L247.9,379.1L254.9,334L266.5,275.2L271.1,248.9L275.8,228.9L278.1,222.5L281.6,217.6L283.9,215.5L289.7,211.8L296.7,208.3L301.3,207L302.5,207L303.6,208.1L291.9,173.3L267,106.4L262.6,96.7L255.3,83.2L252.3,78.2L247.9,72.2L243.5,67.3L237.7,62.1L228.9,56.2L221.6,52.9L215.7,51.1L202.5,49.5L194.4,54.4L186.3,60.7L182.8,64.1L179.3,70.7L178.1,73.8L175.8,85.4L171.2,120.4L167.7,154.4L157.2,241.8L151.4,305.2L146.8,344.5L141,382.1L137.5,398.3L134.7,407.8L157.8,412.6Z"/><path fill="#85d7b0" stroke="#85d7b0" stroke-width="0.4" fill-rule="evenodd" d="M140.4,398.3L158.6,401.5L182.1,404.3L199.5,405L219.5,404.9L242.2,406.9L249.1,372.6L254.9,334L266.5,275.2L271.1,248.9L275.8,228.9L278.1,222.5L281.6,217.6L283.9,215.5L289.7,211.8L296.7,208.3L301.3,207L302.5,207L303.6,208.1L291.9,173.3L267,106.4L259.7,91.1L250.9,76L242.1,65.9L236.2,61L230.3,57L223,53.5L217.2,51.4L202.5,49.5L194.4,54.4L186.3,60.7L182.8,64.1L179.3,70.7L177,79L174.6,92.7L172.3,110.7L166.5,164.5L157.2,241.8L152.6,293.4L149.1,325.8L143.3,368.9L137.6,397.8L140.4,398.3Z"/><path fill="#8ad7a2" stroke="#8ad7a2" stroke-width="0.4" fill-rule="evenodd" d="M141,388.9L163.7,392.5L184.4,394.9L201.7,395.7L218.4,395.5L244.2,397.8L249.1,372.6L254.9,334L266.5,275.2L271.1,248.9L275.8,228.9L278.1,222.5L281.6,217.6L283.9,215.5L289.7,211.8L296.7,208.3L301.3,207L302.5,207L303.6,208.1L291.9,173.3L267,106.4L259.7,91.1L250.9,76L242.1,65.9L236.2,61L230.3,57L223,53.5L217.2,51.4L202.5,49.5L199,51.4L193.2,55.2L183.9,62.8L181.6,65.9L178.1,73.8L174.6,92.7L171.2,120.4L167.7,154.4L157.2,241.8L150.3,316L144.5,361.4L139.7,388.6L141,388.9Z"/><path fill="#8fd893" stroke="#8fd893" stroke-width="0.4" fill-rule="evenodd" d="M152.7,381.6L171.4,384.2L191,386.1L224.9,386.8L246,388.8L250.2,365.5L254.9,334L266.5,275.2L271.1,248.9L274.6,233L276.9,225.3L278.1,222.5L281.6,217.6L286.2,213.9L293.2,209.9L297.8,207.9L302.5,207L303.6,208.1L291.9,173.3L267,106.4L262.6,96.7L255.3,83.2L252.3,78.2L247.9,72.2L243.5,67.3L237.7,62.1L228.9,56.2L221.6,52.9L215.7,51.1L202.5,49.5L193.2,55.2L186.3,60.7L182.8,64.1L179.3,70.7L177,79L174.6,92.7L172.3,110.7L166.5,164.5L157.2,241.8L152.6,293.4L149.1,325.8L145.6,353.4L141.4,379.8L152.7,381.6Z"/><path fill="#97d986" stroke="#97d986" stroke-width="0.4" fill-rule="evenodd" d="M144.3,371.3L167.2,374.7L188,377L206.9,378L223.3,378L247.8,379.9L254.9,334L266.5,275.2L271.1,248.9L274.6,233L276.9,225.3L278.1,222.5L281.6,217.6L286.2,213.9L293.2,209.9L297.8,207.9L302.5,207L303.6,208.1L291.9,173.3L267,106.4L259.7,91.1L250.9,76L242.1,65.9L236.2,61L230.3,57L223,53.5L217.2,51.4L202.5,49.5L199,51.4L193.2,55.2L183.9,62.8L181.6,65.9L178.1,73.8L174.6,92.7L172.3,110.7L166.5,164.5L157.2,241.8L150.3,316L145.6,353.4L143,371.1L144.3,371.3Z"/><path fill="#a1db7a" stroke="#a1db7a" stroke-width="0.4" fill-rule="evenodd" d="M145.7,362.8L170.1,366.4L189.4,368.4L206.7,369.4L226.3,369.5L249.3,371.3L254.9,334L266.5,275.2L271.1,248.9L274.6,233L276.9,225.3L278.1,222.5L281.6,217.6L286.2,213.9L293.2,209.9L297.8,207.9L302.5,207L303.6,208.1L291.9,173.3L267,106.4L259.7,91.1L250.9,76L242.1,65.9L236.2,61L230.3,57L223,53.5L217.2,51.4L202.5,49.5L199,51.4L193.2,55.2L183.9,62.8L181.6,65.9L178.1,73.8L174.6,92.7L172.3,110.7L166.5,164.5L157.2,241.8L151.4,305.2L144.3,362.5L145.7,362.8Z"/><path fill="#abdc6d" stroke="#abdc6d" stroke-width="0.4" fill-rule="evenodd" d="M146.9,354.4L167,357.4L189.2,359.9L206.4,360.9L229.2,361.1L250.7,362.7L254.9,334L266.5,275.2L270,254.8L273.4,237.8L276.9,225.3L278.1,222.5L281.6,217.6L286.2,213.9L293.2,209.9L297.8,207.9L302.5,207L303.6,208.1L291.9,173.3L267,106.4L259.7,91.1L250.9,76L242.1,65.9L236.2,61L230.3,57L223,53.5L217.2,51.4L202.5,49.5L199,51.4L193.2,55.2L183.9,62.8L181.6,65.9L178.1,73.8L174.6,92.7L172.3,110.7L166.5,164.5L157.2,241.8L151.4,305.2L145.5,354.2L146.9,354.4Z"/><path fill="#bbde61" stroke="#bbde61" stroke-width="0.4" fill-rule="evenodd" d="M148,346.2L172.5,349.7L191.9,351.7L209.1,352.5L233.6,352.9L251.9,354.3L254.9,334L266.5,275.2L270,254.8L273.4,237.8L276.9,225.3L278.1,222.5L281.6,217.6L286.2,213.9L293.2,209.9L297.8,207.9L302.5,207L303.6,208.1L291.9,173.3L267,106.4L259.7,91.1L250.9,76L242.1,65.9L236.2,61L230.3,57L223,53.5L217.2,51.4L202.5,49.5L199,51.4L193.2,55.2L183.9,62.8L181.6,65.9L178.1,73.8L174.6,92.7L172.3,110.7L166.5,164.5L157.2,241.8L151.4,305.2L146.6,345.9L148,346.2Z"/><path fill="#cbdf54" stroke="#cbdf54" stroke-width="0.4" fill-rule="evenodd" d="M149.1,337.9L173.6,341.4L193,343.4L208.7,344.2L234.8,344.5L253.1,345.9L254.9,334L266.5,275.2L271.1,248.9L274.6,233L276.9,225.3L278.1,222.5L281.6,217.6L286.2,213.9L293.2,209.9L297.8,207.9L302.5,207L303.6,208.1L291.9,173.3L267,106.4L259.7,91.1L250.9,76L242.1,65.9L236.2,61L230.3,57L223,53.5L217.2,51.4L202.5,49.5L199,51.4L193.2,55.2L183.9,62.8L181.6,65.9L178.1,73.8L174.6,92.7L172.3,110.7L166.5,164.5L157.2,241.8L151.4,305.2L147.6,337.7L149.1,337.9Z"/><path fill="#d7e04c" stroke="#d7e04c" stroke-width="0.4" fill-rule="evenodd" d="M150.1,329.8L174.6,333.2L195.6,335.3L211.4,336L224.8,335.9L254.3,337.3L266.5,275.2L271.1,248.9L274.6,233L276.9,225.3L278.1,222.5L281.6,217.6L286.2,213.9L293.2,209.9L297.8,207.9L302.5,207L303.6,208.1L291.9,173.3L267,106.4L259.7,91.1L250.9,76L242.1,65.9L236.2,61L230.3,57L223,53.5L217.2,51.4L202.5,49.5L199,51.4L193.2,55.2L183.9,62.8L181.6,65.9L178.1,73.8L174.6,92.7L172.3,110.7L166.5,164.5L157.2,241.8L152.6,293.4L148.7,329.5L150.1,329.8Z"/><path fill="#e1e046" stroke="#e1e046" stroke-width="0.4" fill-rule="evenodd" d="M151,321.7L177.1,325.2L198.2,327.2L212.4,327.9L227.6,327.8L247.6,328.9L255.9,328.8L266.5,275.2L271.1,248.9L274.6,233L276.9,225.3L278.1,222.5L281.6,217.6L286.2,213.9L293.2,209.9L297.8,207.9L302.5,207L303.6,208.1L291.9,173.3L267,106.4L259.7,91.1L250.9,76L242.1,65.9L236.2,61L230.3,57L223,53.5L217.2,51.4L202.5,49.5L199,51.4L193.2,55.2L183.9,62.8L181.6,65.9L178.1,73.8L174.6,92.7L172.3,110.7L166.5,164.5L157.2,241.8L149.6,321.5L151,321.7Z"/><path fill="#eadf40" stroke="#eadf40" stroke-width="0.4" fill-rule="evenodd" d="M164.9,315.4L188.5,318.2L202.3,319.3L231.5,319.8L248.7,320.6L257.9,319.9L271.1,248.9L274.6,233L276.9,225.3L278.1,222.5L281.6,217.6L286.2,213.9L293.2,209.9L297.8,207.9L302.5,207L303.6,208.1L291.9,173.3L267,106.4L259.7,91.1L250.9,76L242.1,65.9L236.2,61L230.3,57L223,53.5L217.2,51.4L202.5,49.5L194.4,54.4L186.3,60.7L182.8,64.1L179.3,70.7L177,79L174.6,92.7L172.3,110.7L166.5,164.5L157.2,241.8L150.6,313.4L164.9,315.4Z"/><path fill="#edd93d" stroke="#edd93d" stroke-width="0.4" fill-rule="evenodd" d="M152.8,305.5L179,309.1L204.7,311.3L247.9,312L259.4,311.1L272.3,243.3L274.6,233L278.1,222.5L282.7,216.4L289.7,211.8L299,207.5L302.5,207L303.6,208.1L291.9,173.3L267,106.4L259.7,91.1L250.9,76L242.1,65.9L236.2,61L230.3,57L223,53.5L217.2,51.4L202.5,49.5L199,51.4L193.2,55.2L183.9,62.8L181.6,65.9L178.1,73.8L174.6,92.7L172.3,110.7L166.5,164.5L157.2,241.8L151.4,305.2L152.8,305.5Z"/><path fill="#efd33b" stroke="#efd33b" stroke-width="0.4" fill-rule="evenodd" d="M153.6,297.6L185.7,301.7L211.9,303.7L239.5,303.8L261,302.3L273.4,237.8L275.8,228.9L278.1,222.5L282.7,216.4L289.7,211.8L299,207.5L302.5,207L303.6,208.1L291.9,173.3L267,106.4L259.7,91.1L250.9,76L242.1,65.9L236.2,61L230.3,57L223,53.5L217.2,51.4L202.5,49.5L199,51.4L193.2,55.2L183.9,62.8L181.6,65.9L178.1,73.8L174.6,92.7L172.3,110.7L166.5,164.5L157.2,241.8L152.2,297.4L153.6,297.6Z"/><path fill="#f0c938" stroke="#f0c938" stroke-width="0.4" fill-rule="evenodd" d="M154.4,289.7L185,293.6L204.7,295.3L219.1,295.7L231.4,295.6L235.8,295.1L239.7,295.4L253.3,294.6L262.9,293.3L273.4,237.8L275.8,228.9L278.1,222.5L282.7,216.4L289.7,211.8L299,207.5L302.5,207L303.6,208.1L291.9,173.3L267,106.4L259.7,91.1L250.9,76L242.1,65.9L236.2,61L230.3,57L223,53.5L217.2,51.4L202.5,49.5L199,51.4L193.2,55.2L183.9,62.8L181.6,65.9L178.1,73.8L174.6,92.7L172.3,110.7L166.5,164.5L157.2,241.8L153,289.5L154.4,289.7Z"/><path fill="#f1bd34" stroke="#f1bd34" stroke-width="0.4" fill-rule="evenodd" d="M155.1,281.8L187.2,285.9L218.2,287.8L253.6,286.1L264.7,284.4L273.4,237.8L275.8,228.9L278.1,222.5L282.7,216.4L289.7,211.8L299,207.5L302.5,207L303.6,208.1L291.9,173.3L267,106.4L259.7,91.1L250.9,76L242.1,65.9L236.2,61L230.3,57L218.6,51.8L202.5,49.5L201.3,50.1L193.2,55.2L183.9,62.8L181.6,65.9L178.1,73.8L174.6,92.7L172.3,110.7L166.5,164.5L157.2,241.8L153.7,281.5L155.1,281.8Z"/><path fill="#f2b030" stroke="#f2b030" stroke-width="0.4" fill-rule="evenodd" d="M155.8,273.9L189.4,278.1L215.7,279.8L220.3,279.8L224.1,279.2L227.5,279.5L247.2,278.1L254.5,277.4L266.4,275.5L270,254.8L273.4,237.8L275.8,228.9L278.1,222.5L282.7,216.4L289.7,211.8L299,207.5L302.5,207L303.6,208.1L291.9,173.3L267,106.4L259.7,91.1L250.9,76L242.1,65.9L236.2,61L230.3,57L218.6,51.8L202.5,49.5L201.3,50.1L193.2,55.2L183.9,62.8L181.6,65.9L178.1,73.8L174.6,92.7L172.3,110.7L166.5,164.5L157.2,241.8L154.3,273.6L155.8,273.9Z"/><path fill="#f2a12d" stroke="#f2a12d" stroke-width="0.4" fill-rule="evenodd" d="M160.8,266.6L193.1,270.5L212.9,271.8L218.2,271.3L222.6,271.7L233.5,270.5L247.6,269.7L267.9,266.9L273.4,237.8L275.8,228.9L278.1,222.5L282.7,216.4L289.7,211.8L299,207.5L302.5,207L303.6,208.1L291.9,173.3L267,106.4L259.7,91.1L250.9,76L242.1,65.9L236.2,61L230.3,57L223,53.5L217.2,51.4L202.5,49.5L199,51.4L193.2,55.2L183.9,62.8L181.6,65.9L178.1,73.8L174.6,92.7L172.3,110.7L167.7,154.4L156.1,253.2L155,265.8L160.8,266.6Z"/><path fill="#f2932a" stroke="#f2932a" stroke-width="0.4" fill-rule="evenodd" d="M157.1,258.2L190.8,262.4L203.6,263.4L210.9,263.1L216.3,263.7L247.7,261.3L269.3,258.2L274.6,233L276.9,225.3L279.2,220.7L281.6,217.6L283.9,215.5L293.2,209.9L300.1,207.2L302.5,207L303.6,208.1L291.9,173.3L267,106.4L259.7,91.1L250.9,76L242.1,65.9L236.2,61L230.3,57L218.6,51.8L202.5,49.5L201.3,50.1L193.2,55.2L183.9,62.8L181.6,65.9L178.1,73.8L174.6,92.7L172.3,110.7L166.5,164.5L157.2,241.8L155.7,258L157.1,258.2Z"/><path fill="#f18327" stroke="#f18327" stroke-width="0.4" fill-rule="evenodd" d="M157.8,249.9L176.6,252.8L208.2,255.5L220.5,255.4L236.8,254L261,251.3L271,249.5L275.8,228.9L278.1,222.5L280.4,219.1L283.9,215.5L294.3,209.3L301.3,207L302.5,207L303.6,208.1L291.9,173.3L267,106.4L259.7,91.1L250.9,76L242.1,65.9L236.2,61L230.3,57L218.6,51.8L202.5,49.5L201.3,50.1L193.2,55.2L183.9,62.8L181.6,65.9L178.1,73.8L174.6,92.7L171.2,120.4L167.7,154.4L156.4,249.6L157.8,249.9Z"/><path fill="#ef7424" stroke="#ef7424" stroke-width="0.4" fill-rule="evenodd" d="M158.6,242.2L194.1,246.6L213.1,247.3L232.1,246.2L256.7,243.5L267.7,241.8L272.9,240.4L276.9,225.3L279.2,220.7L282.7,216.4L288.5,212.5L296.7,208.3L301.3,207L302.5,207L303.6,208.1L291.9,173.3L267,106.4L259.7,91.1L250.9,76L242.1,65.9L236.2,61L230.3,57L218.6,51.8L202.5,49.5L201.3,50.1L193.2,55.2L183.9,62.8L181.6,65.9L178.1,73.8L174.6,92.7L171.2,120.4L167.7,154.4L157.2,242L158.6,242.2Z"/><path fill="#ec6420" stroke="#ec6420" stroke-width="0.4" fill-rule="evenodd" d="M159.7,234L184.4,237.2L206,239.1L228,238.5L264.3,234.1L275.1,231.1L278.1,222.5L282.7,216.4L292,210.5L299.8,207.3L301.6,204.7L302,203.4L296.3,185.9L286,157.4L267,106.4L259.7,91.1L250.9,76L242.1,65.9L236.2,61L230.3,57L218.6,51.8L202.5,49.5L201.3,50.1L193.2,55.2L183.9,62.8L181.6,65.9L178.1,73.8L174.6,92.7L171.2,120.4L167.7,154.4L158.3,233.8L159.7,234Z"/><path fill="#e9571f" stroke="#e9571f" stroke-width="0.4" fill-rule="evenodd" d="M160.8,226L185.5,229.3L210.2,230.9L229.2,230.2L260.4,226.4L265.2,225.5L270.9,224L275.6,222L280.3,218.8L283.9,215.5L291.9,206.4L297.5,199.5L299.5,195.9L291.9,173.3L267,106.4L262.6,96.7L256.7,85.8L250.9,76L242.1,65.9L231.8,57.9L220.1,52.3L215.7,51.1L202.5,49.5L194.4,54.4L183.9,62.8L181.6,65.9L178.1,73.8L174.6,92.7L171.2,120.4L167.7,154.4L159.4,225.7L160.8,226Z"/><path fill="#e64b1f" stroke="#e64b1f" stroke-width="0.4" fill-rule="evenodd" d="M161.7,217.9L190.9,221.6L216.7,222.7L228.3,222.1L256.4,218.8L264.6,217.2L272.8,214.5L278.9,210.2L291.4,196.6L295.9,190.8L297.1,188.4L287.5,161.3L267,106.4L262.6,96.7L255.3,83.2L249.4,74.1L245,68.8L240.6,64.5L230.3,57L220.1,52.3L215.7,51.1L202.5,49.5L194.4,54.4L183.9,62.8L181.6,65.9L178.1,73.8L174.6,92.7L171.2,120.4L167.7,154.4L160.3,217.7L161.7,217.9Z"/><path fill="#e3401e" stroke="#e3401e" stroke-width="0.4" fill-rule="evenodd" d="M162.5,209.6L185.8,212.7L208.9,214.5L227.6,214L252.3,211.1L261,209.6L270.1,206.9L275.2,203.8L278.8,200.4L285,193.6L294.2,182.1L294.6,180.9L293.4,177.4L267,106.4L262.6,96.7L255.3,83.2L249.4,74.1L245,68.8L240.6,64.5L230.3,57L220.1,52.3L215.7,51.1L202.5,49.5L194.4,54.4L185.1,61.7L182.8,64.1L179.3,70.7L178.1,73.8L175.8,85.4L172.3,110.7L167.7,154.4L161.1,209.4L162.5,209.6Z"/><path fill="#e13b1f" stroke="#e13b1f" stroke-width="0.4" fill-rule="evenodd" d="M164.8,201.9L193.2,205.4L211.4,206.4L230.6,205.4L253.2,202.7L261.3,201.2L269.5,198.4L275.2,194L285.5,182.7L291.6,174.6L291.9,173.4L267,106.4L262.6,96.7L253.8,80.6L250.9,76L246.5,70.5L239.1,63.3L230.3,57L220.1,52.3L215.7,51.1L202.5,49.5L194.4,54.4L185.1,61.7L182.8,64.1L179.3,70.7L177,79L174.6,92.7L162,201.5L164.8,201.9Z"/><path fill="#df361f" stroke="#df361f" stroke-width="0.4" fill-rule="evenodd" d="M164.3,193.5L195.2,197.3L214.2,198.1L235.5,196.8L257.8,193.5L266.5,190.8L271.3,187.6L274.8,184.3L281.8,176.3L288.8,167.1L289.2,165.9L267,106.4L262.6,96.7L253.8,80.6L247.9,72.2L240.6,64.5L231.8,57.9L221.6,52.9L215.7,51.1L202.5,49.5L194.4,54.4L185.1,61.7L182.8,64.1L179.3,70.7L178.1,73.8L175.8,85.4L172.3,110.7L167.7,154.4L162.9,193.3L164.3,193.5Z"/><path fill="#dd3120" stroke="#dd3120" stroke-width="0.4" fill-rule="evenodd" d="M165.4,185.4L190.1,188.6L210.4,189.9L232.7,189.2L254.3,185.9L263.5,183.3L268.5,180.1L272.1,176.7L278.1,169.9L286,159.5L286.4,158.3L267,106.4L262.6,96.7L256.7,85.8L250.9,76L245,68.8L237.7,62.1L228.9,56.2L221.6,52.9L217.2,51.4L202.5,49.5L194.4,54.4L186.3,60.7L182.8,64.1L180.4,68.1L178.1,73.8L177,79L173.5,101.5L164,185.1L165.4,185.4Z"/><path fill="#d72d20" stroke="#d72d20" stroke-width="0.4" fill-rule="evenodd" d="M166.4,177.3L192.7,180.6L214.7,181.6L230.1,181.3L242.2,179.8L254.6,177.5L262.6,174.7L266.9,171.4L277.2,160.1L283.2,152L283.6,150.8L267,106.4L262.6,96.7L255.3,83.2L250.9,76L243.5,67.3L236.2,61L228.9,56.2L221.6,52.9L217.2,51.4L202.5,49.5L194.4,54.4L186.3,60.7L182.8,64.1L180.4,68.1L178.1,73.8L177,79L173.5,101.5L165,177L166.4,177.3Z"/><path fill="#cb2c22" stroke="#cb2c22" stroke-width="0.4" fill-rule="evenodd" d="M167.4,169L192.2,172.2L214.1,173.5L222.4,173.5L234.1,172.8L251.3,169.9L259.6,167.1L264.1,163.9L273.4,153.7L280.4,144.4L280.7,143.2L265.5,102.9L261.1,93.9L253.8,80.6L249.4,74.1L243.5,67.3L236.2,61L230.3,57L218.6,51.8L202.5,49.5L195.5,53.6L188.6,58.8L183.9,62.8L181.6,65.9L178.1,73.8L174.6,92.7L171.2,120.4L166,168.8L167.4,169Z"/><path fill="#c02a23" stroke="#c02a23" stroke-width="0.4" fill-rule="evenodd" d="M168.4,161L194.7,164.3L216.6,165.6L235.8,164.5L247.9,162.3L256.6,159.5L261.2,156.3L270.6,146.1L277.5,136.9L277.8,135.7L265.5,102.9L261.1,93.9L253.8,80.6L249.4,74.1L243.5,67.3L236.2,61L230.3,57L218.6,51.8L202.5,49.5L195.5,53.6L188.6,58.8L183.9,62.8L181.6,65.9L178.1,73.8L174.6,92.7L171.2,120.4L167,160.7L168.4,161Z"/><path fill="#b42924" stroke="#b42924" stroke-width="0.4" fill-rule="evenodd" d="M177.9,154.1L200.2,156.6L211.1,157.3L231.8,156.8L244.8,154.7L253.5,152L258.2,148.8L267.6,138.6L274.5,129.3L274.9,128.1L265.5,102.9L261.1,93.9L252.3,78.2L247.9,72.2L242.1,65.9L234.7,59.9L228.9,56.2L221.6,52.9L217.2,51.4L202.5,49.5L194.4,54.4L186.3,60.7L182.8,64.1L180.4,68.1L178.1,73.8L174.6,92.7L171.2,120.4L167.9,152.7L177.9,154.1Z"/><path fill="#a72724" stroke="#a72724" stroke-width="0.4" fill-rule="evenodd" d="M170.1,144.9L187.5,147.4L207.2,148.9L219,149.3L234.1,148.5L241.9,147.1L250.4,144.4L256.5,140.1L260.7,135.6L269.2,125.3L272,120.6L265.5,102.9L255.3,83.2L249.4,74.1L245,68.8L240.6,64.5L231.8,57.9L221.6,52.9L215.7,51.1L202.5,49.5L193.2,55.2L186.3,60.7L182.8,64.1L180.4,68.1L178.1,73.8L174.6,92.7L171.2,120.4L168.7,144.7L170.1,144.9Z"/><path fill="#992423" stroke="#992423" stroke-width="0.4" fill-rule="evenodd" d="M170.9,136.8L188.3,139.2L210.1,141.1L221.6,141.2L238.9,139.5L247.4,136.8L253.5,132.5L263.7,121.2L268.1,115.4L269.4,113L264.1,99.7L253.8,80.6L247.9,72.2L242.1,65.9L231.8,57.9L221.6,52.9L215.7,51.1L202.5,49.5L194.4,54.4L183.9,62.8L181.6,65.9L178.1,73.8L174.6,92.7L171.2,120.4L169.5,136.6L170.9,136.8Z"/><path fill="#8b2222" stroke="#8b2222" stroke-width="0.4" fill-rule="evenodd" d="M184.6,130.7L215.3,133.1L229.6,132.5L235.1,131.9L242.2,130.2L246.5,128.2L250.7,125L260,114.8L265.4,107.8L266.6,105.4L265.5,102.9L261.1,93.9L252.3,78.2L247.9,72.2L243.5,67.3L233.3,58.8L227.4,55.5L218.6,51.8L202.5,49.5L193.2,55.2L186.3,60.7L182.8,64.1L179.3,70.7L177,79L174.6,92.7L170.3,128.5L184.6,130.7Z"/><path fill="#7f2020" stroke="#7f2020" stroke-width="0.4" fill-rule="evenodd" d="M172.6,120.8L200.4,124.2L216.3,124.9L230.6,124.1L238.9,122.6L243.6,120.7L249.2,116.3L260.6,102.9L263,99.1L263.2,97.8L255.3,83.2L250.9,76L245,68.8L237.7,62.1L230.3,57L220.1,52.3L215.7,51.1L202.5,49.5L194.4,54.4L185.1,61.7L182.8,64.1L179.3,70.7L177,79L174.6,92.7L171.1,120.6L172.6,120.8Z"/><path fill="#721f1f" stroke="#721f1f" stroke-width="0.4" fill-rule="evenodd" d="M173.5,112.7L196.9,115.6L214.1,116.6L225.8,116.3L238,114.1L243.4,110.9L248,106.4L256.3,96.1L259,91.4L259.1,90.2L252.3,78.2L247.9,72.2L242.1,65.9L234.7,59.9L228.9,56.2L218.6,51.8L202.5,49.5L194.4,54.4L185.1,61.7L182.8,64.1L179.3,70.7L177,79L174.6,92.7L172.1,112.4L173.5,112.7Z"/>
<path d="M200.3,562.4L303.6,462.8L303.6,30.8L200.3,130.4Z" fill="#cdcdd2" fill-opacity="0.17"/>
<path d="M303.6,462.8L303.6,30.8M200.3,562.4L303.6,462.8" stroke="#222" stroke-width="0.9" fill="none"/>
<path fill="#3e87cb" stroke="#3e87cb" stroke-width="0.4" fill-rule="evenodd" d="M202.4,521.6L225.2,523.1L243.8,525.2L268.7,529.1L310.1,536.3L332.9,541L349.5,544.9L366.1,549.8L384.7,556.3L488,456.7L471.4,448.9L452.8,438.8L440.4,431.3L430,423.9L411.3,407.1L394.8,389.5L382.3,379L363.7,356.5L357.5,347.5L353.3,340.3L343,318.6L322.3,264.8L305.7,213.8L303.6,208.1L302.5,207L300.1,207.2L295.5,208.8L283.9,215.5L281.6,217.6L279.2,220.7L276.9,225.3L273.4,237.8L270,254.8L266.5,275.2L254.9,334L247.9,379.1L240.9,412L237.5,424.5L234,434.9L227,449.9L213.1,485.5L201.5,517.3L200.3,521.5L202.4,521.6Z"/><path fill="#4290d0" stroke="#4290d0" stroke-width="0.4" fill-rule="evenodd" d="M202.4,521.6L231.4,523.7L258.3,527.4L310.1,536.3L348.8,544.7L356.6,544.4L360.3,543.6L367.6,540.7L375.9,535.4L410.8,508.1L419.8,500.4L438.2,483.8L448.2,473.6L462,457.7L466.3,451.9L468.2,448.3L467.9,447L450.7,437.6L438.3,429.9L430,423.9L421.7,416.8L409.3,405L394.8,389.5L384.4,380.9L380.3,376.8L365.8,359.1L359.6,350.7L351.3,336.3L340.9,313.6L322.3,264.8L305.7,213.8L303.6,208.1L302.5,207L300.1,207.2L295.5,208.8L283.9,215.5L281.6,217.6L279.2,220.7L276.9,225.3L273.4,237.8L270,254.8L266.5,275.2L254.9,334L247.9,379.1L240.9,412L237.5,424.5L234,434.9L227,449.9L213.1,485.5L201.5,517.3L200.3,521.5L202.4,521.6Z"/><path fill="#489bd6" stroke="#489bd6" stroke-width="0.4" fill-rule="evenodd" d="M203.2,518.5L237.8,523.2L301.6,530.4L316.7,531L325.2,530.8L335.7,529.6L342.6,527.9L349.9,525L359.8,519.9L395.1,499L417.7,481.6L427.9,472.8L436.1,463.7L446.7,449.8L450.2,444L451.7,440.4L451.9,439.1L450.9,437.7L436.2,428.5L423.8,418.7L409.3,405L394.8,389.5L382.3,379L365.8,359.1L357.5,347.5L349.2,332.2L340.9,313.6L322.3,264.8L305.7,213.8L303.6,208.1L302.5,207L300.1,207.2L295.5,208.8L283.9,215.5L281.6,217.6L279.2,220.7L276.9,225.3L273.4,237.8L270,254.8L266.5,275.2L254.9,334L247.9,379.1L240.9,412L237.5,424.5L234,434.9L227,449.9L213.1,485.5L202.6,514L201.2,518.2L203.2,518.5Z"/><path fill="#50a6dc" stroke="#50a6dc" stroke-width="0.4" fill-rule="evenodd" d="M231.6,513.4L249.9,515.6L265.3,516.9L288.9,517.9L299.3,517.9L305.7,517.4L314.5,516L323.8,513.3L334.1,509.5L378.7,489.8L390.7,482.4L407.5,470.6L416.6,462.9L423.5,454.9L433.1,441L436.3,435.1L437.6,431.4L437.7,430.2L436.6,428.8L427.9,422.3L419.6,415L409.3,405L394.8,389.5L382.3,379L365.8,359.1L357.5,347.5L349.2,332.2L340.9,313.6L322.3,264.8L305.7,213.8L303.6,208.1L302.5,207L300.1,207.2L295.5,208.8L283.9,215.5L281.6,217.6L279.2,220.7L276.9,225.3L273.4,237.8L270,254.8L266.5,275.2L254.9,334L247.9,379.1L240.9,412L237.5,424.5L234,434.9L227,449.9L213.1,485.5L205,507.5L217.9,510.8L231.6,513.4Z"/><path fill="#5ab2e0" stroke="#5ab2e0" stroke-width="0.4" fill-rule="evenodd" d="M228.9,502.1L240.9,503.9L258.2,505.3L275.4,505.2L285.8,504L305.2,500.6L314.7,498.2L339.5,490L361.5,481.7L366,479.8L378.7,472.5L395.3,461.9L403.7,455.4L410,448.6L416.8,439.3L423.4,428.8L426.1,422.8L426.4,421.6L425.7,420.1L411.3,407.1L394.8,389.5L384.4,380.9L380.3,376.8L363.7,356.5L355.4,344L345.1,323.4L338.8,308.2L322.3,264.8L305.7,213.8L303.6,208.1L302.5,207L299,207.5L294.3,209.3L287.4,213.2L282.7,216.4L278.1,222.5L274.6,233L270,254.8L266.5,275.2L254.9,334L247.9,379.1L240.9,412L237.5,424.5L234,434.9L227,449.9L209.1,496.4L218.7,499.5L228.9,502.1Z"/><path fill="#65bfe3" stroke="#65bfe3" stroke-width="0.4" fill-rule="evenodd" d="M229.4,489.9L239,491.8L249.7,492.8L256.6,492.9L265.7,491.8L281.3,489.4L302.5,484.7L319.9,481.5L351.1,472L367.3,463.9L384.8,453.4L393.6,446.9L400,440.2L407.9,429.8L414.1,420.4L416.9,414.5L417.2,413.3L416.4,411.9L409.3,405L396.8,391.5L392.7,387.6L384.4,380.9L378.2,374.4L361.6,353.7L353.3,340.3L343,318.6L324.3,270.4L318.1,252.8L305.7,213.8L303.6,208.1L302.5,207L299,207.5L294.3,209.3L287.4,213.2L282.7,216.4L278.1,222.5L274.6,233L270,254.8L266.5,275.2L254.9,334L249.1,372.6L242.1,407.2L238.6,420.7L234,434.9L227,449.9L213.2,485.2L229.4,489.9Z"/><path fill="#6fc7e2" stroke="#6fc7e2" stroke-width="0.4" fill-rule="evenodd" d="M242.3,479.2L249.1,479.4L260,477.6L287.2,474.3L328.1,466.3L342.1,462.4L354.9,456.4L372.2,447.2L380.7,441.9L385,438.7L391.6,431.9L398.7,422.7L404.9,413.4L408.4,406.3L408.7,405L408,403.7L398.9,393.7L392.7,387.6L384.4,380.9L378.2,374.4L361.6,353.7L353.3,340.3L343,318.6L324.3,270.4L318.1,252.8L305.7,213.8L303.6,208.1L302.5,207L300.1,207.2L295.5,208.8L283.9,215.5L281.6,217.6L279.2,220.7L276.9,225.3L273.4,237.8L270,254.8L266.5,275.2L254.9,334L247.9,379.1L242.1,407.2L238.6,420.7L234,434.9L227,449.9L217.7,473.7L242.3,479.2Z"/><path fill="#78cee0" stroke="#78cee0" stroke-width="0.4" fill-rule="evenodd" d="M224.3,462.4L234,464.3L240.4,464.8L280.3,462.4L296.6,460.3L326.6,454.6L333.1,452.8L343.1,449.1L349.6,446.1L365.5,437.9L376.9,430.5L382.6,424.9L389.1,416.9L397.2,405.2L401,398.1L401.3,396.9L400.8,395.4L392.7,387.6L382.3,379L367.8,361.7L359.6,350.7L351.3,336.3L343,318.6L324.3,270.4L318.1,252.8L305.7,213.8L303.6,208.1L302.5,207L299,207.5L294.3,209.3L287.4,213.2L282.7,216.4L278.1,222.5L275.8,228.9L271.1,248.9L266.5,275.2L254.9,334L249.1,372.6L243.3,402.1L239.8,416.5L235.1,431.7L232.8,437.8L227,449.9L222.4,462L224.3,462.4Z"/><path fill="#80d4dc" stroke="#80d4dc" stroke-width="0.4" fill-rule="evenodd" d="M228.8,450.8L243.6,450.1L258.8,451.2L268.1,451.2L277.8,450.9L288.2,449.9L298.9,448.5L313.6,445.8L337.5,438.4L357.8,429.8L365.1,425.6L371,421.3L377.5,414.5L383.8,406.5L390.2,397.2L393.2,391.2L393.7,388.8L392.6,387.1L384.4,380.9L380.3,376.8L363.7,356.5L355.4,344L349.2,332.2L340.9,313.6L324.3,270.4L318.1,252.8L305.7,213.8L303.6,208.1L302.5,207L299,207.5L294.3,209.3L287.4,213.2L282.7,216.4L278.1,222.5L275.8,228.9L271.1,248.9L266.5,275.2L254.9,334L249.1,372.6L243.3,402.1L239.8,416.5L235.1,431.7L232.8,437.8L226.7,450.5L228.8,450.8Z"/><path fill="#80d5d2" stroke="#80d5d2" stroke-width="0.4" fill-rule="evenodd" d="M235.2,437.5L265.3,440L284.7,439.3L302.9,437.3L306.5,436.5L323,430.9L336.1,425.7L350.3,421L357.6,417.5L362.6,414.3L367.5,409.9L373.2,403L380.2,392.5L382.8,386.5L383.6,382.9L383.6,380.3L367.8,361.7L359.6,350.7L353.3,340.3L345.1,323.4L338.8,308.2L322.3,264.8L305.7,213.8L303.6,208.1L302.5,207L299,207.5L294.3,209.3L287.4,213.2L282.7,216.4L278.1,222.5L275.8,228.9L271.1,248.9L266.5,275.2L254.9,334L249.1,372.6L244.4,396.6L238.6,420.7L233,437.3L235.2,437.5Z"/><path fill="#80d5c8" stroke="#80d5c8" stroke-width="0.4" fill-rule="evenodd" d="M238.9,426.7L266.4,429.5L285.7,428.9L295.5,427.9L299.1,427.1L316.8,421.7L347.9,409.1L353.6,406L356.7,403.9L360.8,399.3L364.1,394.7L372.4,380.6L375.7,373.4L376,372.2L375.6,371.1L363.7,356.5L357.5,347.5L351.3,336.3L345.1,323.4L338.8,308.2L322.3,264.8L305.7,213.8L303.6,208.1L302.5,207L299,207.5L294.3,209.3L287.4,213.2L282.7,216.4L278.1,222.5L275.8,228.9L271.1,248.9L266.5,275.2L254.9,334L250.2,365.5L246.8,385.1L242.1,407.2L236.9,426.4L238.9,426.7Z"/><path fill="#80d6be" stroke="#80d6be" stroke-width="0.4" fill-rule="evenodd" d="M241.9,416.6L269.5,419.3L289.1,418.7L308.1,413.4L331.3,404.9L343.4,398.9L347.9,395.6L350.2,393.4L354.2,388.8L361.8,378.4L366.3,371.4L369.2,365.4L369.2,363.3L361.6,353.7L355.4,344L349.2,332.2L343,318.6L322.3,264.8L305.7,213.8L303.6,208.1L302.5,207L299,207.5L294.3,209.3L287.4,213.2L282.7,216.4L278.1,222.5L275.8,228.9L271.1,248.9L266.5,275.2L254.9,334L247.9,379.1L243.3,402.1L239.8,416.3L241.9,416.6Z"/><path fill="#85d7b0" stroke="#85d7b0" stroke-width="0.4" fill-rule="evenodd" d="M244.2,407.2L269.8,409.5L283,409.4L287.6,408.7L300.2,405.3L326.6,395.9L333.1,392.9L338.5,389.8L341.4,387.6L344.8,384.2L349.6,378.5L356.3,369.2L360.6,362.2L362.8,357.4L362.9,355.5L357.5,347.5L353.3,340.3L347.1,327.8L340.9,313.6L322.3,264.8L305.7,213.8L303.6,208.1L302.5,207L299,207.5L294.3,209.3L287.4,213.2L282.7,216.4L278.1,222.5L275.8,228.9L271.1,248.9L266.5,275.2L254.9,334L249.1,372.6L242.2,406.9L244.2,407.2Z"/><path fill="#8ad7a2" stroke="#8ad7a2" stroke-width="0.4" fill-rule="evenodd" d="M246.2,398L272,400.2L277.4,400.3L283,399.7L296,396.3L322,386.9L328.5,383.9L333.7,380.7L339.6,375.1L351.7,359L356,351.9L357.5,348.4L357.3,346.8L353.3,340.3L347.1,327.8L338.8,308.2L322.3,264.8L305.7,213.8L303.6,208.1L302.5,207L299,207.5L294.3,209.3L287.4,213.2L282.7,216.4L278.1,222.5L275.8,228.9L271.1,248.9L266.5,275.2L254.9,334L249.1,372.6L244.2,397.8L246.2,398Z"/><path fill="#8fd893" stroke="#8fd893" stroke-width="0.4" fill-rule="evenodd" d="M248.1,389.1L271.8,390.9L279,390.8L292.4,387.4L311.1,380.8L320.3,376.9L329,371.7L334.7,366.1L345.5,352.3L350.3,345.3L352.9,340.6L352.8,339.3L345.1,323.4L340.9,313.6L324.3,270.4L318.1,252.8L305.7,213.8L303.6,208.1L302.5,207L299,207.5L294.3,209.3L287.4,213.2L282.7,216.4L278.1,222.5L275.8,228.9L271.1,248.9L266.5,275.2L254.9,334L250.2,365.5L246,388.8L248.1,389.1Z"/><path fill="#97d986" stroke="#97d986" stroke-width="0.4" fill-rule="evenodd" d="M249.8,380.2L269.3,381.7L276.6,381.4L289.4,378.5L308.3,372L317.1,368.1L323.9,363.9L329.7,358.3L343.6,341.1L348.9,332.9L348.9,331.4L340.9,313.6L324.3,270.4L318.1,252.8L305.7,213.8L303.6,208.1L302.5,207L299,207.5L294.3,209.3L287.4,213.2L282.7,216.4L278.1,222.5L275.8,228.9L271.1,248.9L266.5,275.2L254.9,334L247.8,379.9L249.8,380.2Z"/><path fill="#a1db7a" stroke="#a1db7a" stroke-width="0.4" fill-rule="evenodd" d="M251.4,371.5L268.9,372.6L282.5,370.8L286.7,369.7L303.2,364.2L312.5,360.3L319.5,356.1L325.4,350.6L337.9,335.7L345.3,325.2L345.3,324L338.8,308.2L322.3,264.8L305.7,213.8L303.6,208.1L302.5,207L299,207.5L294.3,209.3L287.4,213.2L282.7,216.4L278.1,222.5L275.8,228.9L271.1,248.9L266.5,275.2L254.9,334L249.3,371.3L251.4,371.5Z"/><path fill="#abdc6d" stroke="#abdc6d" stroke-width="0.4" fill-rule="evenodd" d="M252.8,363L265.2,363.7L280.4,361.7L285.6,360.5L301.3,355.5L310.2,351.6L316.9,347.3L322.7,341.8L334.3,328L341.9,317.6L342.1,316.4L320.2,258.9L305.7,213.8L303.6,208.1L302.5,207L300.1,207.2L295.5,208.8L283.9,215.5L281.6,217.6L279.2,220.7L276.9,225.3L274.6,233L271.1,248.9L266.5,275.2L254.9,334L250.7,362.7L252.8,363Z"/><path fill="#bbde61" stroke="#bbde61" stroke-width="0.4" fill-rule="evenodd" d="M254,354.5L262.7,354.9L279.4,352.6L296.9,347.8L306.3,343.9L313.2,339.7L319.2,334.1L332,319.3L338.8,310L339.1,308.8L320.2,258.9L305.7,213.8L303.6,208.1L302.5,207L300.1,207.2L295.5,208.8L283.9,215.5L281.6,217.6L279.2,220.7L276.9,225.3L274.6,233L271.1,248.9L266.5,275.2L254.9,334L251.9,354.3L254,354.5Z"/><path fill="#cbdf54" stroke="#cbdf54" stroke-width="0.4" fill-rule="evenodd" d="M255.2,346.2L260.7,346.2L278.8,343.4L295.5,339.1L304.7,335.2L311.2,331L317.1,325.4L329,311.7L335.9,302.5L336.2,301.2L320.2,258.9L305.7,213.8L303.6,208.1L302.5,207L300.1,207.2L295.5,208.8L283.9,215.5L281.6,217.6L279.2,220.7L276.9,225.3L274.6,233L271.1,248.9L266.5,275.2L254.9,334L253.1,345.9L255.2,346.2Z"/><path fill="#d7e04c" stroke="#d7e04c" stroke-width="0.4" fill-rule="evenodd" d="M256.6,337.4L259.1,337.5L276.7,334.7L294.1,330.5L303.3,326.6L308.2,323.4L314.1,317.8L326.1,304.2L333.1,294.9L333.3,293.7L324.3,270.4L318.1,252.8L305.7,213.8L303.6,208.1L302.5,207L300.1,207.2L295.5,208.8L283.9,215.5L281.6,217.6L279.2,220.7L276.9,225.3L274.6,233L271.1,248.9L266.5,275.2L254.9,334L254.3,337.3L256.6,337.4Z"/><path fill="#e1e046" stroke="#e1e046" stroke-width="0.4" fill-rule="evenodd" d="M256.5,328.8L267.4,327.6L289.6,322.7L297.7,320L301.8,317.9L306.5,314.7L312.3,309.1L324.2,295.4L330.2,287.3L330.4,285.8L320.2,258.9L305.7,213.8L303.6,208.1L302.5,207L300.1,207.2L295.5,208.8L283.9,215.5L281.6,217.6L279.2,220.7L276.9,225.3L274.6,233L271.1,248.9L266.5,275.2L255.9,328.8L256.5,328.8Z"/><path fill="#eadf40" stroke="#eadf40" stroke-width="0.4" fill-rule="evenodd" d="M260.3,319.7L266.5,319L288.2,314.1L296.3,311.3L300.3,309.3L303.6,307.2L310.5,300.5L321.3,287.9L327.2,279.8L327.5,278.6L318.1,252.8L305.7,213.8L303.6,208.1L302.5,207L300.1,207.2L295.5,208.8L283.9,215.5L281.6,217.6L279.2,220.7L276.9,225.3L274.6,233L271.1,248.9L266.5,275.2L259.5,310.3L257.9,319.9L260.3,319.7Z"/><path fill="#edd93d" stroke="#edd93d" stroke-width="0.4" fill-rule="evenodd" d="M260.2,311L265.5,310.4L283.9,306.4L292.5,303.7L298.8,300.6L303,297.4L308.6,291.8L318.4,280.3L324.3,272.3L324.6,271L318.1,252.8L305.7,213.8L303.6,208.1L302.5,207L300.1,207.2L295.5,208.8L283.9,215.5L281.6,217.6L279.2,220.7L276.9,225.3L273.4,237.8L270,254.8L266.5,275.2L259.5,310.3L259.4,311.1L260.2,311Z"/><path fill="#efd33b" stroke="#efd33b" stroke-width="0.4" fill-rule="evenodd" d="M263.7,302L283.1,297.8L291.3,295.1L297.3,292L302.4,287.6L307.7,281.9L316.4,271.6L321.5,264.7L321.8,263.5L307.8,220.1L303.6,208.1L302.5,207L300.1,207.2L295.5,208.8L283.9,215.5L281.6,217.6L279.2,220.7L276.9,225.3L274.6,233L271.1,248.9L266.5,275.2L261,302.3L263.7,302Z"/><path fill="#f0c938" stroke="#f0c938" stroke-width="0.4" fill-rule="evenodd" d="M263.4,293.2L282.4,289.3L290.2,286.5L294.1,284.4L299.5,280L303.8,275.5L313.6,264.1L318.8,257.2L319.2,256L307.8,220.1L303.6,208.1L302.5,207L300.1,207.2L295.5,208.8L286.2,213.9L281.6,217.6L278.1,222.5L274.6,233L271.1,248.9L262.9,293.3L263.4,293.2Z"/><path fill="#f1bd34" stroke="#f1bd34" stroke-width="0.4" fill-rule="evenodd" d="M267.2,284L275.5,282.5L281.9,280.7L287.1,278.9L292.8,275.8L297.9,271.4L302.1,266.9L311,256.6L316.3,249.7L316.7,248.5L307.8,220.1L303.6,208.1L302.5,207L300.1,207.2L295.5,208.8L286.2,213.9L281.6,217.6L278.1,222.5L275.8,228.9L273.4,237.8L264.7,284.4L267.2,284Z"/><path fill="#f2b030" stroke="#f2b030" stroke-width="0.4" fill-rule="evenodd" d="M266.7,275.5L278.5,273.2L284,271.3L290.1,268.3L298.5,260.5L308.5,249.1L313.8,242.2L314.3,240.9L307.8,220.1L303.6,208.1L302.5,207L300.1,207.2L295.5,208.8L286.2,213.9L281.6,217.6L278.1,222.5L275.8,228.9L273.4,237.8L270,254.8L266.7,275.5Z"/><path fill="#f2a12d" stroke="#f2a12d" stroke-width="0.4" fill-rule="evenodd" d="M270.6,266.5L281,263.7L288.9,259.6L298.1,250.7L311.4,234.7L311.9,233.2L307.8,220.1L303.6,208.1L302.5,207L300.1,207.2L295.5,208.8L286.2,213.9L281.6,217.6L278.1,222.5L274.6,233L268.8,261.3L267.9,266.9L270.6,266.5Z"/><path fill="#f2932a" stroke="#f2932a" stroke-width="0.4" fill-rule="evenodd" d="M271.7,257.9L280.6,255.2L284.7,253.2L287.8,251.1L297.8,241L309.1,227.2L309.6,226L307.8,220.1L303.6,208.1L302.5,207L300.1,207.2L295.5,208.8L286.2,213.9L281.6,217.6L278.1,222.5L274.6,233L269.3,258.2L271.7,257.9Z"/><path fill="#f18327" stroke="#f18327" stroke-width="0.4" fill-rule="evenodd" d="M271.4,249.4L277.7,247.6L282.1,245.7L285.3,243.6L293.4,235.7L306,220.8L307.2,218.4L303.6,208.1L302.5,207L297.8,207.9L290.9,211.2L283.9,215.5L280.4,219.1L278.1,222.5L275.8,228.9L273.4,237.8L271,249.5L271.4,249.4Z"/><path fill="#ef7424" stroke="#ef7424" stroke-width="0.4" fill-rule="evenodd" d="M274.5,240L279.5,238.1L282.9,236L287.9,231.6L296.2,222.5L304.3,212.2L304.7,210.9L303.6,208.1L302.5,207L299,207.5L293.2,209.9L285.1,214.7L281.6,217.6L278.1,222.5L275.8,228.9L272.9,240.4L274.5,240Z"/><path fill="#ec6420" stroke="#ec6420" stroke-width="0.4" fill-rule="evenodd" d="M276.5,230.6L280.4,228.5L285.5,224L291.7,217.3L299.8,207.3L292,210.5L282.7,216.4L278.1,222.5L275.1,231.1L276.5,230.6Z"/><path fill="#e9571f" stroke="#e9571f" stroke-width="0.4" fill-rule="evenodd" d="M281.6,217.7L283.7,215.6L281.6,217.7Z"/>
<path d="M200.3,562.4L200.3,130.4M200.3,130.4L303.6,30.8" stroke="#222" stroke-width="0.9" fill="none"/>
<path d="M99.2,550L99.2,118M99.2,118L202.5,18.4M202.5,18.4L488,53.5M99.2,550L384.7,585.1M384.7,585.1L488,485.5" stroke="#1e1e1e" stroke-width="2.4" fill="none" stroke-linejoin="round"/>
<path d="M99.2,521.2h-9M99.2,463.6h-9M99.2,406h-9M99.2,348.4h-9M99.2,290.8h-9M99.2,233.2h-9M99.2,175.6h-9M148.4,556.1l-5.8,5.6M196.3,561.9l-5.8,5.6M244.2,567.8l-5.8,5.6M307.4,575.6l-5.8,5.6M355.3,581.5l-5.8,5.6M113.2,551.7l-3.6,3.5M133,554.2l-3.6,3.5M161,557.6l-3.6,3.5M171.7,558.9l-3.6,3.5M180.9,560l-3.6,3.5M189,561l-3.6,3.5M272.2,571.3l-3.6,3.5M292,573.7l-3.6,3.5M320,577.1l-3.6,3.5M330.7,578.5l-3.6,3.5M339.9,579.6l-3.6,3.5M348,580.6l-3.6,3.5M384.7,585.1l8.9,1.1M410.5,560.2l8.9,1.1M436.3,535.3l8.9,1.1M462.2,510.4l8.9,1.1M488,485.5l8.9,1.1" stroke="#1e1e1e" stroke-width="2" fill="none"/>
<text x="77.5" y="531.8" font-size="29.5" text-anchor="end" fill="#262626">0.8</text>
<text x="77.5" y="474.2" font-size="29.5" text-anchor="end" fill="#262626">0.9</text>
<text x="77.5" y="416.6" font-size="29.5" text-anchor="end" fill="#262626">1</text>
<text x="77.5" y="359" font-size="29.5" text-anchor="end" fill="#262626">1.1</text>
<text x="77.5" y="301.4" font-size="29.5" text-anchor="end" fill="#262626">1.2</text>
<text x="77.5" y="243.8" font-size="29.5" text-anchor="end" fill="#262626">1.3</text>
<text x="77.5" y="186.2" font-size="29.5" text-anchor="end" fill="#262626">1.4</text>
<text x="131.8" y="598" font-size="29.5" text-anchor="middle" fill="#262626">5</text>
<text x="180.2" y="604.1" font-size="29.5" text-anchor="middle" fill="#262626">10</text>
<text x="228.4" y="610.1" font-size="29.5" text-anchor="middle" fill="#262626">20</text>
<text x="292" y="618.1" font-size="29.5" text-anchor="middle" fill="#262626">50</text>
<text x="340" y="623.6" font-size="29.5" text-anchor="middle" fill="#262626">100</text>
<text x="514.6" y="518.1" font-size="29.5" text-anchor="middle" fill="#262626">0</text>
<text x="488.6" y="543.1" font-size="29.5" text-anchor="middle" fill="#262626">4</text>
<text x="463" y="568.6" font-size="29.5" text-anchor="middle" fill="#262626">8</text>
<text x="444.3" y="593.8" font-size="29.5" text-anchor="middle" fill="#262626">12</text>
<text x="420" y="619.3" font-size="29.5" text-anchor="middle" fill="#262626">16</text>
<text transform="translate(23.5,331) rotate(-90)" font-size="31" text-anchor="middle" fill="#262626">S (M)</text>
<text x="165.5" y="655.6" font-size="32.5" fill="#262626" textLength="66" lengthAdjust="spacingAndGlyphs"><tspan font-style="italic">T</tspan> (K)</text>
<text x="431" y="642.8" font-size="33" fill="#262626" textLength="138" lengthAdjust="spacingAndGlyphs"><tspan font-style="italic">μ</tspan><tspan font-size="19" dy="8">0</tspan><tspan font-style="italic" dy="-8">H</tspan><tspan font-size="19" dy="8">[11<tspan text-decoration="overline">2</tspan>]</tspan><tspan dy="-8"> (T)</tspan></text>
<rect x="534.6" y="577.6" width="28.1" height="9.5" fill="#2d2e6e"/>
<rect x="534.6" y="568.7" width="28.1" height="9.5" fill="#2e3183"/>
<rect x="534.6" y="559.9" width="28.1" height="9.5" fill="#2e358f"/>
<rect x="534.6" y="551" width="28.1" height="9.5" fill="#2e3a94"/>
<rect x="534.6" y="542.1" width="28.1" height="9.5" fill="#2e3f98"/>
<rect x="534.6" y="533.2" width="28.1" height="9.5" fill="#2e439c"/>
<rect x="534.6" y="524.3" width="28.1" height="9.5" fill="#2e47a0"/>
<rect x="534.6" y="515.4" width="28.1" height="9.5" fill="#2e4ba3"/>
<rect x="534.6" y="506.6" width="28.1" height="9.5" fill="#2e4fa6"/>
<rect x="534.6" y="497.7" width="28.1" height="9.5" fill="#2f54a9"/>
<rect x="534.6" y="488.8" width="28.1" height="9.5" fill="#2f58ab"/>
<rect x="534.6" y="479.9" width="28.1" height="9.5" fill="#305cae"/>
<rect x="534.6" y="471" width="28.1" height="9.5" fill="#3262b3"/>
<rect x="534.6" y="462.1" width="28.1" height="9.5" fill="#3568b7"/>
<rect x="534.6" y="453.3" width="28.1" height="9.5" fill="#3771bd"/>
<rect x="534.6" y="444.4" width="28.1" height="9.5" fill="#3a7cc4"/>
<rect x="534.6" y="435.5" width="28.1" height="9.5" fill="#3e87cb"/>
<rect x="534.6" y="426.6" width="28.1" height="9.5" fill="#4290d0"/>
<rect x="534.6" y="417.7" width="28.1" height="9.5" fill="#489bd6"/>
<rect x="534.6" y="408.8" width="28.1" height="9.5" fill="#50a6dc"/>
<rect x="534.6" y="400" width="28.1" height="9.5" fill="#5ab2e0"/>
<rect x="534.6" y="391.1" width="28.1" height="9.5" fill="#65bfe3"/>
<rect x="534.6" y="382.2" width="28.1" height="9.5" fill="#6fc7e2"/>
<rect x="534.6" y="373.3" width="28.1" height="9.5" fill="#78cee0"/>
<rect x="534.6" y="364.4" width="28.1" height="9.5" fill="#80d4dc"/>
<rect x="534.6" y="355.5" width="28.1" height="9.5" fill="#80d5d2"/>
<rect x="534.6" y="346.7" width="28.1" height="9.5" fill="#80d5c8"/>
<rect x="534.6" y="337.8" width="28.1" height="9.5" fill="#80d6be"/>
<rect x="534.6" y="328.9" width="28.1" height="9.5" fill="#85d7b0"/>
<rect x="534.6" y="320" width="28.1" height="9.5" fill="#8ad7a2"/>
<rect x="534.6" y="311.1" width="28.1" height="9.5" fill="#8fd893"/>
<rect x="534.6" y="302.2" width="28.1" height="9.5" fill="#97d986"/>
<rect x="534.6" y="293.4" width="28.1" height="9.5" fill="#a1db7a"/>
<rect x="534.6" y="284.5" width="28.1" height="9.5" fill="#abdc6d"/>
<rect x="534.6" y="275.6" width="28.1" height="9.5" fill="#bbde61"/>
<rect x="534.6" y="266.7" width="28.1" height="9.5" fill="#cbdf54"/>
<rect x="534.6" y="257.8" width="28.1" height="9.5" fill="#d7e04c"/>
<rect x="534.6" y="249" width="28.1" height="9.5" fill="#e1e046"/>
<rect x="534.6" y="240.1" width="28.1" height="9.5" fill="#eadf40"/>
<rect x="534.6" y="231.2" width="28.1" height="9.5" fill="#edd93d"/>
<rect x="534.6" y="222.3" width="28.1" height="9.5" fill="#efd33b"/>
<rect x="534.6" y="213.4" width="28.1" height="9.5" fill="#f0c938"/>
<rect x="534.6" y="204.5" width="28.1" height="9.5" fill="#f1bd34"/>
<rect x="534.6" y="195.7" width="28.1" height="9.5" fill="#f2b030"/>
<rect x="534.6" y="186.8" width="28.1" height="9.5" fill="#f2a12d"/>
<rect x="534.6" y="177.9" width="28.1" height="9.5" fill="#f2932a"/>
<rect x="534.6" y="169" width="28.1" height="9.5" fill="#f18327"/>
<rect x="534.6" y="160.1" width="28.1" height="9.5" fill="#ef7424"/>
<rect x="534.6" y="151.2" width="28.1" height="9.5" fill="#ec6420"/>
<rect x="534.6" y="142.4" width="28.1" height="9.5" fill="#e9571f"/>
<rect x="534.6" y="133.5" width="28.1" height="9.5" fill="#e64b1f"/>
<rect x="534.6" y="124.6" width="28.1" height="9.5" fill="#e3401e"/>
<rect x="534.6" y="115.7" width="28.1" height="9.5" fill="#e13b1f"/>
<rect x="534.6" y="106.8" width="28.1" height="9.5" fill="#df361f"/>
<rect x="534.6" y="97.9" width="28.1" height="9.5" fill="#dd3120"/>
<rect x="534.6" y="89.1" width="28.1" height="9.5" fill="#d72d20"/>
<rect x="534.6" y="80.2" width="28.1" height="9.5" fill="#cb2c22"/>
<rect x="534.6" y="71.3" width="28.1" height="9.5" fill="#c02a23"/>
<rect x="534.6" y="62.4" width="28.1" height="9.5" fill="#b42924"/>
<rect x="534.6" y="53.5" width="28.1" height="9.5" fill="#a72724"/>
<rect x="534.6" y="44.6" width="28.1" height="9.5" fill="#992423"/>
<rect x="534.6" y="35.8" width="28.1" height="9.5" fill="#8b2222"/>
<rect x="534.6" y="26.9" width="28.1" height="9.5" fill="#7f2020"/>
<rect x="534.6" y="18" width="28.1" height="9.5" fill="#721f1f"/>
<rect x="534.6" y="18" width="28.1" height="568.5" fill="none" stroke="#555" stroke-width="0.8"/>
<path d="M562.7,18h-4" stroke="#333" stroke-width="1.2"/>
<text x="572.5" y="28.5" font-size="28.5" fill="#262626">1.4</text>
<path d="M562.7,89.1h-4" stroke="#333" stroke-width="1.2"/>
<text x="572.5" y="99.6" font-size="28.5" fill="#262626">1.3</text>
<path d="M562.7,160.1h-4" stroke="#333" stroke-width="1.2"/>
<text x="572.5" y="170.6" font-size="28.5" fill="#262626">1.2</text>
<path d="M562.7,231.2h-4" stroke="#333" stroke-width="1.2"/>
<text x="572.5" y="241.7" font-size="28.5" fill="#262626">1.1</text>
<path d="M562.7,302.2h-4" stroke="#333" stroke-width="1.2"/>
<text x="572.5" y="312.8" font-size="28.5" fill="#262626">1</text>
<path d="M562.7,373.3h-4" stroke="#333" stroke-width="1.2"/>
<text x="572.5" y="383.8" font-size="28.5" fill="#262626">0.9</text>
<path d="M562.7,444.4h-4" stroke="#333" stroke-width="1.2"/>
<text x="572.5" y="454.9" font-size="28.5" fill="#262626">0.8</text>
<path d="M562.7,515.4h-4" stroke="#333" stroke-width="1.2"/>
<text x="572.5" y="525.9" font-size="28.5" fill="#262626">0.7</text>
<path d="M562.7,586.5h-4" stroke="#333" stroke-width="1.2"/>
<text x="572.5" y="597" font-size="28.5" fill="#262626">0.6</text>
<g clip-path="url(#cliph)"><g filter="url(#cmf)"><path fill="#000000" d="M311.6 83.5h168v4h-168zM311.6 87.5h168v4h-168zM311.6 91.5h168v4h-168zM311.6 95.5h168v4h-168zM311.6 99.5h168v4h-168zM311.6 103.5h168v4h-168zM311.6 107.5h76v4h-76zM403.6 107.5h76v4h-76zM311.6 111.5h68v4h-68zM407.6 111.5h72v4h-72zM311.6 115.5h64v4h-64zM415.6 115.5h64v4h-64zM311.6 119.5h60v4h-60zM419.6 119.5h60v4h-60zM311.6 123.5h48v4h-48zM431.6 123.5h48v4h-48zM311.6 127.5h40v4h-40zM439.6 127.5h40v4h-40zM311.6 131.5h36v4h-36zM443.6 131.5h36v4h-36zM311.6 135.5h32v4h-32zM447.6 135.5h32v4h-32zM311.6 139.5h28v4h-28zM447.6 139.5h32v4h-32zM311.6 143.5h28v4h-28zM447.6 143.5h32v4h-32zM311.6 147.5h28v4h-28zM447.6 147.5h32v4h-32zM311.6 151.5h28v4h-28zM447.6 151.5h32v4h-32zM311.6 155.5h28v4h-28zM447.6 155.5h32v4h-32zM311.6 159.5h32v4h-32zM447.6 159.5h32v4h-32zM311.6 163.5h32v4h-32zM447.6 163.5h32v4h-32zM311.6 167.5h32v4h-32zM447.6 167.5h32v4h-32zM311.6 171.5h32v4h-32zM447.6 171.5h32v4h-32zM311.6 175.5h28v4h-28zM447.6 175.5h32v4h-32zM311.6 179.5h28v4h-28zM447.6 179.5h32v4h-32zM311.6 183.5h28v4h-28zM447.6 183.5h32v4h-32zM311.6 187.5h28v4h-28zM447.6 187.5h32v4h-32zM311.6 191.5h32v4h-32zM447.6 191.5h32v4h-32zM311.6 195.5h32v4h-32zM443.6 195.5h36v4h-36zM311.6 199.5h36v4h-36zM439.6 199.5h40v4h-40zM311.6 203.5h44v4h-44zM435.6 203.5h44v4h-44zM311.6 207.5h56v4h-56zM423.6 207.5h56v4h-56zM311.6 211.5h60v4h-60zM415.6 211.5h64v4h-64zM311.6 215.5h68v4h-68zM411.6 215.5h68v4h-68zM311.6 219.5h72v4h-72zM407.6 219.5h72v4h-72zM311.6 223.5h168v4h-168zM311.6 227.5h168v4h-168zM311.6 231.5h168v4h-168zM311.6 235.5h168v4h-168zM311.6 239.5h168v4h-168zM311.6 243.5h168v4h-168zM311.6 247.5h168v4h-168z"/><path fill="#030303" d="M387.6 107.5h16v4h-16zM379.6 111.5h4v4h-4zM403.6 111.5h4v4h-4zM375.6 115.5h4v4h-4zM407.6 115.5h8v4h-8zM371.6 119.5h4v4h-4zM411.6 119.5h8v4h-8zM359.6 123.5h12v4h-12zM419.6 123.5h12v4h-12zM351.6 127.5h4v4h-4zM431.6 127.5h8v4h-8zM347.6 131.5h4v4h-4zM439.6 131.5h4v4h-4zM343.6 135.5h4v4h-4zM443.6 135.5h4v4h-4zM339.6 139.5h4v4h-4zM443.6 139.5h4v4h-4zM339.6 143.5h4v4h-4zM443.6 143.5h4v4h-4zM339.6 147.5h4v4h-4zM443.6 147.5h4v4h-4zM339.6 151.5h4v4h-4zM443.6 151.5h4v4h-4zM339.6 155.5h4v4h-4zM443.6 155.5h4v4h-4zM343.6 159.5h4v4h-4zM443.6 159.5h4v4h-4zM343.6 163.5h4v4h-4zM443.6 163.5h4v4h-4zM343.6 167.5h4v4h-4zM443.6 167.5h4v4h-4zM443.6 171.5h4v4h-4zM339.6 175.5h4v4h-4zM443.6 175.5h4v4h-4zM339.6 179.5h4v4h-4zM443.6 179.5h4v4h-4zM339.6 183.5h4v4h-4zM443.6 183.5h4v4h-4zM339.6 187.5h4v4h-4zM443.6 187.5h4v4h-4zM443.6 191.5h4v4h-4zM343.6 195.5h4v4h-4zM439.6 195.5h4v4h-4zM347.6 199.5h4v4h-4zM435.6 199.5h4v4h-4zM355.6 203.5h8v4h-8zM423.6 203.5h12v4h-12zM367.6 207.5h4v4h-4zM415.6 207.5h8v4h-8zM371.6 211.5h8v4h-8zM411.6 211.5h4v4h-4zM379.6 215.5h4v4h-4zM407.6 215.5h4v4h-4zM383.6 219.5h8v4h-8zM399.6 219.5h8v4h-8z"/><path fill="#050505" d="M383.6 111.5h4v4h-4zM399.6 111.5h4v4h-4zM379.6 115.5h4v4h-4zM415.6 123.5h4v4h-4zM355.6 127.5h8v4h-8zM427.6 127.5h4v4h-4zM435.6 131.5h4v4h-4zM439.6 135.5h4v4h-4zM343.6 139.5h4v4h-4zM343.6 155.5h4v4h-4zM439.6 159.5h4v4h-4zM439.6 163.5h4v4h-4zM439.6 167.5h4v4h-4zM343.6 171.5h4v4h-4zM343.6 175.5h4v4h-4zM343.6 187.5h4v4h-4zM343.6 191.5h4v4h-4zM347.6 195.5h4v4h-4zM351.6 199.5h4v4h-4zM431.6 199.5h4v4h-4zM363.6 203.5h4v4h-4zM419.6 203.5h4v4h-4zM371.6 207.5h4v4h-4zM411.6 207.5h4v4h-4zM407.6 211.5h4v4h-4zM403.6 215.5h4v4h-4zM391.6 219.5h8v4h-8z"/><path fill="#080808" d="M387.6 111.5h4v4h-4zM375.6 119.5h4v4h-4zM371.6 123.5h4v4h-4zM423.6 127.5h4v4h-4zM351.6 131.5h4v4h-4zM343.6 143.5h4v4h-4zM343.6 147.5h4v4h-4zM343.6 151.5h4v4h-4zM439.6 171.5h4v4h-4zM343.6 179.5h4v4h-4zM343.6 183.5h4v4h-4zM439.6 191.5h4v4h-4zM435.6 195.5h4v4h-4zM355.6 199.5h4v4h-4zM367.6 203.5h4v4h-4zM415.6 203.5h4v4h-4zM383.6 215.5h4v4h-4z"/><path fill="#0b0b0b" d="M391.6 111.5h8v4h-8zM403.6 115.5h4v4h-4zM407.6 119.5h4v4h-4zM411.6 123.5h4v4h-4zM363.6 127.5h4v4h-4zM419.6 127.5h4v4h-4zM431.6 131.5h4v4h-4zM347.6 135.5h4v4h-4zM439.6 139.5h4v4h-4zM439.6 155.5h4v4h-4zM347.6 163.5h4v4h-4zM439.6 175.5h4v4h-4zM427.6 199.5h4v4h-4zM375.6 207.5h4v4h-4zM379.6 211.5h4v4h-4zM399.6 215.5h4v4h-4z"/><path fill="#0d0d0d" d="M367.6 127.5h4v4h-4zM439.6 151.5h4v4h-4zM347.6 159.5h4v4h-4zM347.6 167.5h4v4h-4zM439.6 187.5h4v4h-4zM347.6 191.5h4v4h-4zM351.6 195.5h4v4h-4zM359.6 199.5h4v4h-4zM371.6 203.5h4v4h-4z"/><path fill="#101010" d="M383.6 115.5h4v4h-4zM415.6 127.5h4v4h-4zM355.6 131.5h4v4h-4zM435.6 135.5h4v4h-4zM439.6 143.5h4v4h-4zM439.6 147.5h4v4h-4zM439.6 179.5h4v4h-4zM439.6 183.5h4v4h-4zM423.6 199.5h4v4h-4zM403.6 211.5h4v4h-4zM387.6 215.5h4v4h-4z"/><path fill="#131313" d="M375.6 123.5h4v4h-4zM435.6 163.5h4v4h-4zM347.6 171.5h4v4h-4zM363.6 199.5h4v4h-4zM411.6 203.5h4v4h-4zM407.6 207.5h4v4h-4zM395.6 215.5h4v4h-4z"/><path fill="#151515" d="M379.6 119.5h4v4h-4zM427.6 131.5h4v4h-4zM347.6 139.5h4v4h-4zM347.6 155.5h4v4h-4zM435.6 167.5h4v4h-4zM431.6 195.5h4v4h-4zM419.6 199.5h4v4h-4zM391.6 215.5h4v4h-4z"/><path fill="#181818" d="M399.6 115.5h4v4h-4zM371.6 127.5h4v4h-4zM435.6 191.5h4v4h-4zM367.6 199.5h4v4h-4z"/><path fill="#1b1b1b" d="M351.6 135.5h4v4h-4zM435.6 159.5h4v4h-4zM347.6 175.5h4v4h-4zM347.6 187.5h4v4h-4z"/><path fill="#1e1e1e" d="M407.6 123.5h4v4h-4zM359.6 131.5h4v4h-4zM347.6 151.5h4v4h-4zM355.6 195.5h4v4h-4zM415.6 199.5h4v4h-4zM375.6 203.5h4v4h-4zM383.6 211.5h4v4h-4z"/><path fill="#202020" d="M387.6 115.5h4v4h-4zM403.6 119.5h4v4h-4zM411.6 127.5h4v4h-4zM423.6 131.5h4v4h-4zM347.6 143.5h4v4h-4zM435.6 171.5h4v4h-4zM379.6 207.5h4v4h-4z"/><path fill="#232323" d="M435.6 139.5h4v4h-4zM347.6 147.5h4v4h-4zM347.6 179.5h4v4h-4zM347.6 183.5h4v4h-4z"/><path fill="#262626" d="M395.6 115.5h4v4h-4zM363.6 131.5h4v4h-4zM431.6 135.5h4v4h-4zM435.6 155.5h4v4h-4zM351.6 163.5h4v4h-4zM371.6 199.5h4v4h-4zM399.6 211.5h4v4h-4z"/><path fill="#282828" d="M391.6 115.5h4v4h-4zM351.6 191.5h4v4h-4zM427.6 195.5h4v4h-4z"/><path fill="#2b2b2b" d="M419.6 131.5h4v4h-4zM351.6 167.5h4v4h-4zM435.6 187.5h4v4h-4zM407.6 203.5h4v4h-4z"/><path fill="#2e2e2e" d="M375.6 127.5h4v4h-4zM435.6 175.5h4v4h-4zM411.6 199.5h4v4h-4z"/><path fill="#303030" d="M383.6 119.5h4v4h-4zM367.6 131.5h4v4h-4zM351.6 159.5h4v4h-4zM359.6 195.5h4v4h-4zM403.6 207.5h4v4h-4z"/><path fill="#333333" d="M379.6 123.5h4v4h-4zM415.6 131.5h4v4h-4zM387.6 211.5h4v4h-4z"/><path fill="#363636" d="M355.6 135.5h4v4h-4zM435.6 143.5h4v4h-4zM435.6 151.5h4v4h-4z"/><path fill="#383838" d="M371.6 131.5h4v4h-4zM351.6 139.5h4v4h-4zM383.6 147.5h4v4h-4zM431.6 163.5h4v4h-4zM351.6 171.5h4v4h-4zM431.6 191.5h4v4h-4zM423.6 195.5h4v4h-4zM395.6 211.5h4v4h-4z"/><path fill="#3b3b3b" d="M407.6 127.5h4v4h-4zM403.6 147.5h4v4h-4zM435.6 147.5h4v4h-4zM383.6 179.5h4v4h-4zM435.6 179.5h4v4h-4zM435.6 183.5h4v4h-4zM375.6 199.5h4v4h-4z"/><path fill="#3e3e3e" d="M399.6 119.5h4v4h-4zM431.6 167.5h4v4h-4zM403.6 179.5h4v4h-4zM391.6 211.5h4v4h-4z"/><path fill="#404040" d="M411.6 131.5h4v4h-4zM399.6 147.5h4v4h-4zM383.6 183.5h4v4h-4zM403.6 183.5h4v4h-4zM363.6 195.5h4v4h-4zM379.6 203.5h4v4h-4z"/><path fill="#434343" d="M403.6 123.5h4v4h-4zM427.6 135.5h4v4h-4zM351.6 155.5h4v4h-4zM431.6 159.5h4v4h-4zM371.6 163.5h4v4h-4zM399.6 179.5h4v4h-4zM419.6 195.5h4v4h-4zM383.6 207.5h4v4h-4z"/><path fill="#464646" d="M379.6 147.5h4v4h-4zM411.6 163.5h4v4h-4zM399.6 183.5h4v4h-4zM351.6 187.5h4v4h-4zM367.6 195.5h4v4h-4z"/><path fill="#484848" d="M375.6 131.5h4v4h-4zM383.6 151.5h4v4h-4zM403.6 151.5h4v4h-4zM415.6 163.5h4v4h-4zM379.6 179.5h4v4h-4zM415.6 195.5h4v4h-4zM407.6 199.5h4v4h-4z"/><path fill="#4b4b4b" d="M383.6 143.5h4v4h-4zM403.6 143.5h4v4h-4zM399.6 151.5h4v4h-4zM355.6 163.5h4v4h-4zM379.6 183.5h4v4h-4zM371.6 195.5h4v4h-4z"/><path fill="#4e4e4e" d="M387.6 119.5h4v4h-4zM431.6 139.5h4v4h-4zM387.6 147.5h4v4h-4zM375.6 163.5h4v4h-4zM371.6 167.5h4v4h-4zM411.6 167.5h4v4h-4zM351.6 175.5h4v4h-4zM387.6 179.5h4v4h-4zM355.6 191.5h4v4h-4zM411.6 195.5h4v4h-4z"/><path fill="#515151" d="M379.6 127.5h4v4h-4zM407.6 131.5h4v4h-4zM359.6 135.5h4v4h-4zM399.6 143.5h4v4h-4zM379.6 151.5h4v4h-4zM355.6 167.5h4v4h-4zM431.6 171.5h4v4h-4zM383.6 175.5h4v4h-4zM403.6 175.5h4v4h-4zM387.6 183.5h4v4h-4z"/><path fill="#535353" d="M351.6 143.5h4v4h-4zM379.6 143.5h4v4h-4zM395.6 147.5h4v4h-4zM387.6 151.5h4v4h-4zM367.6 163.5h4v4h-4zM407.6 163.5h4v4h-4zM375.6 167.5h4v4h-4zM395.6 179.5h4v4h-4zM375.6 195.5h4v4h-4zM403.6 203.5h4v4h-4zM399.6 207.5h4v4h-4z"/><path fill="#565656" d="M395.6 119.5h4v4h-4zM351.6 151.5h4v4h-4zM407.6 167.5h4v4h-4zM415.6 167.5h4v4h-4zM379.6 175.5h4v4h-4zM399.6 175.5h4v4h-4zM407.6 195.5h4v4h-4z"/><path fill="#595959" d="M387.6 143.5h4v4h-4zM391.6 147.5h4v4h-4zM395.6 151.5h4v4h-4zM403.6 155.5h4v4h-4zM375.6 159.5h4v4h-4zM427.6 163.5h4v4h-4zM391.6 179.5h4v4h-4zM395.6 183.5h4v4h-4zM383.6 187.5h4v4h-4zM403.6 187.5h4v4h-4zM379.6 199.5h4v4h-4z"/><path fill="#5b5b5b" d="M391.6 119.5h4v4h-4zM383.6 123.5h4v4h-4zM375.6 135.5h4v4h-4zM407.6 135.5h8v4h-8zM423.6 135.5h4v4h-4zM391.6 151.5h4v4h-4zM379.6 155.5h8v4h-8zM431.6 155.5h4v4h-4zM355.6 159.5h4v4h-4zM379.6 159.5h4v4h-4zM407.6 159.5h8v4h-8zM379.6 163.5h4v4h-4zM379.6 167.5h4v4h-4zM379.6 171.5h4v4h-4zM403.6 171.5h4v4h-4zM387.6 175.5h4v4h-4zM351.6 183.5h4v4h-4zM391.6 183.5h4v4h-4zM379.6 187.5h4v4h-4zM427.6 191.5h4v4h-4z"/><path fill="#5e5e5e" d="M379.6 131.5h4v4h-4zM371.6 135.5h4v4h-4zM379.6 139.5h4v4h-4zM403.6 139.5h4v4h-4zM395.6 143.5h4v4h-4zM351.6 147.5h4v4h-4zM407.6 147.5h4v4h-4zM399.6 155.5h4v4h-4zM371.6 159.5h4v4h-4zM403.6 159.5h4v4h-4zM419.6 163.5h4v4h-4zM367.6 167.5h4v4h-4zM427.6 167.5h4v4h-4zM407.6 171.5h4v4h-4zM395.6 175.5h4v4h-4zM351.6 179.5h4v4h-4zM407.6 179.5h4v4h-4zM399.6 187.5h4v4h-4zM431.6 187.5h4v4h-4zM407.6 191.5h4v4h-4z"/><path fill="#616161" d="M403.6 127.5h4v4h-4zM363.6 135.5h4v4h-4zM379.6 135.5h4v4h-4zM415.6 135.5h4v4h-4zM407.6 139.5h4v4h-4zM391.6 143.5h4v4h-4zM407.6 143.5h4v4h-4zM407.6 151.5h4v4h-4zM407.6 155.5h4v4h-4zM359.6 163.5h4v4h-4zM403.6 163.5h4v4h-4zM403.6 167.5h4v4h-4zM375.6 171.5h4v4h-4zM383.6 171.5h4v4h-4zM391.6 175.5h4v4h-4zM407.6 183.5h4v4h-4zM375.6 191.5h8v4h-8zM379.6 195.5h4v4h-4z"/><path fill="#636363" d="M367.6 135.5h4v4h-4zM419.6 135.5h4v4h-4zM383.6 139.5h4v4h-4zM363.6 163.5h4v4h-4zM423.6 163.5h4v4h-4zM407.6 175.5h4v4h-4zM407.6 187.5h4v4h-4zM403.6 191.5h4v4h-4zM387.6 207.5h4v4h-4z"/><path fill="#666666" d="M403.6 135.5h4v4h-4zM355.6 139.5h4v4h-4zM375.6 139.5h4v4h-4zM387.6 155.5h4v4h-4zM415.6 159.5h4v4h-4zM387.6 187.5h4v4h-4zM411.6 191.5h4v4h-4zM403.6 199.5h4v4h-4z"/><path fill="#696969" d="M399.6 139.5h4v4h-4zM375.6 155.5h4v4h-4zM383.6 159.5h4v4h-4zM427.6 159.5h4v4h-4zM359.6 167.5h4v4h-4zM419.6 167.5h4v4h-4zM355.6 171.5h4v4h-4zM399.6 171.5h4v4h-4zM411.6 171.5h4v4h-4zM431.6 175.5h4v4h-4zM403.6 195.5h4v4h-4zM383.6 203.5h4v4h-4z"/><path fill="#6b6b6b" d="M399.6 123.5h4v4h-4zM403.6 131.5h4v4h-4zM395.6 155.5h4v4h-4zM363.6 167.5h4v4h-4zM423.6 167.5h4v4h-4zM375.6 187.5h4v4h-4zM395.6 187.5h4v4h-4zM359.6 191.5h4v4h-4zM371.6 191.5h4v4h-4zM383.6 191.5h4v4h-4z"/><path fill="#6e6e6e" d="M431.6 143.5h4v4h-4zM383.6 167.5h4v4h-4zM375.6 175.5h4v4h-4zM391.6 187.5h4v4h-4zM395.6 207.5h4v4h-4z"/><path fill="#717171" d="M411.6 139.5h4v4h-4zM375.6 143.5h4v4h-4zM375.6 151.5h4v4h-4zM391.6 155.5h4v4h-4zM367.6 159.5h4v4h-4zM383.6 163.5h4v4h-4z"/><path fill="#737373" d="M383.6 135.5h4v4h-4zM387.6 139.5h4v4h-4zM375.6 147.5h4v4h-4zM431.6 151.5h4v4h-4zM359.6 159.5h4v4h-4zM399.6 159.5h4v4h-4zM371.6 171.5h4v4h-4zM387.6 171.5h4v4h-4zM375.6 179.5h4v4h-4zM375.6 183.5h4v4h-4zM415.6 191.5h4v4h-4z"/><path fill="#767676" d="M355.6 155.5h4v4h-4zM411.6 155.5h4v4h-4zM431.6 183.5h4v4h-4zM399.6 191.5h4v4h-4zM423.6 191.5h4v4h-4zM391.6 207.5h4v4h-4z"/><path fill="#797979" d="M383.6 127.5h4v4h-4zM395.6 139.5h4v4h-4zM427.6 139.5h4v4h-4zM419.6 159.5h8v4h-8zM427.6 171.5h4v4h-4zM431.6 179.5h4v4h-4zM355.6 187.5h4v4h-4zM367.6 191.5h4v4h-4z"/><path fill="#7b7b7b" d="M371.6 139.5h4v4h-4zM431.6 147.5h4v4h-4zM363.6 159.5h4v4h-4zM411.6 187.5h4v4h-4zM363.6 191.5h4v4h-4zM383.6 195.5h4v4h-4z"/><path fill="#7e7e7e" d="M391.6 139.5h4v4h-4zM399.6 167.5h4v4h-4zM395.6 171.5h4v4h-4zM415.6 171.5h4v4h-4zM419.6 191.5h4v4h-4zM383.6 199.5h4v4h-4zM399.6 203.5h4v4h-4z"/><path fill="#818181" d="M387.6 123.5h4v4h-4zM383.6 131.5h4v4h-4zM371.6 155.5h4v4h-4zM411.6 175.5h4v4h-4z"/><path fill="#848484" d="M399.6 135.5h4v4h-4zM391.6 171.5h4v4h-4z"/><path fill="#868686" d="M411.6 143.5h4v4h-4zM399.6 163.5h4v4h-4zM359.6 171.5h4v4h-4zM387.6 191.5h4v4h-4z"/><path fill="#898989" d="M411.6 151.5h4v4h-4zM427.6 155.5h4v4h-4zM387.6 159.5h4v4h-4zM367.6 171.5h4v4h-4zM355.6 175.5h4v4h-4z"/><path fill="#8c8c8c" d="M395.6 123.5h4v4h-4zM359.6 139.5h4v4h-4zM415.6 139.5h4v4h-4zM355.6 143.5h4v4h-4zM371.6 187.5h4v4h-4z"/><path fill="#8e8e8e" d="M399.6 127.5h4v4h-4zM411.6 183.5h4v4h-4zM427.6 187.5h4v4h-4z"/><path fill="#919191" d="M411.6 147.5h4v4h-4zM423.6 171.5h4v4h-4zM411.6 179.5h4v4h-4zM395.6 191.5h4v4h-4zM399.6 195.5h4v4h-4z"/><path fill="#949494" d="M355.6 151.5h4v4h-4zM415.6 155.5h4v4h-4zM363.6 171.5h4v4h-4zM419.6 171.5h4v4h-4zM371.6 175.5h4v4h-4z"/><path fill="#969696" d="M391.6 123.5h4v4h-4zM399.6 131.5h4v4h-4zM367.6 139.5h4v4h-4zM399.6 199.5h4v4h-4zM387.6 203.5h4v4h-4z"/><path fill="#999999" d="M387.6 135.5h4v4h-4zM423.6 139.5h4v4h-4zM395.6 159.5h4v4h-4zM387.6 167.5h4v4h-4zM355.6 183.5h4v4h-4zM391.6 191.5h4v4h-4z"/><path fill="#9c9c9c" d="M371.6 143.5h4v4h-4z"/><path fill="#9e9e9e" d="M363.6 139.5h4v4h-4zM419.6 139.5h4v4h-4zM355.6 147.5h4v4h-4zM359.6 155.5h4v4h-4zM427.6 175.5h4v4h-4zM355.6 179.5h4v4h-4zM415.6 187.5h4v4h-4z"/><path fill="#a1a1a1" d="M371.6 151.5h4v4h-4zM367.6 155.5h4v4h-4z"/><path fill="#a4a4a4" d="M391.6 159.5h4v4h-4zM387.6 163.5h4v4h-4z"/><path fill="#a6a6a6" d="M427.6 143.5h4v4h-4zM371.6 183.5h4v4h-4zM359.6 187.5h4v4h-4zM395.6 203.5h4v4h-4z"/><path fill="#a9a9a9" d="M395.6 135.5h4v4h-4zM423.6 155.5h4v4h-4z"/><path fill="#acacac" d="M387.6 127.5h4v4h-4zM395.6 167.5h4v4h-4zM371.6 179.5h4v4h-4zM387.6 195.5h4v4h-4z"/><path fill="#aeaeae" d="M371.6 147.5h4v4h-4zM427.6 151.5h4v4h-4zM363.6 155.5h4v4h-4zM419.6 155.5h4v4h-4zM415.6 175.5h4v4h-4zM367.6 187.5h4v4h-4z"/><path fill="#b1b1b1" d="M391.6 203.5h4v4h-4z"/><path fill="#b4b4b4" d="M391.6 135.5h4v4h-4zM423.6 187.5h4v4h-4z"/><path fill="#b7b7b7" d="M387.6 131.5h4v4h-4zM427.6 183.5h4v4h-4zM387.6 199.5h4v4h-4z"/><path fill="#b9b9b9" d="M415.6 143.5h4v4h-4zM359.6 175.5h4v4h-4z"/><path fill="#bcbcbc" d="M391.6 167.5h4v4h-4zM427.6 179.5h4v4h-4zM419.6 187.5h4v4h-4z"/><path fill="#bfbfbf" d="M427.6 147.5h4v4h-4zM395.6 163.5h4v4h-4zM363.6 187.5h4v4h-4z"/><path fill="#c1c1c1" d="M395.6 127.5h4v4h-4zM415.6 151.5h4v4h-4zM367.6 175.5h4v4h-4zM395.6 195.5h4v4h-4z"/><path fill="#c4c4c4" d="M359.6 143.5h4v4h-4z"/><path fill="#c9c9c9" d="M423.6 175.5h4v4h-4zM415.6 183.5h4v4h-4z"/><path fill="#cccccc" d="M395.6 199.5h4v4h-4z"/><path fill="#cfcfcf" d="M391.6 127.5h4v4h-4zM395.6 131.5h4v4h-4zM367.6 143.5h4v4h-4zM359.6 151.5h4v4h-4zM415.6 179.5h4v4h-4z"/><path fill="#d1d1d1" d="M415.6 147.5h4v4h-4zM391.6 163.5h4v4h-4zM419.6 175.5h4v4h-4zM391.6 195.5h4v4h-4z"/><path fill="#d4d4d4" d="M363.6 175.5h4v4h-4z"/><path fill="#d7d7d7" d="M423.6 143.5h4v4h-4zM367.6 151.5h4v4h-4zM359.6 183.5h4v4h-4z"/><path fill="#dfdfdf" d="M391.6 131.5h4v4h-4zM419.6 143.5h4v4h-4zM359.6 179.5h4v4h-4zM391.6 199.5h4v4h-4z"/><path fill="#e1e1e1" d="M363.6 143.5h4v4h-4zM359.6 147.5h4v4h-4zM423.6 151.5h4v4h-4zM367.6 183.5h4v4h-4z"/><path fill="#eaeaea" d="M419.6 151.5h4v4h-4zM367.6 179.5h4v4h-4z"/><path fill="#ececec" d="M367.6 147.5h4v4h-4zM363.6 151.5h4v4h-4zM423.6 183.5h4v4h-4z"/><path fill="#f4f4f4" d="M419.6 183.5h4v4h-4z"/><path fill="#f7f7f7" d="M423.6 179.5h4v4h-4z"/><path fill="#fafafa" d="M423.6 147.5h4v4h-4zM363.6 183.5h4v4h-4z"/><path fill="#ffffff" d="M363.6 147.5h4v4h-4zM419.6 147.5h4v4h-4zM363.6 179.5h4v4h-4zM419.6 179.5h4v4h-4z"/></g></g>
<path d="M453.4,132.4L394.5,98.4L335.6,132.4L335.6,200.4L394.5,234.4L453.4,200.4Z" fill="none" stroke="#fff" stroke-width="2.8" stroke-dasharray="12 8" stroke-dashoffset="4"/>
<path d="M433.5,166.4L414,132.6L375,132.6L355.5,166.4L375,200.2L414,200.2Z" fill="none" stroke="#f7de3e" stroke-width="2.5"/>
<circle cx="268.5" cy="266.7" r="7.9" fill="#fff" stroke="#000" stroke-width="1.9"/>
<text x="315.6" y="81.4" font-size="28"><tspan font-style="italic">T</tspan>=3.8 K, 0 T</text>
<text x="256" y="325.8" font-size="28"><tspan font-style="italic">T</tspan>=10.6 K, 4.2 T</text>
<text x="38" y="31" font-size="40" font-weight="bold">a</text>
</svg></body></html>
